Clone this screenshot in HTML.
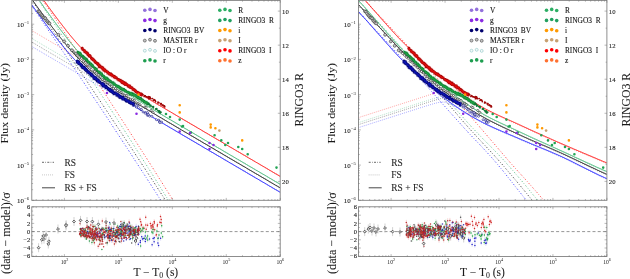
<!DOCTYPE html>
<html><head><meta charset="utf-8"><style>
html,body{margin:0;padding:0;background:#fff;width:630px;height:279px;overflow:hidden;font-family:"Liberation Serif",serif;}
svg{display:block;will-change:transform}
</style></head><body>
<svg width="630" height="279" viewBox="0 0 630 279">
<rect width="630" height="279" fill="#fff"/>
<defs><clipPath id="cm"><rect x="31.8" y="0.4" width="248.4" height="199.9"/></clipPath><clipPath id="cm2"><rect x="358.5" y="0.4" width="248.4" height="199.9"/></clipPath><clipPath id="cr"><rect x="31.8" y="206.8" width="248.4" height="49.7"/></clipPath><clipPath id="cr2"><rect x="358.5" y="206.8" width="248.4" height="49.7"/></clipPath></defs>
<g clip-path="url(#cm)"><polyline points="31.8,30.6 32.3,30.9 32.8,31.2 33.3,31.5 33.8,31.7 34.3,32.0 34.8,32.3 35.3,32.6 35.8,32.9 36.3,33.2 36.8,33.5 37.3,33.8 37.8,34.1 38.3,34.4 38.8,34.7 39.3,35.0 39.8,35.3 40.3,35.5 40.8,35.8 41.3,36.1 41.8,36.4 42.3,36.7 42.8,37.0 43.2,37.3 43.7,37.6 44.2,37.9 44.7,38.2 45.2,38.5 45.7,38.8 46.2,39.1 46.7,39.3 47.2,39.6 47.7,39.9 48.2,40.2 48.7,40.5 49.2,40.8 49.7,41.1 50.2,41.4 50.7,41.7 51.2,42.0 51.7,42.3 52.2,42.6 52.7,42.8 53.2,43.1 53.7,43.4 54.2,43.7 54.7,44.0 55.2,44.3 55.7,44.6 56.2,44.9 56.7,45.2 57.2,45.5 57.7,45.8 58.2,46.1 58.7,46.4 59.2,46.6 59.7,46.9 60.2,47.2 60.7,47.5 61.2,47.8 61.7,48.1 62.2,48.4 62.7,48.7 63.2,49.0 63.7,49.3 64.2,49.6 64.7,49.9 65.2,50.2 65.7,50.4 66.1,50.7 66.6,51.0 67.1,51.3 67.6,51.6 68.1,51.9 68.6,52.2 69.1,52.5 69.6,52.8 70.1,53.1 70.6,53.4 71.1,53.7 71.6,54.0 72.1,54.2 72.6,54.5 73.1,54.8 73.6,55.1 74.1,55.4 74.6,55.7 75.1,56.0 75.6,56.3 76.1,56.6 76.6,56.9 77.1,57.2 77.6,57.5 78.1,57.8 78.6,58.0 79.1,58.3 79.6,58.6 80.1,58.9 80.6,59.2 81.1,59.5 81.6,59.8 82.1,60.1 82.6,60.4 83.1,60.7 83.6,61.0 84.1,61.3 84.6,61.5 85.1,61.8 85.6,62.1 86.1,62.4 86.6,62.7 87.1,63.0 87.6,63.3 88.1,63.6 88.5,63.9 89.0,64.2 89.5,64.5 90.0,64.8 90.5,65.1 91.0,65.3 91.5,65.6 92.0,65.9 92.5,66.2 93.0,66.5 93.5,66.8 94.0,67.1 94.5,67.4 95.0,67.7 95.5,68.0 96.0,68.3 96.5,68.6 97.0,68.9 97.5,69.1 98.0,69.4 98.5,69.7 99.0,70.0 99.5,70.3 100.0,70.6 100.5,70.9 101.0,71.2 101.5,71.5 102.0,71.8 102.5,72.1 103.0,72.4 103.5,72.7 104.0,72.9 104.5,73.2 105.0,73.5 105.5,73.8 106.0,74.1 106.5,74.4 107.0,74.7 107.5,75.0 108.0,75.3 108.5,75.6 109.0,75.9 109.5,76.2 110.0,76.5 110.5,76.7 110.9,77.0 111.4,77.3 111.9,77.6 112.4,77.9 112.9,78.2 113.4,78.5 113.9,78.8 114.4,79.1 114.9,79.4 115.4,79.7 115.9,80.0 116.4,80.3 116.9,80.5 117.4,80.8 117.9,81.1 118.4,81.4 118.9,81.7 119.4,82.0 119.9,82.3 120.4,82.6 120.9,82.9 121.4,83.2 121.9,83.5 122.4,83.8 122.9,84.0 123.4,84.3 123.9,84.6 124.4,84.9 124.9,85.2 125.4,85.5 125.9,85.8 126.4,86.1 126.9,86.4 127.4,86.7 127.9,87.0 128.4,87.3 128.9,87.6 129.4,87.8 129.9,88.1 130.4,88.4 130.9,88.7 131.4,89.0 131.9,89.3 132.4,89.6 132.9,89.9 133.4,90.2 133.8,90.5 134.3,90.8 134.8,91.1 135.3,91.4 135.8,91.6 136.3,91.9 136.8,92.2 137.3,92.5 137.8,92.8 138.3,93.1 138.8,93.4 139.3,93.7 139.8,94.0 140.3,94.3 140.8,94.6 141.3,94.9 141.8,95.2 142.3,95.4 142.8,95.7 143.3,96.0 143.8,96.3 144.3,96.6 144.8,96.9 145.3,97.2 145.8,97.5 146.3,97.8 146.8,98.1 147.3,98.4 147.8,98.7 148.3,99.0 148.8,99.2 149.3,99.5 149.8,99.8 150.3,100.1 150.8,100.4 151.3,100.7 151.8,101.0 152.3,101.3 152.8,101.6 153.3,101.9 153.8,102.2 154.3,102.5 154.8,102.8 155.3,103.0 155.8,103.3 156.2,103.6 156.7,103.9 157.2,104.2 157.7,104.5 158.2,104.8 158.7,105.1 159.2,105.4 159.7,105.7 160.2,106.0 160.7,106.3 161.2,106.5 161.7,106.8 162.2,107.1 162.7,107.4 163.2,107.7 163.7,108.0 164.2,108.3 164.7,108.6 165.2,108.9 165.7,109.2 166.2,109.5 166.7,109.8 167.2,110.1 167.7,110.3 168.2,110.6 168.7,110.9 169.2,111.2 169.7,111.5 170.2,111.8 170.7,112.1 171.2,112.4 171.7,112.7 172.2,113.0 172.7,113.3 173.2,113.6 173.7,113.9 174.2,114.1 174.7,114.4 175.2,114.7 175.7,115.0 176.2,115.3 176.7,115.6 177.2,115.9 177.7,116.2 178.2,116.5 178.6,116.8 179.1,117.1 179.6,117.4 180.1,117.7 180.6,117.9 181.1,118.2 181.6,118.5 182.1,118.8 182.6,119.1 183.1,119.4 183.6,119.7 184.1,120.0 184.6,120.3 185.1,120.6 185.6,120.9 186.1,121.2 186.6,121.5 187.1,121.7 187.6,122.0 188.1,122.3 188.6,122.6 189.1,122.9 189.6,123.2 190.1,123.5 190.6,123.8 191.1,124.1 191.6,124.4 192.1,124.7 192.6,125.0 193.1,125.3 193.6,125.5 194.1,125.8 194.6,126.1 195.1,126.4 195.6,126.7 196.1,127.0 196.6,127.3 197.1,127.6 197.6,127.9 198.1,128.2 198.6,128.5 199.1,128.8 199.6,129.0 200.1,129.3 200.6,129.6 201.1,129.9 201.5,130.2 202.0,130.5 202.5,130.8 203.0,131.1 203.5,131.4 204.0,131.7 204.5,132.0 205.0,132.3 205.5,132.6 206.0,132.8 206.5,133.1 207.0,133.4 207.5,133.7 208.0,134.0 208.5,134.3 209.0,134.6 209.5,134.9 210.0,135.2 210.5,135.5 211.0,135.8 211.5,136.1 212.0,136.4 212.5,136.6 213.0,136.9 213.5,137.2 214.0,137.5 214.5,137.8 215.0,138.1 215.5,138.4 216.0,138.7 216.5,139.0 217.0,139.3 217.5,139.6 218.0,139.9 218.5,140.2 219.0,140.4 219.5,140.7 220.0,141.0 220.5,141.3 221.0,141.6 221.5,141.9 222.0,142.2 222.5,142.5 223.0,142.8 223.5,143.1 223.9,143.4 224.4,143.7 224.9,144.0 225.4,144.2 225.9,144.5 226.4,144.8 226.9,145.1 227.4,145.4 227.9,145.7 228.4,146.0 228.9,146.3 229.4,146.6 229.9,146.9 230.4,147.2 230.9,147.5 231.4,147.8 231.9,148.0 232.4,148.3 232.9,148.6 233.4,148.9 233.9,149.2 234.4,149.5 234.9,149.8 235.4,150.1 235.9,150.4 236.4,150.7 236.9,151.0 237.4,151.3 237.9,151.5 238.4,151.8 238.9,152.1 239.4,152.4 239.9,152.7 240.4,153.0 240.9,153.3 241.4,153.6 241.9,153.9 242.4,154.2 242.9,154.5 243.4,154.8 243.9,155.1 244.4,155.3 244.9,155.6 245.4,155.9 245.9,156.2 246.3,156.5 246.8,156.8 247.3,157.1 247.8,157.4 248.3,157.7 248.8,158.0 249.3,158.3 249.8,158.6 250.3,158.9 250.8,159.1 251.3,159.4 251.8,159.7 252.3,160.0 252.8,160.3 253.3,160.6 253.8,160.9 254.3,161.2 254.8,161.5 255.3,161.8 255.8,162.1 256.3,162.4 256.8,162.7 257.3,162.9 257.8,163.2 258.3,163.5 258.8,163.8 259.3,164.1 259.8,164.4 260.3,164.7 260.8,165.0 261.3,165.3 261.8,165.6 262.3,165.9 262.8,166.2 263.3,166.5 263.8,166.7 264.3,167.0 264.8,167.3 265.3,167.6 265.8,167.9 266.3,168.2 266.8,168.5 267.3,168.8 267.8,169.1 268.3,169.4 268.8,169.7 269.2,170.0 269.7,170.3 270.2,170.5 270.7,170.8 271.2,171.1 271.7,171.4 272.2,171.7 272.7,172.0 273.2,172.3 273.7,172.6 274.2,172.9 274.7,173.2 275.2,173.5 275.7,173.8 276.2,174.0 276.7,174.3 277.2,174.6 277.7,174.9 278.2,175.2 278.7,175.5 279.2,175.8 279.7,176.1 280.2,176.4" fill="none" stroke="#ff1010" stroke-width="0.8" stroke-dasharray="0.8 1.3" opacity="0.6"/>
<polyline points="31.8,-15.9 32.3,-15.2 32.8,-14.5 33.3,-13.7 33.8,-13.0 34.3,-12.3 34.8,-11.5 35.3,-10.8 35.8,-10.1 36.3,-9.4 36.8,-8.6 37.3,-7.9 37.8,-7.2 38.3,-6.4 38.8,-5.7 39.3,-5.0 39.8,-4.2 40.3,-3.5 40.8,-2.8 41.3,-2.0 41.8,-1.3 42.3,-0.6 42.8,0.2 43.2,0.9 43.7,1.6 44.2,2.4 44.7,3.1 45.2,3.8 45.7,4.6 46.2,5.3 46.7,6.0 47.2,6.8 47.7,7.5 48.2,8.2 48.7,9.0 49.2,9.7 49.7,10.5 50.2,11.2 50.7,11.9 51.2,12.7 51.7,13.4 52.2,14.1 52.7,14.9 53.2,15.6 53.7,16.4 54.2,17.1 54.7,17.8 55.2,18.6 55.7,19.3 56.2,20.1 56.7,20.8 57.2,21.5 57.7,22.3 58.2,23.0 58.7,23.8 59.2,24.5 59.7,25.2 60.2,26.0 60.7,26.7 61.2,27.5 61.7,28.2 62.2,29.0 62.7,29.7 63.2,30.4 63.7,31.2 64.2,31.9 64.7,32.7 65.2,33.4 65.7,34.2 66.1,34.9 66.6,35.7 67.1,36.4 67.6,37.1 68.1,37.9 68.6,38.6 69.1,39.4 69.6,40.1 70.1,40.9 70.6,41.6 71.1,42.4 71.6,43.1 72.1,43.9 72.6,44.6 73.1,45.4 73.6,46.1 74.1,46.9 74.6,47.6 75.1,48.3 75.6,49.1 76.1,49.8 76.6,50.6 77.1,51.3 77.6,52.1 78.1,52.8 78.6,53.6 79.1,54.3 79.6,55.1 80.1,55.8 80.6,56.6 81.1,57.4 81.6,58.1 82.1,58.9 82.6,59.6 83.1,60.4 83.6,61.1 84.1,61.9 84.6,62.6 85.1,63.4 85.6,64.1 86.1,64.9 86.6,65.6 87.1,66.4 87.6,67.1 88.1,67.9 88.5,68.7 89.0,69.4 89.5,70.2 90.0,70.9 90.5,71.7 91.0,72.4 91.5,73.2 92.0,73.9 92.5,74.7 93.0,75.5 93.5,76.2 94.0,77.0 94.5,77.7 95.0,78.5 95.5,79.3 96.0,80.0 96.5,80.8 97.0,81.5 97.5,82.3 98.0,83.0 98.5,83.8 99.0,84.6 99.5,85.3 100.0,86.1 100.5,86.8 101.0,87.6 101.5,88.4 102.0,89.1 102.5,89.9 103.0,90.7 103.5,91.4 104.0,92.2 104.5,92.9 105.0,93.7 105.5,94.5 106.0,95.2 106.5,96.0 107.0,96.8 107.5,97.5 108.0,98.3 108.5,99.1 109.0,99.8 109.5,100.6 110.0,101.3 110.5,102.1 110.9,102.9 111.4,103.6 111.9,104.4 112.4,105.2 112.9,105.9 113.4,106.7 113.9,107.5 114.4,108.2 114.9,109.0 115.4,109.8 115.9,110.6 116.4,111.3 116.9,112.1 117.4,112.9 117.9,113.6 118.4,114.4 118.9,115.2 119.4,115.9 119.9,116.7 120.4,117.5 120.9,118.2 121.4,119.0 121.9,119.8 122.4,120.6 122.9,121.3 123.4,122.1 123.9,122.9 124.4,123.6 124.9,124.4 125.4,125.2 125.9,126.0 126.4,126.7 126.9,127.5 127.4,128.3 127.9,129.1 128.4,129.8 128.9,130.6 129.4,131.4 129.9,132.2 130.4,132.9 130.9,133.7 131.4,134.5 131.9,135.3 132.4,136.0 132.9,136.8 133.4,137.6 133.8,138.4 134.3,139.1 134.8,139.9 135.3,140.7 135.8,141.5 136.3,142.2 136.8,143.0 137.3,143.8 137.8,144.6 138.3,145.4 138.8,146.1 139.3,146.9 139.8,147.7 140.3,148.5 140.8,149.3 141.3,150.0 141.8,150.8 142.3,151.6 142.8,152.4 143.3,153.2 143.8,153.9 144.3,154.7 144.8,155.5 145.3,156.3 145.8,157.1 146.3,157.9 146.8,158.6 147.3,159.4 147.8,160.2 148.3,161.0 148.8,161.8 149.3,162.6 149.8,163.3 150.3,164.1 150.8,164.9 151.3,165.7 151.8,166.5 152.3,167.3 152.8,168.0 153.3,168.8 153.8,169.6 154.3,170.4 154.8,171.2 155.3,172.0 155.8,172.8 156.2,173.5 156.7,174.3 157.2,175.1 157.7,175.9 158.2,176.7 158.7,177.5 159.2,178.3 159.7,179.1 160.2,179.9 160.7,180.6 161.2,181.4 161.7,182.2 162.2,183.0 162.7,183.8 163.2,184.6 163.7,185.4 164.2,186.2 164.7,187.0 165.2,187.8 165.7,188.6 166.2,189.3 166.7,190.1 167.2,190.9 167.7,191.7 168.2,192.5 168.7,193.3 169.2,194.1 169.7,194.9 170.2,195.7 170.7,196.5 171.2,197.3 171.7,198.1 172.2,198.9 172.7,199.7 173.2,200.5 173.7,201.2 174.2,202.0 174.7,202.8 175.2,203.6 175.7,204.4 176.2,205.2 176.7,206.0 177.2,206.8 177.7,207.6 178.2,208.4 178.6,209.2 179.1,210.0 179.6,210.8 180.1,211.6 180.6,212.4 181.1,213.2 181.6,214.0 182.1,214.8 182.6,215.6 183.1,216.4 183.6,217.2 184.1,218.0 184.6,218.8 185.1,219.6 185.6,220.4 186.1,221.2 186.6,222.0 187.1,222.8 187.6,223.6 188.1,224.4 188.6,225.2 189.1,226.0 189.6,226.8 190.1,227.6 190.6,228.4 191.1,229.2 191.6,230.0 192.1,230.8 192.6,231.7 193.1,232.5 193.6,233.3 194.1,234.1 194.6,234.9 195.1,235.7 195.6,236.5 196.1,237.3 196.6,238.1 197.1,238.9 197.6,239.7 198.1,240.5 198.6,241.3 199.1,242.1 199.6,242.9 200.1,243.7 200.6,244.6 201.1,245.4 201.5,246.2 202.0,247.0 202.5,247.8 203.0,248.6 203.5,249.4 204.0,250.2 204.5,251.0 205.0,251.8 205.5,252.6 206.0,253.5 206.5,254.3 207.0,255.1 207.5,255.9 208.0,256.7 208.5,257.5 209.0,258.3 209.5,259.1 210.0,260.0 210.5,260.8 211.0,261.6 211.5,262.4 212.0,263.2 212.5,264.0 213.0,264.8 213.5,265.6 214.0,266.5 214.5,267.3 215.0,268.1 215.5,268.9 216.0,269.7 216.5,270.5 217.0,271.4 217.5,272.2 218.0,273.0 218.5,273.8 219.0,274.6 219.5,275.4 220.0,276.3 220.5,277.1 221.0,277.9 221.5,278.7 222.0,279.5 222.5,280.3 223.0,281.2 223.5,282.0 223.9,282.8 224.4,283.6 224.9,284.4 225.4,285.3 225.9,286.1 226.4,286.9 226.9,287.7 227.4,288.5 227.9,289.4 228.4,290.2 228.9,291.0 229.4,291.8 229.9,292.6 230.4,293.5 230.9,294.3 231.4,295.1 231.9,295.9 232.4,296.8 232.9,297.6 233.4,298.4 233.9,299.2 234.4,300.1 234.9,300.9 235.4,301.7 235.9,302.5 236.4,303.4 236.9,304.2 237.4,305.0 237.9,305.8 238.4,306.7 238.9,307.5 239.4,308.3 239.9,309.1 240.4,310.0 240.9,310.8 241.4,311.6 241.9,312.4 242.4,313.3 242.9,314.1 243.4,314.9 243.9,315.8 244.4,316.6 244.9,317.4 245.4,318.3 245.9,319.1 246.3,319.9 246.8,320.7 247.3,321.6 247.8,322.4 248.3,323.2 248.8,324.1 249.3,324.9 249.8,325.7 250.3,326.6 250.8,327.4 251.3,328.2 251.8,329.1 252.3,329.9 252.8,330.7 253.3,331.6 253.8,332.4 254.3,333.2 254.8,334.1 255.3,334.9 255.8,335.7 256.3,336.6 256.8,337.4 257.3,338.2 257.8,339.1 258.3,339.9 258.8,340.7 259.3,341.6 259.8,342.4 260.3,343.2 260.8,344.1 261.3,344.9 261.8,345.8 262.3,346.6 262.8,347.4 263.3,348.3 263.8,349.1 264.3,349.9 264.8,350.8 265.3,351.6 265.8,352.5 266.3,353.3 266.8,354.1 267.3,355.0 267.8,355.8 268.3,356.7 268.8,357.5 269.2,358.3 269.7,359.2 270.2,360.0 270.7,360.9 271.2,361.7 271.7,362.5 272.2,363.4 272.7,364.2 273.2,365.1 273.7,365.9 274.2,366.8 274.7,367.6 275.2,368.4 275.7,369.3 276.2,370.1 276.7,371.0 277.2,371.8 277.7,372.7 278.2,373.5 278.7,374.4 279.2,375.2 279.7,376.0 280.2,376.9" fill="none" stroke="#ff1010" stroke-width="0.95" stroke-dasharray="1.3 1.9 0.7 1.9" opacity="0.85"/>
<polyline points="31.8,38.5 32.3,38.8 32.8,39.1 33.3,39.4 33.8,39.6 34.3,39.9 34.8,40.2 35.3,40.5 35.8,40.8 36.3,41.1 36.8,41.4 37.3,41.7 37.8,42.0 38.3,42.3 38.8,42.6 39.3,42.9 39.8,43.2 40.3,43.4 40.8,43.7 41.3,44.0 41.8,44.3 42.3,44.6 42.8,44.9 43.2,45.2 43.7,45.5 44.2,45.8 44.7,46.1 45.2,46.4 45.7,46.7 46.2,47.0 46.7,47.2 47.2,47.5 47.7,47.8 48.2,48.1 48.7,48.4 49.2,48.7 49.7,49.0 50.2,49.3 50.7,49.6 51.2,49.9 51.7,50.2 52.2,50.5 52.7,50.7 53.2,51.0 53.7,51.3 54.2,51.6 54.7,51.9 55.2,52.2 55.7,52.5 56.2,52.8 56.7,53.1 57.2,53.4 57.7,53.7 58.2,54.0 58.7,54.3 59.2,54.5 59.7,54.8 60.2,55.1 60.7,55.4 61.2,55.7 61.7,56.0 62.2,56.3 62.7,56.6 63.2,56.9 63.7,57.2 64.2,57.5 64.7,57.8 65.2,58.1 65.7,58.3 66.1,58.6 66.6,58.9 67.1,59.2 67.6,59.5 68.1,59.8 68.6,60.1 69.1,60.4 69.6,60.7 70.1,61.0 70.6,61.3 71.1,61.6 71.6,61.9 72.1,62.1 72.6,62.4 73.1,62.7 73.6,63.0 74.1,63.3 74.6,63.6 75.1,63.9 75.6,64.2 76.1,64.5 76.6,64.8 77.1,65.1 77.6,65.4 78.1,65.7 78.6,65.9 79.1,66.2 79.6,66.5 80.1,66.8 80.6,67.1 81.1,67.4 81.6,67.7 82.1,68.0 82.6,68.3 83.1,68.6 83.6,68.9 84.1,69.2 84.6,69.4 85.1,69.7 85.6,70.0 86.1,70.3 86.6,70.6 87.1,70.9 87.6,71.2 88.1,71.5 88.5,71.8 89.0,72.1 89.5,72.4 90.0,72.7 90.5,73.0 91.0,73.2 91.5,73.5 92.0,73.8 92.5,74.1 93.0,74.4 93.5,74.7 94.0,75.0 94.5,75.3 95.0,75.6 95.5,75.9 96.0,76.2 96.5,76.5 97.0,76.8 97.5,77.0 98.0,77.3 98.5,77.6 99.0,77.9 99.5,78.2 100.0,78.5 100.5,78.8 101.0,79.1 101.5,79.4 102.0,79.7 102.5,80.0 103.0,80.3 103.5,80.6 104.0,80.8 104.5,81.1 105.0,81.4 105.5,81.7 106.0,82.0 106.5,82.3 107.0,82.6 107.5,82.9 108.0,83.2 108.5,83.5 109.0,83.8 109.5,84.1 110.0,84.4 110.5,84.6 110.9,84.9 111.4,85.2 111.9,85.5 112.4,85.8 112.9,86.1 113.4,86.4 113.9,86.7 114.4,87.0 114.9,87.3 115.4,87.6 115.9,87.9 116.4,88.2 116.9,88.4 117.4,88.7 117.9,89.0 118.4,89.3 118.9,89.6 119.4,89.9 119.9,90.2 120.4,90.5 120.9,90.8 121.4,91.1 121.9,91.4 122.4,91.7 122.9,91.9 123.4,92.2 123.9,92.5 124.4,92.8 124.9,93.1 125.4,93.4 125.9,93.7 126.4,94.0 126.9,94.3 127.4,94.6 127.9,94.9 128.4,95.2 128.9,95.5 129.4,95.7 129.9,96.0 130.4,96.3 130.9,96.6 131.4,96.9 131.9,97.2 132.4,97.5 132.9,97.8 133.4,98.1 133.8,98.4 134.3,98.7 134.8,99.0 135.3,99.3 135.8,99.5 136.3,99.8 136.8,100.1 137.3,100.4 137.8,100.7 138.3,101.0 138.8,101.3 139.3,101.6 139.8,101.9 140.3,102.2 140.8,102.5 141.3,102.8 141.8,103.1 142.3,103.3 142.8,103.6 143.3,103.9 143.8,104.2 144.3,104.5 144.8,104.8 145.3,105.1 145.8,105.4 146.3,105.7 146.8,106.0 147.3,106.3 147.8,106.6 148.3,106.9 148.8,107.1 149.3,107.4 149.8,107.7 150.3,108.0 150.8,108.3 151.3,108.6 151.8,108.9 152.3,109.2 152.8,109.5 153.3,109.8 153.8,110.1 154.3,110.4 154.8,110.7 155.3,110.9 155.8,111.2 156.2,111.5 156.7,111.8 157.2,112.1 157.7,112.4 158.2,112.7 158.7,113.0 159.2,113.3 159.7,113.6 160.2,113.9 160.7,114.2 161.2,114.4 161.7,114.7 162.2,115.0 162.7,115.3 163.2,115.6 163.7,115.9 164.2,116.2 164.7,116.5 165.2,116.8 165.7,117.1 166.2,117.4 166.7,117.7 167.2,118.0 167.7,118.2 168.2,118.5 168.7,118.8 169.2,119.1 169.7,119.4 170.2,119.7 170.7,120.0 171.2,120.3 171.7,120.6 172.2,120.9 172.7,121.2 173.2,121.5 173.7,121.8 174.2,122.0 174.7,122.3 175.2,122.6 175.7,122.9 176.2,123.2 176.7,123.5 177.2,123.8 177.7,124.1 178.2,124.4 178.6,124.7 179.1,125.0 179.6,125.3 180.1,125.6 180.6,125.8 181.1,126.1 181.6,126.4 182.1,126.7 182.6,127.0 183.1,127.3 183.6,127.6 184.1,127.9 184.6,128.2 185.1,128.5 185.6,128.8 186.1,129.1 186.6,129.4 187.1,129.6 187.6,129.9 188.1,130.2 188.6,130.5 189.1,130.8 189.6,131.1 190.1,131.4 190.6,131.7 191.1,132.0 191.6,132.3 192.1,132.6 192.6,132.9 193.1,133.2 193.6,133.4 194.1,133.7 194.6,134.0 195.1,134.3 195.6,134.6 196.1,134.9 196.6,135.2 197.1,135.5 197.6,135.8 198.1,136.1 198.6,136.4 199.1,136.7 199.6,136.9 200.1,137.2 200.6,137.5 201.1,137.8 201.5,138.1 202.0,138.4 202.5,138.7 203.0,139.0 203.5,139.3 204.0,139.6 204.5,139.9 205.0,140.2 205.5,140.5 206.0,140.7 206.5,141.0 207.0,141.3 207.5,141.6 208.0,141.9 208.5,142.2 209.0,142.5 209.5,142.8 210.0,143.1 210.5,143.4 211.0,143.7 211.5,144.0 212.0,144.3 212.5,144.5 213.0,144.8 213.5,145.1 214.0,145.4 214.5,145.7 215.0,146.0 215.5,146.3 216.0,146.6 216.5,146.9 217.0,147.2 217.5,147.5 218.0,147.8 218.5,148.1 219.0,148.3 219.5,148.6 220.0,148.9 220.5,149.2 221.0,149.5 221.5,149.8 222.0,150.1 222.5,150.4 223.0,150.7 223.5,151.0 223.9,151.3 224.4,151.6 224.9,151.9 225.4,152.1 225.9,152.4 226.4,152.7 226.9,153.0 227.4,153.3 227.9,153.6 228.4,153.9 228.9,154.2 229.4,154.5 229.9,154.8 230.4,155.1 230.9,155.4 231.4,155.7 231.9,155.9 232.4,156.2 232.9,156.5 233.4,156.8 233.9,157.1 234.4,157.4 234.9,157.7 235.4,158.0 235.9,158.3 236.4,158.6 236.9,158.9 237.4,159.2 237.9,159.4 238.4,159.7 238.9,160.0 239.4,160.3 239.9,160.6 240.4,160.9 240.9,161.2 241.4,161.5 241.9,161.8 242.4,162.1 242.9,162.4 243.4,162.7 243.9,163.0 244.4,163.2 244.9,163.5 245.4,163.8 245.9,164.1 246.3,164.4 246.8,164.7 247.3,165.0 247.8,165.3 248.3,165.6 248.8,165.9 249.3,166.2 249.8,166.5 250.3,166.8 250.8,167.0 251.3,167.3 251.8,167.6 252.3,167.9 252.8,168.2 253.3,168.5 253.8,168.8 254.3,169.1 254.8,169.4 255.3,169.7 255.8,170.0 256.3,170.3 256.8,170.6 257.3,170.8 257.8,171.1 258.3,171.4 258.8,171.7 259.3,172.0 259.8,172.3 260.3,172.6 260.8,172.9 261.3,173.2 261.8,173.5 262.3,173.8 262.8,174.1 263.3,174.4 263.8,174.6 264.3,174.9 264.8,175.2 265.3,175.5 265.8,175.8 266.3,176.1 266.8,176.4 267.3,176.7 267.8,177.0 268.3,177.3 268.8,177.6 269.2,177.9 269.7,178.2 270.2,178.4 270.7,178.7 271.2,179.0 271.7,179.3 272.2,179.6 272.7,179.9 273.2,180.2 273.7,180.5 274.2,180.8 274.7,181.1 275.2,181.4 275.7,181.7 276.2,181.9 276.7,182.2 277.2,182.5 277.7,182.8 278.2,183.1 278.7,183.4 279.2,183.7 279.7,184.0 280.2,184.3" fill="none" stroke="#3cb371" stroke-width="0.8" stroke-dasharray="0.8 1.3" opacity="0.6"/>
<polyline points="31.8,-9.5 32.3,-8.8 32.8,-8.0 33.3,-7.3 33.8,-6.6 34.3,-5.9 34.8,-5.1 35.3,-4.4 35.8,-3.7 36.3,-2.9 36.8,-2.2 37.3,-1.5 37.8,-0.7 38.3,-0.0 38.8,0.7 39.3,1.4 39.8,2.2 40.3,2.9 40.8,3.6 41.3,4.4 41.8,5.1 42.3,5.8 42.8,6.6 43.2,7.3 43.7,8.0 44.2,8.8 44.7,9.5 45.2,10.3 45.7,11.0 46.2,11.7 46.7,12.5 47.2,13.2 47.7,13.9 48.2,14.7 48.7,15.4 49.2,16.1 49.7,16.9 50.2,17.6 50.7,18.4 51.2,19.1 51.7,19.8 52.2,20.6 52.7,21.3 53.2,22.1 53.7,22.8 54.2,23.5 54.7,24.3 55.2,25.0 55.7,25.8 56.2,26.5 56.7,27.2 57.2,28.0 57.7,28.7 58.2,29.5 58.7,30.2 59.2,30.9 59.7,31.7 60.2,32.4 60.7,33.2 61.2,33.9 61.7,34.7 62.2,35.4 62.7,36.1 63.2,36.9 63.7,37.6 64.2,38.4 64.7,39.1 65.2,39.9 65.7,40.6 66.1,41.4 66.6,42.1 67.1,42.9 67.6,43.6 68.1,44.4 68.6,45.1 69.1,45.8 69.6,46.6 70.1,47.3 70.6,48.1 71.1,48.8 71.6,49.6 72.1,50.3 72.6,51.1 73.1,51.8 73.6,52.6 74.1,53.3 74.6,54.1 75.1,54.8 75.6,55.6 76.1,56.3 76.6,57.1 77.1,57.8 77.6,58.6 78.1,59.4 78.6,60.1 79.1,60.9 79.6,61.6 80.1,62.4 80.6,63.1 81.1,63.9 81.6,64.6 82.1,65.4 82.6,66.1 83.1,66.9 83.6,67.6 84.1,68.4 84.6,69.2 85.1,69.9 85.6,70.7 86.1,71.4 86.6,72.2 87.1,72.9 87.6,73.7 88.1,74.5 88.5,75.2 89.0,76.0 89.5,76.7 90.0,77.5 90.5,78.2 91.0,79.0 91.5,79.8 92.0,80.5 92.5,81.3 93.0,82.0 93.5,82.8 94.0,83.6 94.5,84.3 95.0,85.1 95.5,85.9 96.0,86.6 96.5,87.4 97.0,88.1 97.5,88.9 98.0,89.7 98.5,90.4 99.0,91.2 99.5,92.0 100.0,92.7 100.5,93.5 101.0,94.2 101.5,95.0 102.0,95.8 102.5,96.5 103.0,97.3 103.5,98.1 104.0,98.8 104.5,99.6 105.0,100.4 105.5,101.1 106.0,101.9 106.5,102.7 107.0,103.4 107.5,104.2 108.0,105.0 108.5,105.7 109.0,106.5 109.5,107.3 110.0,108.1 110.5,108.8 110.9,109.6 111.4,110.4 111.9,111.1 112.4,111.9 112.9,112.7 113.4,113.4 113.9,114.2 114.4,115.0 114.9,115.8 115.4,116.5 115.9,117.3 116.4,118.1 116.9,118.8 117.4,119.6 117.9,120.4 118.4,121.2 118.9,121.9 119.4,122.7 119.9,123.5 120.4,124.3 120.9,125.0 121.4,125.8 121.9,126.6 122.4,127.4 122.9,128.1 123.4,128.9 123.9,129.7 124.4,130.5 124.9,131.2 125.4,132.0 125.9,132.8 126.4,133.6 126.9,134.4 127.4,135.1 127.9,135.9 128.4,136.7 128.9,137.5 129.4,138.3 129.9,139.0 130.4,139.8 130.9,140.6 131.4,141.4 131.9,142.2 132.4,142.9 132.9,143.7 133.4,144.5 133.8,145.3 134.3,146.1 134.8,146.8 135.3,147.6 135.8,148.4 136.3,149.2 136.8,150.0 137.3,150.8 137.8,151.5 138.3,152.3 138.8,153.1 139.3,153.9 139.8,154.7 140.3,155.5 140.8,156.3 141.3,157.0 141.8,157.8 142.3,158.6 142.8,159.4 143.3,160.2 143.8,161.0 144.3,161.8 144.8,162.5 145.3,163.3 145.8,164.1 146.3,164.9 146.8,165.7 147.3,166.5 147.8,167.3 148.3,168.1 148.8,168.9 149.3,169.6 149.8,170.4 150.3,171.2 150.8,172.0 151.3,172.8 151.8,173.6 152.3,174.4 152.8,175.2 153.3,176.0 153.8,176.8 154.3,177.6 154.8,178.3 155.3,179.1 155.8,179.9 156.2,180.7 156.7,181.5 157.2,182.3 157.7,183.1 158.2,183.9 158.7,184.7 159.2,185.5 159.7,186.3 160.2,187.1 160.7,187.9 161.2,188.7 161.7,189.5 162.2,190.3 162.7,191.1 163.2,191.9 163.7,192.7 164.2,193.5 164.7,194.3 165.2,195.1 165.7,195.9 166.2,196.7 166.7,197.5 167.2,198.3 167.7,199.1 168.2,199.9 168.7,200.7 169.2,201.5 169.7,202.3 170.2,203.1 170.7,203.9 171.2,204.7 171.7,205.5 172.2,206.3 172.7,207.1 173.2,207.9 173.7,208.7 174.2,209.5 174.7,210.3 175.2,211.1 175.7,211.9 176.2,212.7 176.7,213.5 177.2,214.3 177.7,215.1 178.2,215.9 178.6,216.7 179.1,217.5 179.6,218.3 180.1,219.1 180.6,219.9 181.1,220.7 181.6,221.5 182.1,222.4 182.6,223.2 183.1,224.0 183.6,224.8 184.1,225.6 184.6,226.4 185.1,227.2 185.6,228.0 186.1,228.8 186.6,229.6 187.1,230.4 187.6,231.3 188.1,232.1 188.6,232.9 189.1,233.7 189.6,234.5 190.1,235.3 190.6,236.1 191.1,236.9 191.6,237.7 192.1,238.6 192.6,239.4 193.1,240.2 193.6,241.0 194.1,241.8 194.6,242.6 195.1,243.4 195.6,244.2 196.1,245.1 196.6,245.9 197.1,246.7 197.6,247.5 198.1,248.3 198.6,249.1 199.1,250.0 199.6,250.8 200.1,251.6 200.6,252.4 201.1,253.2 201.5,254.0 202.0,254.9 202.5,255.7 203.0,256.5 203.5,257.3 204.0,258.1 204.5,258.9 205.0,259.8 205.5,260.6 206.0,261.4 206.5,262.2 207.0,263.0 207.5,263.9 208.0,264.7 208.5,265.5 209.0,266.3 209.5,267.2 210.0,268.0 210.5,268.8 211.0,269.6 211.5,270.4 212.0,271.3 212.5,272.1 213.0,272.9 213.5,273.7 214.0,274.6 214.5,275.4 215.0,276.2 215.5,277.0 216.0,277.9 216.5,278.7 217.0,279.5 217.5,280.3 218.0,281.2 218.5,282.0 219.0,282.8 219.5,283.6 220.0,284.5 220.5,285.3 221.0,286.1 221.5,286.9 222.0,287.8 222.5,288.6 223.0,289.4 223.5,290.3 223.9,291.1 224.4,291.9 224.9,292.7 225.4,293.6 225.9,294.4 226.4,295.2 226.9,296.1 227.4,296.9 227.9,297.7 228.4,298.6 228.9,299.4 229.4,300.2 229.9,301.1 230.4,301.9 230.9,302.7 231.4,303.6 231.9,304.4 232.4,305.2 232.9,306.1 233.4,306.9 233.9,307.7 234.4,308.6 234.9,309.4 235.4,310.2 235.9,311.1 236.4,311.9 236.9,312.7 237.4,313.6 237.9,314.4 238.4,315.2 238.9,316.1 239.4,316.9 239.9,317.8 240.4,318.6 240.9,319.4 241.4,320.3 241.9,321.1 242.4,322.0 242.9,322.8 243.4,323.6 243.9,324.5 244.4,325.3 244.9,326.2 245.4,327.0 245.9,327.8 246.3,328.7 246.8,329.5 247.3,330.4 247.8,331.2 248.3,332.0 248.8,332.9 249.3,333.7 249.8,334.6 250.3,335.4 250.8,336.3 251.3,337.1 251.8,337.9 252.3,338.8 252.8,339.6 253.3,340.5 253.8,341.3 254.3,342.2 254.8,343.0 255.3,343.9 255.8,344.7 256.3,345.5 256.8,346.4 257.3,347.2 257.8,348.1 258.3,348.9 258.8,349.8 259.3,350.6 259.8,351.5 260.3,352.3 260.8,353.2 261.3,354.0 261.8,354.9 262.3,355.7 262.8,356.6 263.3,357.4 263.8,358.3 264.3,359.1 264.8,360.0 265.3,360.8 265.8,361.7 266.3,362.5 266.8,363.4 267.3,364.2 267.8,365.1 268.3,365.9 268.8,366.8 269.2,367.6 269.7,368.5 270.2,369.3 270.7,370.2 271.2,371.1 271.7,371.9 272.2,372.8 272.7,373.6 273.2,374.5 273.7,375.3 274.2,376.2 274.7,377.0 275.2,377.9 275.7,378.8 276.2,379.6 276.7,380.5 277.2,381.3 277.7,382.2 278.2,383.0 278.7,383.9 279.2,384.8 279.7,385.6 280.2,386.5" fill="none" stroke="#3cb371" stroke-width="0.95" stroke-dasharray="1.3 1.9 0.7 1.9" opacity="0.85"/>
<polyline points="31.8,42.1 32.3,42.4 32.8,42.7 33.3,43.0 33.8,43.2 34.3,43.5 34.8,43.8 35.3,44.1 35.8,44.4 36.3,44.7 36.8,45.0 37.3,45.3 37.8,45.6 38.3,45.9 38.8,46.2 39.3,46.5 39.8,46.8 40.3,47.0 40.8,47.3 41.3,47.6 41.8,47.9 42.3,48.2 42.8,48.5 43.2,48.8 43.7,49.1 44.2,49.4 44.7,49.7 45.2,50.0 45.7,50.3 46.2,50.6 46.7,50.8 47.2,51.1 47.7,51.4 48.2,51.7 48.7,52.0 49.2,52.3 49.7,52.6 50.2,52.9 50.7,53.2 51.2,53.5 51.7,53.8 52.2,54.1 52.7,54.3 53.2,54.6 53.7,54.9 54.2,55.2 54.7,55.5 55.2,55.8 55.7,56.1 56.2,56.4 56.7,56.7 57.2,57.0 57.7,57.3 58.2,57.6 58.7,57.9 59.2,58.1 59.7,58.4 60.2,58.7 60.7,59.0 61.2,59.3 61.7,59.6 62.2,59.9 62.7,60.2 63.2,60.5 63.7,60.8 64.2,61.1 64.7,61.4 65.2,61.7 65.7,61.9 66.1,62.2 66.6,62.5 67.1,62.8 67.6,63.1 68.1,63.4 68.6,63.7 69.1,64.0 69.6,64.3 70.1,64.6 70.6,64.9 71.1,65.2 71.6,65.5 72.1,65.7 72.6,66.0 73.1,66.3 73.6,66.6 74.1,66.9 74.6,67.2 75.1,67.5 75.6,67.8 76.1,68.1 76.6,68.4 77.1,68.7 77.6,69.0 78.1,69.3 78.6,69.5 79.1,69.8 79.6,70.1 80.1,70.4 80.6,70.7 81.1,71.0 81.6,71.3 82.1,71.6 82.6,71.9 83.1,72.2 83.6,72.5 84.1,72.8 84.6,73.0 85.1,73.3 85.6,73.6 86.1,73.9 86.6,74.2 87.1,74.5 87.6,74.8 88.1,75.1 88.5,75.4 89.0,75.7 89.5,76.0 90.0,76.3 90.5,76.6 91.0,76.8 91.5,77.1 92.0,77.4 92.5,77.7 93.0,78.0 93.5,78.3 94.0,78.6 94.5,78.9 95.0,79.2 95.5,79.5 96.0,79.8 96.5,80.1 97.0,80.4 97.5,80.6 98.0,80.9 98.5,81.2 99.0,81.5 99.5,81.8 100.0,82.1 100.5,82.4 101.0,82.7 101.5,83.0 102.0,83.3 102.5,83.6 103.0,83.9 103.5,84.2 104.0,84.4 104.5,84.7 105.0,85.0 105.5,85.3 106.0,85.6 106.5,85.9 107.0,86.2 107.5,86.5 108.0,86.8 108.5,87.1 109.0,87.4 109.5,87.7 110.0,88.0 110.5,88.2 110.9,88.5 111.4,88.8 111.9,89.1 112.4,89.4 112.9,89.7 113.4,90.0 113.9,90.3 114.4,90.6 114.9,90.9 115.4,91.2 115.9,91.5 116.4,91.8 116.9,92.0 117.4,92.3 117.9,92.6 118.4,92.9 118.9,93.2 119.4,93.5 119.9,93.8 120.4,94.1 120.9,94.4 121.4,94.7 121.9,95.0 122.4,95.3 122.9,95.5 123.4,95.8 123.9,96.1 124.4,96.4 124.9,96.7 125.4,97.0 125.9,97.3 126.4,97.6 126.9,97.9 127.4,98.2 127.9,98.5 128.4,98.8 128.9,99.1 129.4,99.3 129.9,99.6 130.4,99.9 130.9,100.2 131.4,100.5 131.9,100.8 132.4,101.1 132.9,101.4 133.4,101.7 133.8,102.0 134.3,102.3 134.8,102.6 135.3,102.9 135.8,103.1 136.3,103.4 136.8,103.7 137.3,104.0 137.8,104.3 138.3,104.6 138.8,104.9 139.3,105.2 139.8,105.5 140.3,105.8 140.8,106.1 141.3,106.4 141.8,106.7 142.3,106.9 142.8,107.2 143.3,107.5 143.8,107.8 144.3,108.1 144.8,108.4 145.3,108.7 145.8,109.0 146.3,109.3 146.8,109.6 147.3,109.9 147.8,110.2 148.3,110.5 148.8,110.7 149.3,111.0 149.8,111.3 150.3,111.6 150.8,111.9 151.3,112.2 151.8,112.5 152.3,112.8 152.8,113.1 153.3,113.4 153.8,113.7 154.3,114.0 154.8,114.3 155.3,114.5 155.8,114.8 156.2,115.1 156.7,115.4 157.2,115.7 157.7,116.0 158.2,116.3 158.7,116.6 159.2,116.9 159.7,117.2 160.2,117.5 160.7,117.8 161.2,118.0 161.7,118.3 162.2,118.6 162.7,118.9 163.2,119.2 163.7,119.5 164.2,119.8 164.7,120.1 165.2,120.4 165.7,120.7 166.2,121.0 166.7,121.3 167.2,121.6 167.7,121.8 168.2,122.1 168.7,122.4 169.2,122.7 169.7,123.0 170.2,123.3 170.7,123.6 171.2,123.9 171.7,124.2 172.2,124.5 172.7,124.8 173.2,125.1 173.7,125.4 174.2,125.6 174.7,125.9 175.2,126.2 175.7,126.5 176.2,126.8 176.7,127.1 177.2,127.4 177.7,127.7 178.2,128.0 178.6,128.3 179.1,128.6 179.6,128.9 180.1,129.2 180.6,129.4 181.1,129.7 181.6,130.0 182.1,130.3 182.6,130.6 183.1,130.9 183.6,131.2 184.1,131.5 184.6,131.8 185.1,132.1 185.6,132.4 186.1,132.7 186.6,133.0 187.1,133.2 187.6,133.5 188.1,133.8 188.6,134.1 189.1,134.4 189.6,134.7 190.1,135.0 190.6,135.3 191.1,135.6 191.6,135.9 192.1,136.2 192.6,136.5 193.1,136.8 193.6,137.0 194.1,137.3 194.6,137.6 195.1,137.9 195.6,138.2 196.1,138.5 196.6,138.8 197.1,139.1 197.6,139.4 198.1,139.7 198.6,140.0 199.1,140.3 199.6,140.5 200.1,140.8 200.6,141.1 201.1,141.4 201.5,141.7 202.0,142.0 202.5,142.3 203.0,142.6 203.5,142.9 204.0,143.2 204.5,143.5 205.0,143.8 205.5,144.1 206.0,144.3 206.5,144.6 207.0,144.9 207.5,145.2 208.0,145.5 208.5,145.8 209.0,146.1 209.5,146.4 210.0,146.7 210.5,147.0 211.0,147.3 211.5,147.6 212.0,147.9 212.5,148.1 213.0,148.4 213.5,148.7 214.0,149.0 214.5,149.3 215.0,149.6 215.5,149.9 216.0,150.2 216.5,150.5 217.0,150.8 217.5,151.1 218.0,151.4 218.5,151.7 219.0,151.9 219.5,152.2 220.0,152.5 220.5,152.8 221.0,153.1 221.5,153.4 222.0,153.7 222.5,154.0 223.0,154.3 223.5,154.6 223.9,154.9 224.4,155.2 224.9,155.5 225.4,155.7 225.9,156.0 226.4,156.3 226.9,156.6 227.4,156.9 227.9,157.2 228.4,157.5 228.9,157.8 229.4,158.1 229.9,158.4 230.4,158.7 230.9,159.0 231.4,159.3 231.9,159.5 232.4,159.8 232.9,160.1 233.4,160.4 233.9,160.7 234.4,161.0 234.9,161.3 235.4,161.6 235.9,161.9 236.4,162.2 236.9,162.5 237.4,162.8 237.9,163.0 238.4,163.3 238.9,163.6 239.4,163.9 239.9,164.2 240.4,164.5 240.9,164.8 241.4,165.1 241.9,165.4 242.4,165.7 242.9,166.0 243.4,166.3 243.9,166.6 244.4,166.8 244.9,167.1 245.4,167.4 245.9,167.7 246.3,168.0 246.8,168.3 247.3,168.6 247.8,168.9 248.3,169.2 248.8,169.5 249.3,169.8 249.8,170.1 250.3,170.4 250.8,170.6 251.3,170.9 251.8,171.2 252.3,171.5 252.8,171.8 253.3,172.1 253.8,172.4 254.3,172.7 254.8,173.0 255.3,173.3 255.8,173.6 256.3,173.9 256.8,174.2 257.3,174.4 257.8,174.7 258.3,175.0 258.8,175.3 259.3,175.6 259.8,175.9 260.3,176.2 260.8,176.5 261.3,176.8 261.8,177.1 262.3,177.4 262.8,177.7 263.3,178.0 263.8,178.2 264.3,178.5 264.8,178.8 265.3,179.1 265.8,179.4 266.3,179.7 266.8,180.0 267.3,180.3 267.8,180.6 268.3,180.9 268.8,181.2 269.2,181.5 269.7,181.8 270.2,182.0 270.7,182.3 271.2,182.6 271.7,182.9 272.2,183.2 272.7,183.5 273.2,183.8 273.7,184.1 274.2,184.4 274.7,184.7 275.2,185.0 275.7,185.3 276.2,185.5 276.7,185.8 277.2,186.1 277.7,186.4 278.2,186.7 278.7,187.0 279.2,187.3 279.7,187.6 280.2,187.9" fill="none" stroke="#111111" stroke-width="0.8" stroke-dasharray="0.8 1.3" opacity="0.6"/>
<polyline points="31.8,0.2 32.3,0.9 32.8,1.6 33.3,2.4 33.8,3.1 34.3,3.8 34.8,4.5 35.3,5.3 35.8,6.0 36.3,6.7 36.8,7.4 37.3,8.2 37.8,8.9 38.3,9.6 38.8,10.3 39.3,11.1 39.8,11.8 40.3,12.5 40.8,13.2 41.3,14.0 41.8,14.7 42.3,15.4 42.8,16.1 43.2,16.9 43.7,17.6 44.2,18.3 44.7,19.1 45.2,19.8 45.7,20.5 46.2,21.2 46.7,22.0 47.2,22.7 47.7,23.4 48.2,24.2 48.7,24.9 49.2,25.6 49.7,26.3 50.2,27.1 50.7,27.8 51.2,28.5 51.7,29.3 52.2,30.0 52.7,30.7 53.2,31.5 53.7,32.2 54.2,32.9 54.7,33.6 55.2,34.4 55.7,35.1 56.2,35.8 56.7,36.6 57.2,37.3 57.7,38.0 58.2,38.8 58.7,39.5 59.2,40.2 59.7,41.0 60.2,41.7 60.7,42.4 61.2,43.2 61.7,43.9 62.2,44.6 62.7,45.4 63.2,46.1 63.7,46.8 64.2,47.6 64.7,48.3 65.2,49.0 65.7,49.8 66.1,50.5 66.6,51.2 67.1,52.0 67.6,52.7 68.1,53.4 68.6,54.2 69.1,54.9 69.6,55.7 70.1,56.4 70.6,57.1 71.1,57.9 71.6,58.6 72.1,59.3 72.6,60.1 73.1,60.8 73.6,61.5 74.1,62.3 74.6,63.0 75.1,63.8 75.6,64.5 76.1,65.2 76.6,66.0 77.1,66.7 77.6,67.4 78.1,68.2 78.6,68.9 79.1,69.7 79.6,70.4 80.1,71.1 80.6,71.9 81.1,72.6 81.6,73.4 82.1,74.1 82.6,74.8 83.1,75.6 83.6,76.3 84.1,77.1 84.6,77.8 85.1,78.5 85.6,79.3 86.1,80.0 86.6,80.8 87.1,81.5 87.6,82.2 88.1,83.0 88.5,83.7 89.0,84.5 89.5,85.2 90.0,86.0 90.5,86.7 91.0,87.4 91.5,88.2 92.0,88.9 92.5,89.7 93.0,90.4 93.5,91.2 94.0,91.9 94.5,92.6 95.0,93.4 95.5,94.1 96.0,94.9 96.5,95.6 97.0,96.4 97.5,97.1 98.0,97.9 98.5,98.6 99.0,99.3 99.5,100.1 100.0,100.8 100.5,101.6 101.0,102.3 101.5,103.1 102.0,103.8 102.5,104.6 103.0,105.3 103.5,106.1 104.0,106.8 104.5,107.5 105.0,108.3 105.5,109.0 106.0,109.8 106.5,110.5 107.0,111.3 107.5,112.0 108.0,112.8 108.5,113.5 109.0,114.3 109.5,115.0 110.0,115.8 110.5,116.5 110.9,117.3 111.4,118.0 111.9,118.8 112.4,119.5 112.9,120.3 113.4,121.0 113.9,121.8 114.4,122.5 114.9,123.3 115.4,124.0 115.9,124.8 116.4,125.5 116.9,126.3 117.4,127.0 117.9,127.8 118.4,128.5 118.9,129.3 119.4,130.0 119.9,130.8 120.4,131.5 120.9,132.3 121.4,133.0 121.9,133.8 122.4,134.5 122.9,135.3 123.4,136.0 123.9,136.8 124.4,137.5 124.9,138.3 125.4,139.0 125.9,139.8 126.4,140.6 126.9,141.3 127.4,142.1 127.9,142.8 128.4,143.6 128.9,144.3 129.4,145.1 129.9,145.8 130.4,146.6 130.9,147.3 131.4,148.1 131.9,148.9 132.4,149.6 132.9,150.4 133.4,151.1 133.8,151.9 134.3,152.6 134.8,153.4 135.3,154.1 135.8,154.9 136.3,155.7 136.8,156.4 137.3,157.2 137.8,157.9 138.3,158.7 138.8,159.4 139.3,160.2 139.8,161.0 140.3,161.7 140.8,162.5 141.3,163.2 141.8,164.0 142.3,164.8 142.8,165.5 143.3,166.3 143.8,167.0 144.3,167.8 144.8,168.5 145.3,169.3 145.8,170.1 146.3,170.8 146.8,171.6 147.3,172.3 147.8,173.1 148.3,173.9 148.8,174.6 149.3,175.4 149.8,176.2 150.3,176.9 150.8,177.7 151.3,178.4 151.8,179.2 152.3,180.0 152.8,180.7 153.3,181.5 153.8,182.2 154.3,183.0 154.8,183.8 155.3,184.5 155.8,185.3 156.2,186.1 156.7,186.8 157.2,187.6 157.7,188.3 158.2,189.1 158.7,189.9 159.2,190.6 159.7,191.4 160.2,192.2 160.7,192.9 161.2,193.7 161.7,194.5 162.2,195.2 162.7,196.0 163.2,196.8 163.7,197.5 164.2,198.3 164.7,199.1 165.2,199.8 165.7,200.6 166.2,201.4 166.7,202.1 167.2,202.9 167.7,203.7 168.2,204.4 168.7,205.2 169.2,206.0 169.7,206.7 170.2,207.5 170.7,208.3 171.2,209.0 171.7,209.8 172.2,210.6 172.7,211.3 173.2,212.1 173.7,212.9 174.2,213.6 174.7,214.4 175.2,215.2 175.7,215.9 176.2,216.7 176.7,217.5 177.2,218.2 177.7,219.0 178.2,219.8 178.6,220.6 179.1,221.3 179.6,222.1 180.1,222.9 180.6,223.6 181.1,224.4 181.6,225.2 182.1,225.9 182.6,226.7 183.1,227.5 183.6,228.3 184.1,229.0 184.6,229.8 185.1,230.6 185.6,231.4 186.1,232.1 186.6,232.9 187.1,233.7 187.6,234.4 188.1,235.2 188.6,236.0 189.1,236.8 189.6,237.5 190.1,238.3 190.6,239.1 191.1,239.9 191.6,240.6 192.1,241.4 192.6,242.2 193.1,243.0 193.6,243.7 194.1,244.5 194.6,245.3 195.1,246.1 195.6,246.8 196.1,247.6 196.6,248.4 197.1,249.2 197.6,249.9 198.1,250.7 198.6,251.5 199.1,252.3 199.6,253.0 200.1,253.8 200.6,254.6 201.1,255.4 201.5,256.1 202.0,256.9 202.5,257.7 203.0,258.5 203.5,259.3 204.0,260.0 204.5,260.8 205.0,261.6 205.5,262.4 206.0,263.1 206.5,263.9 207.0,264.7 207.5,265.5 208.0,266.3 208.5,267.0 209.0,267.8 209.5,268.6 210.0,269.4 210.5,270.2 211.0,270.9 211.5,271.7 212.0,272.5 212.5,273.3 213.0,274.1 213.5,274.8 214.0,275.6 214.5,276.4 215.0,277.2 215.5,278.0 216.0,278.8 216.5,279.5 217.0,280.3 217.5,281.1 218.0,281.9 218.5,282.7 219.0,283.4 219.5,284.2 220.0,285.0 220.5,285.8 221.0,286.6 221.5,287.4 222.0,288.1 222.5,288.9 223.0,289.7 223.5,290.5 223.9,291.3 224.4,292.1 224.9,292.9 225.4,293.6 225.9,294.4 226.4,295.2 226.9,296.0 227.4,296.8 227.9,297.6 228.4,298.3 228.9,299.1 229.4,299.9 229.9,300.7 230.4,301.5 230.9,302.3 231.4,303.1 231.9,303.9 232.4,304.6 232.9,305.4 233.4,306.2 233.9,307.0 234.4,307.8 234.9,308.6 235.4,309.4 235.9,310.2 236.4,310.9 236.9,311.7 237.4,312.5 237.9,313.3 238.4,314.1 238.9,314.9 239.4,315.7 239.9,316.5 240.4,317.3 240.9,318.0 241.4,318.8 241.9,319.6 242.4,320.4 242.9,321.2 243.4,322.0 243.9,322.8 244.4,323.6 244.9,324.4 245.4,325.2 245.9,325.9 246.3,326.7 246.8,327.5 247.3,328.3 247.8,329.1 248.3,329.9 248.8,330.7 249.3,331.5 249.8,332.3 250.3,333.1 250.8,333.9 251.3,334.7 251.8,335.5 252.3,336.2 252.8,337.0 253.3,337.8 253.8,338.6 254.3,339.4 254.8,340.2 255.3,341.0 255.8,341.8 256.3,342.6 256.8,343.4 257.3,344.2 257.8,345.0 258.3,345.8 258.8,346.6 259.3,347.4 259.8,348.2 260.3,349.0 260.8,349.8 261.3,350.6 261.8,351.3 262.3,352.1 262.8,352.9 263.3,353.7 263.8,354.5 264.3,355.3 264.8,356.1 265.3,356.9 265.8,357.7 266.3,358.5 266.8,359.3 267.3,360.1 267.8,360.9 268.3,361.7 268.8,362.5 269.2,363.3 269.7,364.1 270.2,364.9 270.7,365.7 271.2,366.5 271.7,367.3 272.2,368.1 272.7,368.9 273.2,369.7 273.7,370.5 274.2,371.3 274.7,372.1 275.2,372.9 275.7,373.7 276.2,374.5 276.7,375.3 277.2,376.1 277.7,376.9 278.2,377.7 278.7,378.5 279.2,379.3 279.7,380.1 280.2,380.9" fill="none" stroke="#111111" stroke-width="0.95" stroke-dasharray="1.3 1.9 0.7 1.9" opacity="0.85"/>
<polyline points="31.8,46.5 32.3,46.8 32.8,47.1 33.3,47.4 33.8,47.6 34.3,47.9 34.8,48.2 35.3,48.5 35.8,48.8 36.3,49.1 36.8,49.4 37.3,49.7 37.8,50.0 38.3,50.3 38.8,50.6 39.3,50.9 39.8,51.2 40.3,51.4 40.8,51.7 41.3,52.0 41.8,52.3 42.3,52.6 42.8,52.9 43.2,53.2 43.7,53.5 44.2,53.8 44.7,54.1 45.2,54.4 45.7,54.7 46.2,55.0 46.7,55.2 47.2,55.5 47.7,55.8 48.2,56.1 48.7,56.4 49.2,56.7 49.7,57.0 50.2,57.3 50.7,57.6 51.2,57.9 51.7,58.2 52.2,58.5 52.7,58.7 53.2,59.0 53.7,59.3 54.2,59.6 54.7,59.9 55.2,60.2 55.7,60.5 56.2,60.8 56.7,61.1 57.2,61.4 57.7,61.7 58.2,62.0 58.7,62.3 59.2,62.5 59.7,62.8 60.2,63.1 60.7,63.4 61.2,63.7 61.7,64.0 62.2,64.3 62.7,64.6 63.2,64.9 63.7,65.2 64.2,65.5 64.7,65.8 65.2,66.1 65.7,66.3 66.1,66.6 66.6,66.9 67.1,67.2 67.6,67.5 68.1,67.8 68.6,68.1 69.1,68.4 69.6,68.7 70.1,69.0 70.6,69.3 71.1,69.6 71.6,69.9 72.1,70.1 72.6,70.4 73.1,70.7 73.6,71.0 74.1,71.3 74.6,71.6 75.1,71.9 75.6,72.2 76.1,72.5 76.6,72.8 77.1,73.1 77.6,73.4 78.1,73.7 78.6,73.9 79.1,74.2 79.6,74.5 80.1,74.8 80.6,75.1 81.1,75.4 81.6,75.7 82.1,76.0 82.6,76.3 83.1,76.6 83.6,76.9 84.1,77.2 84.6,77.4 85.1,77.7 85.6,78.0 86.1,78.3 86.6,78.6 87.1,78.9 87.6,79.2 88.1,79.5 88.5,79.8 89.0,80.1 89.5,80.4 90.0,80.7 90.5,81.0 91.0,81.2 91.5,81.5 92.0,81.8 92.5,82.1 93.0,82.4 93.5,82.7 94.0,83.0 94.5,83.3 95.0,83.6 95.5,83.9 96.0,84.2 96.5,84.5 97.0,84.8 97.5,85.0 98.0,85.3 98.5,85.6 99.0,85.9 99.5,86.2 100.0,86.5 100.5,86.8 101.0,87.1 101.5,87.4 102.0,87.7 102.5,88.0 103.0,88.3 103.5,88.6 104.0,88.8 104.5,89.1 105.0,89.4 105.5,89.7 106.0,90.0 106.5,90.3 107.0,90.6 107.5,90.9 108.0,91.2 108.5,91.5 109.0,91.8 109.5,92.1 110.0,92.4 110.5,92.6 110.9,92.9 111.4,93.2 111.9,93.5 112.4,93.8 112.9,94.1 113.4,94.4 113.9,94.7 114.4,95.0 114.9,95.3 115.4,95.6 115.9,95.9 116.4,96.2 116.9,96.4 117.4,96.7 117.9,97.0 118.4,97.3 118.9,97.6 119.4,97.9 119.9,98.2 120.4,98.5 120.9,98.8 121.4,99.1 121.9,99.4 122.4,99.7 122.9,99.9 123.4,100.2 123.9,100.5 124.4,100.8 124.9,101.1 125.4,101.4 125.9,101.7 126.4,102.0 126.9,102.3 127.4,102.6 127.9,102.9 128.4,103.2 128.9,103.5 129.4,103.7 129.9,104.0 130.4,104.3 130.9,104.6 131.4,104.9 131.9,105.2 132.4,105.5 132.9,105.8 133.4,106.1 133.8,106.4 134.3,106.7 134.8,107.0 135.3,107.3 135.8,107.5 136.3,107.8 136.8,108.1 137.3,108.4 137.8,108.7 138.3,109.0 138.8,109.3 139.3,109.6 139.8,109.9 140.3,110.2 140.8,110.5 141.3,110.8 141.8,111.1 142.3,111.3 142.8,111.6 143.3,111.9 143.8,112.2 144.3,112.5 144.8,112.8 145.3,113.1 145.8,113.4 146.3,113.7 146.8,114.0 147.3,114.3 147.8,114.6 148.3,114.9 148.8,115.1 149.3,115.4 149.8,115.7 150.3,116.0 150.8,116.3 151.3,116.6 151.8,116.9 152.3,117.2 152.8,117.5 153.3,117.8 153.8,118.1 154.3,118.4 154.8,118.7 155.3,118.9 155.8,119.2 156.2,119.5 156.7,119.8 157.2,120.1 157.7,120.4 158.2,120.7 158.7,121.0 159.2,121.3 159.7,121.6 160.2,121.9 160.7,122.2 161.2,122.4 161.7,122.7 162.2,123.0 162.7,123.3 163.2,123.6 163.7,123.9 164.2,124.2 164.7,124.5 165.2,124.8 165.7,125.1 166.2,125.4 166.7,125.7 167.2,126.0 167.7,126.2 168.2,126.5 168.7,126.8 169.2,127.1 169.7,127.4 170.2,127.7 170.7,128.0 171.2,128.3 171.7,128.6 172.2,128.9 172.7,129.2 173.2,129.5 173.7,129.8 174.2,130.0 174.7,130.3 175.2,130.6 175.7,130.9 176.2,131.2 176.7,131.5 177.2,131.8 177.7,132.1 178.2,132.4 178.6,132.7 179.1,133.0 179.6,133.3 180.1,133.6 180.6,133.8 181.1,134.1 181.6,134.4 182.1,134.7 182.6,135.0 183.1,135.3 183.6,135.6 184.1,135.9 184.6,136.2 185.1,136.5 185.6,136.8 186.1,137.1 186.6,137.4 187.1,137.6 187.6,137.9 188.1,138.2 188.6,138.5 189.1,138.8 189.6,139.1 190.1,139.4 190.6,139.7 191.1,140.0 191.6,140.3 192.1,140.6 192.6,140.9 193.1,141.2 193.6,141.4 194.1,141.7 194.6,142.0 195.1,142.3 195.6,142.6 196.1,142.9 196.6,143.2 197.1,143.5 197.6,143.8 198.1,144.1 198.6,144.4 199.1,144.7 199.6,144.9 200.1,145.2 200.6,145.5 201.1,145.8 201.5,146.1 202.0,146.4 202.5,146.7 203.0,147.0 203.5,147.3 204.0,147.6 204.5,147.9 205.0,148.2 205.5,148.5 206.0,148.7 206.5,149.0 207.0,149.3 207.5,149.6 208.0,149.9 208.5,150.2 209.0,150.5 209.5,150.8 210.0,151.1 210.5,151.4 211.0,151.7 211.5,152.0 212.0,152.3 212.5,152.5 213.0,152.8 213.5,153.1 214.0,153.4 214.5,153.7 215.0,154.0 215.5,154.3 216.0,154.6 216.5,154.9 217.0,155.2 217.5,155.5 218.0,155.8 218.5,156.1 219.0,156.3 219.5,156.6 220.0,156.9 220.5,157.2 221.0,157.5 221.5,157.8 222.0,158.1 222.5,158.4 223.0,158.7 223.5,159.0 223.9,159.3 224.4,159.6 224.9,159.9 225.4,160.1 225.9,160.4 226.4,160.7 226.9,161.0 227.4,161.3 227.9,161.6 228.4,161.9 228.9,162.2 229.4,162.5 229.9,162.8 230.4,163.1 230.9,163.4 231.4,163.7 231.9,163.9 232.4,164.2 232.9,164.5 233.4,164.8 233.9,165.1 234.4,165.4 234.9,165.7 235.4,166.0 235.9,166.3 236.4,166.6 236.9,166.9 237.4,167.2 237.9,167.4 238.4,167.7 238.9,168.0 239.4,168.3 239.9,168.6 240.4,168.9 240.9,169.2 241.4,169.5 241.9,169.8 242.4,170.1 242.9,170.4 243.4,170.7 243.9,171.0 244.4,171.2 244.9,171.5 245.4,171.8 245.9,172.1 246.3,172.4 246.8,172.7 247.3,173.0 247.8,173.3 248.3,173.6 248.8,173.9 249.3,174.2 249.8,174.5 250.3,174.8 250.8,175.0 251.3,175.3 251.8,175.6 252.3,175.9 252.8,176.2 253.3,176.5 253.8,176.8 254.3,177.1 254.8,177.4 255.3,177.7 255.8,178.0 256.3,178.3 256.8,178.6 257.3,178.8 257.8,179.1 258.3,179.4 258.8,179.7 259.3,180.0 259.8,180.3 260.3,180.6 260.8,180.9 261.3,181.2 261.8,181.5 262.3,181.8 262.8,182.1 263.3,182.4 263.8,182.6 264.3,182.9 264.8,183.2 265.3,183.5 265.8,183.8 266.3,184.1 266.8,184.4 267.3,184.7 267.8,185.0 268.3,185.3 268.8,185.6 269.2,185.9 269.7,186.2 270.2,186.4 270.7,186.7 271.2,187.0 271.7,187.3 272.2,187.6 272.7,187.9 273.2,188.2 273.7,188.5 274.2,188.8 274.7,189.1 275.2,189.4 275.7,189.7 276.2,189.9 276.7,190.2 277.2,190.5 277.7,190.8 278.2,191.1 278.7,191.4 279.2,191.7 279.7,192.0 280.2,192.3" fill="none" stroke="#1a1aff" stroke-width="0.8" stroke-dasharray="0.8 1.3" opacity="0.6"/>
<polyline points="31.8,5.9 32.3,6.7 32.8,7.4 33.3,8.1 33.8,8.8 34.3,9.5 34.8,10.3 35.3,11.0 35.8,11.7 36.3,12.4 36.8,13.2 37.3,13.9 37.8,14.6 38.3,15.4 38.8,16.1 39.3,16.8 39.8,17.5 40.3,18.3 40.8,19.0 41.3,19.7 41.8,20.4 42.3,21.2 42.8,21.9 43.2,22.6 43.7,23.4 44.2,24.1 44.7,24.8 45.2,25.5 45.7,26.3 46.2,27.0 46.7,27.7 47.2,28.5 47.7,29.2 48.2,29.9 48.7,30.7 49.2,31.4 49.7,32.1 50.2,32.8 50.7,33.6 51.2,34.3 51.7,35.0 52.2,35.8 52.7,36.5 53.2,37.2 53.7,38.0 54.2,38.7 54.7,39.4 55.2,40.2 55.7,40.9 56.2,41.6 56.7,42.4 57.2,43.1 57.7,43.8 58.2,44.6 58.7,45.3 59.2,46.0 59.7,46.8 60.2,47.5 60.7,48.2 61.2,49.0 61.7,49.7 62.2,50.5 62.7,51.2 63.2,51.9 63.7,52.7 64.2,53.4 64.7,54.1 65.2,54.9 65.7,55.6 66.1,56.3 66.6,57.1 67.1,57.8 67.6,58.6 68.1,59.3 68.6,60.0 69.1,60.8 69.6,61.5 70.1,62.3 70.6,63.0 71.1,63.7 71.6,64.5 72.1,65.2 72.6,66.0 73.1,66.7 73.6,67.4 74.1,68.2 74.6,68.9 75.1,69.7 75.6,70.4 76.1,71.1 76.6,71.9 77.1,72.6 77.6,73.4 78.1,74.1 78.6,74.9 79.1,75.6 79.6,76.3 80.1,77.1 80.6,77.8 81.1,78.6 81.6,79.3 82.1,80.1 82.6,80.8 83.1,81.5 83.6,82.3 84.1,83.0 84.6,83.8 85.1,84.5 85.6,85.3 86.1,86.0 86.6,86.8 87.1,87.5 87.6,88.3 88.1,89.0 88.5,89.7 89.0,90.5 89.5,91.2 90.0,92.0 90.5,92.7 91.0,93.5 91.5,94.2 92.0,95.0 92.5,95.7 93.0,96.5 93.5,97.2 94.0,98.0 94.5,98.7 95.0,99.5 95.5,100.2 96.0,101.0 96.5,101.7 97.0,102.5 97.5,103.2 98.0,104.0 98.5,104.7 99.0,105.5 99.5,106.2 100.0,107.0 100.5,107.7 101.0,108.5 101.5,109.2 102.0,110.0 102.5,110.7 103.0,111.5 103.5,112.2 104.0,113.0 104.5,113.8 105.0,114.5 105.5,115.3 106.0,116.0 106.5,116.8 107.0,117.5 107.5,118.3 108.0,119.0 108.5,119.8 109.0,120.5 109.5,121.3 110.0,122.1 110.5,122.8 110.9,123.6 111.4,124.3 111.9,125.1 112.4,125.8 112.9,126.6 113.4,127.3 113.9,128.1 114.4,128.9 114.9,129.6 115.4,130.4 115.9,131.1 116.4,131.9 116.9,132.6 117.4,133.4 117.9,134.2 118.4,134.9 118.9,135.7 119.4,136.4 119.9,137.2 120.4,138.0 120.9,138.7 121.4,139.5 121.9,140.2 122.4,141.0 122.9,141.8 123.4,142.5 123.9,143.3 124.4,144.0 124.9,144.8 125.4,145.6 125.9,146.3 126.4,147.1 126.9,147.9 127.4,148.6 127.9,149.4 128.4,150.1 128.9,150.9 129.4,151.7 129.9,152.4 130.4,153.2 130.9,154.0 131.4,154.7 131.9,155.5 132.4,156.3 132.9,157.0 133.4,157.8 133.8,158.6 134.3,159.3 134.8,160.1 135.3,160.8 135.8,161.6 136.3,162.4 136.8,163.1 137.3,163.9 137.8,164.7 138.3,165.4 138.8,166.2 139.3,167.0 139.8,167.8 140.3,168.5 140.8,169.3 141.3,170.1 141.8,170.8 142.3,171.6 142.8,172.4 143.3,173.1 143.8,173.9 144.3,174.7 144.8,175.4 145.3,176.2 145.8,177.0 146.3,177.7 146.8,178.5 147.3,179.3 147.8,180.1 148.3,180.8 148.8,181.6 149.3,182.4 149.8,183.1 150.3,183.9 150.8,184.7 151.3,185.5 151.8,186.2 152.3,187.0 152.8,187.8 153.3,188.6 153.8,189.3 154.3,190.1 154.8,190.9 155.3,191.6 155.8,192.4 156.2,193.2 156.7,194.0 157.2,194.7 157.7,195.5 158.2,196.3 158.7,197.1 159.2,197.8 159.7,198.6 160.2,199.4 160.7,200.2 161.2,201.0 161.7,201.7 162.2,202.5 162.7,203.3 163.2,204.1 163.7,204.8 164.2,205.6 164.7,206.4 165.2,207.2 165.7,208.0 166.2,208.7 166.7,209.5 167.2,210.3 167.7,211.1 168.2,211.8 168.7,212.6 169.2,213.4 169.7,214.2 170.2,215.0 170.7,215.7 171.2,216.5 171.7,217.3 172.2,218.1 172.7,218.9 173.2,219.6 173.7,220.4 174.2,221.2 174.7,222.0 175.2,222.8 175.7,223.6 176.2,224.3 176.7,225.1 177.2,225.9 177.7,226.7 178.2,227.5 178.6,228.3 179.1,229.0 179.6,229.8 180.1,230.6 180.6,231.4 181.1,232.2 181.6,233.0 182.1,233.7 182.6,234.5 183.1,235.3 183.6,236.1 184.1,236.9 184.6,237.7 185.1,238.5 185.6,239.2 186.1,240.0 186.6,240.8 187.1,241.6 187.6,242.4 188.1,243.2 188.6,244.0 189.1,244.8 189.6,245.5 190.1,246.3 190.6,247.1 191.1,247.9 191.6,248.7 192.1,249.5 192.6,250.3 193.1,251.1 193.6,251.9 194.1,252.6 194.6,253.4 195.1,254.2 195.6,255.0 196.1,255.8 196.6,256.6 197.1,257.4 197.6,258.2 198.1,259.0 198.6,259.8 199.1,260.6 199.6,261.3 200.1,262.1 200.6,262.9 201.1,263.7 201.5,264.5 202.0,265.3 202.5,266.1 203.0,266.9 203.5,267.7 204.0,268.5 204.5,269.3 205.0,270.1 205.5,270.9 206.0,271.7 206.5,272.5 207.0,273.3 207.5,274.0 208.0,274.8 208.5,275.6 209.0,276.4 209.5,277.2 210.0,278.0 210.5,278.8 211.0,279.6 211.5,280.4 212.0,281.2 212.5,282.0 213.0,282.8 213.5,283.6 214.0,284.4 214.5,285.2 215.0,286.0 215.5,286.8 216.0,287.6 216.5,288.4 217.0,289.2 217.5,290.0 218.0,290.8 218.5,291.6 219.0,292.4 219.5,293.2 220.0,294.0 220.5,294.8 221.0,295.6 221.5,296.4 222.0,297.2 222.5,298.0 223.0,298.8 223.5,299.6 223.9,300.4 224.4,301.2 224.9,302.0 225.4,302.8 225.9,303.6 226.4,304.4 226.9,305.2 227.4,306.0 227.9,306.8 228.4,307.6 228.9,308.4 229.4,309.2 229.9,310.0 230.4,310.9 230.9,311.7 231.4,312.5 231.9,313.3 232.4,314.1 232.9,314.9 233.4,315.7 233.9,316.5 234.4,317.3 234.9,318.1 235.4,318.9 235.9,319.7 236.4,320.5 236.9,321.3 237.4,322.1 237.9,322.9 238.4,323.8 238.9,324.6 239.4,325.4 239.9,326.2 240.4,327.0 240.9,327.8 241.4,328.6 241.9,329.4 242.4,330.2 242.9,331.0 243.4,331.8 243.9,332.7 244.4,333.5 244.9,334.3 245.4,335.1 245.9,335.9 246.3,336.7 246.8,337.5 247.3,338.3 247.8,339.1 248.3,340.0 248.8,340.8 249.3,341.6 249.8,342.4 250.3,343.2 250.8,344.0 251.3,344.8 251.8,345.6 252.3,346.5 252.8,347.3 253.3,348.1 253.8,348.9 254.3,349.7 254.8,350.5 255.3,351.3 255.8,352.2 256.3,353.0 256.8,353.8 257.3,354.6 257.8,355.4 258.3,356.2 258.8,357.1 259.3,357.9 259.8,358.7 260.3,359.5 260.8,360.3 261.3,361.1 261.8,362.0 262.3,362.8 262.8,363.6 263.3,364.4 263.8,365.2 264.3,366.0 264.8,366.9 265.3,367.7 265.8,368.5 266.3,369.3 266.8,370.1 267.3,371.0 267.8,371.8 268.3,372.6 268.8,373.4 269.2,374.2 269.7,375.1 270.2,375.9 270.7,376.7 271.2,377.5 271.7,378.3 272.2,379.2 272.7,380.0 273.2,380.8 273.7,381.6 274.2,382.5 274.7,383.3 275.2,384.1 275.7,384.9 276.2,385.7 276.7,386.6 277.2,387.4 277.7,388.2 278.2,389.0 278.7,389.9 279.2,390.7 279.7,391.5 280.2,392.3" fill="none" stroke="#1a1aff" stroke-width="0.95" stroke-dasharray="1.3 1.9 0.7 1.9" opacity="0.85"/>
<polyline points="31.8,-16.6 32.3,-15.9 32.8,-15.2 33.3,-14.5 33.8,-13.8 34.3,-13.1 34.8,-12.4 35.3,-11.7 35.8,-11.0 36.3,-10.3 36.8,-9.6 37.3,-8.9 37.8,-8.2 38.3,-7.5 38.8,-6.8 39.3,-6.0 39.8,-5.3 40.3,-4.6 40.8,-3.9 41.3,-3.2 41.8,-2.5 42.3,-1.8 42.8,-1.2 43.2,-0.5 43.7,0.2 44.2,0.9 44.7,1.6 45.2,2.3 45.7,3.0 46.2,3.7 46.7,4.4 47.2,5.1 47.7,5.8 48.2,6.5 48.7,7.2 49.2,7.8 49.7,8.5 50.2,9.2 50.7,9.9 51.2,10.6 51.7,11.2 52.2,11.9 52.7,12.6 53.2,13.3 53.7,14.0 54.2,14.6 54.7,15.3 55.2,16.0 55.7,16.6 56.2,17.3 56.7,18.0 57.2,18.6 57.7,19.3 58.2,20.0 58.7,20.6 59.2,21.3 59.7,21.9 60.2,22.6 60.7,23.2 61.2,23.9 61.7,24.5 62.2,25.2 62.7,25.8 63.2,26.5 63.7,27.1 64.2,27.7 64.7,28.4 65.2,29.0 65.7,29.6 66.1,30.3 66.6,30.9 67.1,31.5 67.6,32.1 68.1,32.7 68.6,33.4 69.1,34.0 69.6,34.6 70.1,35.2 70.6,35.8 71.1,36.4 71.6,37.0 72.1,37.6 72.6,38.2 73.1,38.8 73.6,39.4 74.1,39.9 74.6,40.5 75.1,41.1 75.6,41.7 76.1,42.2 76.6,42.8 77.1,43.4 77.6,43.9 78.1,44.5 78.6,45.1 79.1,45.6 79.6,46.2 80.1,46.7 80.6,47.2 81.1,47.8 81.6,48.3 82.1,48.9 82.6,49.4 83.1,49.9 83.6,50.4 84.1,51.0 84.6,51.5 85.1,52.0 85.6,52.5 86.1,53.0 86.6,53.5 87.1,54.0 87.6,54.5 88.1,55.0 88.5,55.5 89.0,56.0 89.5,56.5 90.0,56.9 90.5,57.4 91.0,57.9 91.5,58.4 92.0,58.8 92.5,59.3 93.0,59.7 93.5,60.2 94.0,60.7 94.5,61.1 95.0,61.6 95.5,62.0 96.0,62.4 96.5,62.9 97.0,63.3 97.5,63.7 98.0,64.2 98.5,64.6 99.0,65.0 99.5,65.4 100.0,65.9 100.5,66.3 101.0,66.7 101.5,67.1 102.0,67.5 102.5,67.9 103.0,68.3 103.5,68.7 104.0,69.1 104.5,69.5 105.0,69.9 105.5,70.3 106.0,70.7 106.5,71.1 107.0,71.5 107.5,71.8 108.0,72.2 108.5,72.6 109.0,73.0 109.5,73.3 110.0,73.7 110.5,74.1 110.9,74.4 111.4,74.8 111.9,75.2 112.4,75.5 112.9,75.9 113.4,76.3 113.9,76.6 114.4,77.0 114.9,77.3 115.4,77.7 115.9,78.0 116.4,78.4 116.9,78.7 117.4,79.1 117.9,79.4 118.4,79.7 118.9,80.1 119.4,80.4 119.9,80.8 120.4,81.1 120.9,81.4 121.4,81.8 121.9,82.1 122.4,82.4 122.9,82.8 123.4,83.1 123.9,83.4 124.4,83.8 124.9,84.1 125.4,84.4 125.9,84.7 126.4,85.1 126.9,85.4 127.4,85.7 127.9,86.0 128.4,86.3 128.9,86.7 129.4,87.0 129.9,87.3 130.4,87.6 130.9,87.9 131.4,88.3 131.9,88.6 132.4,88.9 132.9,89.2 133.4,89.5 133.8,89.8 134.3,90.1 134.8,90.4 135.3,90.8 135.8,91.1 136.3,91.4 136.8,91.7 137.3,92.0 137.8,92.3 138.3,92.6 138.8,92.9 139.3,93.2 139.8,93.5 140.3,93.8 140.8,94.1 141.3,94.5 141.8,94.8 142.3,95.1 142.8,95.4 143.3,95.7 143.8,96.0 144.3,96.3 144.8,96.6 145.3,96.9 145.8,97.2 146.3,97.5 146.8,97.8 147.3,98.1 147.8,98.4 148.3,98.7 148.8,99.0 149.3,99.3 149.8,99.6 150.3,99.9 150.8,100.2 151.3,100.5 151.8,100.8 152.3,101.1 152.8,101.4 153.3,101.7 153.8,102.0 154.3,102.3 154.8,102.6 155.3,102.9 155.8,103.2 156.2,103.5 156.7,103.8 157.2,104.1 157.7,104.4 158.2,104.7 158.7,105.0 159.2,105.3 159.7,105.5 160.2,105.8 160.7,106.1 161.2,106.4 161.7,106.7 162.2,107.0 162.7,107.3 163.2,107.6 163.7,107.9 164.2,108.2 164.7,108.5 165.2,108.8 165.7,109.1 166.2,109.4 166.7,109.7 167.2,110.0 167.7,110.3 168.2,110.6 168.7,110.9 169.2,111.2 169.7,111.5 170.2,111.7 170.7,112.0 171.2,112.3 171.7,112.6 172.2,112.9 172.7,113.2 173.2,113.5 173.7,113.8 174.2,114.1 174.7,114.4 175.2,114.7 175.7,115.0 176.2,115.3 176.7,115.6 177.2,115.9 177.7,116.2 178.2,116.4 178.6,116.7 179.1,117.0 179.6,117.3 180.1,117.6 180.6,117.9 181.1,118.2 181.6,118.5 182.1,118.8 182.6,119.1 183.1,119.4 183.6,119.7 184.1,120.0 184.6,120.3 185.1,120.6 185.6,120.8 186.1,121.1 186.6,121.4 187.1,121.7 187.6,122.0 188.1,122.3 188.6,122.6 189.1,122.9 189.6,123.2 190.1,123.5 190.6,123.8 191.1,124.1 191.6,124.4 192.1,124.7 192.6,124.9 193.1,125.2 193.6,125.5 194.1,125.8 194.6,126.1 195.1,126.4 195.6,126.7 196.1,127.0 196.6,127.3 197.1,127.6 197.6,127.9 198.1,128.2 198.6,128.5 199.1,128.7 199.6,129.0 200.1,129.3 200.6,129.6 201.1,129.9 201.5,130.2 202.0,130.5 202.5,130.8 203.0,131.1 203.5,131.4 204.0,131.7 204.5,132.0 205.0,132.3 205.5,132.6 206.0,132.8 206.5,133.1 207.0,133.4 207.5,133.7 208.0,134.0 208.5,134.3 209.0,134.6 209.5,134.9 210.0,135.2 210.5,135.5 211.0,135.8 211.5,136.1 212.0,136.4 212.5,136.6 213.0,136.9 213.5,137.2 214.0,137.5 214.5,137.8 215.0,138.1 215.5,138.4 216.0,138.7 216.5,139.0 217.0,139.3 217.5,139.6 218.0,139.9 218.5,140.2 219.0,140.4 219.5,140.7 220.0,141.0 220.5,141.3 221.0,141.6 221.5,141.9 222.0,142.2 222.5,142.5 223.0,142.8 223.5,143.1 223.9,143.4 224.4,143.7 224.9,144.0 225.4,144.2 225.9,144.5 226.4,144.8 226.9,145.1 227.4,145.4 227.9,145.7 228.4,146.0 228.9,146.3 229.4,146.6 229.9,146.9 230.4,147.2 230.9,147.5 231.4,147.7 231.9,148.0 232.4,148.3 232.9,148.6 233.4,148.9 233.9,149.2 234.4,149.5 234.9,149.8 235.4,150.1 235.9,150.4 236.4,150.7 236.9,151.0 237.4,151.3 237.9,151.5 238.4,151.8 238.9,152.1 239.4,152.4 239.9,152.7 240.4,153.0 240.9,153.3 241.4,153.6 241.9,153.9 242.4,154.2 242.9,154.5 243.4,154.8 243.9,155.1 244.4,155.3 244.9,155.6 245.4,155.9 245.9,156.2 246.3,156.5 246.8,156.8 247.3,157.1 247.8,157.4 248.3,157.7 248.8,158.0 249.3,158.3 249.8,158.6 250.3,158.9 250.8,159.1 251.3,159.4 251.8,159.7 252.3,160.0 252.8,160.3 253.3,160.6 253.8,160.9 254.3,161.2 254.8,161.5 255.3,161.8 255.8,162.1 256.3,162.4 256.8,162.7 257.3,162.9 257.8,163.2 258.3,163.5 258.8,163.8 259.3,164.1 259.8,164.4 260.3,164.7 260.8,165.0 261.3,165.3 261.8,165.6 262.3,165.9 262.8,166.2 263.3,166.5 263.8,166.7 264.3,167.0 264.8,167.3 265.3,167.6 265.8,167.9 266.3,168.2 266.8,168.5 267.3,168.8 267.8,169.1 268.3,169.4 268.8,169.7 269.2,170.0 269.7,170.3 270.2,170.5 270.7,170.8 271.2,171.1 271.7,171.4 272.2,171.7 272.7,172.0 273.2,172.3 273.7,172.6 274.2,172.9 274.7,173.2 275.2,173.5 275.7,173.8 276.2,174.0 276.7,174.3 277.2,174.6 277.7,174.9 278.2,175.2 278.7,175.5 279.2,175.8 279.7,176.1 280.2,176.4" fill="none" stroke="#ff1010" stroke-width="1.0"/>
<polyline points="31.8,-10.2 32.3,-9.4 32.8,-8.7 33.3,-8.0 33.8,-7.3 34.3,-6.6 34.8,-5.9 35.3,-5.2 35.8,-4.5 36.3,-3.8 36.8,-3.1 37.3,-2.4 37.8,-1.7 38.3,-0.9 38.8,-0.2 39.3,0.5 39.8,1.2 40.3,1.9 40.8,2.6 41.3,3.3 41.8,4.0 42.3,4.7 42.8,5.4 43.2,6.1 43.7,6.8 44.2,7.5 44.7,8.2 45.2,8.9 45.7,9.6 46.2,10.3 46.7,11.0 47.2,11.7 47.7,12.3 48.2,13.0 48.7,13.7 49.2,14.4 49.7,15.1 50.2,15.8 50.7,16.5 51.2,17.2 51.7,17.9 52.2,18.5 52.7,19.2 53.2,19.9 53.7,20.6 54.2,21.3 54.7,21.9 55.2,22.6 55.7,23.3 56.2,24.0 56.7,24.6 57.2,25.3 57.7,26.0 58.2,26.7 58.7,27.3 59.2,28.0 59.7,28.6 60.2,29.3 60.7,30.0 61.2,30.6 61.7,31.3 62.2,31.9 62.7,32.6 63.2,33.2 63.7,33.9 64.2,34.5 64.7,35.2 65.2,35.8 65.7,36.4 66.1,37.1 66.6,37.7 67.1,38.3 67.6,39.0 68.1,39.6 68.6,40.2 69.1,40.9 69.6,41.5 70.1,42.1 70.6,42.7 71.1,43.3 71.6,43.9 72.1,44.5 72.6,45.1 73.1,45.7 73.6,46.3 74.1,46.9 74.6,47.5 75.1,48.1 75.6,48.7 76.1,49.3 76.6,49.9 77.1,50.4 77.6,51.0 78.1,51.6 78.6,52.1 79.1,52.7 79.6,53.3 80.1,53.8 80.6,54.4 81.1,54.9 81.6,55.5 82.1,56.0 82.6,56.6 83.1,57.1 83.6,57.6 84.1,58.2 84.6,58.7 85.1,59.2 85.6,59.7 86.1,60.3 86.6,60.8 87.1,61.3 87.6,61.8 88.1,62.3 88.5,62.8 89.0,63.3 89.5,63.8 90.0,64.3 90.5,64.8 91.0,65.3 91.5,65.7 92.0,66.2 92.5,66.7 93.0,67.2 93.5,67.6 94.0,68.1 94.5,68.6 95.0,69.0 95.5,69.5 96.0,69.9 96.5,70.4 97.0,70.8 97.5,71.3 98.0,71.7 98.5,72.1 99.0,72.6 99.5,73.0 100.0,73.4 100.5,73.8 101.0,74.3 101.5,74.7 102.0,75.1 102.5,75.5 103.0,75.9 103.5,76.3 104.0,76.7 104.5,77.1 105.0,77.5 105.5,77.9 106.0,78.3 106.5,78.7 107.0,79.1 107.5,79.5 108.0,79.9 108.5,80.3 109.0,80.7 109.5,81.0 110.0,81.4 110.5,81.8 110.9,82.2 111.4,82.5 111.9,82.9 112.4,83.3 112.9,83.6 113.4,84.0 113.9,84.3 114.4,84.7 114.9,85.1 115.4,85.4 115.9,85.8 116.4,86.1 116.9,86.5 117.4,86.8 117.9,87.2 118.4,87.5 118.9,87.9 119.4,88.2 119.9,88.6 120.4,88.9 120.9,89.2 121.4,89.6 121.9,89.9 122.4,90.2 122.9,90.6 123.4,90.9 123.9,91.2 124.4,91.6 124.9,91.9 125.4,92.2 125.9,92.6 126.4,92.9 126.9,93.2 127.4,93.5 127.9,93.9 128.4,94.2 128.9,94.5 129.4,94.8 129.9,95.1 130.4,95.5 130.9,95.8 131.4,96.1 131.9,96.4 132.4,96.7 132.9,97.1 133.4,97.4 133.8,97.7 134.3,98.0 134.8,98.3 135.3,98.6 135.8,98.9 136.3,99.2 136.8,99.6 137.3,99.9 137.8,100.2 138.3,100.5 138.8,100.8 139.3,101.1 139.8,101.4 140.3,101.7 140.8,102.0 141.3,102.3 141.8,102.6 142.3,102.9 142.8,103.2 143.3,103.5 143.8,103.9 144.3,104.2 144.8,104.5 145.3,104.8 145.8,105.1 146.3,105.4 146.8,105.7 147.3,106.0 147.8,106.3 148.3,106.6 148.8,106.9 149.3,107.2 149.8,107.5 150.3,107.8 150.8,108.1 151.3,108.4 151.8,108.7 152.3,109.0 152.8,109.3 153.3,109.6 153.8,109.9 154.3,110.2 154.8,110.5 155.3,110.8 155.8,111.1 156.2,111.4 156.7,111.7 157.2,112.0 157.7,112.3 158.2,112.6 158.7,112.8 159.2,113.1 159.7,113.4 160.2,113.7 160.7,114.0 161.2,114.3 161.7,114.6 162.2,114.9 162.7,115.2 163.2,115.5 163.7,115.8 164.2,116.1 164.7,116.4 165.2,116.7 165.7,117.0 166.2,117.3 166.7,117.6 167.2,117.9 167.7,118.2 168.2,118.5 168.7,118.8 169.2,119.1 169.7,119.3 170.2,119.6 170.7,119.9 171.2,120.2 171.7,120.5 172.2,120.8 172.7,121.1 173.2,121.4 173.7,121.7 174.2,122.0 174.7,122.3 175.2,122.6 175.7,122.9 176.2,123.2 176.7,123.5 177.2,123.8 177.7,124.1 178.2,124.3 178.6,124.6 179.1,124.9 179.6,125.2 180.1,125.5 180.6,125.8 181.1,126.1 181.6,126.4 182.1,126.7 182.6,127.0 183.1,127.3 183.6,127.6 184.1,127.9 184.6,128.2 185.1,128.5 185.6,128.7 186.1,129.0 186.6,129.3 187.1,129.6 187.6,129.9 188.1,130.2 188.6,130.5 189.1,130.8 189.6,131.1 190.1,131.4 190.6,131.7 191.1,132.0 191.6,132.3 192.1,132.6 192.6,132.8 193.1,133.1 193.6,133.4 194.1,133.7 194.6,134.0 195.1,134.3 195.6,134.6 196.1,134.9 196.6,135.2 197.1,135.5 197.6,135.8 198.1,136.1 198.6,136.4 199.1,136.6 199.6,136.9 200.1,137.2 200.6,137.5 201.1,137.8 201.5,138.1 202.0,138.4 202.5,138.7 203.0,139.0 203.5,139.3 204.0,139.6 204.5,139.9 205.0,140.2 205.5,140.5 206.0,140.7 206.5,141.0 207.0,141.3 207.5,141.6 208.0,141.9 208.5,142.2 209.0,142.5 209.5,142.8 210.0,143.1 210.5,143.4 211.0,143.7 211.5,144.0 212.0,144.3 212.5,144.5 213.0,144.8 213.5,145.1 214.0,145.4 214.5,145.7 215.0,146.0 215.5,146.3 216.0,146.6 216.5,146.9 217.0,147.2 217.5,147.5 218.0,147.8 218.5,148.1 219.0,148.3 219.5,148.6 220.0,148.9 220.5,149.2 221.0,149.5 221.5,149.8 222.0,150.1 222.5,150.4 223.0,150.7 223.5,151.0 223.9,151.3 224.4,151.6 224.9,151.9 225.4,152.1 225.9,152.4 226.4,152.7 226.9,153.0 227.4,153.3 227.9,153.6 228.4,153.9 228.9,154.2 229.4,154.5 229.9,154.8 230.4,155.1 230.9,155.4 231.4,155.6 231.9,155.9 232.4,156.2 232.9,156.5 233.4,156.8 233.9,157.1 234.4,157.4 234.9,157.7 235.4,158.0 235.9,158.3 236.4,158.6 236.9,158.9 237.4,159.2 237.9,159.4 238.4,159.7 238.9,160.0 239.4,160.3 239.9,160.6 240.4,160.9 240.9,161.2 241.4,161.5 241.9,161.8 242.4,162.1 242.9,162.4 243.4,162.7 243.9,163.0 244.4,163.2 244.9,163.5 245.4,163.8 245.9,164.1 246.3,164.4 246.8,164.7 247.3,165.0 247.8,165.3 248.3,165.6 248.8,165.9 249.3,166.2 249.8,166.5 250.3,166.8 250.8,167.0 251.3,167.3 251.8,167.6 252.3,167.9 252.8,168.2 253.3,168.5 253.8,168.8 254.3,169.1 254.8,169.4 255.3,169.7 255.8,170.0 256.3,170.3 256.8,170.6 257.3,170.8 257.8,171.1 258.3,171.4 258.8,171.7 259.3,172.0 259.8,172.3 260.3,172.6 260.8,172.9 261.3,173.2 261.8,173.5 262.3,173.8 262.8,174.1 263.3,174.4 263.8,174.6 264.3,174.9 264.8,175.2 265.3,175.5 265.8,175.8 266.3,176.1 266.8,176.4 267.3,176.7 267.8,177.0 268.3,177.3 268.8,177.6 269.2,177.9 269.7,178.2 270.2,178.4 270.7,178.7 271.2,179.0 271.7,179.3 272.2,179.6 272.7,179.9 273.2,180.2 273.7,180.5 274.2,180.8 274.7,181.1 275.2,181.4 275.7,181.7 276.2,181.9 276.7,182.2 277.2,182.5 277.7,182.8 278.2,183.1 278.7,183.4 279.2,183.7 279.7,184.0 280.2,184.3" fill="none" stroke="#3cb371" stroke-width="1.0"/>
<polyline points="31.8,-0.8 32.3,-0.1 32.8,0.6 33.3,1.3 33.8,2.0 34.3,2.7 34.8,3.4 35.3,4.1 35.8,4.8 36.3,5.5 36.8,6.2 37.3,6.9 37.8,7.6 38.3,8.2 38.8,8.9 39.3,9.6 39.8,10.3 40.3,11.0 40.8,11.7 41.3,12.4 41.8,13.0 42.3,13.7 42.8,14.4 43.2,15.1 43.7,15.8 44.2,16.4 44.7,17.1 45.2,17.8 45.7,18.5 46.2,19.1 46.7,19.8 47.2,20.5 47.7,21.2 48.2,21.8 48.7,22.5 49.2,23.2 49.7,23.8 50.2,24.5 50.7,25.1 51.2,25.8 51.7,26.5 52.2,27.1 52.7,27.8 53.2,28.4 53.7,29.1 54.2,29.7 54.7,30.4 55.2,31.0 55.7,31.7 56.2,32.3 56.7,32.9 57.2,33.6 57.7,34.2 58.2,34.8 58.7,35.5 59.2,36.1 59.7,36.7 60.2,37.4 60.7,38.0 61.2,38.6 61.7,39.2 62.2,39.8 62.7,40.4 63.2,41.1 63.7,41.7 64.2,42.3 64.7,42.9 65.2,43.5 65.7,44.1 66.1,44.7 66.6,45.3 67.1,45.9 67.6,46.4 68.1,47.0 68.6,47.6 69.1,48.2 69.6,48.8 70.1,49.3 70.6,49.9 71.1,50.5 71.6,51.0 72.1,51.6 72.6,52.2 73.1,52.7 73.6,53.3 74.1,53.8 74.6,54.4 75.1,54.9 75.6,55.5 76.1,56.0 76.6,56.5 77.1,57.1 77.6,57.6 78.1,58.1 78.6,58.6 79.1,59.1 79.6,59.7 80.1,60.2 80.6,60.7 81.1,61.2 81.6,61.7 82.1,62.2 82.6,62.7 83.1,63.2 83.6,63.7 84.1,64.2 84.6,64.6 85.1,65.1 85.6,65.6 86.1,66.1 86.6,66.5 87.1,67.0 87.6,67.5 88.1,67.9 88.5,68.4 89.0,68.8 89.5,69.3 90.0,69.8 90.5,70.2 91.0,70.6 91.5,71.1 92.0,71.5 92.5,72.0 93.0,72.4 93.5,72.8 94.0,73.2 94.5,73.7 95.0,74.1 95.5,74.5 96.0,74.9 96.5,75.3 97.0,75.8 97.5,76.2 98.0,76.6 98.5,77.0 99.0,77.4 99.5,77.8 100.0,78.2 100.5,78.6 101.0,79.0 101.5,79.3 102.0,79.7 102.5,80.1 103.0,80.5 103.5,80.9 104.0,81.3 104.5,81.6 105.0,82.0 105.5,82.4 106.0,82.8 106.5,83.1 107.0,83.5 107.5,83.9 108.0,84.2 108.5,84.6 109.0,84.9 109.5,85.3 110.0,85.7 110.5,86.0 110.9,86.4 111.4,86.7 111.9,87.1 112.4,87.4 112.9,87.8 113.4,88.1 113.9,88.5 114.4,88.8 114.9,89.1 115.4,89.5 115.9,89.8 116.4,90.2 116.9,90.5 117.4,90.8 117.9,91.2 118.4,91.5 118.9,91.8 119.4,92.2 119.9,92.5 120.4,92.8 120.9,93.1 121.4,93.5 121.9,93.8 122.4,94.1 122.9,94.5 123.4,94.8 123.9,95.1 124.4,95.4 124.9,95.7 125.4,96.1 125.9,96.4 126.4,96.7 126.9,97.0 127.4,97.3 127.9,97.7 128.4,98.0 128.9,98.3 129.4,98.6 129.9,98.9 130.4,99.2 130.9,99.5 131.4,99.9 131.9,100.2 132.4,100.5 132.9,100.8 133.4,101.1 133.8,101.4 134.3,101.7 134.8,102.0 135.3,102.3 135.8,102.6 136.3,102.9 136.8,103.3 137.3,103.6 137.8,103.9 138.3,104.2 138.8,104.5 139.3,104.8 139.8,105.1 140.3,105.4 140.8,105.7 141.3,106.0 141.8,106.3 142.3,106.6 142.8,106.9 143.3,107.2 143.8,107.5 144.3,107.8 144.8,108.1 145.3,108.4 145.8,108.7 146.3,109.0 146.8,109.3 147.3,109.6 147.8,109.9 148.3,110.2 148.8,110.5 149.3,110.8 149.8,111.1 150.3,111.4 150.8,111.7 151.3,112.0 151.8,112.3 152.3,112.6 152.8,112.9 153.3,113.2 153.8,113.5 154.3,113.8 154.8,114.1 155.3,114.4 155.8,114.7 156.2,115.0 156.7,115.3 157.2,115.6 157.7,115.9 158.2,116.2 158.7,116.5 159.2,116.8 159.7,117.1 160.2,117.3 160.7,117.6 161.2,117.9 161.7,118.2 162.2,118.5 162.7,118.8 163.2,119.1 163.7,119.4 164.2,119.7 164.7,120.0 165.2,120.3 165.7,120.6 166.2,120.9 166.7,121.2 167.2,121.5 167.7,121.8 168.2,122.1 168.7,122.4 169.2,122.7 169.7,123.0 170.2,123.2 170.7,123.5 171.2,123.8 171.7,124.1 172.2,124.4 172.7,124.7 173.2,125.0 173.7,125.3 174.2,125.6 174.7,125.9 175.2,126.2 175.7,126.5 176.2,126.8 176.7,127.1 177.2,127.4 177.7,127.7 178.2,127.9 178.6,128.2 179.1,128.5 179.6,128.8 180.1,129.1 180.6,129.4 181.1,129.7 181.6,130.0 182.1,130.3 182.6,130.6 183.1,130.9 183.6,131.2 184.1,131.5 184.6,131.8 185.1,132.1 185.6,132.3 186.1,132.6 186.6,132.9 187.1,133.2 187.6,133.5 188.1,133.8 188.6,134.1 189.1,134.4 189.6,134.7 190.1,135.0 190.6,135.3 191.1,135.6 191.6,135.9 192.1,136.2 192.6,136.4 193.1,136.7 193.6,137.0 194.1,137.3 194.6,137.6 195.1,137.9 195.6,138.2 196.1,138.5 196.6,138.8 197.1,139.1 197.6,139.4 198.1,139.7 198.6,140.0 199.1,140.2 199.6,140.5 200.1,140.8 200.6,141.1 201.1,141.4 201.5,141.7 202.0,142.0 202.5,142.3 203.0,142.6 203.5,142.9 204.0,143.2 204.5,143.5 205.0,143.8 205.5,144.0 206.0,144.3 206.5,144.6 207.0,144.9 207.5,145.2 208.0,145.5 208.5,145.8 209.0,146.1 209.5,146.4 210.0,146.7 210.5,147.0 211.0,147.3 211.5,147.6 212.0,147.9 212.5,148.1 213.0,148.4 213.5,148.7 214.0,149.0 214.5,149.3 215.0,149.6 215.5,149.9 216.0,150.2 216.5,150.5 217.0,150.8 217.5,151.1 218.0,151.4 218.5,151.7 219.0,151.9 219.5,152.2 220.0,152.5 220.5,152.8 221.0,153.1 221.5,153.4 222.0,153.7 222.5,154.0 223.0,154.3 223.5,154.6 223.9,154.9 224.4,155.2 224.9,155.5 225.4,155.7 225.9,156.0 226.4,156.3 226.9,156.6 227.4,156.9 227.9,157.2 228.4,157.5 228.9,157.8 229.4,158.1 229.9,158.4 230.4,158.7 230.9,159.0 231.4,159.2 231.9,159.5 232.4,159.8 232.9,160.1 233.4,160.4 233.9,160.7 234.4,161.0 234.9,161.3 235.4,161.6 235.9,161.9 236.4,162.2 236.9,162.5 237.4,162.8 237.9,163.0 238.4,163.3 238.9,163.6 239.4,163.9 239.9,164.2 240.4,164.5 240.9,164.8 241.4,165.1 241.9,165.4 242.4,165.7 242.9,166.0 243.4,166.3 243.9,166.6 244.4,166.8 244.9,167.1 245.4,167.4 245.9,167.7 246.3,168.0 246.8,168.3 247.3,168.6 247.8,168.9 248.3,169.2 248.8,169.5 249.3,169.8 249.8,170.1 250.3,170.4 250.8,170.6 251.3,170.9 251.8,171.2 252.3,171.5 252.8,171.8 253.3,172.1 253.8,172.4 254.3,172.7 254.8,173.0 255.3,173.3 255.8,173.6 256.3,173.9 256.8,174.2 257.3,174.4 257.8,174.7 258.3,175.0 258.8,175.3 259.3,175.6 259.8,175.9 260.3,176.2 260.8,176.5 261.3,176.8 261.8,177.1 262.3,177.4 262.8,177.7 263.3,178.0 263.8,178.2 264.3,178.5 264.8,178.8 265.3,179.1 265.8,179.4 266.3,179.7 266.8,180.0 267.3,180.3 267.8,180.6 268.3,180.9 268.8,181.2 269.2,181.5 269.7,181.8 270.2,182.0 270.7,182.3 271.2,182.6 271.7,182.9 272.2,183.2 272.7,183.5 273.2,183.8 273.7,184.1 274.2,184.4 274.7,184.7 275.2,185.0 275.7,185.3 276.2,185.5 276.7,185.8 277.2,186.1 277.7,186.4 278.2,186.7 278.7,187.0 279.2,187.3 279.7,187.6 280.2,187.9" fill="none" stroke="#111111" stroke-width="1.0"/>
<polyline points="31.8,4.9 32.3,5.6 32.8,6.3 33.3,7.0 33.8,7.7 34.3,8.4 34.8,9.0 35.3,9.7 35.8,10.4 36.3,11.1 36.8,11.8 37.3,12.5 37.8,13.2 38.3,13.9 38.8,14.6 39.3,15.2 39.8,15.9 40.3,16.6 40.8,17.3 41.3,18.0 41.8,18.6 42.3,19.3 42.8,20.0 43.2,20.7 43.7,21.4 44.2,22.0 44.7,22.7 45.2,23.4 45.7,24.0 46.2,24.7 46.7,25.4 47.2,26.1 47.7,26.7 48.2,27.4 48.7,28.0 49.2,28.7 49.7,29.4 50.2,30.0 50.7,30.7 51.2,31.3 51.7,32.0 52.2,32.6 52.7,33.3 53.2,33.9 53.7,34.6 54.2,35.2 54.7,35.9 55.2,36.5 55.7,37.2 56.2,37.8 56.7,38.4 57.2,39.1 57.7,39.7 58.2,40.3 58.7,40.9 59.2,41.6 59.7,42.2 60.2,42.8 60.7,43.4 61.2,44.0 61.7,44.6 62.2,45.3 62.7,45.9 63.2,46.5 63.7,47.1 64.2,47.7 64.7,48.3 65.2,48.9 65.7,49.5 66.1,50.0 66.6,50.6 67.1,51.2 67.6,51.8 68.1,52.4 68.6,52.9 69.1,53.5 69.6,54.1 70.1,54.6 70.6,55.2 71.1,55.8 71.6,56.3 72.1,56.9 72.6,57.4 73.1,58.0 73.6,58.5 74.1,59.1 74.6,59.6 75.1,60.1 75.6,60.7 76.1,61.2 76.6,61.7 77.1,62.2 77.6,62.8 78.1,63.3 78.6,63.8 79.1,64.3 79.6,64.8 80.1,65.3 80.6,65.8 81.1,66.3 81.6,66.8 82.1,67.3 82.6,67.8 83.1,68.3 83.6,68.7 84.1,69.2 84.6,69.7 85.1,70.2 85.6,70.6 86.1,71.1 86.6,71.6 87.1,72.0 87.6,72.5 88.1,72.9 88.5,73.4 89.0,73.8 89.5,74.3 90.0,74.7 90.5,75.1 91.0,75.6 91.5,76.0 92.0,76.4 92.5,76.9 93.0,77.3 93.5,77.7 94.0,78.1 94.5,78.5 95.0,79.0 95.5,79.4 96.0,79.8 96.5,80.2 97.0,80.6 97.5,81.0 98.0,81.4 98.5,81.8 99.0,82.2 99.5,82.6 100.0,82.9 100.5,83.3 101.0,83.7 101.5,84.1 102.0,84.5 102.5,84.9 103.0,85.2 103.5,85.6 104.0,86.0 104.5,86.3 105.0,86.7 105.5,87.1 106.0,87.4 106.5,87.8 107.0,88.2 107.5,88.5 108.0,88.9 108.5,89.2 109.0,89.6 109.5,90.0 110.0,90.3 110.5,90.7 110.9,91.0 111.4,91.3 111.9,91.7 112.4,92.0 112.9,92.4 113.4,92.7 113.9,93.1 114.4,93.4 114.9,93.7 115.4,94.1 115.9,94.4 116.4,94.7 116.9,95.1 117.4,95.4 117.9,95.7 118.4,96.1 118.9,96.4 119.4,96.7 119.9,97.0 120.4,97.4 120.9,97.7 121.4,98.0 121.9,98.3 122.4,98.7 122.9,99.0 123.4,99.3 123.9,99.6 124.4,99.9 124.9,100.3 125.4,100.6 125.9,100.9 126.4,101.2 126.9,101.5 127.4,101.8 127.9,102.2 128.4,102.5 128.9,102.8 129.4,103.1 129.9,103.4 130.4,103.7 130.9,104.0 131.4,104.3 131.9,104.6 132.4,105.0 132.9,105.3 133.4,105.6 133.8,105.9 134.3,106.2 134.8,106.5 135.3,106.8 135.8,107.1 136.3,107.4 136.8,107.7 137.3,108.0 137.8,108.3 138.3,108.6 138.8,108.9 139.3,109.2 139.8,109.5 140.3,109.8 140.8,110.1 141.3,110.4 141.8,110.7 142.3,111.1 142.8,111.4 143.3,111.7 143.8,112.0 144.3,112.3 144.8,112.6 145.3,112.9 145.8,113.2 146.3,113.5 146.8,113.8 147.3,114.1 147.8,114.4 148.3,114.6 148.8,114.9 149.3,115.2 149.8,115.5 150.3,115.8 150.8,116.1 151.3,116.4 151.8,116.7 152.3,117.0 152.8,117.3 153.3,117.6 153.8,117.9 154.3,118.2 154.8,118.5 155.3,118.8 155.8,119.1 156.2,119.4 156.7,119.7 157.2,120.0 157.7,120.3 158.2,120.6 158.7,120.9 159.2,121.2 159.7,121.5 160.2,121.8 160.7,122.1 161.2,122.4 161.7,122.7 162.2,122.9 162.7,123.2 163.2,123.5 163.7,123.8 164.2,124.1 164.7,124.4 165.2,124.7 165.7,125.0 166.2,125.3 166.7,125.6 167.2,125.9 167.7,126.2 168.2,126.5 168.7,126.8 169.2,127.1 169.7,127.4 170.2,127.7 170.7,128.0 171.2,128.2 171.7,128.5 172.2,128.8 172.7,129.1 173.2,129.4 173.7,129.7 174.2,130.0 174.7,130.3 175.2,130.6 175.7,130.9 176.2,131.2 176.7,131.5 177.2,131.8 177.7,132.1 178.2,132.4 178.6,132.6 179.1,132.9 179.6,133.2 180.1,133.5 180.6,133.8 181.1,134.1 181.6,134.4 182.1,134.7 182.6,135.0 183.1,135.3 183.6,135.6 184.1,135.9 184.6,136.2 185.1,136.5 185.6,136.7 186.1,137.0 186.6,137.3 187.1,137.6 187.6,137.9 188.1,138.2 188.6,138.5 189.1,138.8 189.6,139.1 190.1,139.4 190.6,139.7 191.1,140.0 191.6,140.3 192.1,140.6 192.6,140.8 193.1,141.1 193.6,141.4 194.1,141.7 194.6,142.0 195.1,142.3 195.6,142.6 196.1,142.9 196.6,143.2 197.1,143.5 197.6,143.8 198.1,144.1 198.6,144.4 199.1,144.6 199.6,144.9 200.1,145.2 200.6,145.5 201.1,145.8 201.5,146.1 202.0,146.4 202.5,146.7 203.0,147.0 203.5,147.3 204.0,147.6 204.5,147.9 205.0,148.2 205.5,148.5 206.0,148.7 206.5,149.0 207.0,149.3 207.5,149.6 208.0,149.9 208.5,150.2 209.0,150.5 209.5,150.8 210.0,151.1 210.5,151.4 211.0,151.7 211.5,152.0 212.0,152.3 212.5,152.5 213.0,152.8 213.5,153.1 214.0,153.4 214.5,153.7 215.0,154.0 215.5,154.3 216.0,154.6 216.5,154.9 217.0,155.2 217.5,155.5 218.0,155.8 218.5,156.1 219.0,156.3 219.5,156.6 220.0,156.9 220.5,157.2 221.0,157.5 221.5,157.8 222.0,158.1 222.5,158.4 223.0,158.7 223.5,159.0 223.9,159.3 224.4,159.6 224.9,159.9 225.4,160.1 225.9,160.4 226.4,160.7 226.9,161.0 227.4,161.3 227.9,161.6 228.4,161.9 228.9,162.2 229.4,162.5 229.9,162.8 230.4,163.1 230.9,163.4 231.4,163.6 231.9,163.9 232.4,164.2 232.9,164.5 233.4,164.8 233.9,165.1 234.4,165.4 234.9,165.7 235.4,166.0 235.9,166.3 236.4,166.6 236.9,166.9 237.4,167.2 237.9,167.4 238.4,167.7 238.9,168.0 239.4,168.3 239.9,168.6 240.4,168.9 240.9,169.2 241.4,169.5 241.9,169.8 242.4,170.1 242.9,170.4 243.4,170.7 243.9,171.0 244.4,171.2 244.9,171.5 245.4,171.8 245.9,172.1 246.3,172.4 246.8,172.7 247.3,173.0 247.8,173.3 248.3,173.6 248.8,173.9 249.3,174.2 249.8,174.5 250.3,174.8 250.8,175.0 251.3,175.3 251.8,175.6 252.3,175.9 252.8,176.2 253.3,176.5 253.8,176.8 254.3,177.1 254.8,177.4 255.3,177.7 255.8,178.0 256.3,178.3 256.8,178.6 257.3,178.8 257.8,179.1 258.3,179.4 258.8,179.7 259.3,180.0 259.8,180.3 260.3,180.6 260.8,180.9 261.3,181.2 261.8,181.5 262.3,181.8 262.8,182.1 263.3,182.4 263.8,182.6 264.3,182.9 264.8,183.2 265.3,183.5 265.8,183.8 266.3,184.1 266.8,184.4 267.3,184.7 267.8,185.0 268.3,185.3 268.8,185.6 269.2,185.9 269.7,186.2 270.2,186.4 270.7,186.7 271.2,187.0 271.7,187.3 272.2,187.6 272.7,187.9 273.2,188.2 273.7,188.5 274.2,188.8 274.7,189.1 275.2,189.4 275.7,189.7 276.2,189.9 276.7,190.2 277.2,190.5 277.7,190.8 278.2,191.1 278.7,191.4 279.2,191.7 279.7,192.0 280.2,192.3" fill="none" stroke="#1a1aff" stroke-width="1.0"/>
<path d="M121.6 88.9h0M132.2 94.4h0M98.7 71.9h0M77.9 52.3h0M133.7 95.5h0M98.9 72.0h0M95.5 68.7h0M113.1 82.6h0M147.7 104.0h0M121.4 88.9h0M92.7 66.3h0M120.7 88.1h0M80.0 54.7h0M110.4 81.4h0M121.9 88.6h0M112.5 83.2h0M78.3 52.6h0M126.3 91.5h0M103.6 76.0h0M136.0 96.1h0M96.4 69.1h0M113.4 83.3h0M122.6 89.0h0M84.0 58.4h0M113.3 83.3h0M103.0 75.7h0M81.7 55.8h0M100.3 73.2h0M135.1 95.1h0M146.5 102.3h0M120.2 88.4h0M125.2 91.3h0M108.5 80.2h0M105.9 79.0h0M145.7 102.2h0M124.9 90.7h0M139.1 98.6h0M86.8 60.0h0M144.1 101.6h0M117.7 86.5h0M91.1 64.4h0M116.4 85.7h0M139.8 98.9h0M117.7 86.6h0M106.5 77.8h0M80.2 53.3h0M110.5 81.9h0M100.2 73.2h0M79.3 53.3h0M79.6 54.0h0M145.7 102.5h0M107.7 78.9h0M139.0 98.0h0M119.1 87.3h0M102.6 75.8h0M131.4 94.5h0M88.1 61.9h0M77.9 52.2h0M134.6 94.8h0M107.0 79.3h0M78.5 53.0h0M133.4 94.0h0M128.7 92.9h0M91.5 64.8h0M90.1 63.7h0M144.3 101.2h0M101.5 74.6h0M144.6 102.4h0M146.6 103.5h0M114.2 84.1h0M129.9 94.4h0M107.6 80.1h0M106.5 78.7h0M82.3 56.0h0M114.1 83.6h0M95.2 68.8h0M125.2 90.6h0M121.9 88.9h0M101.0 73.5h0M91.8 64.8h0M92.5 66.0h0M136.7 95.9h0M120.1 87.5h0M119.4 87.8h0M99.1 72.9h0M110.3 81.6h0M122.3 88.8h0M81.9 55.7h0M131.4 93.9h0M129.0 92.9h0M141.9 100.4h0M139.4 98.3h0M142.1 100.4h0M79.6 52.9h0M95.3 69.3h0M90.7 63.7h0M80.2 53.7h0M89.2 62.3h0M79.0 53.5h0M143.7 101.3h0M134.7 94.8h0M120.6 88.9h0M118.0 86.7h0M134.0 95.2h0M137.7 98.1h0M101.4 73.6h0M85.4 58.5h0M133.7 95.3h0M138.3 97.0h0M86.6 60.8h0M139.7 98.8h0M117.9 87.0h0M120.5 87.9h0M124.1 89.8h0M135.6 96.2h0M100.6 73.2h0M138.6 97.7h0M88.9 62.3h0M123.4 89.3h0M117.2 86.1h0M104.2 77.7h0M109.7 80.6h0M84.6 58.1h0M86.9 60.5h0M136.1 96.5h0M103.7 76.5h0M92.7 65.8h0M100.8 73.6h0M83.2 57.2h0M118.3 86.2h0M83.0 56.2h0M86.7 60.2h0M86.7 60.3h0M141.4 99.6h0M99.1 72.1h0M121.2 88.4h0M108.2 79.8h0M104.0 76.7h0M84.3 58.0h0M132.2 94.6h0" stroke="#9fd8b0" stroke-width="3.6" stroke-linecap="round" fill="none" />
<path d="M89.8 55.5h0M141.7 95.2h0M113.1 76.1h0M98.7 64.6h0M136.7 91.8h0M101.3 67.7h0M136.9 91.9h0M82.0 48.5h0M117.7 79.4h0M125.9 84.5h0M87.1 53.5h0M84.5 50.5h0M126.0 84.1h0M118.8 80.0h0M95.8 62.5h0M89.0 56.2h0M84.5 51.7h0M91.9 59.2h0M114.6 77.2h0M138.2 92.5h0M102.5 69.1h0M124.3 83.5h0M82.5 48.6h0M92.2 58.4h0M113.1 75.7h0M141.4 94.5h0M105.2 70.0h0M109.7 74.2h0M103.6 69.2h0M98.5 65.2h0M90.5 56.3h0M99.2 66.9h0M132.8 89.6h0M119.0 79.7h0M103.2 68.4h0M108.3 73.4h0M139.6 93.5h0M139.9 93.6h0M129.7 86.3h0M134.2 89.5h0M124.3 83.1h0M112.3 75.4h0M93.7 60.2h0M129.4 86.0h0M121.8 82.2h0M121.3 81.9h0M121.6 81.0h0M118.8 80.2h0M95.1 61.9h0M109.6 73.5h0M103.5 70.1h0M114.3 76.2h0M137.3 92.8h0M85.0 51.3h0M97.3 63.9h0M104.5 69.4h0M111.0 74.3h0M123.5 83.2h0M122.5 82.0h0M122.5 82.3h0M118.3 79.6h0M115.5 77.2h0M111.7 74.9h0M104.8 70.3h0M121.2 81.0h0M103.0 68.6h0M119.0 79.8h0M135.4 91.4h0M103.4 69.0h0M88.6 54.8h0M98.2 65.1h0M141.2 94.2h0M129.3 87.0h0M116.6 77.8h0M98.9 64.8h0M126.7 84.3h0M99.2 65.1h0M141.5 94.7h0M134.2 90.2h0M126.3 84.6h0M94.9 61.6h0M119.2 80.0h0M99.8 65.6h0M82.8 49.7h0M108.3 72.8h0M95.6 62.0h0M122.2 82.8h0M92.9 59.4h0M126.6 84.5h0M86.9 53.5h0M95.7 62.6h0M130.9 87.8h0M132.3 88.1h0M92.8 59.5h0M125.5 83.0h0M123.7 82.6h0M99.5 65.7h0M112.8 75.9h0M101.3 66.9h0M111.2 74.7h0M107.0 71.6h0M122.7 82.1h0M141.0 93.8h0M112.2 75.7h0M105.3 71.0h0M86.7 52.4h0M133.9 89.7h0M129.8 86.6h0M102.9 67.7h0M93.3 59.3h0M100.0 66.0h0M101.8 67.1h0M138.4 93.1h0M139.9 94.1h0M120.6 80.4h0M93.4 60.3h0M87.8 54.8h0M106.1 70.9h0M113.9 77.0h0M125.1 84.1h0M115.0 77.7h0M83.9 50.2h0M101.9 68.0h0M87.7 53.7h0M109.4 73.8h0M124.8 83.7h0M128.7 86.2h0M113.9 76.4h0M122.4 81.6h0M129.8 85.8h0M111.4 74.5h0M87.7 53.4h0M96.5 63.1h0M126.6 84.2h0M123.8 83.8h0M105.2 70.3h0M99.3 65.1h0M128.2 86.4h0M98.2 63.9h0M122.4 82.4h0" stroke="#f4a0a0" stroke-width="3.6" stroke-linecap="round" fill="none" />
<path d="M125.6 99.2h0M77.2 62.3h0M91.0 74.4h0M122.6 99.0h0M89.1 72.5h0M130.5 102.9h0M117.0 95.0h0M123.5 98.6h0M106.4 86.9h0M108.4 89.4h0M81.8 65.6h0M120.6 96.3h0M94.8 77.3h0M102.9 86.0h0M93.7 76.7h0M113.2 92.5h0M98.6 82.0h0M116.8 95.3h0M78.5 63.3h0M117.7 94.9h0M118.7 96.2h0M103.7 85.7h0M102.5 83.3h0M94.4 77.9h0M89.5 73.0h0M86.9 70.2h0M103.5 85.2h0M119.1 95.3h0M92.6 75.4h0M105.9 87.8h0M84.1 67.1h0M104.0 86.2h0M80.8 64.5h0M126.3 100.5h0M77.3 61.5h0M98.0 80.4h0M81.2 65.1h0M123.3 98.1h0M102.8 85.3h0M95.2 78.8h0M99.4 82.1h0M81.7 65.1h0M131.4 102.8h0M113.9 93.8h0M109.6 89.2h0M110.6 91.0h0M108.4 88.9h0M110.2 90.6h0M86.5 70.6h0M123.6 98.9h0M108.1 89.2h0M100.0 81.8h0M98.2 80.3h0M116.1 93.5h0M83.1 67.2h0M129.7 101.9h0M91.2 74.5h0M125.4 99.9h0M79.5 63.3h0M88.0 71.4h0M129.5 101.5h0M86.8 70.1h0M106.9 87.4h0M101.9 84.2h0M97.2 81.1h0M119.8 97.4h0M123.1 97.9h0M121.5 97.7h0M126.7 100.4h0M103.0 83.8h0M105.9 86.0h0M84.9 68.2h0M80.0 63.9h0M84.4 67.4h0M97.3 79.5h0M93.0 75.7h0M95.9 78.3h0M91.6 74.1h0M120.0 96.4h0M127.6 101.2h0M94.7 77.9h0M91.4 74.2h0M102.0 83.8h0M130.3 102.4h0M117.6 94.1h0M84.5 68.7h0M116.7 94.2h0M128.6 100.7h0M82.3 67.5h0M130.5 101.9h0M129.3 101.6h0M80.8 64.3h0M103.2 85.4h0M119.0 95.8h0M133.8 103.5h0M123.3 97.2h0M121.6 97.1h0M133.5 105.2h0M102.8 84.0h0M130.9 103.4h0M130.6 102.0h0M98.4 80.1h0M103.9 84.2h0M99.0 81.4h0M85.0 68.8h0M120.0 96.4h0M115.3 92.7h0M90.1 73.1h0M92.8 76.2h0M120.4 96.4h0M95.4 78.6h0M87.6 72.3h0M116.7 93.9h0M93.9 78.4h0M78.9 63.1h0M109.9 89.8h0M96.8 79.4h0M110.6 90.3h0M117.3 94.3h0M132.3 103.0h0M91.5 75.3h0M133.5 104.5h0M111.5 91.2h0M131.2 102.7h0M106.7 87.1h0M117.0 94.9h0M95.7 78.4h0M79.0 63.1h0M81.3 65.9h0M96.0 77.7h0M78.8 61.7h0M101.8 84.4h0M117.4 94.3h0M91.0 75.3h0M128.2 101.2h0M82.3 67.5h0M78.6 62.7h0M78.4 62.8h0M113.1 91.7h0M85.9 69.0h0" stroke="#a0a0e0" stroke-width="3.8" stroke-linecap="round" fill="none" />
<path d="M121.6 88.9h0M140.8 98.1h0M132.2 94.4h0M93.4 66.8h0M98.7 71.9h0M139.1 97.7h0M77.9 52.3h0M135.4 95.7h0M133.7 95.5h0M110.5 81.7h0M98.9 72.0h0M97.1 71.2h0M95.5 68.7h0M108.9 80.2h0M113.1 82.6h0M116.5 86.4h0M147.7 104.0h0M133.4 95.2h0M121.4 88.9h0M147.2 103.3h0M92.7 66.3h0M88.8 62.2h0M120.7 88.1h0M80.6 54.6h0M80.0 54.7h0M113.8 84.2h0M110.4 81.4h0M142.2 99.9h0M121.9 88.6h0M113.7 84.6h0M112.5 83.2h0M94.9 68.5h0M78.3 52.6h0M91.1 64.1h0M126.3 91.5h0M91.6 65.5h0M103.6 76.0h0M77.8 52.2h0M136.0 96.1h0M88.4 61.9h0M96.4 69.1h0M139.6 98.4h0M113.4 83.3h0M137.2 97.3h0M122.6 89.0h0M129.8 93.5h0M84.0 58.4h0M115.7 85.0h0M113.3 83.3h0M138.9 98.1h0M103.0 75.7h0M119.7 87.1h0M81.7 55.8h0M104.8 78.3h0M100.3 73.2h0M88.1 61.5h0M135.1 95.1h0M104.3 77.0h0M146.5 102.3h0M119.1 86.7h0M120.2 88.4h0M122.5 88.8h0M125.2 91.3h0M88.1 62.3h0M108.5 80.2h0M94.4 68.1h0M105.9 79.0h0M84.3 58.0h0M145.7 102.2h0M92.7 65.5h0M124.9 90.7h0M98.7 72.5h0M139.1 98.6h0M124.2 89.8h0M86.8 60.0h0M137.1 96.6h0M144.1 101.6h0M141.2 99.5h0M117.7 86.5h0M87.8 61.4h0M91.1 64.4h0M142.9 100.6h0M116.4 85.7h0M90.2 63.7h0M139.8 98.9h0M122.7 90.2h0M117.7 86.6h0M104.0 76.7h0M106.5 77.8h0M94.4 68.1h0M80.2 53.3h0M139.3 97.6h0M110.5 81.9h0M116.1 85.8h0M100.2 73.2h0M130.5 92.8h0M79.3 53.3h0M103.7 76.1h0M79.6 54.0h0M86.2 60.8h0M145.7 102.5h0M123.9 89.7h0M107.7 78.9h0M114.4 84.4h0M139.0 98.0h0M101.8 74.1h0M119.1 87.3h0M125.7 90.6h0M102.6 75.8h0M114.1 84.6h0M131.4 94.5h0M141.6 99.6h0M88.1 61.9h0M143.3 100.8h0M77.9 52.2h0M130.6 93.5h0M134.6 94.8h0M87.1 60.0h0M107.0 79.3h0M135.0 95.4h0M78.5 53.0h0M121.8 89.3h0M133.4 94.0h0M113.7 83.5h0M128.7 92.9h0M93.5 67.1h0M91.5 64.8h0M103.1 76.3h0M90.1 63.7h0M101.9 74.2h0M144.3 101.2h0M117.9 86.9h0M101.5 74.6h0M96.6 69.2h0M144.6 102.4h0M108.8 80.6h0M146.6 103.5h0M113.8 83.8h0M114.2 84.1h0M140.7 98.7h0M129.9 94.4h0M118.4 86.8h0M107.6 80.1h0M139.4 98.1h0M106.5 78.7h0M142.6 99.7h0M82.3 56.0h0M107.8 80.0h0M114.1 83.6h0M144.5 102.2h0M95.2 68.8h0M134.3 94.7h0M125.2 90.6h0M128.1 92.3h0M121.9 88.9h0M146.0 102.3h0M101.0 73.5h0M105.6 77.8h0M91.8 64.8h0M81.1 54.4h0M92.5 66.0h0M142.0 100.5h0M136.7 95.9h0M85.4 59.1h0M120.1 87.5h0M111.3 81.6h0M119.4 87.8h0M124.0 89.9h0M99.1 72.9h0M145.3 101.8h0M110.3 81.6h0M121.8 88.7h0M122.3 88.8h0M90.5 64.2h0M81.9 55.7h0M106.5 78.9h0M131.4 93.9h0M135.0 95.0h0M129.0 92.9h0M85.5 59.2h0M141.9 100.4h0M134.0 94.7h0M139.4 98.3h0M114.4 83.6h0M142.1 100.4h0M80.8 54.3h0M79.6 52.9h0M78.9 53.2h0M95.3 69.3h0M95.0 67.8h0M90.7 63.7h0M117.5 85.9h0M80.2 53.7h0M119.1 87.4h0M89.2 62.3h0M125.3 90.6h0M79.0 53.5h0M99.4 72.2h0M143.7 101.3h0M115.5 84.6h0M134.7 94.8h0M123.9 89.2h0M120.6 88.9h0M91.0 64.3h0M118.0 86.7h0M80.3 54.3h0M134.0 95.2h0M145.2 102.1h0M137.7 98.1h0M81.1 54.5h0M101.4 73.6h0M99.9 72.5h0M85.4 58.5h0M121.7 89.1h0M133.7 95.3h0M99.6 72.3h0M138.3 97.0h0M133.7 94.8h0M86.6 60.8h0M131.6 92.8h0M139.7 98.8h0M91.4 64.4h0M117.9 87.0h0M122.5 88.8h0M120.5 87.9h0M84.3 57.3h0M124.1 89.8h0M122.1 89.6h0M135.6 96.2h0M134.1 95.0h0M100.6 73.2h0M128.4 91.8h0M138.6 97.7h0M140.5 99.0h0M88.9 62.3h0M79.4 53.5h0M123.4 89.3h0M92.6 66.1h0M117.2 86.1h0M144.1 102.0h0M104.2 77.7h0M95.3 68.8h0M109.7 80.6h0M123.8 90.0h0M84.6 58.1h0M104.3 76.6h0M86.9 60.5h0M124.2 89.8h0M136.1 96.5h0M104.1 76.6h0M103.7 76.5h0M115.5 85.0h0M92.7 65.8h0M94.9 68.0h0M100.8 73.6h0M109.7 80.7h0M83.2 57.2h0M130.6 93.6h0M118.3 86.2h0M98.6 71.9h0M83.0 56.2h0M131.3 93.6h0M86.7 60.2h0M86.9 59.5h0M86.7 60.3h0M83.2 57.1h0M141.4 99.6h0M96.5 69.7h0M99.1 72.1h0M136.2 95.8h0M121.2 88.4h0M90.7 63.9h0M108.2 79.8h0M139.8 98.1h0M104.0 76.7h0M127.6 92.3h0M84.3 58.0h0M128.8 92.6h0M132.2 94.6h0M135.7 95.2h0" stroke="#0b6b2a" stroke-width="2.3" stroke-linecap="round" fill="none" />
<path d="M121.6 88.9h0M140.8 98.1h0M132.2 94.4h0M93.4 66.8h0M98.7 71.9h0M139.1 97.7h0M77.9 52.3h0M135.4 95.7h0M133.7 95.5h0M110.5 81.7h0M98.9 72.0h0M97.1 71.2h0M95.5 68.7h0M108.9 80.2h0M113.1 82.6h0M116.5 86.4h0M147.7 104.0h0M133.4 95.2h0M121.4 88.9h0M147.2 103.3h0M92.7 66.3h0M88.8 62.2h0M120.7 88.1h0M80.6 54.6h0M80.0 54.7h0M113.8 84.2h0M110.4 81.4h0M142.2 99.9h0M121.9 88.6h0M113.7 84.6h0M112.5 83.2h0M94.9 68.5h0M78.3 52.6h0M91.1 64.1h0M126.3 91.5h0M91.6 65.5h0M103.6 76.0h0M77.8 52.2h0M136.0 96.1h0M88.4 61.9h0M96.4 69.1h0M139.6 98.4h0M113.4 83.3h0M137.2 97.3h0M122.6 89.0h0M129.8 93.5h0M84.0 58.4h0M115.7 85.0h0M113.3 83.3h0M138.9 98.1h0M103.0 75.7h0M119.7 87.1h0M81.7 55.8h0M104.8 78.3h0M100.3 73.2h0M88.1 61.5h0M135.1 95.1h0M104.3 77.0h0M146.5 102.3h0M119.1 86.7h0M120.2 88.4h0M122.5 88.8h0M125.2 91.3h0M88.1 62.3h0M108.5 80.2h0M94.4 68.1h0M105.9 79.0h0M84.3 58.0h0M145.7 102.2h0M92.7 65.5h0M124.9 90.7h0M98.7 72.5h0M139.1 98.6h0M124.2 89.8h0M86.8 60.0h0M137.1 96.6h0M144.1 101.6h0M141.2 99.5h0M117.7 86.5h0M87.8 61.4h0M91.1 64.4h0M142.9 100.6h0M116.4 85.7h0M90.2 63.7h0M139.8 98.9h0M122.7 90.2h0M117.7 86.6h0M104.0 76.7h0M106.5 77.8h0M94.4 68.1h0M80.2 53.3h0M139.3 97.6h0M110.5 81.9h0M116.1 85.8h0M100.2 73.2h0M130.5 92.8h0M79.3 53.3h0M103.7 76.1h0M79.6 54.0h0M86.2 60.8h0M145.7 102.5h0M123.9 89.7h0M107.7 78.9h0M114.4 84.4h0M139.0 98.0h0M101.8 74.1h0M119.1 87.3h0M125.7 90.6h0M102.6 75.8h0M114.1 84.6h0M131.4 94.5h0M141.6 99.6h0M88.1 61.9h0M143.3 100.8h0M77.9 52.2h0M130.6 93.5h0M134.6 94.8h0M87.1 60.0h0M107.0 79.3h0M135.0 95.4h0M78.5 53.0h0M121.8 89.3h0M133.4 94.0h0M113.7 83.5h0M128.7 92.9h0M93.5 67.1h0M91.5 64.8h0M103.1 76.3h0M90.1 63.7h0M101.9 74.2h0M144.3 101.2h0M117.9 86.9h0M101.5 74.6h0M96.6 69.2h0M144.6 102.4h0M108.8 80.6h0M146.6 103.5h0M113.8 83.8h0M114.2 84.1h0M140.7 98.7h0M129.9 94.4h0M118.4 86.8h0M107.6 80.1h0M139.4 98.1h0M106.5 78.7h0M142.6 99.7h0M82.3 56.0h0M107.8 80.0h0M114.1 83.6h0M144.5 102.2h0M95.2 68.8h0M134.3 94.7h0M125.2 90.6h0M128.1 92.3h0M121.9 88.9h0M146.0 102.3h0M101.0 73.5h0M105.6 77.8h0M91.8 64.8h0M81.1 54.4h0M92.5 66.0h0M142.0 100.5h0M136.7 95.9h0M85.4 59.1h0M120.1 87.5h0M111.3 81.6h0M119.4 87.8h0M124.0 89.9h0M99.1 72.9h0M145.3 101.8h0M110.3 81.6h0M121.8 88.7h0M122.3 88.8h0M90.5 64.2h0M81.9 55.7h0M106.5 78.9h0M131.4 93.9h0M135.0 95.0h0M129.0 92.9h0M85.5 59.2h0M141.9 100.4h0M134.0 94.7h0M139.4 98.3h0M114.4 83.6h0M142.1 100.4h0M80.8 54.3h0M79.6 52.9h0M78.9 53.2h0M95.3 69.3h0M95.0 67.8h0M90.7 63.7h0M117.5 85.9h0M80.2 53.7h0M119.1 87.4h0M89.2 62.3h0M125.3 90.6h0M79.0 53.5h0M99.4 72.2h0M143.7 101.3h0M115.5 84.6h0M134.7 94.8h0M123.9 89.2h0M120.6 88.9h0M91.0 64.3h0M118.0 86.7h0M80.3 54.3h0M134.0 95.2h0M145.2 102.1h0M137.7 98.1h0M81.1 54.5h0M101.4 73.6h0M99.9 72.5h0M85.4 58.5h0M121.7 89.1h0M133.7 95.3h0M99.6 72.3h0M138.3 97.0h0M133.7 94.8h0M86.6 60.8h0M131.6 92.8h0M139.7 98.8h0M91.4 64.4h0M117.9 87.0h0M122.5 88.8h0M120.5 87.9h0M84.3 57.3h0M124.1 89.8h0M122.1 89.6h0M135.6 96.2h0M134.1 95.0h0M100.6 73.2h0M128.4 91.8h0M138.6 97.7h0M140.5 99.0h0M88.9 62.3h0M79.4 53.5h0M123.4 89.3h0M92.6 66.1h0M117.2 86.1h0M144.1 102.0h0M104.2 77.7h0M95.3 68.8h0M109.7 80.6h0M123.8 90.0h0M84.6 58.1h0M104.3 76.6h0M86.9 60.5h0M124.2 89.8h0M136.1 96.5h0M104.1 76.6h0M103.7 76.5h0M115.5 85.0h0M92.7 65.8h0M94.9 68.0h0M100.8 73.6h0M109.7 80.7h0M83.2 57.2h0M130.6 93.6h0M118.3 86.2h0M98.6 71.9h0M83.0 56.2h0M131.3 93.6h0M86.7 60.2h0M86.9 59.5h0M86.7 60.3h0M83.2 57.1h0M141.4 99.6h0M96.5 69.7h0M99.1 72.1h0M136.2 95.8h0M121.2 88.4h0M90.7 63.9h0M108.2 79.8h0M139.8 98.1h0M104.0 76.7h0M127.6 92.3h0M84.3 58.0h0M128.8 92.6h0M132.2 94.6h0M135.7 95.2h0" stroke="#1aa040" stroke-width="1.4" stroke-linecap="round" fill="none" />
<path d="M153.3 107.8h0M153.4 106.8h0M158.6 111.0h0M150.1 106.1h0M160.0 112.9h0M159.6 111.4h0M156.7 109.2h0M148.6 103.2h0M156.6 108.9h0M155.8 109.0h0M158.0 110.6h0M150.8 105.4h0M160.4 112.8h0M159.5 110.9h0M149.5 104.5h0M152.1 106.6h0M148.4 104.4h0M158.8 111.7h0M159.9 112.0h0M160.9 112.2h0M156.0 109.1h0M156.7 108.7h0" stroke="#107a34" stroke-width="1.9" stroke-linecap="round" fill="none" />
<path d="M125.6 99.2h0M100.0 82.8h0M77.2 62.3h0M121.9 98.0h0M91.0 74.4h0M85.1 68.9h0M122.6 99.0h0M116.1 93.8h0M89.1 72.5h0M92.3 75.7h0M130.5 102.9h0M92.3 75.3h0M117.0 95.0h0M84.4 68.0h0M123.5 98.6h0M83.7 67.4h0M106.4 86.9h0M79.0 63.0h0M108.4 89.4h0M125.3 99.0h0M81.8 65.6h0M92.6 76.2h0M120.6 96.3h0M111.7 91.4h0M94.8 77.3h0M112.8 92.8h0M102.9 86.0h0M126.2 101.2h0M93.7 76.7h0M120.2 97.1h0M113.2 92.5h0M119.2 96.1h0M98.6 82.0h0M118.3 94.9h0M116.8 95.3h0M99.1 81.5h0M78.5 63.3h0M131.9 103.4h0M117.7 94.9h0M88.7 72.3h0M118.7 96.2h0M92.9 76.1h0M103.7 85.7h0M126.0 99.7h0M102.5 83.3h0M93.4 77.1h0M94.4 77.9h0M81.4 65.4h0M89.5 73.0h0M92.5 76.2h0M86.9 70.2h0M80.6 64.2h0M103.5 85.2h0M89.2 73.3h0M119.1 95.3h0M129.6 102.6h0M92.6 75.4h0M109.6 89.2h0M105.9 87.8h0M81.3 65.1h0M84.1 67.1h0M127.4 100.6h0M104.0 86.2h0M122.9 98.8h0M80.8 64.5h0M110.9 91.0h0M126.3 100.5h0M126.4 99.8h0M77.3 61.5h0M106.7 87.7h0M98.0 80.4h0M120.3 96.5h0M81.2 65.1h0M92.1 75.4h0M123.3 98.1h0M103.8 85.2h0M102.8 85.3h0M132.2 103.6h0M95.2 78.8h0M79.4 64.0h0M99.4 82.1h0M85.7 70.6h0M81.7 65.1h0M109.4 90.1h0M131.4 102.8h0M110.0 91.1h0M113.9 93.8h0M95.4 77.4h0M109.6 89.2h0M119.9 96.8h0M110.6 91.0h0M122.8 98.5h0M108.4 88.9h0M88.3 72.0h0M110.2 90.6h0M105.0 86.4h0M86.5 70.6h0M112.3 90.5h0M123.6 98.9h0M84.7 67.8h0M108.1 89.2h0M118.8 95.7h0M100.0 81.8h0M92.4 75.8h0M98.2 80.3h0M107.9 88.1h0M116.1 93.5h0M108.9 89.3h0M83.1 67.2h0M123.6 99.2h0M129.7 101.9h0M82.8 67.2h0M91.2 74.5h0M86.9 70.4h0M125.4 99.9h0M128.9 102.2h0M79.5 63.3h0M95.9 78.8h0M88.0 71.4h0M103.8 85.5h0M129.5 101.5h0M81.0 65.5h0M86.8 70.1h0M104.8 86.6h0M106.9 87.4h0M119.5 96.5h0M101.9 84.2h0M85.0 68.5h0M97.2 81.1h0M133.0 104.1h0M119.8 97.4h0M83.6 67.9h0M123.1 97.9h0M94.7 77.6h0M121.5 97.7h0M77.7 61.8h0M126.7 100.4h0M86.3 69.7h0M103.0 83.8h0M114.7 93.4h0M105.9 86.0h0M86.4 70.2h0M84.9 68.2h0M93.2 76.0h0M80.0 63.9h0M89.3 72.9h0M84.4 67.4h0M103.5 84.3h0M97.3 79.5h0M110.4 89.3h0M93.0 75.7h0M78.9 63.8h0M95.9 78.3h0M120.0 96.9h0M91.6 74.1h0M100.1 82.5h0M120.0 96.4h0M100.2 82.5h0M127.6 101.2h0M129.3 102.8h0M94.7 77.9h0M118.9 96.0h0M91.4 74.2h0M85.0 69.0h0M102.0 83.8h0M111.3 91.5h0M130.3 102.4h0M85.3 69.9h0M117.6 94.1h0M104.1 85.6h0M84.5 68.7h0M132.4 103.4h0M116.7 94.2h0M84.3 67.9h0M128.6 100.7h0M82.9 66.8h0M82.3 67.5h0M95.9 79.5h0M130.5 101.9h0M78.9 62.4h0M129.3 101.6h0M111.9 92.0h0M80.8 64.3h0M109.4 89.3h0M103.2 85.4h0M109.1 90.0h0M119.0 95.8h0M115.7 93.5h0M133.8 103.5h0M85.9 69.2h0M123.3 97.2h0M100.4 83.1h0M121.6 97.1h0M127.8 101.3h0M133.5 105.2h0M92.2 76.0h0M102.8 84.0h0M130.7 103.1h0M130.9 103.4h0M98.3 80.5h0M130.6 102.0h0M100.1 82.4h0M98.4 80.1h0M120.1 97.4h0M103.9 84.2h0M102.5 83.8h0M99.0 81.4h0M101.7 83.6h0M85.0 68.8h0M80.5 64.6h0M120.0 96.4h0M109.2 90.1h0M115.3 92.7h0M122.7 98.1h0M90.1 73.1h0M90.3 73.8h0M92.8 76.2h0M94.3 76.9h0M120.4 96.4h0M98.3 81.4h0M95.4 78.6h0M113.3 92.1h0M87.6 72.3h0M83.1 68.1h0M116.7 93.9h0M120.1 96.8h0M93.9 78.4h0M113.3 92.9h0M78.9 63.1h0M100.0 82.3h0M109.9 89.8h0M91.4 74.6h0M96.8 79.4h0M111.7 91.8h0M110.6 90.3h0M85.8 69.2h0M117.3 94.3h0M81.6 65.4h0M132.3 103.0h0M88.5 71.9h0M91.5 75.3h0M88.4 72.1h0M133.5 104.5h0M93.3 76.7h0M111.5 91.2h0M133.5 104.1h0M131.2 102.7h0M79.4 63.8h0M106.7 87.1h0M111.3 91.8h0M117.0 94.9h0M96.1 78.7h0M95.7 78.4h0M77.2 60.9h0M79.0 63.1h0M108.4 88.5h0M81.3 65.9h0M88.5 71.6h0M96.0 77.7h0M81.0 64.6h0M78.8 61.7h0M129.8 102.1h0M101.8 84.4h0M88.7 72.5h0M117.4 94.3h0M77.5 61.1h0M91.0 75.3h0M131.8 103.4h0M128.2 101.2h0M113.2 93.0h0M82.3 67.5h0M95.1 78.9h0M78.6 62.7h0M89.5 73.1h0M78.4 62.8h0M84.2 67.6h0M113.1 91.7h0M82.7 66.6h0M85.9 69.0h0M128.5 101.3h0" stroke="#00005a" stroke-width="2.5" stroke-linecap="round" fill="none" />
<path d="M125.6 99.2h0M100.0 82.8h0M77.2 62.3h0M121.9 98.0h0M91.0 74.4h0M85.1 68.9h0M122.6 99.0h0M116.1 93.8h0M89.1 72.5h0M92.3 75.7h0M130.5 102.9h0M92.3 75.3h0M117.0 95.0h0M84.4 68.0h0M123.5 98.6h0M83.7 67.4h0M106.4 86.9h0M79.0 63.0h0M108.4 89.4h0M125.3 99.0h0M81.8 65.6h0M92.6 76.2h0M120.6 96.3h0M111.7 91.4h0M94.8 77.3h0M112.8 92.8h0M102.9 86.0h0M126.2 101.2h0M93.7 76.7h0M120.2 97.1h0M113.2 92.5h0M119.2 96.1h0M98.6 82.0h0M118.3 94.9h0M116.8 95.3h0M99.1 81.5h0M78.5 63.3h0M131.9 103.4h0M117.7 94.9h0M88.7 72.3h0M118.7 96.2h0M92.9 76.1h0M103.7 85.7h0M126.0 99.7h0M102.5 83.3h0M93.4 77.1h0M94.4 77.9h0M81.4 65.4h0M89.5 73.0h0M92.5 76.2h0M86.9 70.2h0M80.6 64.2h0M103.5 85.2h0M89.2 73.3h0M119.1 95.3h0M129.6 102.6h0M92.6 75.4h0M109.6 89.2h0M105.9 87.8h0M81.3 65.1h0M84.1 67.1h0M127.4 100.6h0M104.0 86.2h0M122.9 98.8h0M80.8 64.5h0M110.9 91.0h0M126.3 100.5h0M126.4 99.8h0M77.3 61.5h0M106.7 87.7h0M98.0 80.4h0M120.3 96.5h0M81.2 65.1h0M92.1 75.4h0M123.3 98.1h0M103.8 85.2h0M102.8 85.3h0M132.2 103.6h0M95.2 78.8h0M79.4 64.0h0M99.4 82.1h0M85.7 70.6h0M81.7 65.1h0M109.4 90.1h0M131.4 102.8h0M110.0 91.1h0M113.9 93.8h0M95.4 77.4h0M109.6 89.2h0M119.9 96.8h0M110.6 91.0h0M122.8 98.5h0M108.4 88.9h0M88.3 72.0h0M110.2 90.6h0M105.0 86.4h0M86.5 70.6h0M112.3 90.5h0M123.6 98.9h0M84.7 67.8h0M108.1 89.2h0M118.8 95.7h0M100.0 81.8h0M92.4 75.8h0M98.2 80.3h0M107.9 88.1h0M116.1 93.5h0M108.9 89.3h0M83.1 67.2h0M123.6 99.2h0M129.7 101.9h0M82.8 67.2h0M91.2 74.5h0M86.9 70.4h0M125.4 99.9h0M128.9 102.2h0M79.5 63.3h0M95.9 78.8h0M88.0 71.4h0M103.8 85.5h0M129.5 101.5h0M81.0 65.5h0M86.8 70.1h0M104.8 86.6h0M106.9 87.4h0M119.5 96.5h0M101.9 84.2h0M85.0 68.5h0M97.2 81.1h0M133.0 104.1h0M119.8 97.4h0M83.6 67.9h0M123.1 97.9h0M94.7 77.6h0M121.5 97.7h0M77.7 61.8h0M126.7 100.4h0M86.3 69.7h0M103.0 83.8h0M114.7 93.4h0M105.9 86.0h0M86.4 70.2h0M84.9 68.2h0M93.2 76.0h0M80.0 63.9h0M89.3 72.9h0M84.4 67.4h0M103.5 84.3h0M97.3 79.5h0M110.4 89.3h0M93.0 75.7h0M78.9 63.8h0M95.9 78.3h0M120.0 96.9h0M91.6 74.1h0M100.1 82.5h0M120.0 96.4h0M100.2 82.5h0M127.6 101.2h0M129.3 102.8h0M94.7 77.9h0M118.9 96.0h0M91.4 74.2h0M85.0 69.0h0M102.0 83.8h0M111.3 91.5h0M130.3 102.4h0M85.3 69.9h0M117.6 94.1h0M104.1 85.6h0M84.5 68.7h0M132.4 103.4h0M116.7 94.2h0M84.3 67.9h0M128.6 100.7h0M82.9 66.8h0M82.3 67.5h0M95.9 79.5h0M130.5 101.9h0M78.9 62.4h0M129.3 101.6h0M111.9 92.0h0M80.8 64.3h0M109.4 89.3h0M103.2 85.4h0M109.1 90.0h0M119.0 95.8h0M115.7 93.5h0M133.8 103.5h0M85.9 69.2h0M123.3 97.2h0M100.4 83.1h0M121.6 97.1h0M127.8 101.3h0M133.5 105.2h0M92.2 76.0h0M102.8 84.0h0M130.7 103.1h0M130.9 103.4h0M98.3 80.5h0M130.6 102.0h0M100.1 82.4h0M98.4 80.1h0M120.1 97.4h0M103.9 84.2h0M102.5 83.8h0M99.0 81.4h0M101.7 83.6h0M85.0 68.8h0M80.5 64.6h0M120.0 96.4h0M109.2 90.1h0M115.3 92.7h0M122.7 98.1h0M90.1 73.1h0M90.3 73.8h0M92.8 76.2h0M94.3 76.9h0M120.4 96.4h0M98.3 81.4h0M95.4 78.6h0M113.3 92.1h0M87.6 72.3h0M83.1 68.1h0M116.7 93.9h0M120.1 96.8h0M93.9 78.4h0M113.3 92.9h0M78.9 63.1h0M100.0 82.3h0M109.9 89.8h0M91.4 74.6h0M96.8 79.4h0M111.7 91.8h0M110.6 90.3h0M85.8 69.2h0M117.3 94.3h0M81.6 65.4h0M132.3 103.0h0M88.5 71.9h0M91.5 75.3h0M88.4 72.1h0M133.5 104.5h0M93.3 76.7h0M111.5 91.2h0M133.5 104.1h0M131.2 102.7h0M79.4 63.8h0M106.7 87.1h0M111.3 91.8h0M117.0 94.9h0M96.1 78.7h0M95.7 78.4h0M77.2 60.9h0M79.0 63.1h0M108.4 88.5h0M81.3 65.9h0M88.5 71.6h0M96.0 77.7h0M81.0 64.6h0M78.8 61.7h0M129.8 102.1h0M101.8 84.4h0M88.7 72.5h0M117.4 94.3h0M77.5 61.1h0M91.0 75.3h0M131.8 103.4h0M128.2 101.2h0M113.2 93.0h0M82.3 67.5h0M95.1 78.9h0M78.6 62.7h0M89.5 73.1h0M78.4 62.8h0M84.2 67.6h0M113.1 91.7h0M82.7 66.6h0M85.9 69.0h0M128.5 101.3h0" stroke="#0a10b0" stroke-width="1.4" stroke-linecap="round" fill="none" />
<g fill="#fff" stroke="#0a0a80" stroke-width="0.55"><circle cx="158.8" cy="120.2" r="1.0"/><circle cx="147.4" cy="115.4" r="1.0"/><circle cx="137.5" cy="105.1" r="1.0"/><circle cx="148.0" cy="114.1" r="1.0"/><circle cx="140.9" cy="109.6" r="1.0"/><circle cx="145.4" cy="112.5" r="1.0"/><circle cx="151.9" cy="116.3" r="1.0"/><circle cx="159.6" cy="121.5" r="1.0"/><circle cx="156.4" cy="119.7" r="1.0"/><circle cx="138.5" cy="107.6" r="1.0"/><circle cx="147.4" cy="112.5" r="1.0"/><circle cx="147.8" cy="114.2" r="1.0"/><circle cx="161.7" cy="122.1" r="1.0"/><circle cx="136.4" cy="105.6" r="1.0"/><circle cx="148.3" cy="114.8" r="1.0"/><circle cx="159.6" cy="122.1" r="1.0"/><circle cx="145.2" cy="113.3" r="1.0"/><circle cx="141.3" cy="109.3" r="1.0"/><circle cx="149.6" cy="116.2" r="1.0"/><circle cx="143.0" cy="111.9" r="1.0"/><circle cx="160.0" cy="122.7" r="1.0"/><circle cx="136.4" cy="107.1" r="1.0"/></g>
<path d="M89.8 55.5h0M104.7 69.7h0M141.7 95.2h0M115.4 77.0h0M113.1 76.1h0M138.8 93.3h0M98.7 64.6h0M142.0 94.5h0M136.7 91.8h0M103.5 69.0h0M101.3 67.7h0M89.2 56.0h0M136.9 91.9h0M92.7 59.0h0M82.0 48.5h0M135.3 91.0h0M117.7 79.4h0M122.1 83.0h0M125.9 84.5h0M84.1 50.5h0M87.1 53.5h0M111.7 74.6h0M84.5 50.5h0M112.0 74.7h0M126.0 84.1h0M121.3 81.0h0M118.8 80.0h0M84.3 50.5h0M95.8 62.5h0M135.8 90.8h0M89.0 56.2h0M113.8 76.6h0M84.5 51.7h0M138.3 93.5h0M91.9 59.2h0M106.3 71.3h0M114.6 77.2h0M125.0 84.8h0M138.2 92.5h0M126.0 84.8h0M102.5 69.1h0M86.1 52.7h0M124.3 83.5h0M140.3 94.6h0M82.5 48.6h0M128.4 86.0h0M92.2 58.4h0M109.3 73.1h0M113.1 75.7h0M118.7 79.5h0M141.4 94.5h0M123.1 82.6h0M105.2 70.0h0M124.8 84.3h0M109.7 74.2h0M106.5 71.8h0M103.6 69.2h0M111.4 74.7h0M98.5 65.2h0M96.1 63.1h0M90.5 56.3h0M108.1 72.9h0M99.2 66.9h0M132.1 87.7h0M132.8 89.6h0M102.3 68.4h0M119.0 79.7h0M136.1 92.2h0M103.2 68.4h0M115.1 77.3h0M108.3 73.4h0M120.8 80.8h0M139.6 93.5h0M89.9 56.5h0M139.9 93.6h0M121.8 82.2h0M129.7 86.3h0M119.9 80.7h0M134.2 89.5h0M101.2 67.6h0M124.3 83.1h0M97.5 62.9h0M112.3 75.4h0M122.7 81.6h0M93.7 60.2h0M85.2 52.3h0M129.4 86.0h0M130.4 86.8h0M121.8 82.2h0M100.9 67.1h0M121.3 81.9h0M86.6 53.2h0M121.6 81.0h0M116.4 78.0h0M118.8 80.2h0M108.5 73.3h0M95.1 61.9h0M125.4 83.9h0M109.6 73.5h0M126.6 84.3h0M103.5 70.1h0M86.8 53.3h0M114.3 76.2h0M119.2 79.6h0M137.3 92.8h0M135.2 91.2h0M85.0 51.3h0M128.2 85.3h0M97.3 63.9h0M123.7 82.0h0M104.5 69.4h0M101.0 67.4h0M111.0 74.3h0M113.6 76.4h0M123.5 83.2h0M120.1 80.8h0M122.5 82.0h0M104.7 71.3h0M122.5 82.3h0M102.4 68.1h0M118.3 79.6h0M109.3 73.6h0M115.5 77.2h0M82.6 49.0h0M111.7 74.9h0M94.8 60.7h0M104.8 70.3h0M86.0 52.3h0M121.2 81.0h0M135.6 90.4h0M103.0 68.6h0M87.9 54.3h0M119.0 79.8h0M89.2 55.2h0M135.4 91.4h0M88.9 54.9h0M103.4 69.0h0M111.4 75.4h0M88.6 54.8h0M100.8 66.7h0M98.2 65.1h0M124.7 83.2h0M141.2 94.2h0M103.5 69.3h0M129.3 87.0h0M90.0 55.5h0M116.6 77.8h0M107.7 71.8h0M98.9 64.8h0M131.2 87.5h0M126.7 84.3h0M89.6 56.3h0M99.2 65.1h0M131.1 87.9h0M141.5 94.7h0M118.5 79.1h0M134.2 90.2h0M141.0 95.1h0M126.3 84.6h0M120.5 80.4h0M94.9 61.6h0M103.9 69.1h0M119.2 80.0h0M137.5 93.1h0M99.8 65.6h0M105.4 70.7h0M82.8 49.7h0M123.7 82.5h0M108.3 72.8h0M129.8 86.4h0M95.6 62.0h0M121.4 81.1h0M122.2 82.8h0M109.6 73.4h0M92.9 59.4h0M105.9 70.8h0M126.6 84.5h0M92.9 59.9h0M86.9 53.5h0M109.5 74.4h0M95.7 62.6h0M129.9 87.6h0M130.9 87.8h0M138.7 93.6h0M132.3 88.1h0M120.7 80.8h0M92.8 59.5h0M131.3 87.9h0M125.5 83.0h0M126.7 85.1h0M123.7 82.6h0M131.7 88.1h0M99.5 65.7h0M122.2 81.7h0M112.8 75.9h0M101.9 67.3h0M101.3 66.9h0M90.9 57.6h0M111.2 74.7h0M103.8 69.3h0M107.0 71.6h0M133.0 88.9h0M122.7 82.1h0M122.7 82.6h0M141.0 93.8h0M94.7 62.1h0M112.2 75.7h0M87.1 53.4h0M105.3 71.0h0M139.0 92.8h0M86.7 52.4h0M127.3 84.5h0M133.9 89.7h0M112.3 75.2h0M129.8 86.6h0M108.2 72.7h0M102.9 67.7h0M112.1 75.5h0M93.3 59.3h0M100.1 66.0h0M100.0 66.0h0M141.3 93.9h0M101.8 67.1h0M95.3 61.7h0M138.4 93.1h0M89.9 56.7h0M139.9 94.1h0M133.1 88.9h0M120.6 80.4h0M107.4 71.7h0M93.4 60.3h0M87.9 53.5h0M87.8 54.8h0M102.6 68.2h0M106.1 70.9h0M137.4 92.7h0M113.9 77.0h0M141.4 94.6h0M125.1 84.1h0M90.4 57.0h0M115.0 77.7h0M91.1 58.3h0M83.9 50.2h0M138.6 93.9h0M101.9 68.0h0M93.0 59.7h0M87.7 53.7h0M121.0 80.9h0M109.4 73.8h0M82.2 48.0h0M124.8 83.7h0M97.0 63.8h0M128.7 86.2h0M111.1 73.6h0M113.9 76.4h0M109.2 73.6h0M122.4 81.6h0M141.4 94.5h0M129.8 85.8h0M85.7 52.4h0M111.4 74.5h0M95.7 62.9h0M87.7 53.4h0M93.3 60.3h0M96.5 63.1h0M139.6 94.0h0M126.6 84.2h0M133.1 89.1h0M123.8 83.8h0M100.6 66.4h0M105.2 70.3h0M108.2 72.5h0M99.3 65.1h0M107.0 72.4h0M128.2 86.4h0M86.1 52.2h0M98.2 63.9h0M110.5 74.7h0M122.4 82.4h0M120.6 81.1h0" stroke="#8a0000" stroke-width="2.3" stroke-linecap="round" fill="none" />
<path d="M89.8 55.5h0M104.7 69.7h0M141.7 95.2h0M115.4 77.0h0M113.1 76.1h0M138.8 93.3h0M98.7 64.6h0M142.0 94.5h0M136.7 91.8h0M103.5 69.0h0M101.3 67.7h0M89.2 56.0h0M136.9 91.9h0M92.7 59.0h0M82.0 48.5h0M135.3 91.0h0M117.7 79.4h0M122.1 83.0h0M125.9 84.5h0M84.1 50.5h0M87.1 53.5h0M111.7 74.6h0M84.5 50.5h0M112.0 74.7h0M126.0 84.1h0M121.3 81.0h0M118.8 80.0h0M84.3 50.5h0M95.8 62.5h0M135.8 90.8h0M89.0 56.2h0M113.8 76.6h0M84.5 51.7h0M138.3 93.5h0M91.9 59.2h0M106.3 71.3h0M114.6 77.2h0M125.0 84.8h0M138.2 92.5h0M126.0 84.8h0M102.5 69.1h0M86.1 52.7h0M124.3 83.5h0M140.3 94.6h0M82.5 48.6h0M128.4 86.0h0M92.2 58.4h0M109.3 73.1h0M113.1 75.7h0M118.7 79.5h0M141.4 94.5h0M123.1 82.6h0M105.2 70.0h0M124.8 84.3h0M109.7 74.2h0M106.5 71.8h0M103.6 69.2h0M111.4 74.7h0M98.5 65.2h0M96.1 63.1h0M90.5 56.3h0M108.1 72.9h0M99.2 66.9h0M132.1 87.7h0M132.8 89.6h0M102.3 68.4h0M119.0 79.7h0M136.1 92.2h0M103.2 68.4h0M115.1 77.3h0M108.3 73.4h0M120.8 80.8h0M139.6 93.5h0M89.9 56.5h0M139.9 93.6h0M121.8 82.2h0M129.7 86.3h0M119.9 80.7h0M134.2 89.5h0M101.2 67.6h0M124.3 83.1h0M97.5 62.9h0M112.3 75.4h0M122.7 81.6h0M93.7 60.2h0M85.2 52.3h0M129.4 86.0h0M130.4 86.8h0M121.8 82.2h0M100.9 67.1h0M121.3 81.9h0M86.6 53.2h0M121.6 81.0h0M116.4 78.0h0M118.8 80.2h0M108.5 73.3h0M95.1 61.9h0M125.4 83.9h0M109.6 73.5h0M126.6 84.3h0M103.5 70.1h0M86.8 53.3h0M114.3 76.2h0M119.2 79.6h0M137.3 92.8h0M135.2 91.2h0M85.0 51.3h0M128.2 85.3h0M97.3 63.9h0M123.7 82.0h0M104.5 69.4h0M101.0 67.4h0M111.0 74.3h0M113.6 76.4h0M123.5 83.2h0M120.1 80.8h0M122.5 82.0h0M104.7 71.3h0M122.5 82.3h0M102.4 68.1h0M118.3 79.6h0M109.3 73.6h0M115.5 77.2h0M82.6 49.0h0M111.7 74.9h0M94.8 60.7h0M104.8 70.3h0M86.0 52.3h0M121.2 81.0h0M135.6 90.4h0M103.0 68.6h0M87.9 54.3h0M119.0 79.8h0M89.2 55.2h0M135.4 91.4h0M88.9 54.9h0M103.4 69.0h0M111.4 75.4h0M88.6 54.8h0M100.8 66.7h0M98.2 65.1h0M124.7 83.2h0M141.2 94.2h0M103.5 69.3h0M129.3 87.0h0M90.0 55.5h0M116.6 77.8h0M107.7 71.8h0M98.9 64.8h0M131.2 87.5h0M126.7 84.3h0M89.6 56.3h0M99.2 65.1h0M131.1 87.9h0M141.5 94.7h0M118.5 79.1h0M134.2 90.2h0M141.0 95.1h0M126.3 84.6h0M120.5 80.4h0M94.9 61.6h0M103.9 69.1h0M119.2 80.0h0M137.5 93.1h0M99.8 65.6h0M105.4 70.7h0M82.8 49.7h0M123.7 82.5h0M108.3 72.8h0M129.8 86.4h0M95.6 62.0h0M121.4 81.1h0M122.2 82.8h0M109.6 73.4h0M92.9 59.4h0M105.9 70.8h0M126.6 84.5h0M92.9 59.9h0M86.9 53.5h0M109.5 74.4h0M95.7 62.6h0M129.9 87.6h0M130.9 87.8h0M138.7 93.6h0M132.3 88.1h0M120.7 80.8h0M92.8 59.5h0M131.3 87.9h0M125.5 83.0h0M126.7 85.1h0M123.7 82.6h0M131.7 88.1h0M99.5 65.7h0M122.2 81.7h0M112.8 75.9h0M101.9 67.3h0M101.3 66.9h0M90.9 57.6h0M111.2 74.7h0M103.8 69.3h0M107.0 71.6h0M133.0 88.9h0M122.7 82.1h0M122.7 82.6h0M141.0 93.8h0M94.7 62.1h0M112.2 75.7h0M87.1 53.4h0M105.3 71.0h0M139.0 92.8h0M86.7 52.4h0M127.3 84.5h0M133.9 89.7h0M112.3 75.2h0M129.8 86.6h0M108.2 72.7h0M102.9 67.7h0M112.1 75.5h0M93.3 59.3h0M100.1 66.0h0M100.0 66.0h0M141.3 93.9h0M101.8 67.1h0M95.3 61.7h0M138.4 93.1h0M89.9 56.7h0M139.9 94.1h0M133.1 88.9h0M120.6 80.4h0M107.4 71.7h0M93.4 60.3h0M87.9 53.5h0M87.8 54.8h0M102.6 68.2h0M106.1 70.9h0M137.4 92.7h0M113.9 77.0h0M141.4 94.6h0M125.1 84.1h0M90.4 57.0h0M115.0 77.7h0M91.1 58.3h0M83.9 50.2h0M138.6 93.9h0M101.9 68.0h0M93.0 59.7h0M87.7 53.7h0M121.0 80.9h0M109.4 73.8h0M82.2 48.0h0M124.8 83.7h0M97.0 63.8h0M128.7 86.2h0M111.1 73.6h0M113.9 76.4h0M109.2 73.6h0M122.4 81.6h0M141.4 94.5h0M129.8 85.8h0M85.7 52.4h0M111.4 74.5h0M95.7 62.9h0M87.7 53.4h0M93.3 60.3h0M96.5 63.1h0M139.6 94.0h0M126.6 84.2h0M133.1 89.1h0M123.8 83.8h0M100.6 66.4h0M105.2 70.3h0M108.2 72.5h0M99.3 65.1h0M107.0 72.4h0M128.2 86.4h0M86.1 52.2h0M98.2 63.9h0M110.5 74.7h0M122.4 82.4h0M120.6 81.1h0" stroke="#dd0a0a" stroke-width="1.4" stroke-linecap="round" fill="none" />
<path d="M149.9 96.9h0M146.5 97.0h0M143.0 94.5h0M149.9 97.6h0M164.8 106.7h0M147.0 96.8h0M152.5 98.5h0M164.4 107.0h0M142.2 94.4h0M148.8 97.7h0M160.9 104.1h0M144.2 96.4h0M163.4 105.3h0M161.2 104.7h0M145.3 95.8h0M155.6 101.6h0M154.8 100.2h0M158.0 102.2h0M149.1 98.7h0M150.8 98.7h0M147.5 97.1h0M148.7 98.7h0M146.0 96.6h0M162.8 104.8h0M162.4 105.3h0M150.3 97.7h0M157.9 102.9h0M153.3 100.3h0M148.5 97.2h0M150.0 97.8h0M164.2 106.1h0M149.9 98.1h0M155.3 100.4h0M163.7 106.0h0M148.8 96.6h0M160.6 103.6h0M144.6 95.6h0M158.9 102.7h0M160.6 104.0h0M161.3 103.6h0M164.4 106.4h0M158.4 102.5h0M164.5 105.9h0M148.4 96.8h0M154.0 99.5h0" stroke="#a00808" stroke-width="1.7" stroke-linecap="round" fill="none" />
<g fill="#c8c8c8" stroke="#333" stroke-width="0.6"><circle cx="38.3" cy="11.3" r="1.45"/><circle cx="39.3" cy="11.8" r="1.45"/><circle cx="40.3" cy="13.4" r="1.45"/><circle cx="41.4" cy="15.0" r="1.45"/><circle cx="42.4" cy="16.1" r="1.45"/><circle cx="43.4" cy="17.5" r="1.45"/><circle cx="44.4" cy="17.6" r="1.45"/><circle cx="45.4" cy="18.4" r="1.45"/><circle cx="46.4" cy="20.5" r="1.45"/><circle cx="47.5" cy="21.3" r="1.45"/><circle cx="48.5" cy="22.8" r="1.45"/><circle cx="49.5" cy="23.4" r="1.45"/><circle cx="58.4" cy="34.8" r="1.45"/><circle cx="64.1" cy="41.4" r="1.45"/><circle cx="68.0" cy="45.8" r="1.45"/><circle cx="72.0" cy="50.3" r="1.45"/></g>
<g fill="#fff" stroke="#000" stroke-width="0.5"><circle cx="74.0" cy="51.9" r="1.05"/><circle cx="75.9" cy="53.5" r="1.05"/><circle cx="77.8" cy="55.2" r="1.05"/><circle cx="79.7" cy="57.2" r="1.05"/><circle cx="81.5" cy="58.3" r="1.05"/><circle cx="83.4" cy="61.3" r="1.05"/><circle cx="85.3" cy="62.3" r="1.05"/><circle cx="87.2" cy="64.7" r="1.05"/><circle cx="89.1" cy="66.0" r="1.05"/><circle cx="91.0" cy="67.8" r="1.05"/><circle cx="92.9" cy="70.9" r="1.05"/><circle cx="94.7" cy="71.6" r="1.05"/><circle cx="96.6" cy="72.9" r="1.05"/><circle cx="98.5" cy="74.9" r="1.05"/><circle cx="100.4" cy="76.8" r="1.05"/><circle cx="102.3" cy="79.7" r="1.05"/><circle cx="104.2" cy="80.4" r="1.05"/><circle cx="106.1" cy="82.3" r="1.05"/><circle cx="107.9" cy="82.7" r="1.05"/><circle cx="109.8" cy="84.8" r="1.05"/><circle cx="111.7" cy="86.4" r="1.05"/><circle cx="113.6" cy="88.4" r="1.05"/><circle cx="115.5" cy="88.6" r="1.05"/><circle cx="117.4" cy="90.5" r="1.05"/><circle cx="119.3" cy="91.7" r="1.05"/><circle cx="121.1" cy="92.3" r="1.05"/><circle cx="123.0" cy="94.1" r="1.05"/><circle cx="124.9" cy="95.3" r="1.05"/><circle cx="126.8" cy="95.5" r="1.05"/><circle cx="128.7" cy="98.2" r="1.05"/><circle cx="130.6" cy="99.2" r="1.05"/><circle cx="132.5" cy="99.7" r="1.05"/><circle cx="134.3" cy="100.3" r="1.05"/><circle cx="136.2" cy="102.8" r="1.05"/><circle cx="138.1" cy="103.2" r="1.05"/><circle cx="140.0" cy="104.7" r="1.05"/><circle cx="144.9" cy="107.0" r="1.05"/><circle cx="146.1" cy="107.6" r="1.05"/><circle cx="151.1" cy="110.5" r="1.05"/><circle cx="153.1" cy="112.4" r="1.05"/></g>
<path d="M138.4 94.6h0M179.7 105.3h0M179.7 112.4h0M210.7 124.6h0M210.7 127.4h0M215.4 128.2h0M242.2 140.4h0" stroke="#ff9900" stroke-width="2.6" stroke-linecap="round" fill="none" />
<path d="M219.4 130.6h0" stroke="#c8a070" stroke-width="2.6" stroke-linecap="round" fill="none" />
<path d="M183.0 126.0h0M191.0 132.5h0M214.6 135.3h0M221.3 140.4h0M225.3 145.0h0M228.0 143.0h0M238.3 147.0h0M242.2 149.0h0M247.7 154.2h0M276.5 167.6h0M179.7 119.6h0M182.0 126.5h0M166.0 114.0h0M170.0 117.0h0" stroke="#22a455" stroke-width="2.6" stroke-linecap="round" fill="none" />
<path d="M107.0 93.0h0M136.5 113.7h0M179.7 131.6h0M209.5 143.0h0M209.5 149.0h0M213.5 145.0h0M190.0 133.0h0" stroke="#8a2be2" stroke-width="2.6" stroke-linecap="round" fill="none" /></g>
<g clip-path="url(#cm2)"><polyline points="358.5,117.6 359.0,117.4 359.5,117.3 360.0,117.1 360.5,117.0 361.0,116.8 361.5,116.6 362.0,116.5 362.5,116.3 363.0,116.2 363.5,116.0 364.0,115.8 364.5,115.7 365.0,115.5 365.5,115.4 366.0,115.2 366.5,115.1 367.0,114.9 367.5,114.7 368.0,114.6 368.5,114.4 369.0,114.3 369.5,114.1 369.9,113.9 370.4,113.8 370.9,113.6 371.4,113.5 371.9,113.3 372.4,113.1 372.9,113.0 373.4,112.8 373.9,112.7 374.4,112.5 374.9,112.3 375.4,112.2 375.9,112.0 376.4,111.9 376.9,111.7 377.4,111.5 377.9,111.4 378.4,111.2 378.9,111.1 379.4,110.9 379.9,110.8 380.4,110.6 380.9,110.4 381.4,110.3 381.9,110.1 382.4,110.0 382.9,109.8 383.4,109.6 383.9,109.5 384.4,109.3 384.9,109.2 385.4,109.0 385.9,108.8 386.4,108.7 386.9,108.5 387.4,108.4 387.9,108.2 388.4,108.0 388.9,107.9 389.4,107.7 389.9,107.6 390.4,107.4 390.9,107.2 391.4,107.1 391.9,106.9 392.4,106.8 392.8,106.6 393.3,106.4 393.8,106.3 394.3,106.1 394.8,106.0 395.3,105.8 395.8,105.7 396.3,105.5 396.8,105.3 397.3,105.2 397.8,105.0 398.3,104.9 398.8,104.7 399.3,104.5 399.8,104.4 400.3,104.2 400.8,104.1 401.3,103.9 401.8,103.7 402.3,103.6 402.8,103.4 403.3,103.3 403.8,103.1 404.3,102.9 404.8,102.8 405.3,102.6 405.8,102.5 406.3,102.3 406.8,102.1 407.3,102.0 407.8,101.8 408.3,101.7 408.8,101.5 409.3,101.4 409.8,101.2 410.3,101.0 410.8,100.9 411.3,100.7 411.8,100.6 412.3,100.4 412.8,100.2 413.3,100.1 413.8,99.9 414.3,99.8 414.8,99.6 415.2,99.4 415.7,99.3 416.2,99.1 416.7,99.0 417.2,98.8 417.7,98.6 418.2,98.5 418.7,98.3 419.2,98.2 419.7,98.0 420.2,97.8 420.7,97.7 421.2,97.5 421.7,97.4 422.2,97.2 422.7,97.1 423.2,96.9 423.7,96.7 424.2,96.6 424.7,96.4 425.2,96.3 425.7,96.1 426.2,95.9 426.7,95.8 427.2,95.6 427.7,95.5 428.2,95.3 428.7,95.1 429.2,95.0 429.7,94.8 430.2,94.7 430.7,94.5 431.2,94.3 431.7,94.2 432.2,94.0 432.7,93.9 433.2,93.7 433.7,93.6 434.2,93.4 434.7,93.2 435.2,93.1 435.7,92.9 436.2,92.8 436.7,92.6 437.2,92.5 437.6,92.3 438.1,92.2 438.6,92.0 439.1,91.8 439.6,91.7 440.1,91.5 440.6,91.4 441.1,91.3 441.6,91.1 442.1,91.0 442.6,90.8 443.1,90.7 443.6,90.6 444.1,90.4 444.6,90.3 445.1,90.2 445.6,90.1 446.1,90.0 446.6,89.9 447.1,89.8 447.6,89.7 448.1,89.6 448.6,89.6 449.1,89.5 449.6,89.5 450.1,89.5 450.6,89.5 451.1,89.5 451.6,89.5 452.1,89.6 452.6,89.7 453.1,89.8 453.6,89.9 454.1,90.0 454.6,90.2 455.1,90.3 455.6,90.5 456.1,90.7 456.6,91.0 457.1,91.2 457.6,91.5 458.1,91.8 458.6,92.0 459.1,92.3 459.6,92.6 460.1,93.0 460.5,93.3 461.0,93.6 461.5,94.0 462.0,94.3 462.5,94.6 463.0,95.0 463.5,95.3 464.0,95.7 464.5,96.0 465.0,96.4 465.5,96.8 466.0,97.1 466.5,97.5 467.0,97.8 467.5,98.2 468.0,98.5 468.5,98.9 469.0,99.2 469.5,99.6 470.0,99.9 470.5,100.3 471.0,100.6 471.5,101.0 472.0,101.3 472.5,101.6 473.0,102.0 473.5,102.3 474.0,102.6 474.5,103.0 475.0,103.3 475.5,103.6 476.0,103.9 476.5,104.3 477.0,104.6 477.5,104.9 478.0,105.2 478.5,105.5 479.0,105.8 479.5,106.1 480.0,106.4 480.5,106.7 481.0,107.0 481.5,107.2 482.0,107.5 482.5,107.8 482.9,108.1 483.4,108.4 483.9,108.6 484.4,108.9 484.9,109.2 485.4,109.5 485.9,109.7 486.4,110.0 486.9,110.3 487.4,110.5 487.9,110.8 488.4,111.0 488.9,111.3 489.4,111.5 489.9,111.8 490.4,112.0 490.9,112.3 491.4,112.5 491.9,112.8 492.4,113.0 492.9,113.3 493.4,113.5 493.9,113.8 494.4,114.0 494.9,114.2 495.4,114.5 495.9,114.7 496.4,114.9 496.9,115.2 497.4,115.4 497.9,115.6 498.4,115.9 498.9,116.1 499.4,116.3 499.9,116.6 500.4,116.8 500.9,117.0 501.4,117.2 501.9,117.5 502.4,117.7 502.9,117.9 503.4,118.1 503.9,118.4 504.4,118.6 504.9,118.8 505.3,119.0 505.8,119.2 506.3,119.5 506.8,119.7 507.3,119.9 507.8,120.1 508.3,120.4 508.8,120.6 509.3,120.8 509.8,121.0 510.3,121.2 510.8,121.5 511.3,121.7 511.8,121.9 512.3,122.1 512.8,122.3 513.3,122.6 513.8,122.8 514.3,123.0 514.8,123.2 515.3,123.5 515.8,123.7 516.3,123.9 516.8,124.1 517.3,124.4 517.8,124.6 518.3,124.8 518.8,125.0 519.3,125.3 519.8,125.5 520.3,125.7 520.8,126.0 521.3,126.2 521.8,126.4 522.3,126.7 522.8,126.9 523.3,127.1 523.8,127.3 524.3,127.6 524.8,127.8 525.3,128.0 525.8,128.3 526.3,128.5 526.8,128.7 527.3,128.9 527.8,129.2 528.2,129.4 528.7,129.6 529.2,129.9 529.7,130.1 530.2,130.3 530.7,130.5 531.2,130.8 531.7,131.0 532.2,131.2 532.7,131.4 533.2,131.7 533.7,131.9 534.2,132.1 534.7,132.4 535.2,132.6 535.7,132.8 536.2,133.0 536.7,133.3 537.2,133.5 537.7,133.7 538.2,133.9 538.7,134.1 539.2,134.4 539.7,134.6 540.2,134.8 540.7,135.0 541.2,135.3 541.7,135.5 542.2,135.7 542.7,135.9 543.2,136.2 543.7,136.4 544.2,136.6 544.7,136.8 545.2,137.1 545.7,137.3 546.2,137.5 546.7,137.7 547.2,137.9 547.7,138.2 548.2,138.4 548.7,138.6 549.2,138.8 549.7,139.0 550.2,139.3 550.6,139.5 551.1,139.7 551.6,139.9 552.1,140.1 552.6,140.4 553.1,140.6 553.6,140.8 554.1,141.0 554.6,141.2 555.1,141.5 555.6,141.7 556.1,141.9 556.6,142.1 557.1,142.3 557.6,142.6 558.1,142.8 558.6,143.0 559.1,143.2 559.6,143.4 560.1,143.6 560.6,143.9 561.1,144.1 561.6,144.3 562.1,144.5 562.6,144.7 563.1,144.9 563.6,145.2 564.1,145.4 564.6,145.6 565.1,145.8 565.6,146.0 566.1,146.2 566.6,146.5 567.1,146.7 567.6,146.9 568.1,147.1 568.6,147.3 569.1,147.5 569.6,147.7 570.1,148.0 570.6,148.2 571.1,148.4 571.6,148.6 572.1,148.8 572.6,149.0 573.0,149.2 573.5,149.5 574.0,149.7 574.5,149.9 575.0,150.1 575.5,150.3 576.0,150.5 576.5,150.7 577.0,150.9 577.5,151.1 578.0,151.4 578.5,151.6 579.0,151.8 579.5,152.0 580.0,152.2 580.5,152.4 581.0,152.6 581.5,152.8 582.0,153.1 582.5,153.3 583.0,153.5 583.5,153.7 584.0,153.9 584.5,154.1 585.0,154.3 585.5,154.5 586.0,154.7 586.5,154.9 587.0,155.2 587.5,155.4 588.0,155.6 588.5,155.8 589.0,156.0 589.5,156.2 590.0,156.4 590.5,156.6 591.0,156.8 591.5,157.0 592.0,157.3 592.5,157.5 593.0,157.7 593.5,157.9 594.0,158.1 594.5,158.3 595.0,158.5 595.5,158.7 595.9,158.9 596.4,159.1 596.9,159.4 597.4,159.6 597.9,159.8 598.4,160.0 598.9,160.2 599.4,160.4 599.9,160.6 600.4,160.8 600.9,161.0 601.4,161.2 601.9,161.5 602.4,161.7 602.9,161.9 603.4,162.1 603.9,162.3 604.4,162.5 604.9,162.7 605.4,162.9 605.9,163.1 606.4,163.3 606.9,163.6" fill="none" stroke="#ff1010" stroke-width="0.8" stroke-dasharray="0.8 1.3" opacity="0.6"/>
<polyline points="358.5,-6.6 359.0,-6.1 359.5,-5.6 360.0,-5.0 360.5,-4.5 361.0,-4.0 361.5,-3.4 362.0,-2.9 362.5,-2.4 363.0,-1.8 363.5,-1.3 364.0,-0.8 364.5,-0.2 365.0,0.3 365.5,0.8 366.0,1.4 366.5,1.9 367.0,2.4 367.5,2.9 368.0,3.5 368.5,4.0 369.0,4.5 369.5,5.1 369.9,5.6 370.4,6.1 370.9,6.7 371.4,7.2 371.9,7.7 372.4,8.3 372.9,8.8 373.4,9.3 373.9,9.8 374.4,10.4 374.9,10.9 375.4,11.4 375.9,12.0 376.4,12.5 376.9,13.0 377.4,13.6 377.9,14.1 378.4,14.6 378.9,15.1 379.4,15.7 379.9,16.2 380.4,16.7 380.9,17.3 381.4,17.8 381.9,18.3 382.4,18.8 382.9,19.4 383.4,19.9 383.9,20.4 384.4,21.0 384.9,21.5 385.4,22.0 385.9,22.6 386.4,23.1 386.9,23.6 387.4,24.1 387.9,24.7 388.4,25.2 388.9,25.7 389.4,26.3 389.9,26.8 390.4,27.3 390.9,27.9 391.4,28.4 391.9,28.9 392.4,29.4 392.8,30.0 393.3,30.5 393.8,31.0 394.3,31.6 394.8,32.1 395.3,32.6 395.8,33.2 396.3,33.7 396.8,34.2 397.3,34.8 397.8,35.3 398.3,35.8 398.8,36.4 399.3,36.9 399.8,37.4 400.3,38.0 400.8,38.5 401.3,39.0 401.8,39.6 402.3,40.1 402.8,40.6 403.3,41.2 403.8,41.7 404.3,42.2 404.8,42.8 405.3,43.3 405.8,43.9 406.3,44.4 406.8,44.9 407.3,45.5 407.8,46.0 408.3,46.5 408.8,47.1 409.3,47.6 409.8,48.2 410.3,48.7 410.8,49.2 411.3,49.8 411.8,50.3 412.3,50.9 412.8,51.4 413.3,52.0 413.8,52.5 414.3,53.0 414.8,53.6 415.2,54.1 415.7,54.7 416.2,55.2 416.7,55.8 417.2,56.3 417.7,56.9 418.2,57.4 418.7,57.9 419.2,58.5 419.7,59.0 420.2,59.6 420.7,60.1 421.2,60.7 421.7,61.2 422.2,61.8 422.7,62.3 423.2,62.9 423.7,63.4 424.2,64.0 424.7,64.5 425.2,65.1 425.7,65.6 426.2,66.2 426.7,66.8 427.2,67.3 427.7,67.9 428.2,68.4 428.7,69.0 429.2,69.5 429.7,70.1 430.2,70.6 430.7,71.2 431.2,71.7 431.7,72.3 432.2,72.9 432.7,73.4 433.2,74.0 433.7,74.5 434.2,75.1 434.7,75.6 435.2,76.2 435.7,76.8 436.2,77.3 436.7,77.9 437.2,78.4 437.6,79.0 438.1,79.6 438.6,80.1 439.1,80.7 439.6,81.2 440.1,81.8 440.6,82.4 441.1,82.9 441.6,83.5 442.1,84.0 442.6,84.6 443.1,85.2 443.6,85.7 444.1,86.3 444.6,86.9 445.1,87.4 445.6,88.0 446.1,88.5 446.6,89.1 447.1,89.7 447.6,90.2 448.1,90.8 448.6,91.4 449.1,91.9 449.6,92.5 450.1,93.1 450.6,93.6 451.1,94.2 451.6,94.8 452.1,95.3 452.6,95.9 453.1,96.5 453.6,97.0 454.1,97.6 454.6,98.2 455.1,98.7 455.6,99.3 456.1,99.9 456.6,100.4 457.1,101.0 457.6,101.6 458.1,102.1 458.6,102.7 459.1,103.3 459.6,103.9 460.1,104.4 460.5,105.0 461.0,105.6 461.5,106.1 462.0,106.7 462.5,107.3 463.0,107.8 463.5,108.4 464.0,109.0 464.5,109.6 465.0,110.1 465.5,110.7 466.0,111.3 466.5,111.8 467.0,112.4 467.5,113.0 468.0,113.6 468.5,114.1 469.0,114.7 469.5,115.3 470.0,115.8 470.5,116.4 471.0,117.0 471.5,117.6 472.0,118.1 472.5,118.7 473.0,119.3 473.5,119.9 474.0,120.4 474.5,121.0 475.0,121.6 475.5,122.1 476.0,122.7 476.5,123.3 477.0,123.9 477.5,124.4 478.0,125.0 478.5,125.6 479.0,126.2 479.5,126.7 480.0,127.3 480.5,127.9 481.0,128.5 481.5,129.0 482.0,129.6 482.5,130.2 482.9,130.7 483.4,131.3 483.9,131.9 484.4,132.5 484.9,133.1 485.4,133.6 485.9,134.2 486.4,134.8 486.9,135.4 487.4,136.0 487.9,136.5 488.4,137.1 488.9,137.7 489.4,138.3 489.9,138.9 490.4,139.5 490.9,140.0 491.4,140.6 491.9,141.2 492.4,141.8 492.9,142.4 493.4,143.0 493.9,143.5 494.4,144.1 494.9,144.7 495.4,145.3 495.9,145.9 496.4,146.5 496.9,147.1 497.4,147.6 497.9,148.2 498.4,148.8 498.9,149.4 499.4,150.0 499.9,150.6 500.4,151.1 500.9,151.7 501.4,152.3 501.9,152.9 502.4,153.5 502.9,154.0 503.4,154.6 503.9,155.2 504.4,155.8 504.9,156.4 505.3,156.9 505.8,157.5 506.3,158.1 506.8,158.7 507.3,159.2 507.8,159.8 508.3,160.4 508.8,161.0 509.3,161.5 509.8,162.1 510.3,162.7 510.8,163.2 511.3,163.8 511.8,164.4 512.3,164.9 512.8,165.5 513.3,166.0 513.8,166.6 514.3,167.1 514.8,167.7 515.3,168.3 515.8,168.8 516.3,169.4 516.8,169.9 517.3,170.5 517.8,171.0 518.3,171.6 518.8,172.1 519.3,172.7 519.8,173.2 520.3,173.8 520.8,174.3 521.3,174.9 521.8,175.4 522.3,176.0 522.8,176.5 523.3,177.1 523.8,177.6 524.3,178.2 524.8,178.7 525.3,179.3 525.8,179.8 526.3,180.4 526.8,180.9 527.3,181.5 527.8,182.0 528.2,182.6 528.7,183.2 529.2,183.7 529.7,184.3 530.2,184.8 530.7,185.4 531.2,185.9 531.7,186.5 532.2,187.1 532.7,187.6 533.2,188.2 533.7,188.7 534.2,189.3 534.7,189.9 535.2,190.4 535.7,191.0 536.2,191.6 536.7,192.1 537.2,192.7 537.7,193.3 538.2,193.9 538.7,194.5 539.2,195.0 539.7,195.6 540.2,196.2 540.7,196.8 541.2,197.4 541.7,198.0 542.2,198.5 542.7,199.1 543.2,199.7 543.7,200.3 544.2,200.9 544.7,201.5 545.2,202.1 545.7,202.7 546.2,203.3 546.7,203.9 547.2,204.6 547.7,205.2 548.2,205.8 548.7,206.4 549.2,207.0 549.7,207.6 550.2,208.2 550.6,208.8 551.1,209.5 551.6,210.1 552.1,210.7 552.6,211.3 553.1,211.9 553.6,212.6 554.1,213.2 554.6,213.8 555.1,214.4 555.6,215.1 556.1,215.7 556.6,216.3 557.1,216.9 557.6,217.6 558.1,218.2 558.6,218.8 559.1,219.5 559.6,220.1 560.1,220.7 560.6,221.4 561.1,222.0 561.6,222.7 562.1,223.3 562.6,223.9 563.1,224.6 563.6,225.2 564.1,225.9 564.6,226.5 565.1,227.2 565.6,227.8 566.1,228.5 566.6,229.1 567.1,229.8 567.6,230.4 568.1,231.1 568.6,231.7 569.1,232.4 569.6,233.1 570.1,233.7 570.6,234.4 571.1,235.0 571.6,235.7 572.1,236.4 572.6,237.0 573.0,237.7 573.5,238.4 574.0,239.0 574.5,239.7 575.0,240.4 575.5,241.0 576.0,241.7 576.5,242.4 577.0,243.0 577.5,243.7 578.0,244.4 578.5,245.1 579.0,245.7 579.5,246.4 580.0,247.1 580.5,247.8 581.0,248.5 581.5,249.1 582.0,249.8 582.5,250.5 583.0,251.2 583.5,251.9 584.0,252.6 584.5,253.3 585.0,253.9 585.5,254.6 586.0,255.3 586.5,256.0 587.0,256.7 587.5,257.4 588.0,258.1 588.5,258.8 589.0,259.5 589.5,260.2 590.0,260.9 590.5,261.6 591.0,262.3 591.5,263.0 592.0,263.7 592.5,264.4 593.0,265.1 593.5,265.8 594.0,266.5 594.5,267.2 595.0,267.9 595.5,268.6 595.9,269.3 596.4,270.0 596.9,270.7 597.4,271.4 597.9,272.2 598.4,272.9 598.9,273.6 599.4,274.3 599.9,275.0 600.4,275.7 600.9,276.4 601.4,277.2 601.9,277.9 602.4,278.6 602.9,279.3 603.4,280.0 603.9,280.7 604.4,281.5 604.9,282.2 605.4,282.9 605.9,283.6 606.4,284.4 606.9,285.1" fill="none" stroke="#ff1010" stroke-width="0.95" stroke-dasharray="1.3 1.9 0.7 1.9" opacity="0.85"/>
<polyline points="358.5,122.6 359.0,122.4 359.5,122.3 360.0,122.1 360.5,122.0 361.0,121.8 361.5,121.6 362.0,121.5 362.5,121.3 363.0,121.2 363.5,121.0 364.0,120.8 364.5,120.7 365.0,120.5 365.5,120.4 366.0,120.2 366.5,120.1 367.0,119.9 367.5,119.7 368.0,119.6 368.5,119.4 369.0,119.3 369.5,119.1 369.9,118.9 370.4,118.8 370.9,118.6 371.4,118.5 371.9,118.3 372.4,118.1 372.9,118.0 373.4,117.8 373.9,117.7 374.4,117.5 374.9,117.3 375.4,117.2 375.9,117.0 376.4,116.9 376.9,116.7 377.4,116.5 377.9,116.4 378.4,116.2 378.9,116.1 379.4,115.9 379.9,115.8 380.4,115.6 380.9,115.4 381.4,115.3 381.9,115.1 382.4,115.0 382.9,114.8 383.4,114.6 383.9,114.5 384.4,114.3 384.9,114.2 385.4,114.0 385.9,113.8 386.4,113.7 386.9,113.5 387.4,113.4 387.9,113.2 388.4,113.0 388.9,112.9 389.4,112.7 389.9,112.6 390.4,112.4 390.9,112.2 391.4,112.1 391.9,111.9 392.4,111.8 392.8,111.6 393.3,111.4 393.8,111.3 394.3,111.1 394.8,111.0 395.3,110.8 395.8,110.7 396.3,110.5 396.8,110.3 397.3,110.2 397.8,110.0 398.3,109.9 398.8,109.7 399.3,109.5 399.8,109.4 400.3,109.2 400.8,109.1 401.3,108.9 401.8,108.7 402.3,108.6 402.8,108.4 403.3,108.3 403.8,108.1 404.3,107.9 404.8,107.8 405.3,107.6 405.8,107.5 406.3,107.3 406.8,107.1 407.3,107.0 407.8,106.8 408.3,106.7 408.8,106.5 409.3,106.4 409.8,106.2 410.3,106.0 410.8,105.9 411.3,105.7 411.8,105.6 412.3,105.4 412.8,105.2 413.3,105.1 413.8,104.9 414.3,104.8 414.8,104.6 415.2,104.4 415.7,104.3 416.2,104.1 416.7,104.0 417.2,103.8 417.7,103.6 418.2,103.5 418.7,103.3 419.2,103.2 419.7,103.0 420.2,102.8 420.7,102.7 421.2,102.5 421.7,102.4 422.2,102.2 422.7,102.1 423.2,101.9 423.7,101.7 424.2,101.6 424.7,101.4 425.2,101.3 425.7,101.1 426.2,100.9 426.7,100.8 427.2,100.6 427.7,100.5 428.2,100.3 428.7,100.1 429.2,100.0 429.7,99.8 430.2,99.7 430.7,99.5 431.2,99.4 431.7,99.2 432.2,99.0 432.7,98.9 433.2,98.7 433.7,98.6 434.2,98.4 434.7,98.3 435.2,98.1 435.7,98.0 436.2,97.8 436.7,97.7 437.2,97.5 437.6,97.4 438.1,97.2 438.6,97.1 439.1,96.9 439.6,96.8 440.1,96.6 440.6,96.5 441.1,96.4 441.6,96.3 442.1,96.1 442.6,96.0 443.1,95.9 443.6,95.8 444.1,95.7 444.6,95.6 445.1,95.6 445.6,95.5 446.1,95.4 446.6,95.4 447.1,95.4 447.6,95.4 448.1,95.4 448.6,95.4 449.1,95.4 449.6,95.5 450.1,95.5 450.6,95.6 451.1,95.7 451.6,95.9 452.1,96.0 452.6,96.2 453.1,96.3 453.6,96.5 454.1,96.8 454.6,97.0 455.1,97.2 455.6,97.5 456.1,97.7 456.6,98.0 457.1,98.3 457.6,98.6 458.1,98.9 458.6,99.2 459.1,99.5 459.6,99.8 460.1,100.1 460.5,100.4 461.0,100.8 461.5,101.1 462.0,101.4 462.5,101.7 463.0,102.1 463.5,102.4 464.0,102.7 464.5,103.1 465.0,103.4 465.5,103.7 466.0,104.1 466.5,104.4 467.0,104.7 467.5,105.1 468.0,105.4 468.5,105.7 469.0,106.1 469.5,106.4 470.0,106.7 470.5,107.0 471.0,107.4 471.5,107.7 472.0,108.0 472.5,108.3 473.0,108.6 473.5,109.0 474.0,109.3 474.5,109.6 475.0,109.9 475.5,110.2 476.0,110.5 476.5,110.8 477.0,111.1 477.5,111.4 478.0,111.7 478.5,112.0 479.0,112.3 479.5,112.6 480.0,112.9 480.5,113.2 481.0,113.5 481.5,113.7 482.0,114.0 482.5,114.3 482.9,114.6 483.4,114.9 483.9,115.1 484.4,115.4 484.9,115.7 485.4,115.9 485.9,116.2 486.4,116.5 486.9,116.8 487.4,117.0 487.9,117.3 488.4,117.5 488.9,117.8 489.4,118.1 489.9,118.3 490.4,118.6 490.9,118.8 491.4,119.1 491.9,119.3 492.4,119.6 492.9,119.8 493.4,120.1 493.9,120.3 494.4,120.6 494.9,120.8 495.4,121.1 495.9,121.3 496.4,121.6 496.9,121.8 497.4,122.0 497.9,122.3 498.4,122.5 498.9,122.8 499.4,123.0 499.9,123.2 500.4,123.5 500.9,123.7 501.4,123.9 501.9,124.2 502.4,124.4 502.9,124.6 503.4,124.9 503.9,125.1 504.4,125.3 504.9,125.6 505.3,125.8 505.8,126.0 506.3,126.3 506.8,126.5 507.3,126.7 507.8,127.0 508.3,127.2 508.8,127.4 509.3,127.6 509.8,127.9 510.3,128.1 510.8,128.3 511.3,128.6 511.8,128.8 512.3,129.0 512.8,129.2 513.3,129.5 513.8,129.7 514.3,129.9 514.8,130.2 515.3,130.4 515.8,130.6 516.3,130.9 516.8,131.1 517.3,131.3 517.8,131.6 518.3,131.8 518.8,132.0 519.3,132.3 519.8,132.5 520.3,132.7 520.8,133.0 521.3,133.2 521.8,133.4 522.3,133.7 522.8,133.9 523.3,134.1 523.8,134.4 524.3,134.6 524.8,134.8 525.3,135.1 525.8,135.3 526.3,135.5 526.8,135.8 527.3,136.0 527.8,136.2 528.2,136.4 528.7,136.7 529.2,136.9 529.7,137.1 530.2,137.4 530.7,137.6 531.2,137.8 531.7,138.0 532.2,138.3 532.7,138.5 533.2,138.7 533.7,139.0 534.2,139.2 534.7,139.4 535.2,139.6 535.7,139.9 536.2,140.1 536.7,140.3 537.2,140.5 537.7,140.8 538.2,141.0 538.7,141.2 539.2,141.4 539.7,141.7 540.2,141.9 540.7,142.1 541.2,142.3 541.7,142.5 542.2,142.8 542.7,143.0 543.2,143.2 543.7,143.4 544.2,143.7 544.7,143.9 545.2,144.1 545.7,144.3 546.2,144.6 546.7,144.8 547.2,145.0 547.7,145.2 548.2,145.5 548.7,145.7 549.2,145.9 549.7,146.1 550.2,146.4 550.6,146.6 551.1,146.8 551.6,147.0 552.1,147.2 552.6,147.5 553.1,147.7 553.6,147.9 554.1,148.1 554.6,148.4 555.1,148.6 555.6,148.8 556.1,149.0 556.6,149.3 557.1,149.5 557.6,149.7 558.1,149.9 558.6,150.2 559.1,150.4 559.6,150.6 560.1,150.8 560.6,151.1 561.1,151.3 561.6,151.5 562.1,151.8 562.6,152.0 563.1,152.2 563.6,152.4 564.1,152.7 564.6,152.9 565.1,153.1 565.6,153.4 566.1,153.6 566.6,153.8 567.1,154.0 567.6,154.3 568.1,154.5 568.6,154.7 569.1,155.0 569.6,155.2 570.1,155.4 570.6,155.7 571.1,155.9 571.6,156.1 572.1,156.3 572.6,156.6 573.0,156.8 573.5,157.0 574.0,157.3 574.5,157.5 575.0,157.7 575.5,158.0 576.0,158.2 576.5,158.4 577.0,158.7 577.5,158.9 578.0,159.1 578.5,159.3 579.0,159.6 579.5,159.8 580.0,160.0 580.5,160.3 581.0,160.5 581.5,160.7 582.0,161.0 582.5,161.2 583.0,161.4 583.5,161.6 584.0,161.9 584.5,162.1 585.0,162.3 585.5,162.6 586.0,162.8 586.5,163.0 587.0,163.2 587.5,163.5 588.0,163.7 588.5,163.9 589.0,164.2 589.5,164.4 590.0,164.6 590.5,164.8 591.0,165.1 591.5,165.3 592.0,165.5 592.5,165.8 593.0,166.0 593.5,166.2 594.0,166.4 594.5,166.7 595.0,166.9 595.5,167.1 595.9,167.3 596.4,167.6 596.9,167.8 597.4,168.0 597.9,168.2 598.4,168.4 598.9,168.7 599.4,168.9 599.9,169.1 600.4,169.3 600.9,169.5 601.4,169.8 601.9,170.0 602.4,170.2 602.9,170.4 603.4,170.6 603.9,170.9 604.4,171.1 604.9,171.3 605.4,171.5 605.9,171.7 606.4,171.9 606.9,172.2" fill="none" stroke="#3cb371" stroke-width="0.8" stroke-dasharray="0.8 1.3" opacity="0.6"/>
<polyline points="358.5,0.6 359.0,1.1 359.5,1.6 360.0,2.2 360.5,2.7 361.0,3.3 361.5,3.8 362.0,4.3 362.5,4.9 363.0,5.4 363.5,6.0 364.0,6.5 364.5,7.1 365.0,7.6 365.5,8.1 366.0,8.7 366.5,9.2 367.0,9.8 367.5,10.3 368.0,10.8 368.5,11.4 369.0,11.9 369.5,12.5 369.9,13.0 370.4,13.6 370.9,14.1 371.4,14.6 371.9,15.2 372.4,15.7 372.9,16.3 373.4,16.8 373.9,17.4 374.4,17.9 374.9,18.4 375.4,19.0 375.9,19.5 376.4,20.1 376.9,20.6 377.4,21.2 377.9,21.7 378.4,22.3 378.9,22.8 379.4,23.3 379.9,23.9 380.4,24.4 380.9,25.0 381.4,25.5 381.9,26.1 382.4,26.6 382.9,27.2 383.4,27.7 383.9,28.3 384.4,28.8 384.9,29.3 385.4,29.9 385.9,30.4 386.4,31.0 386.9,31.5 387.4,32.1 387.9,32.6 388.4,33.2 388.9,33.7 389.4,34.3 389.9,34.8 390.4,35.4 390.9,35.9 391.4,36.5 391.9,37.0 392.4,37.6 392.8,38.1 393.3,38.7 393.8,39.2 394.3,39.8 394.8,40.3 395.3,40.9 395.8,41.4 396.3,42.0 396.8,42.5 397.3,43.1 397.8,43.6 398.3,44.2 398.8,44.7 399.3,45.3 399.8,45.8 400.3,46.4 400.8,46.9 401.3,47.5 401.8,48.0 402.3,48.6 402.8,49.1 403.3,49.7 403.8,50.2 404.3,50.8 404.8,51.3 405.3,51.9 405.8,52.4 406.3,53.0 406.8,53.5 407.3,54.1 407.8,54.6 408.3,55.2 408.8,55.7 409.3,56.3 409.8,56.9 410.3,57.4 410.8,58.0 411.3,58.5 411.8,59.1 412.3,59.6 412.8,60.2 413.3,60.7 413.8,61.3 414.3,61.8 414.8,62.4 415.2,63.0 415.7,63.5 416.2,64.1 416.7,64.6 417.2,65.2 417.7,65.8 418.2,66.3 418.7,66.9 419.2,67.4 419.7,68.0 420.2,68.6 420.7,69.1 421.2,69.7 421.7,70.3 422.2,70.8 422.7,71.4 423.2,72.0 423.7,72.5 424.2,73.1 424.7,73.7 425.2,74.2 425.7,74.8 426.2,75.4 426.7,75.9 427.2,76.5 427.7,77.1 428.2,77.7 428.7,78.2 429.2,78.8 429.7,79.4 430.2,79.9 430.7,80.5 431.2,81.1 431.7,81.6 432.2,82.2 432.7,82.8 433.2,83.4 433.7,83.9 434.2,84.5 434.7,85.1 435.2,85.7 435.7,86.2 436.2,86.8 436.7,87.4 437.2,87.9 437.6,88.5 438.1,89.1 438.6,89.7 439.1,90.2 439.6,90.8 440.1,91.4 440.6,92.0 441.1,92.5 441.6,93.1 442.1,93.7 442.6,94.2 443.1,94.8 443.6,95.4 444.1,96.0 444.6,96.5 445.1,97.1 445.6,97.7 446.1,98.2 446.6,98.8 447.1,99.4 447.6,100.0 448.1,100.5 448.6,101.1 449.1,101.7 449.6,102.2 450.1,102.8 450.6,103.4 451.1,103.9 451.6,104.5 452.1,105.1 452.6,105.6 453.1,106.2 453.6,106.8 454.1,107.3 454.6,107.9 455.1,108.5 455.6,109.0 456.1,109.6 456.6,110.2 457.1,110.7 457.6,111.3 458.1,111.9 458.6,112.4 459.1,113.0 459.6,113.5 460.1,114.1 460.5,114.7 461.0,115.2 461.5,115.8 462.0,116.3 462.5,116.9 463.0,117.4 463.5,118.0 464.0,118.5 464.5,119.1 465.0,119.6 465.5,120.2 466.0,120.8 466.5,121.3 467.0,121.9 467.5,122.4 468.0,122.9 468.5,123.5 469.0,124.0 469.5,124.6 470.0,125.1 470.5,125.7 471.0,126.2 471.5,126.8 472.0,127.3 472.5,127.8 473.0,128.4 473.5,128.9 474.0,129.4 474.5,130.0 475.0,130.5 475.5,131.1 476.0,131.6 476.5,132.1 477.0,132.6 477.5,133.2 478.0,133.7 478.5,134.2 479.0,134.7 479.5,135.2 480.0,135.7 480.5,136.3 481.0,136.8 481.5,137.3 482.0,137.8 482.5,138.3 482.9,138.8 483.4,139.3 483.9,139.8 484.4,140.3 484.9,140.8 485.4,141.3 485.9,141.8 486.4,142.3 486.9,142.8 487.4,143.3 487.9,143.8 488.4,144.3 488.9,144.8 489.4,145.3 489.9,145.8 490.4,146.3 490.9,146.8 491.4,147.3 491.9,147.8 492.4,148.4 492.9,148.9 493.4,149.4 493.9,149.9 494.4,150.4 494.9,150.9 495.4,151.4 495.9,151.9 496.4,152.4 496.9,152.9 497.4,153.5 497.9,154.0 498.4,154.5 498.9,155.0 499.4,155.6 499.9,156.1 500.4,156.6 500.9,157.1 501.4,157.7 501.9,158.2 502.4,158.8 502.9,159.3 503.4,159.8 503.9,160.4 504.4,160.9 504.9,161.5 505.3,162.0 505.8,162.6 506.3,163.2 506.8,163.7 507.3,164.3 507.8,164.8 508.3,165.4 508.8,166.0 509.3,166.5 509.8,167.1 510.3,167.7 510.8,168.2 511.3,168.8 511.8,169.4 512.3,169.9 512.8,170.5 513.3,171.1 513.8,171.7 514.3,172.2 514.8,172.8 515.3,173.4 515.8,174.0 516.3,174.6 516.8,175.2 517.3,175.7 517.8,176.3 518.3,176.9 518.8,177.5 519.3,178.1 519.8,178.7 520.3,179.3 520.8,179.9 521.3,180.4 521.8,181.0 522.3,181.6 522.8,182.2 523.3,182.8 523.8,183.4 524.3,184.0 524.8,184.6 525.3,185.2 525.8,185.8 526.3,186.4 526.8,187.0 527.3,187.6 527.8,188.2 528.2,188.8 528.7,189.4 529.2,190.0 529.7,190.6 530.2,191.2 530.7,191.8 531.2,192.5 531.7,193.1 532.2,193.7 532.7,194.3 533.2,194.9 533.7,195.5 534.2,196.1 534.7,196.7 535.2,197.3 535.7,197.9 536.2,198.5 536.7,199.2 537.2,199.8 537.7,200.4 538.2,201.0 538.7,201.6 539.2,202.2 539.7,202.8 540.2,203.4 540.7,204.1 541.2,204.7 541.7,205.3 542.2,205.9 542.7,206.5 543.2,207.2 543.7,207.8 544.2,208.4 544.7,209.0 545.2,209.6 545.7,210.3 546.2,210.9 546.7,211.5 547.2,212.1 547.7,212.8 548.2,213.4 548.7,214.0 549.2,214.7 549.7,215.3 550.2,215.9 550.6,216.5 551.1,217.2 551.6,217.8 552.1,218.4 552.6,219.1 553.1,219.7 553.6,220.4 554.1,221.0 554.6,221.6 555.1,222.3 555.6,222.9 556.1,223.5 556.6,224.2 557.1,224.8 557.6,225.5 558.1,226.1 558.6,226.8 559.1,227.4 559.6,228.0 560.1,228.7 560.6,229.3 561.1,230.0 561.6,230.6 562.1,231.3 562.6,231.9 563.1,232.6 563.6,233.2 564.1,233.9 564.6,234.5 565.1,235.2 565.6,235.8 566.1,236.5 566.6,237.1 567.1,237.8 567.6,238.5 568.1,239.1 568.6,239.8 569.1,240.4 569.6,241.1 570.1,241.8 570.6,242.4 571.1,243.1 571.6,243.7 572.1,244.4 572.6,245.1 573.0,245.7 573.5,246.4 574.0,247.1 574.5,247.7 575.0,248.4 575.5,249.1 576.0,249.7 576.5,250.4 577.0,251.1 577.5,251.7 578.0,252.4 578.5,253.1 579.0,253.8 579.5,254.4 580.0,255.1 580.5,255.8 581.0,256.5 581.5,257.1 582.0,257.8 582.5,258.5 583.0,259.2 583.5,259.8 584.0,260.5 584.5,261.2 585.0,261.9 585.5,262.6 586.0,263.2 586.5,263.9 587.0,264.6 587.5,265.3 588.0,266.0 588.5,266.7 589.0,267.3 589.5,268.0 590.0,268.7 590.5,269.4 591.0,270.1 591.5,270.8 592.0,271.5 592.5,272.2 593.0,272.9 593.5,273.6 594.0,274.2 594.5,274.9 595.0,275.6 595.5,276.3 595.9,277.0 596.4,277.7 596.9,278.4 597.4,279.1 597.9,279.8 598.4,280.5 598.9,281.2 599.4,281.9 599.9,282.6 600.4,283.3 600.9,284.0 601.4,284.7 601.9,285.4 602.4,286.1 602.9,286.8 603.4,287.5 603.9,288.2 604.4,288.9 604.9,289.6 605.4,290.3 605.9,291.0 606.4,291.8 606.9,292.5" fill="none" stroke="#3cb371" stroke-width="0.95" stroke-dasharray="1.3 1.9 0.7 1.9" opacity="0.85"/>
<polyline points="358.5,124.6 359.0,124.4 359.5,124.3 360.0,124.1 360.5,124.0 361.0,123.8 361.5,123.6 362.0,123.5 362.5,123.3 363.0,123.2 363.5,123.0 364.0,122.8 364.5,122.7 365.0,122.5 365.5,122.4 366.0,122.2 366.5,122.1 367.0,121.9 367.5,121.7 368.0,121.6 368.5,121.4 369.0,121.3 369.5,121.1 369.9,120.9 370.4,120.8 370.9,120.6 371.4,120.5 371.9,120.3 372.4,120.1 372.9,120.0 373.4,119.8 373.9,119.7 374.4,119.5 374.9,119.3 375.4,119.2 375.9,119.0 376.4,118.9 376.9,118.7 377.4,118.5 377.9,118.4 378.4,118.2 378.9,118.1 379.4,117.9 379.9,117.8 380.4,117.6 380.9,117.4 381.4,117.3 381.9,117.1 382.4,117.0 382.9,116.8 383.4,116.6 383.9,116.5 384.4,116.3 384.9,116.2 385.4,116.0 385.9,115.8 386.4,115.7 386.9,115.5 387.4,115.4 387.9,115.2 388.4,115.0 388.9,114.9 389.4,114.7 389.9,114.6 390.4,114.4 390.9,114.2 391.4,114.1 391.9,113.9 392.4,113.8 392.8,113.6 393.3,113.4 393.8,113.3 394.3,113.1 394.8,113.0 395.3,112.8 395.8,112.7 396.3,112.5 396.8,112.3 397.3,112.2 397.8,112.0 398.3,111.9 398.8,111.7 399.3,111.5 399.8,111.4 400.3,111.2 400.8,111.1 401.3,110.9 401.8,110.7 402.3,110.6 402.8,110.4 403.3,110.3 403.8,110.1 404.3,109.9 404.8,109.8 405.3,109.6 405.8,109.5 406.3,109.3 406.8,109.1 407.3,109.0 407.8,108.8 408.3,108.7 408.8,108.5 409.3,108.4 409.8,108.2 410.3,108.0 410.8,107.9 411.3,107.7 411.8,107.6 412.3,107.4 412.8,107.2 413.3,107.1 413.8,106.9 414.3,106.8 414.8,106.6 415.2,106.4 415.7,106.3 416.2,106.1 416.7,106.0 417.2,105.8 417.7,105.6 418.2,105.5 418.7,105.3 419.2,105.2 419.7,105.0 420.2,104.8 420.7,104.7 421.2,104.5 421.7,104.4 422.2,104.2 422.7,104.1 423.2,103.9 423.7,103.7 424.2,103.6 424.7,103.4 425.2,103.3 425.7,103.1 426.2,102.9 426.7,102.8 427.2,102.6 427.7,102.5 428.2,102.3 428.7,102.1 429.2,102.0 429.7,101.8 430.2,101.7 430.7,101.5 431.2,101.4 431.7,101.2 432.2,101.0 432.7,100.9 433.2,100.7 433.7,100.6 434.2,100.4 434.7,100.3 435.2,100.1 435.7,100.0 436.2,99.8 436.7,99.7 437.2,99.6 437.6,99.4 438.1,99.3 438.6,99.1 439.1,99.0 439.6,98.9 440.1,98.8 440.6,98.6 441.1,98.5 441.6,98.4 442.1,98.3 442.6,98.2 443.1,98.2 443.6,98.1 444.1,98.0 444.6,98.0 445.1,98.0 445.6,97.9 446.1,97.9 446.6,98.0 447.1,98.0 447.6,98.0 448.1,98.1 448.6,98.2 449.1,98.3 449.6,98.4 450.1,98.5 450.6,98.6 451.1,98.8 451.6,99.0 452.1,99.2 452.6,99.4 453.1,99.6 453.6,99.8 454.1,100.1 454.6,100.3 455.1,100.6 455.6,100.9 456.1,101.2 456.6,101.4 457.1,101.7 457.6,102.0 458.1,102.3 458.6,102.6 459.1,102.9 459.6,103.2 460.1,103.6 460.5,103.9 461.0,104.2 461.5,104.5 462.0,104.8 462.5,105.1 463.0,105.5 463.5,105.8 464.0,106.1 464.5,106.4 465.0,106.7 465.5,107.0 466.0,107.4 466.5,107.7 467.0,108.0 467.5,108.3 468.0,108.6 468.5,108.9 469.0,109.2 469.5,109.5 470.0,109.8 470.5,110.2 471.0,110.5 471.5,110.8 472.0,111.1 472.5,111.4 473.0,111.7 473.5,112.0 474.0,112.3 474.5,112.6 475.0,112.9 475.5,113.2 476.0,113.5 476.5,113.8 477.0,114.0 477.5,114.3 478.0,114.6 478.5,114.9 479.0,115.2 479.5,115.5 480.0,115.8 480.5,116.1 481.0,116.3 481.5,116.6 482.0,116.9 482.5,117.2 482.9,117.5 483.4,117.7 483.9,118.0 484.4,118.3 484.9,118.6 485.4,118.8 485.9,119.1 486.4,119.4 486.9,119.6 487.4,119.9 487.9,120.2 488.4,120.4 488.9,120.7 489.4,120.9 489.9,121.2 490.4,121.5 490.9,121.7 491.4,122.0 491.9,122.2 492.4,122.5 492.9,122.7 493.4,123.0 493.9,123.2 494.4,123.5 494.9,123.7 495.4,124.0 495.9,124.2 496.4,124.5 496.9,124.7 497.4,125.0 497.9,125.2 498.4,125.5 498.9,125.7 499.4,125.9 499.9,126.2 500.4,126.4 500.9,126.7 501.4,126.9 501.9,127.1 502.4,127.4 502.9,127.6 503.4,127.9 503.9,128.1 504.4,128.3 504.9,128.6 505.3,128.8 505.8,129.0 506.3,129.3 506.8,129.5 507.3,129.7 507.8,130.0 508.3,130.2 508.8,130.4 509.3,130.7 509.8,130.9 510.3,131.1 510.8,131.4 511.3,131.6 511.8,131.8 512.3,132.0 512.8,132.3 513.3,132.5 513.8,132.7 514.3,133.0 514.8,133.2 515.3,133.4 515.8,133.7 516.3,133.9 516.8,134.1 517.3,134.3 517.8,134.6 518.3,134.8 518.8,135.0 519.3,135.3 519.8,135.5 520.3,135.7 520.8,136.0 521.3,136.2 521.8,136.4 522.3,136.6 522.8,136.9 523.3,137.1 523.8,137.3 524.3,137.6 524.8,137.8 525.3,138.0 525.8,138.2 526.3,138.4 526.8,138.7 527.3,138.9 527.8,139.1 528.2,139.3 528.7,139.6 529.2,139.8 529.7,140.0 530.2,140.2 530.7,140.4 531.2,140.6 531.7,140.9 532.2,141.1 532.7,141.3 533.2,141.5 533.7,141.7 534.2,141.9 534.7,142.2 535.2,142.4 535.7,142.6 536.2,142.8 536.7,143.0 537.2,143.2 537.7,143.4 538.2,143.6 538.7,143.9 539.2,144.1 539.7,144.3 540.2,144.5 540.7,144.7 541.2,144.9 541.7,145.1 542.2,145.4 542.7,145.6 543.2,145.8 543.7,146.0 544.2,146.2 544.7,146.4 545.2,146.6 545.7,146.8 546.2,147.1 546.7,147.3 547.2,147.5 547.7,147.7 548.2,147.9 548.7,148.1 549.2,148.3 549.7,148.6 550.2,148.8 550.6,149.0 551.1,149.2 551.6,149.4 552.1,149.6 552.6,149.8 553.1,150.1 553.6,150.3 554.1,150.5 554.6,150.7 555.1,150.9 555.6,151.2 556.1,151.4 556.6,151.6 557.1,151.8 557.6,152.0 558.1,152.3 558.6,152.5 559.1,152.7 559.6,152.9 560.1,153.1 560.6,153.4 561.1,153.6 561.6,153.8 562.1,154.1 562.6,154.3 563.1,154.5 563.6,154.7 564.1,155.0 564.6,155.2 565.1,155.4 565.6,155.6 566.1,155.9 566.6,156.1 567.1,156.3 567.6,156.6 568.1,156.8 568.6,157.0 569.1,157.3 569.6,157.5 570.1,157.7 570.6,158.0 571.1,158.2 571.6,158.4 572.1,158.7 572.6,158.9 573.0,159.1 573.5,159.4 574.0,159.6 574.5,159.8 575.0,160.1 575.5,160.3 576.0,160.5 576.5,160.8 577.0,161.0 577.5,161.3 578.0,161.5 578.5,161.7 579.0,162.0 579.5,162.2 580.0,162.4 580.5,162.7 581.0,162.9 581.5,163.1 582.0,163.4 582.5,163.6 583.0,163.9 583.5,164.1 584.0,164.3 584.5,164.6 585.0,164.8 585.5,165.0 586.0,165.3 586.5,165.5 587.0,165.7 587.5,166.0 588.0,166.2 588.5,166.5 589.0,166.7 589.5,166.9 590.0,167.2 590.5,167.4 591.0,167.6 591.5,167.9 592.0,168.1 592.5,168.3 593.0,168.6 593.5,168.8 594.0,169.0 594.5,169.3 595.0,169.5 595.5,169.7 595.9,170.0 596.4,170.2 596.9,170.4 597.4,170.7 597.9,170.9 598.4,171.1 598.9,171.3 599.4,171.6 599.9,171.8 600.4,172.0 600.9,172.3 601.4,172.5 601.9,172.7 602.4,172.9 602.9,173.2 603.4,173.4 603.9,173.6 604.4,173.8 604.9,174.1 605.4,174.3 605.9,174.5 606.4,174.7 606.9,175.0" fill="none" stroke="#111111" stroke-width="0.8" stroke-dasharray="0.8 1.3" opacity="0.6"/>
<polyline points="358.5,4.7 359.0,5.2 359.5,5.8 360.0,6.3 360.5,6.8 361.0,7.4 361.5,7.9 362.0,8.4 362.5,8.9 363.0,9.5 363.5,10.0 364.0,10.5 364.5,11.1 365.0,11.6 365.5,12.1 366.0,12.6 366.5,13.2 367.0,13.7 367.5,14.2 368.0,14.7 368.5,15.3 369.0,15.8 369.5,16.3 369.9,16.8 370.4,17.4 370.9,17.9 371.4,18.4 371.9,18.9 372.4,19.5 372.9,20.0 373.4,20.5 373.9,21.0 374.4,21.5 374.9,22.1 375.4,22.6 375.9,23.1 376.4,23.6 376.9,24.2 377.4,24.7 377.9,25.2 378.4,25.7 378.9,26.2 379.4,26.8 379.9,27.3 380.4,27.8 380.9,28.3 381.4,28.8 381.9,29.4 382.4,29.9 382.9,30.4 383.4,30.9 383.9,31.5 384.4,32.0 384.9,32.5 385.4,33.0 385.9,33.5 386.4,34.1 386.9,34.6 387.4,35.1 387.9,35.6 388.4,36.2 388.9,36.7 389.4,37.2 389.9,37.7 390.4,38.3 390.9,38.8 391.4,39.3 391.9,39.8 392.4,40.4 392.8,40.9 393.3,41.4 393.8,42.0 394.3,42.5 394.8,43.0 395.3,43.5 395.8,44.1 396.3,44.6 396.8,45.1 397.3,45.7 397.8,46.2 398.3,46.7 398.8,47.3 399.3,47.8 399.8,48.3 400.3,48.9 400.8,49.4 401.3,49.9 401.8,50.5 402.3,51.0 402.8,51.6 403.3,52.1 403.8,52.6 404.3,53.2 404.8,53.7 405.3,54.3 405.8,54.8 406.3,55.4 406.8,55.9 407.3,56.5 407.8,57.0 408.3,57.5 408.8,58.1 409.3,58.6 409.8,59.2 410.3,59.7 410.8,60.3 411.3,60.9 411.8,61.4 412.3,62.0 412.8,62.5 413.3,63.1 413.8,63.6 414.3,64.2 414.8,64.8 415.2,65.3 415.7,65.9 416.2,66.5 416.7,67.0 417.2,67.6 417.7,68.2 418.2,68.7 418.7,69.3 419.2,69.9 419.7,70.4 420.2,71.0 420.7,71.6 421.2,72.2 421.7,72.7 422.2,73.3 422.7,73.9 423.2,74.5 423.7,75.0 424.2,75.6 424.7,76.2 425.2,76.8 425.7,77.4 426.2,77.9 426.7,78.5 427.2,79.1 427.7,79.7 428.2,80.3 428.7,80.8 429.2,81.4 429.7,82.0 430.2,82.6 430.7,83.2 431.2,83.8 431.7,84.4 432.2,84.9 432.7,85.5 433.2,86.1 433.7,86.7 434.2,87.3 434.7,87.9 435.2,88.5 435.7,89.1 436.2,89.7 436.7,90.2 437.2,90.8 437.6,91.4 438.1,92.0 438.6,92.6 439.1,93.2 439.6,93.8 440.1,94.4 440.6,95.0 441.1,95.6 441.6,96.2 442.1,96.7 442.6,97.3 443.1,97.9 443.6,98.5 444.1,99.1 444.6,99.7 445.1,100.3 445.6,100.9 446.1,101.5 446.6,102.1 447.1,102.7 447.6,103.2 448.1,103.8 448.6,104.4 449.1,105.0 449.6,105.6 450.1,106.2 450.6,106.8 451.1,107.4 451.6,107.9 452.1,108.5 452.6,109.1 453.1,109.7 453.6,110.3 454.1,110.9 454.6,111.5 455.1,112.0 455.6,112.6 456.1,113.2 456.6,113.8 457.1,114.4 457.6,115.0 458.1,115.5 458.6,116.1 459.1,116.7 459.6,117.3 460.1,117.9 460.5,118.4 461.0,119.0 461.5,119.6 462.0,120.2 462.5,120.7 463.0,121.3 463.5,121.9 464.0,122.4 464.5,123.0 465.0,123.6 465.5,124.2 466.0,124.7 466.5,125.3 467.0,125.9 467.5,126.4 468.0,127.0 468.5,127.5 469.0,128.1 469.5,128.7 470.0,129.2 470.5,129.8 471.0,130.3 471.5,130.9 472.0,131.4 472.5,132.0 473.0,132.5 473.5,133.1 474.0,133.6 474.5,134.2 475.0,134.7 475.5,135.3 476.0,135.8 476.5,136.4 477.0,136.9 477.5,137.4 478.0,138.0 478.5,138.5 479.0,139.0 479.5,139.6 480.0,140.1 480.5,140.6 481.0,141.2 481.5,141.7 482.0,142.2 482.5,142.8 482.9,143.3 483.4,143.8 483.9,144.4 484.4,144.9 484.9,145.4 485.4,146.0 485.9,146.5 486.4,147.0 486.9,147.5 487.4,148.1 487.9,148.6 488.4,149.2 488.9,149.7 489.4,150.2 489.9,150.8 490.4,151.3 490.9,151.8 491.4,152.4 491.9,152.9 492.4,153.5 492.9,154.0 493.4,154.5 493.9,155.1 494.4,155.6 494.9,156.2 495.4,156.7 495.9,157.3 496.4,157.9 496.9,158.4 497.4,159.0 497.9,159.5 498.4,160.1 498.9,160.7 499.4,161.2 499.9,161.8 500.4,162.4 500.9,162.9 501.4,163.5 501.9,164.1 502.4,164.6 502.9,165.2 503.4,165.8 503.9,166.4 504.4,166.9 504.9,167.5 505.3,168.1 505.8,168.7 506.3,169.2 506.8,169.8 507.3,170.4 507.8,171.0 508.3,171.6 508.8,172.2 509.3,172.7 509.8,173.3 510.3,173.9 510.8,174.5 511.3,175.1 511.8,175.7 512.3,176.3 512.8,176.8 513.3,177.4 513.8,178.0 514.3,178.6 514.8,179.2 515.3,179.8 515.8,180.4 516.3,181.0 516.8,181.6 517.3,182.2 517.8,182.8 518.3,183.4 518.8,184.0 519.3,184.6 519.8,185.2 520.3,185.8 520.8,186.4 521.3,187.0 521.8,187.6 522.3,188.2 522.8,188.8 523.3,189.4 523.8,190.0 524.3,190.6 524.8,191.2 525.3,191.8 525.8,192.4 526.3,193.0 526.8,193.6 527.3,194.2 527.8,194.8 528.2,195.4 528.7,196.0 529.2,196.6 529.7,197.2 530.2,197.8 530.7,198.5 531.2,199.1 531.7,199.7 532.2,200.3 532.7,200.9 533.2,201.5 533.7,202.1 534.2,202.7 534.7,203.3 535.2,204.0 535.7,204.6 536.2,205.2 536.7,205.8 537.2,206.4 537.7,207.0 538.2,207.6 538.7,208.3 539.2,208.9 539.7,209.5 540.2,210.1 540.7,210.7 541.2,211.4 541.7,212.0 542.2,212.6 542.7,213.2 543.2,213.8 543.7,214.5 544.2,215.1 544.7,215.7 545.2,216.3 545.7,217.0 546.2,217.6 546.7,218.2 547.2,218.8 547.7,219.5 548.2,220.1 548.7,220.7 549.2,221.4 549.7,222.0 550.2,222.6 550.6,223.3 551.1,223.9 551.6,224.5 552.1,225.1 552.6,225.8 553.1,226.4 553.6,227.1 554.1,227.7 554.6,228.3 555.1,229.0 555.6,229.6 556.1,230.2 556.6,230.9 557.1,231.5 557.6,232.2 558.1,232.8 558.6,233.4 559.1,234.1 559.6,234.7 560.1,235.4 560.6,236.0 561.1,236.6 561.6,237.3 562.1,237.9 562.6,238.6 563.1,239.2 563.6,239.9 564.1,240.5 564.6,241.2 565.1,241.8 565.6,242.5 566.1,243.1 566.6,243.8 567.1,244.4 567.6,245.1 568.1,245.7 568.6,246.4 569.1,247.0 569.6,247.7 570.1,248.3 570.6,249.0 571.1,249.6 571.6,250.3 572.1,250.9 572.6,251.6 573.0,252.2 573.5,252.9 574.0,253.6 574.5,254.2 575.0,254.9 575.5,255.5 576.0,256.2 576.5,256.9 577.0,257.5 577.5,258.2 578.0,258.8 578.5,259.5 579.0,260.2 579.5,260.8 580.0,261.5 580.5,262.2 581.0,262.8 581.5,263.5 582.0,264.2 582.5,264.8 583.0,265.5 583.5,266.2 584.0,266.8 584.5,267.5 585.0,268.2 585.5,268.8 586.0,269.5 586.5,270.2 587.0,270.8 587.5,271.5 588.0,272.2 588.5,272.9 589.0,273.5 589.5,274.2 590.0,274.9 590.5,275.6 591.0,276.2 591.5,276.9 592.0,277.6 592.5,278.3 593.0,278.9 593.5,279.6 594.0,280.3 594.5,281.0 595.0,281.7 595.5,282.3 595.9,283.0 596.4,283.7 596.9,284.4 597.4,285.1 597.9,285.7 598.4,286.4 598.9,287.1 599.4,287.8 599.9,288.5 600.4,289.2 600.9,289.9 601.4,290.5 601.9,291.2 602.4,291.9 602.9,292.6 603.4,293.3 603.9,294.0 604.4,294.7 604.9,295.4 605.4,296.1 605.9,296.7 606.4,297.4 606.9,298.1" fill="none" stroke="#111111" stroke-width="0.95" stroke-dasharray="1.3 1.9 0.7 1.9" opacity="0.85"/>
<polyline points="358.5,127.6 359.0,127.4 359.5,127.3 360.0,127.1 360.5,127.0 361.0,126.8 361.5,126.6 362.0,126.5 362.5,126.3 363.0,126.2 363.5,126.0 364.0,125.8 364.5,125.7 365.0,125.5 365.5,125.4 366.0,125.2 366.5,125.1 367.0,124.9 367.5,124.7 368.0,124.6 368.5,124.4 369.0,124.3 369.5,124.1 369.9,123.9 370.4,123.8 370.9,123.6 371.4,123.5 371.9,123.3 372.4,123.1 372.9,123.0 373.4,122.8 373.9,122.7 374.4,122.5 374.9,122.3 375.4,122.2 375.9,122.0 376.4,121.9 376.9,121.7 377.4,121.5 377.9,121.4 378.4,121.2 378.9,121.1 379.4,120.9 379.9,120.8 380.4,120.6 380.9,120.4 381.4,120.3 381.9,120.1 382.4,120.0 382.9,119.8 383.4,119.6 383.9,119.5 384.4,119.3 384.9,119.2 385.4,119.0 385.9,118.8 386.4,118.7 386.9,118.5 387.4,118.4 387.9,118.2 388.4,118.0 388.9,117.9 389.4,117.7 389.9,117.6 390.4,117.4 390.9,117.2 391.4,117.1 391.9,116.9 392.4,116.8 392.8,116.6 393.3,116.4 393.8,116.3 394.3,116.1 394.8,116.0 395.3,115.8 395.8,115.7 396.3,115.5 396.8,115.3 397.3,115.2 397.8,115.0 398.3,114.9 398.8,114.7 399.3,114.5 399.8,114.4 400.3,114.2 400.8,114.1 401.3,113.9 401.8,113.7 402.3,113.6 402.8,113.4 403.3,113.3 403.8,113.1 404.3,112.9 404.8,112.8 405.3,112.6 405.8,112.5 406.3,112.3 406.8,112.1 407.3,112.0 407.8,111.8 408.3,111.7 408.8,111.5 409.3,111.4 409.8,111.2 410.3,111.0 410.8,110.9 411.3,110.7 411.8,110.6 412.3,110.4 412.8,110.2 413.3,110.1 413.8,109.9 414.3,109.8 414.8,109.6 415.2,109.4 415.7,109.3 416.2,109.1 416.7,109.0 417.2,108.8 417.7,108.6 418.2,108.5 418.7,108.3 419.2,108.2 419.7,108.0 420.2,107.8 420.7,107.7 421.2,107.5 421.7,107.4 422.2,107.2 422.7,107.1 423.2,106.9 423.7,106.7 424.2,106.6 424.7,106.4 425.2,106.3 425.7,106.1 426.2,105.9 426.7,105.8 427.2,105.6 427.7,105.5 428.2,105.3 428.7,105.2 429.2,105.0 429.7,104.9 430.2,104.7 430.7,104.6 431.2,104.4 431.7,104.3 432.2,104.1 432.7,104.0 433.2,103.8 433.7,103.7 434.2,103.5 434.7,103.4 435.2,103.3 435.7,103.1 436.2,103.0 436.7,102.9 437.2,102.8 437.6,102.7 438.1,102.6 438.6,102.5 439.1,102.4 439.6,102.3 440.1,102.2 440.6,102.2 441.1,102.1 441.6,102.1 442.1,102.1 442.6,102.1 443.1,102.1 443.6,102.1 444.1,102.2 444.6,102.2 445.1,102.3 445.6,102.4 446.1,102.5 446.6,102.7 447.1,102.8 447.6,103.0 448.1,103.1 448.6,103.3 449.1,103.5 449.6,103.8 450.1,104.0 450.6,104.2 451.1,104.5 451.6,104.8 452.1,105.0 452.6,105.3 453.1,105.6 453.6,105.9 454.1,106.2 454.6,106.5 455.1,106.8 455.6,107.1 456.1,107.4 456.6,107.7 457.1,108.0 457.6,108.3 458.1,108.6 458.6,108.9 459.1,109.2 459.6,109.6 460.1,109.9 460.5,110.2 461.0,110.5 461.5,110.8 462.0,111.1 462.5,111.4 463.0,111.7 463.5,112.1 464.0,112.4 464.5,112.7 465.0,113.0 465.5,113.3 466.0,113.6 466.5,113.9 467.0,114.2 467.5,114.5 468.0,114.8 468.5,115.1 469.0,115.4 469.5,115.7 470.0,116.0 470.5,116.3 471.0,116.6 471.5,116.9 472.0,117.2 472.5,117.4 473.0,117.7 473.5,118.0 474.0,118.3 474.5,118.6 475.0,118.9 475.5,119.1 476.0,119.4 476.5,119.7 477.0,120.0 477.5,120.2 478.0,120.5 478.5,120.8 479.0,121.0 479.5,121.3 480.0,121.6 480.5,121.8 481.0,122.1 481.5,122.4 482.0,122.6 482.5,122.9 482.9,123.1 483.4,123.4 483.9,123.6 484.4,123.9 484.9,124.1 485.4,124.4 485.9,124.6 486.4,124.9 486.9,125.1 487.4,125.4 487.9,125.6 488.4,125.8 488.9,126.1 489.4,126.3 489.9,126.5 490.4,126.8 490.9,127.0 491.4,127.2 491.9,127.5 492.4,127.7 492.9,127.9 493.4,128.2 493.9,128.4 494.4,128.6 494.9,128.8 495.4,129.1 495.9,129.3 496.4,129.5 496.9,129.7 497.4,129.9 497.9,130.2 498.4,130.4 498.9,130.6 499.4,130.8 499.9,131.0 500.4,131.2 500.9,131.5 501.4,131.7 501.9,131.9 502.4,132.1 502.9,132.3 503.4,132.5 503.9,132.7 504.4,132.9 504.9,133.2 505.3,133.4 505.8,133.6 506.3,133.8 506.8,134.0 507.3,134.2 507.8,134.4 508.3,134.6 508.8,134.8 509.3,135.1 509.8,135.3 510.3,135.5 510.8,135.7 511.3,135.9 511.8,136.1 512.3,136.3 512.8,136.5 513.3,136.7 513.8,136.9 514.3,137.2 514.8,137.4 515.3,137.6 515.8,137.8 516.3,138.0 516.8,138.2 517.3,138.4 517.8,138.6 518.3,138.9 518.8,139.1 519.3,139.3 519.8,139.5 520.3,139.7 520.8,139.9 521.3,140.2 521.8,140.4 522.3,140.6 522.8,140.8 523.3,141.0 523.8,141.2 524.3,141.4 524.8,141.6 525.3,141.9 525.8,142.1 526.3,142.3 526.8,142.5 527.3,142.7 527.8,142.9 528.2,143.1 528.7,143.3 529.2,143.5 529.7,143.7 530.2,143.9 530.7,144.2 531.2,144.4 531.7,144.6 532.2,144.8 532.7,145.0 533.2,145.2 533.7,145.4 534.2,145.6 534.7,145.8 535.2,146.0 535.7,146.2 536.2,146.4 536.7,146.6 537.2,146.8 537.7,147.0 538.2,147.2 538.7,147.4 539.2,147.6 539.7,147.9 540.2,148.1 540.7,148.3 541.2,148.5 541.7,148.7 542.2,148.9 542.7,149.1 543.2,149.3 543.7,149.5 544.2,149.7 544.7,149.9 545.2,150.1 545.7,150.3 546.2,150.5 546.7,150.7 547.2,150.9 547.7,151.2 548.2,151.4 548.7,151.6 549.2,151.8 549.7,152.0 550.2,152.2 550.6,152.4 551.1,152.6 551.6,152.8 552.1,153.1 552.6,153.3 553.1,153.5 553.6,153.7 554.1,153.9 554.6,154.1 555.1,154.3 555.6,154.6 556.1,154.8 556.6,155.0 557.1,155.2 557.6,155.4 558.1,155.7 558.6,155.9 559.1,156.1 559.6,156.3 560.1,156.5 560.6,156.8 561.1,157.0 561.6,157.2 562.1,157.5 562.6,157.7 563.1,157.9 563.6,158.1 564.1,158.4 564.6,158.6 565.1,158.9 565.6,159.1 566.1,159.3 566.6,159.6 567.1,159.8 567.6,160.0 568.1,160.3 568.6,160.5 569.1,160.8 569.6,161.0 570.1,161.3 570.6,161.5 571.1,161.7 571.6,162.0 572.1,162.2 572.6,162.5 573.0,162.7 573.5,163.0 574.0,163.2 574.5,163.5 575.0,163.7 575.5,164.0 576.0,164.2 576.5,164.5 577.0,164.7 577.5,165.0 578.0,165.2 578.5,165.5 579.0,165.7 579.5,166.0 580.0,166.2 580.5,166.5 581.0,166.7 581.5,167.0 582.0,167.2 582.5,167.5 583.0,167.7 583.5,168.0 584.0,168.2 584.5,168.5 585.0,168.7 585.5,169.0 586.0,169.2 586.5,169.5 587.0,169.7 587.5,170.0 588.0,170.2 588.5,170.5 589.0,170.7 589.5,171.0 590.0,171.2 590.5,171.5 591.0,171.7 591.5,172.0 592.0,172.2 592.5,172.5 593.0,172.7 593.5,173.0 594.0,173.2 594.5,173.5 595.0,173.7 595.5,173.9 595.9,174.2 596.4,174.4 596.9,174.7 597.4,174.9 597.9,175.1 598.4,175.4 598.9,175.6 599.4,175.9 599.9,176.1 600.4,176.3 600.9,176.6 601.4,176.8 601.9,177.0 602.4,177.2 602.9,177.5 603.4,177.7 603.9,177.9 604.4,178.2 604.9,178.4 605.4,178.6 605.9,178.8 606.4,179.0 606.9,179.3" fill="none" stroke="#1a1aff" stroke-width="0.8" stroke-dasharray="0.8 1.3" opacity="0.6"/>
<polyline points="358.5,11.8 359.0,12.3 359.5,12.9 360.0,13.4 360.5,13.9 361.0,14.4 361.5,15.0 362.0,15.5 362.5,16.0 363.0,16.5 363.5,17.1 364.0,17.6 364.5,18.1 365.0,18.7 365.5,19.2 366.0,19.7 366.5,20.2 367.0,20.8 367.5,21.3 368.0,21.8 368.5,22.4 369.0,22.9 369.5,23.4 369.9,23.9 370.4,24.5 370.9,25.0 371.4,25.5 371.9,26.1 372.4,26.6 372.9,27.1 373.4,27.7 373.9,28.2 374.4,28.7 374.9,29.3 375.4,29.8 375.9,30.3 376.4,30.9 376.9,31.4 377.4,31.9 377.9,32.4 378.4,33.0 378.9,33.5 379.4,34.0 379.9,34.6 380.4,35.1 380.9,35.6 381.4,36.2 381.9,36.7 382.4,37.2 382.9,37.8 383.4,38.3 383.9,38.9 384.4,39.4 384.9,39.9 385.4,40.5 385.9,41.0 386.4,41.5 386.9,42.1 387.4,42.6 387.9,43.1 388.4,43.7 388.9,44.2 389.4,44.7 389.9,45.3 390.4,45.8 390.9,46.4 391.4,46.9 391.9,47.4 392.4,48.0 392.8,48.5 393.3,49.1 393.8,49.6 394.3,50.1 394.8,50.7 395.3,51.2 395.8,51.8 396.3,52.3 396.8,52.8 397.3,53.4 397.8,53.9 398.3,54.5 398.8,55.0 399.3,55.5 399.8,56.1 400.3,56.6 400.8,57.2 401.3,57.7 401.8,58.3 402.3,58.8 402.8,59.3 403.3,59.9 403.8,60.4 404.3,61.0 404.8,61.5 405.3,62.1 405.8,62.6 406.3,63.2 406.8,63.7 407.3,64.3 407.8,64.8 408.3,65.4 408.8,65.9 409.3,66.5 409.8,67.0 410.3,67.6 410.8,68.1 411.3,68.7 411.8,69.2 412.3,69.8 412.8,70.3 413.3,70.9 413.8,71.4 414.3,72.0 414.8,72.5 415.2,73.1 415.7,73.7 416.2,74.2 416.7,74.8 417.2,75.3 417.7,75.9 418.2,76.4 418.7,77.0 419.2,77.6 419.7,78.1 420.2,78.7 420.7,79.2 421.2,79.8 421.7,80.4 422.2,80.9 422.7,81.5 423.2,82.0 423.7,82.6 424.2,83.1 424.7,83.7 425.2,84.3 425.7,84.8 426.2,85.4 426.7,86.0 427.2,86.5 427.7,87.1 428.2,87.6 428.7,88.2 429.2,88.8 429.7,89.3 430.2,89.9 430.7,90.4 431.2,91.0 431.7,91.6 432.2,92.1 432.7,92.7 433.2,93.3 433.7,93.8 434.2,94.4 434.7,94.9 435.2,95.5 435.7,96.1 436.2,96.6 436.7,97.2 437.2,97.8 437.6,98.3 438.1,98.9 438.6,99.4 439.1,100.0 439.6,100.6 440.1,101.1 440.6,101.7 441.1,102.3 441.6,102.8 442.1,103.4 442.6,103.9 443.1,104.5 443.6,105.1 444.1,105.6 444.6,106.2 445.1,106.7 445.6,107.3 446.1,107.9 446.6,108.4 447.1,109.0 447.6,109.5 448.1,110.1 448.6,110.7 449.1,111.2 449.6,111.8 450.1,112.3 450.6,112.9 451.1,113.5 451.6,114.0 452.1,114.6 452.6,115.1 453.1,115.7 453.6,116.2 454.1,116.8 454.6,117.4 455.1,117.9 455.6,118.5 456.1,119.0 456.6,119.6 457.1,120.1 457.6,120.7 458.1,121.2 458.6,121.8 459.1,122.3 459.6,122.9 460.1,123.4 460.5,124.0 461.0,124.5 461.5,125.1 462.0,125.6 462.5,126.2 463.0,126.7 463.5,127.3 464.0,127.8 464.5,128.4 465.0,128.9 465.5,129.5 466.0,130.0 466.5,130.6 467.0,131.1 467.5,131.7 468.0,132.2 468.5,132.7 469.0,133.3 469.5,133.8 470.0,134.3 470.5,134.9 471.0,135.4 471.5,135.9 472.0,136.5 472.5,137.0 473.0,137.5 473.5,138.0 474.0,138.6 474.5,139.1 475.0,139.6 475.5,140.1 476.0,140.7 476.5,141.2 477.0,141.7 477.5,142.2 478.0,142.8 478.5,143.3 479.0,143.8 479.5,144.3 480.0,144.9 480.5,145.4 481.0,145.9 481.5,146.4 482.0,147.0 482.5,147.5 482.9,148.0 483.4,148.6 483.9,149.1 484.4,149.6 484.9,150.2 485.4,150.7 485.9,151.2 486.4,151.8 486.9,152.3 487.4,152.9 487.9,153.4 488.4,154.0 488.9,154.5 489.4,155.1 489.9,155.6 490.4,156.2 490.9,156.7 491.4,157.3 491.9,157.8 492.4,158.4 492.9,159.0 493.4,159.5 493.9,160.1 494.4,160.7 494.9,161.3 495.4,161.9 495.9,162.4 496.4,163.0 496.9,163.6 497.4,164.2 497.9,164.8 498.4,165.4 498.9,166.0 499.4,166.6 499.9,167.2 500.4,167.8 500.9,168.4 501.4,169.0 501.9,169.6 502.4,170.2 502.9,170.8 503.4,171.4 503.9,172.0 504.4,172.7 504.9,173.3 505.3,173.9 505.8,174.5 506.3,175.1 506.8,175.8 507.3,176.4 507.8,177.0 508.3,177.6 508.8,178.3 509.3,178.9 509.8,179.5 510.3,180.1 510.8,180.8 511.3,181.4 511.8,182.0 512.3,182.7 512.8,183.3 513.3,183.9 513.8,184.6 514.3,185.2 514.8,185.8 515.3,186.5 515.8,187.1 516.3,187.7 516.8,188.4 517.3,189.0 517.8,189.6 518.3,190.3 518.8,190.9 519.3,191.5 519.8,192.1 520.3,192.8 520.8,193.4 521.3,194.0 521.8,194.7 522.3,195.3 522.8,195.9 523.3,196.6 523.8,197.2 524.3,197.8 524.8,198.4 525.3,199.1 525.8,199.7 526.3,200.3 526.8,200.9 527.3,201.6 527.8,202.2 528.2,202.8 528.7,203.4 529.2,204.1 529.7,204.7 530.2,205.3 530.7,205.9 531.2,206.6 531.7,207.2 532.2,207.8 532.7,208.4 533.2,209.1 533.7,209.7 534.2,210.3 534.7,211.0 535.2,211.6 535.7,212.2 536.2,212.8 536.7,213.5 537.2,214.1 537.7,214.7 538.2,215.3 538.7,216.0 539.2,216.6 539.7,217.2 540.2,217.9 540.7,218.5 541.2,219.1 541.7,219.7 542.2,220.4 542.7,221.0 543.2,221.6 543.7,222.3 544.2,222.9 544.7,223.5 545.2,224.2 545.7,224.8 546.2,225.4 546.7,226.0 547.2,226.7 547.7,227.3 548.2,227.9 548.7,228.6 549.2,229.2 549.7,229.8 550.2,230.5 550.6,231.1 551.1,231.7 551.6,232.4 552.1,233.0 552.6,233.6 553.1,234.3 553.6,234.9 554.1,235.5 554.6,236.2 555.1,236.8 555.6,237.4 556.1,238.1 556.6,238.7 557.1,239.3 557.6,240.0 558.1,240.6 558.6,241.2 559.1,241.9 559.6,242.5 560.1,243.1 560.6,243.8 561.1,244.4 561.6,245.0 562.1,245.7 562.6,246.3 563.1,247.0 563.6,247.6 564.1,248.2 564.6,248.9 565.1,249.5 565.6,250.1 566.1,250.8 566.6,251.4 567.1,252.0 567.6,252.7 568.1,253.3 568.6,254.0 569.1,254.6 569.6,255.2 570.1,255.9 570.6,256.5 571.1,257.2 571.6,257.8 572.1,258.4 572.6,259.1 573.0,259.7 573.5,260.4 574.0,261.0 574.5,261.6 575.0,262.3 575.5,262.9 576.0,263.6 576.5,264.2 577.0,264.8 577.5,265.5 578.0,266.1 578.5,266.8 579.0,267.4 579.5,268.0 580.0,268.7 580.5,269.3 581.0,270.0 581.5,270.6 582.0,271.3 582.5,271.9 583.0,272.5 583.5,273.2 584.0,273.8 584.5,274.5 585.0,275.1 585.5,275.8 586.0,276.4 586.5,277.1 587.0,277.7 587.5,278.3 588.0,279.0 588.5,279.6 589.0,280.3 589.5,280.9 590.0,281.6 590.5,282.2 591.0,282.9 591.5,283.5 592.0,284.1 592.5,284.8 593.0,285.4 593.5,286.1 594.0,286.7 594.5,287.4 595.0,288.0 595.5,288.7 595.9,289.3 596.4,290.0 596.9,290.6 597.4,291.3 597.9,291.9 598.4,292.6 598.9,293.2 599.4,293.9 599.9,294.5 600.4,295.2 600.9,295.8 601.4,296.5 601.9,297.1 602.4,297.8 602.9,298.4 603.4,299.1 603.9,299.7 604.4,300.4 604.9,301.0 605.4,301.7 605.9,302.3 606.4,303.0 606.9,303.6" fill="none" stroke="#1a1aff" stroke-width="0.95" stroke-dasharray="1.3 1.9 0.7 1.9" opacity="0.85"/>
<polyline points="358.5,-6.8 359.0,-6.2 359.5,-5.7 360.0,-5.1 360.5,-4.6 361.0,-4.1 361.5,-3.5 362.0,-3.0 362.5,-2.4 363.0,-1.9 363.5,-1.3 364.0,-0.8 364.5,-0.2 365.0,0.3 365.5,0.8 366.0,1.4 366.5,1.9 367.0,2.5 367.5,3.0 368.0,3.6 368.5,4.1 369.0,4.7 369.5,5.3 369.9,5.8 370.4,6.4 370.9,6.9 371.4,7.5 371.9,8.0 372.4,8.6 372.9,9.2 373.4,9.7 373.9,10.3 374.4,10.9 374.9,11.4 375.4,12.0 375.9,12.5 376.4,13.1 376.9,13.7 377.4,14.2 377.9,14.8 378.4,15.4 378.9,15.9 379.4,16.5 379.9,17.1 380.4,17.6 380.9,18.2 381.4,18.8 381.9,19.3 382.4,19.9 382.9,20.4 383.4,21.0 383.9,21.6 384.4,22.1 384.9,22.7 385.4,23.3 385.9,23.8 386.4,24.4 386.9,24.9 387.4,25.5 387.9,26.0 388.4,26.6 388.9,27.2 389.4,27.7 389.9,28.3 390.4,28.8 390.9,29.4 391.4,29.9 391.9,30.5 392.4,31.0 392.8,31.6 393.3,32.1 393.8,32.6 394.3,33.2 394.8,33.7 395.3,34.3 395.8,34.8 396.3,35.3 396.8,35.9 397.3,36.4 397.8,36.9 398.3,37.5 398.8,38.0 399.3,38.5 399.8,39.0 400.3,39.6 400.8,40.1 401.3,40.6 401.8,41.1 402.3,41.6 402.8,42.1 403.3,42.6 403.8,43.1 404.3,43.6 404.8,44.1 405.3,44.6 405.8,45.1 406.3,45.6 406.8,46.1 407.3,46.6 407.8,47.1 408.3,47.5 408.8,48.0 409.3,48.5 409.8,49.0 410.3,49.5 410.8,49.9 411.3,50.4 411.8,50.9 412.3,51.3 412.8,51.8 413.3,52.3 413.8,52.7 414.3,53.2 414.8,53.7 415.2,54.1 415.7,54.6 416.2,55.0 416.7,55.5 417.2,55.9 417.7,56.4 418.2,56.8 418.7,57.3 419.2,57.7 419.7,58.2 420.2,58.6 420.7,59.1 421.2,59.5 421.7,60.0 422.2,60.4 422.7,60.9 423.2,61.3 423.7,61.7 424.2,62.2 424.7,62.6 425.2,63.0 425.7,63.5 426.2,63.9 426.7,64.3 427.2,64.8 427.7,65.2 428.2,65.6 428.7,66.0 429.2,66.5 429.7,66.9 430.2,67.3 430.7,67.7 431.2,68.2 431.7,68.6 432.2,69.0 432.7,69.4 433.2,69.8 433.7,70.3 434.2,70.7 434.7,71.1 435.2,71.5 435.7,71.9 436.2,72.3 436.7,72.7 437.2,73.2 437.6,73.6 438.1,74.0 438.6,74.4 439.1,74.8 439.6,75.2 440.1,75.6 440.6,76.0 441.1,76.4 441.6,76.8 442.1,77.2 442.6,77.7 443.1,78.1 443.6,78.5 444.1,78.9 444.6,79.3 445.1,79.7 445.6,80.1 446.1,80.5 446.6,80.9 447.1,81.4 447.6,81.8 448.1,82.2 448.6,82.6 449.1,83.0 449.6,83.4 450.1,83.8 450.6,84.2 451.1,84.6 451.6,85.0 452.1,85.4 452.6,85.9 453.1,86.3 453.6,86.7 454.1,87.1 454.6,87.5 455.1,87.9 455.6,88.3 456.1,88.7 456.6,89.1 457.1,89.5 457.6,89.9 458.1,90.3 458.6,90.7 459.1,91.1 459.6,91.5 460.1,91.8 460.5,92.2 461.0,92.6 461.5,93.0 462.0,93.4 462.5,93.8 463.0,94.2 463.5,94.5 464.0,94.9 464.5,95.3 465.0,95.7 465.5,96.0 466.0,96.4 466.5,96.8 467.0,97.1 467.5,97.5 468.0,97.9 468.5,98.2 469.0,98.6 469.5,98.9 470.0,99.3 470.5,99.6 471.0,100.0 471.5,100.3 472.0,100.7 472.5,101.0 473.0,101.4 473.5,101.7 474.0,102.0 474.5,102.4 475.0,102.7 475.5,103.0 476.0,103.3 476.5,103.6 477.0,104.0 477.5,104.3 478.0,104.6 478.5,104.9 479.0,105.2 479.5,105.5 480.0,105.8 480.5,106.1 481.0,106.4 481.5,106.6 482.0,106.9 482.5,107.2 482.9,107.5 483.4,107.8 483.9,108.0 484.4,108.3 484.9,108.6 485.4,108.9 485.9,109.1 486.4,109.4 486.9,109.7 487.4,109.9 487.9,110.2 488.4,110.4 488.9,110.7 489.4,110.9 489.9,111.2 490.4,111.4 490.9,111.7 491.4,111.9 491.9,112.2 492.4,112.4 492.9,112.7 493.4,112.9 493.9,113.2 494.4,113.4 494.9,113.6 495.4,113.9 495.9,114.1 496.4,114.3 496.9,114.6 497.4,114.8 497.9,115.0 498.4,115.3 498.9,115.5 499.4,115.7 499.9,116.0 500.4,116.2 500.9,116.4 501.4,116.6 501.9,116.9 502.4,117.1 502.9,117.3 503.4,117.5 503.9,117.8 504.4,118.0 504.9,118.2 505.3,118.4 505.8,118.6 506.3,118.9 506.8,119.1 507.3,119.3 507.8,119.5 508.3,119.8 508.8,120.0 509.3,120.2 509.8,120.4 510.3,120.6 510.8,120.9 511.3,121.1 511.8,121.3 512.3,121.5 512.8,121.7 513.3,122.0 513.8,122.2 514.3,122.4 514.8,122.6 515.3,122.9 515.8,123.1 516.3,123.3 516.8,123.5 517.3,123.8 517.8,124.0 518.3,124.2 518.8,124.4 519.3,124.7 519.8,124.9 520.3,125.1 520.8,125.4 521.3,125.6 521.8,125.8 522.3,126.1 522.8,126.3 523.3,126.5 523.8,126.7 524.3,127.0 524.8,127.2 525.3,127.4 525.8,127.7 526.3,127.9 526.8,128.1 527.3,128.3 527.8,128.6 528.2,128.8 528.7,129.0 529.2,129.3 529.7,129.5 530.2,129.7 530.7,129.9 531.2,130.2 531.7,130.4 532.2,130.6 532.7,130.8 533.2,131.1 533.7,131.3 534.2,131.5 534.7,131.8 535.2,132.0 535.7,132.2 536.2,132.4 536.7,132.7 537.2,132.9 537.7,133.1 538.2,133.3 538.7,133.5 539.2,133.8 539.7,134.0 540.2,134.2 540.7,134.4 541.2,134.7 541.7,134.9 542.2,135.1 542.7,135.3 543.2,135.6 543.7,135.8 544.2,136.0 544.7,136.2 545.2,136.5 545.7,136.7 546.2,136.9 546.7,137.1 547.2,137.3 547.7,137.6 548.2,137.8 548.7,138.0 549.2,138.2 549.7,138.4 550.2,138.7 550.6,138.9 551.1,139.1 551.6,139.3 552.1,139.5 552.6,139.8 553.1,140.0 553.6,140.2 554.1,140.4 554.6,140.6 555.1,140.9 555.6,141.1 556.1,141.3 556.6,141.5 557.1,141.7 557.6,142.0 558.1,142.2 558.6,142.4 559.1,142.6 559.6,142.8 560.1,143.0 560.6,143.3 561.1,143.5 561.6,143.7 562.1,143.9 562.6,144.1 563.1,144.3 563.6,144.6 564.1,144.8 564.6,145.0 565.1,145.2 565.6,145.4 566.1,145.6 566.6,145.9 567.1,146.1 567.6,146.3 568.1,146.5 568.6,146.7 569.1,146.9 569.6,147.1 570.1,147.4 570.6,147.6 571.1,147.8 571.6,148.0 572.1,148.2 572.6,148.4 573.0,148.6 573.5,148.9 574.0,149.1 574.5,149.3 575.0,149.5 575.5,149.7 576.0,149.9 576.5,150.1 577.0,150.3 577.5,150.5 578.0,150.8 578.5,151.0 579.0,151.2 579.5,151.4 580.0,151.6 580.5,151.8 581.0,152.0 581.5,152.2 582.0,152.5 582.5,152.7 583.0,152.9 583.5,153.1 584.0,153.3 584.5,153.5 585.0,153.7 585.5,153.9 586.0,154.1 586.5,154.3 587.0,154.6 587.5,154.8 588.0,155.0 588.5,155.2 589.0,155.4 589.5,155.6 590.0,155.8 590.5,156.0 591.0,156.2 591.5,156.4 592.0,156.7 592.5,156.9 593.0,157.1 593.5,157.3 594.0,157.5 594.5,157.7 595.0,157.9 595.5,158.1 595.9,158.3 596.4,158.5 596.9,158.8 597.4,159.0 597.9,159.2 598.4,159.4 598.9,159.6 599.4,159.8 599.9,160.0 600.4,160.2 600.9,160.4 601.4,160.6 601.9,160.9 602.4,161.1 602.9,161.3 603.4,161.5 603.9,161.7 604.4,161.9 604.9,162.1 605.4,162.3 605.9,162.5 606.4,162.7 606.9,163.0" fill="none" stroke="#ff1010" stroke-width="1.0"/>
<polyline points="358.5,0.6 359.0,1.1 359.5,1.7 360.0,2.2 360.5,2.8 361.0,3.3 361.5,3.9 362.0,4.4 362.5,5.0 363.0,5.5 363.5,6.1 364.0,6.6 364.5,7.2 365.0,7.7 365.5,8.3 366.0,8.9 366.5,9.4 367.0,10.0 367.5,10.5 368.0,11.1 368.5,11.7 369.0,12.2 369.5,12.8 369.9,13.4 370.4,13.9 370.9,14.5 371.4,15.1 371.9,15.6 372.4,16.2 372.9,16.8 373.4,17.3 373.9,17.9 374.4,18.5 374.9,19.0 375.4,19.6 375.9,20.2 376.4,20.8 376.9,21.3 377.4,21.9 377.9,22.5 378.4,23.0 378.9,23.6 379.4,24.2 379.9,24.7 380.4,25.3 380.9,25.9 381.4,26.4 381.9,27.0 382.4,27.6 382.9,28.1 383.4,28.7 383.9,29.3 384.4,29.8 384.9,30.4 385.4,31.0 385.9,31.5 386.4,32.1 386.9,32.7 387.4,33.2 387.9,33.8 388.4,34.4 388.9,34.9 389.4,35.5 389.9,36.0 390.4,36.6 390.9,37.1 391.4,37.7 391.9,38.3 392.4,38.8 392.8,39.4 393.3,39.9 393.8,40.5 394.3,41.0 394.8,41.6 395.3,42.1 395.8,42.6 396.3,43.2 396.8,43.7 397.3,44.3 397.8,44.8 398.3,45.4 398.8,45.9 399.3,46.4 399.8,47.0 400.3,47.5 400.8,48.0 401.3,48.5 401.8,49.1 402.3,49.6 402.8,50.1 403.3,50.6 403.8,51.2 404.3,51.7 404.8,52.2 405.3,52.7 405.8,53.2 406.3,53.7 406.8,54.2 407.3,54.7 407.8,55.2 408.3,55.7 408.8,56.2 409.3,56.7 409.8,57.2 410.3,57.7 410.8,58.2 411.3,58.7 411.8,59.2 412.3,59.7 412.8,60.2 413.3,60.6 413.8,61.1 414.3,61.6 414.8,62.1 415.2,62.5 415.7,63.0 416.2,63.5 416.7,63.9 417.2,64.4 417.7,64.9 418.2,65.3 418.7,65.8 419.2,66.2 419.7,66.7 420.2,67.2 420.7,67.6 421.2,68.1 421.7,68.5 422.2,69.0 422.7,69.4 423.2,69.9 423.7,70.3 424.2,70.8 424.7,71.2 425.2,71.6 425.7,72.1 426.2,72.5 426.7,72.9 427.2,73.4 427.7,73.8 428.2,74.2 428.7,74.7 429.2,75.1 429.7,75.5 430.2,76.0 430.7,76.4 431.2,76.8 431.7,77.2 432.2,77.6 432.7,78.1 433.2,78.5 433.7,78.9 434.2,79.3 434.7,79.7 435.2,80.1 435.7,80.5 436.2,80.9 436.7,81.3 437.2,81.7 437.6,82.1 438.1,82.5 438.6,82.9 439.1,83.3 439.6,83.7 440.1,84.1 440.6,84.5 441.1,84.9 441.6,85.3 442.1,85.7 442.6,86.1 443.1,86.5 443.6,86.8 444.1,87.2 444.6,87.6 445.1,88.0 445.6,88.4 446.1,88.8 446.6,89.2 447.1,89.5 447.6,89.9 448.1,90.3 448.6,90.7 449.1,91.1 449.6,91.5 450.1,91.8 450.6,92.2 451.1,92.6 451.6,93.0 452.1,93.3 452.6,93.7 453.1,94.1 453.6,94.5 454.1,94.8 454.6,95.2 455.1,95.6 455.6,96.0 456.1,96.3 456.6,96.7 457.1,97.1 457.6,97.4 458.1,97.8 458.6,98.1 459.1,98.5 459.6,98.9 460.1,99.2 460.5,99.6 461.0,99.9 461.5,100.3 462.0,100.6 462.5,101.0 463.0,101.3 463.5,101.7 464.0,102.0 464.5,102.4 465.0,102.7 465.5,103.1 466.0,103.4 466.5,103.8 467.0,104.1 467.5,104.4 468.0,104.8 468.5,105.1 469.0,105.4 469.5,105.8 470.0,106.1 470.5,106.4 471.0,106.7 471.5,107.1 472.0,107.4 472.5,107.7 473.0,108.0 473.5,108.3 474.0,108.7 474.5,109.0 475.0,109.3 475.5,109.6 476.0,109.9 476.5,110.2 477.0,110.5 477.5,110.8 478.0,111.1 478.5,111.4 479.0,111.7 479.5,112.0 480.0,112.3 480.5,112.6 481.0,112.9 481.5,113.1 482.0,113.4 482.5,113.7 482.9,114.0 483.4,114.3 483.9,114.5 484.4,114.8 484.9,115.1 485.4,115.3 485.9,115.6 486.4,115.9 486.9,116.2 487.4,116.4 487.9,116.7 488.4,116.9 488.9,117.2 489.4,117.5 489.9,117.7 490.4,118.0 490.9,118.2 491.4,118.5 491.9,118.7 492.4,119.0 492.9,119.2 493.4,119.5 493.9,119.7 494.4,120.0 494.9,120.2 495.4,120.5 495.9,120.7 496.4,121.0 496.9,121.2 497.4,121.4 497.9,121.7 498.4,121.9 498.9,122.2 499.4,122.4 499.9,122.6 500.4,122.9 500.9,123.1 501.4,123.3 501.9,123.6 502.4,123.8 502.9,124.0 503.4,124.3 503.9,124.5 504.4,124.7 504.9,125.0 505.3,125.2 505.8,125.4 506.3,125.7 506.8,125.9 507.3,126.1 507.8,126.4 508.3,126.6 508.8,126.8 509.3,127.0 509.8,127.3 510.3,127.5 510.8,127.7 511.3,128.0 511.8,128.2 512.3,128.4 512.8,128.6 513.3,128.9 513.8,129.1 514.3,129.3 514.8,129.6 515.3,129.8 515.8,130.0 516.3,130.3 516.8,130.5 517.3,130.7 517.8,131.0 518.3,131.2 518.8,131.4 519.3,131.7 519.8,131.9 520.3,132.1 520.8,132.4 521.3,132.6 521.8,132.8 522.3,133.1 522.8,133.3 523.3,133.5 523.8,133.8 524.3,134.0 524.8,134.2 525.3,134.5 525.8,134.7 526.3,134.9 526.8,135.2 527.3,135.4 527.8,135.6 528.2,135.8 528.7,136.1 529.2,136.3 529.7,136.5 530.2,136.8 530.7,137.0 531.2,137.2 531.7,137.4 532.2,137.7 532.7,137.9 533.2,138.1 533.7,138.4 534.2,138.6 534.7,138.8 535.2,139.0 535.7,139.3 536.2,139.5 536.7,139.7 537.2,139.9 537.7,140.2 538.2,140.4 538.7,140.6 539.2,140.8 539.7,141.1 540.2,141.3 540.7,141.5 541.2,141.7 541.7,141.9 542.2,142.2 542.7,142.4 543.2,142.6 543.7,142.8 544.2,143.1 544.7,143.3 545.2,143.5 545.7,143.7 546.2,144.0 546.7,144.2 547.2,144.4 547.7,144.6 548.2,144.9 548.7,145.1 549.2,145.3 549.7,145.5 550.2,145.8 550.6,146.0 551.1,146.2 551.6,146.4 552.1,146.6 552.6,146.9 553.1,147.1 553.6,147.3 554.1,147.5 554.6,147.8 555.1,148.0 555.6,148.2 556.1,148.4 556.6,148.7 557.1,148.9 557.6,149.1 558.1,149.3 558.6,149.6 559.1,149.8 559.6,150.0 560.1,150.2 560.6,150.5 561.1,150.7 561.6,150.9 562.1,151.2 562.6,151.4 563.1,151.6 563.6,151.8 564.1,152.1 564.6,152.3 565.1,152.5 565.6,152.8 566.1,153.0 566.6,153.2 567.1,153.4 567.6,153.7 568.1,153.9 568.6,154.1 569.1,154.4 569.6,154.6 570.1,154.8 570.6,155.1 571.1,155.3 571.6,155.5 572.1,155.7 572.6,156.0 573.0,156.2 573.5,156.4 574.0,156.7 574.5,156.9 575.0,157.1 575.5,157.4 576.0,157.6 576.5,157.8 577.0,158.1 577.5,158.3 578.0,158.5 578.5,158.7 579.0,159.0 579.5,159.2 580.0,159.4 580.5,159.7 581.0,159.9 581.5,160.1 582.0,160.4 582.5,160.6 583.0,160.8 583.5,161.0 584.0,161.3 584.5,161.5 585.0,161.7 585.5,162.0 586.0,162.2 586.5,162.4 587.0,162.6 587.5,162.9 588.0,163.1 588.5,163.3 589.0,163.6 589.5,163.8 590.0,164.0 590.5,164.2 591.0,164.5 591.5,164.7 592.0,164.9 592.5,165.2 593.0,165.4 593.5,165.6 594.0,165.8 594.5,166.1 595.0,166.3 595.5,166.5 595.9,166.7 596.4,167.0 596.9,167.2 597.4,167.4 597.9,167.6 598.4,167.8 598.9,168.1 599.4,168.3 599.9,168.5 600.4,168.7 600.9,168.9 601.4,169.2 601.9,169.4 602.4,169.6 602.9,169.8 603.4,170.0 603.9,170.3 604.4,170.5 604.9,170.7 605.4,170.9 605.9,171.1 606.4,171.3 606.9,171.6" fill="none" stroke="#3cb371" stroke-width="1.0"/>
<polyline points="358.5,4.7 359.0,5.2 359.5,5.8 360.0,6.3 360.5,6.8 361.0,7.4 361.5,7.9 362.0,8.4 362.5,9.0 363.0,9.5 363.5,10.0 364.0,10.6 364.5,11.1 365.0,11.6 365.5,12.2 366.0,12.7 366.5,13.2 367.0,13.8 367.5,14.3 368.0,14.9 368.5,15.4 369.0,15.9 369.5,16.5 369.9,17.0 370.4,17.5 370.9,18.1 371.4,18.6 371.9,19.2 372.4,19.7 372.9,20.2 373.4,20.8 373.9,21.3 374.4,21.9 374.9,22.4 375.4,22.9 375.9,23.5 376.4,24.0 376.9,24.6 377.4,25.1 377.9,25.7 378.4,26.2 378.9,26.7 379.4,27.3 379.9,27.8 380.4,28.3 380.9,28.9 381.4,29.4 381.9,30.0 382.4,30.5 382.9,31.0 383.4,31.6 383.9,32.1 384.4,32.7 384.9,33.2 385.4,33.7 385.9,34.3 386.4,34.8 386.9,35.3 387.4,35.9 387.9,36.4 388.4,36.9 388.9,37.5 389.4,38.0 389.9,38.5 390.4,39.1 390.9,39.6 391.4,40.1 391.9,40.7 392.4,41.2 392.8,41.7 393.3,42.3 393.8,42.8 394.3,43.3 394.8,43.8 395.3,44.4 395.8,44.9 396.3,45.4 396.8,46.0 397.3,46.5 397.8,47.0 398.3,47.5 398.8,48.0 399.3,48.6 399.8,49.1 400.3,49.6 400.8,50.1 401.3,50.6 401.8,51.2 402.3,51.7 402.8,52.2 403.3,52.7 403.8,53.2 404.3,53.7 404.8,54.2 405.3,54.7 405.8,55.2 406.3,55.8 406.8,56.3 407.3,56.8 407.8,57.3 408.3,57.8 408.8,58.3 409.3,58.8 409.8,59.3 410.3,59.8 410.8,60.3 411.3,60.8 411.8,61.3 412.3,61.8 412.8,62.3 413.3,62.8 413.8,63.3 414.3,63.8 414.8,64.3 415.2,64.8 415.7,65.3 416.2,65.8 416.7,66.3 417.2,66.8 417.7,67.3 418.2,67.8 418.7,68.3 419.2,68.8 419.7,69.3 420.2,69.8 420.7,70.3 421.2,70.8 421.7,71.3 422.2,71.8 422.7,72.2 423.2,72.7 423.7,73.2 424.2,73.7 424.7,74.2 425.2,74.7 425.7,75.2 426.2,75.7 426.7,76.1 427.2,76.6 427.7,77.1 428.2,77.6 428.7,78.0 429.2,78.5 429.7,79.0 430.2,79.4 430.7,79.9 431.2,80.4 431.7,80.8 432.2,81.3 432.7,81.7 433.2,82.2 433.7,82.6 434.2,83.1 434.7,83.5 435.2,83.9 435.7,84.4 436.2,84.8 436.7,85.2 437.2,85.7 437.6,86.1 438.1,86.5 438.6,86.9 439.1,87.3 439.6,87.7 440.1,88.1 440.6,88.5 441.1,88.9 441.6,89.3 442.1,89.7 442.6,90.1 443.1,90.5 443.6,90.9 444.1,91.2 444.6,91.6 445.1,92.0 445.6,92.4 446.1,92.8 446.6,93.1 447.1,93.5 447.6,93.9 448.1,94.3 448.6,94.6 449.1,95.0 449.6,95.4 450.1,95.7 450.6,96.1 451.1,96.5 451.6,96.8 452.1,97.2 452.6,97.6 453.1,97.9 453.6,98.3 454.1,98.6 454.6,99.0 455.1,99.3 455.6,99.7 456.1,100.0 456.6,100.4 457.1,100.7 457.6,101.1 458.1,101.4 458.6,101.7 459.1,102.1 459.6,102.4 460.1,102.8 460.5,103.1 461.0,103.4 461.5,103.8 462.0,104.1 462.5,104.4 463.0,104.8 463.5,105.1 464.0,105.4 464.5,105.7 465.0,106.1 465.5,106.4 466.0,106.7 466.5,107.0 467.0,107.3 467.5,107.7 468.0,108.0 468.5,108.3 469.0,108.6 469.5,108.9 470.0,109.2 470.5,109.5 471.0,109.8 471.5,110.2 472.0,110.5 472.5,110.8 473.0,111.1 473.5,111.4 474.0,111.7 474.5,112.0 475.0,112.3 475.5,112.6 476.0,112.9 476.5,113.2 477.0,113.4 477.5,113.7 478.0,114.0 478.5,114.3 479.0,114.6 479.5,114.9 480.0,115.2 480.5,115.5 481.0,115.7 481.5,116.0 482.0,116.3 482.5,116.6 482.9,116.9 483.4,117.1 483.9,117.4 484.4,117.7 484.9,118.0 485.4,118.2 485.9,118.5 486.4,118.8 486.9,119.0 487.4,119.3 487.9,119.6 488.4,119.8 488.9,120.1 489.4,120.3 489.9,120.6 490.4,120.9 490.9,121.1 491.4,121.4 491.9,121.6 492.4,121.9 492.9,122.1 493.4,122.4 493.9,122.6 494.4,122.9 494.9,123.1 495.4,123.4 495.9,123.6 496.4,123.9 496.9,124.1 497.4,124.4 497.9,124.6 498.4,124.9 498.9,125.1 499.4,125.3 499.9,125.6 500.4,125.8 500.9,126.1 501.4,126.3 501.9,126.5 502.4,126.8 502.9,127.0 503.4,127.3 503.9,127.5 504.4,127.7 504.9,128.0 505.3,128.2 505.8,128.4 506.3,128.7 506.8,128.9 507.3,129.1 507.8,129.4 508.3,129.6 508.8,129.8 509.3,130.1 509.8,130.3 510.3,130.5 510.8,130.8 511.3,131.0 511.8,131.2 512.3,131.4 512.8,131.7 513.3,131.9 513.8,132.1 514.3,132.4 514.8,132.6 515.3,132.8 515.8,133.1 516.3,133.3 516.8,133.5 517.3,133.7 517.8,134.0 518.3,134.2 518.8,134.4 519.3,134.7 519.8,134.9 520.3,135.1 520.8,135.4 521.3,135.6 521.8,135.8 522.3,136.0 522.8,136.3 523.3,136.5 523.8,136.7 524.3,137.0 524.8,137.2 525.3,137.4 525.8,137.6 526.3,137.8 526.8,138.1 527.3,138.3 527.8,138.5 528.2,138.7 528.7,139.0 529.2,139.2 529.7,139.4 530.2,139.6 530.7,139.8 531.2,140.0 531.7,140.3 532.2,140.5 532.7,140.7 533.2,140.9 533.7,141.1 534.2,141.3 534.7,141.6 535.2,141.8 535.7,142.0 536.2,142.2 536.7,142.4 537.2,142.6 537.7,142.8 538.2,143.0 538.7,143.3 539.2,143.5 539.7,143.7 540.2,143.9 540.7,144.1 541.2,144.3 541.7,144.5 542.2,144.8 542.7,145.0 543.2,145.2 543.7,145.4 544.2,145.6 544.7,145.8 545.2,146.0 545.7,146.2 546.2,146.5 546.7,146.7 547.2,146.9 547.7,147.1 548.2,147.3 548.7,147.5 549.2,147.7 549.7,148.0 550.2,148.2 550.6,148.4 551.1,148.6 551.6,148.8 552.1,149.0 552.6,149.2 553.1,149.5 553.6,149.7 554.1,149.9 554.6,150.1 555.1,150.3 555.6,150.6 556.1,150.8 556.6,151.0 557.1,151.2 557.6,151.4 558.1,151.7 558.6,151.9 559.1,152.1 559.6,152.3 560.1,152.5 560.6,152.8 561.1,153.0 561.6,153.2 562.1,153.5 562.6,153.7 563.1,153.9 563.6,154.1 564.1,154.4 564.6,154.6 565.1,154.8 565.6,155.0 566.1,155.3 566.6,155.5 567.1,155.7 567.6,156.0 568.1,156.2 568.6,156.4 569.1,156.7 569.6,156.9 570.1,157.1 570.6,157.4 571.1,157.6 571.6,157.8 572.1,158.1 572.6,158.3 573.0,158.5 573.5,158.8 574.0,159.0 574.5,159.2 575.0,159.5 575.5,159.7 576.0,159.9 576.5,160.2 577.0,160.4 577.5,160.7 578.0,160.9 578.5,161.1 579.0,161.4 579.5,161.6 580.0,161.8 580.5,162.1 581.0,162.3 581.5,162.5 582.0,162.8 582.5,163.0 583.0,163.3 583.5,163.5 584.0,163.7 584.5,164.0 585.0,164.2 585.5,164.4 586.0,164.7 586.5,164.9 587.0,165.1 587.5,165.4 588.0,165.6 588.5,165.9 589.0,166.1 589.5,166.3 590.0,166.6 590.5,166.8 591.0,167.0 591.5,167.3 592.0,167.5 592.5,167.7 593.0,168.0 593.5,168.2 594.0,168.4 594.5,168.7 595.0,168.9 595.5,169.1 595.9,169.4 596.4,169.6 596.9,169.8 597.4,170.1 597.9,170.3 598.4,170.5 598.9,170.7 599.4,171.0 599.9,171.2 600.4,171.4 600.9,171.7 601.4,171.9 601.9,172.1 602.4,172.3 602.9,172.6 603.4,172.8 603.9,173.0 604.4,173.2 604.9,173.5 605.4,173.7 605.9,173.9 606.4,174.1 606.9,174.4" fill="none" stroke="#111111" stroke-width="1.0"/>
<polyline points="358.5,11.8 359.0,12.3 359.5,12.9 360.0,13.4 360.5,13.9 361.0,14.5 361.5,15.0 362.0,15.6 362.5,16.1 363.0,16.6 363.5,17.2 364.0,17.7 364.5,18.3 365.0,18.8 365.5,19.4 366.0,19.9 366.5,20.5 367.0,21.0 367.5,21.6 368.0,22.2 368.5,22.7 369.0,23.3 369.5,23.8 369.9,24.4 370.4,25.0 370.9,25.5 371.4,26.1 371.9,26.6 372.4,27.2 372.9,27.8 373.4,28.3 373.9,28.9 374.4,29.5 374.9,30.0 375.4,30.6 375.9,31.2 376.4,31.7 376.9,32.3 377.4,32.9 377.9,33.4 378.4,34.0 378.9,34.5 379.4,35.1 379.9,35.7 380.4,36.2 380.9,36.8 381.4,37.4 381.9,37.9 382.4,38.5 382.9,39.1 383.4,39.6 383.9,40.2 384.4,40.8 384.9,41.3 385.4,41.9 385.9,42.4 386.4,43.0 386.9,43.6 387.4,44.1 387.9,44.7 388.4,45.2 388.9,45.8 389.4,46.3 389.9,46.9 390.4,47.5 390.9,48.0 391.4,48.6 391.9,49.1 392.4,49.7 392.8,50.2 393.3,50.7 393.8,51.3 394.3,51.8 394.8,52.4 395.3,52.9 395.8,53.4 396.3,54.0 396.8,54.5 397.3,55.1 397.8,55.6 398.3,56.1 398.8,56.6 399.3,57.2 399.8,57.7 400.3,58.2 400.8,58.7 401.3,59.2 401.8,59.8 402.3,60.3 402.8,60.8 403.3,61.3 403.8,61.8 404.3,62.3 404.8,62.8 405.3,63.3 405.8,63.8 406.3,64.3 406.8,64.8 407.3,65.3 407.8,65.8 408.3,66.3 408.8,66.8 409.3,67.2 409.8,67.7 410.3,68.2 410.8,68.7 411.3,69.2 411.8,69.7 412.3,70.2 412.8,70.7 413.3,71.2 413.8,71.6 414.3,72.1 414.8,72.6 415.2,73.1 415.7,73.6 416.2,74.1 416.7,74.5 417.2,75.0 417.7,75.5 418.2,76.0 418.7,76.5 419.2,76.9 419.7,77.4 420.2,77.9 420.7,78.3 421.2,78.8 421.7,79.3 422.2,79.7 422.7,80.2 423.2,80.7 423.7,81.1 424.2,81.6 424.7,82.0 425.2,82.5 425.7,83.0 426.2,83.4 426.7,83.9 427.2,84.3 427.7,84.8 428.2,85.2 428.7,85.6 429.2,86.1 429.7,86.5 430.2,87.0 430.7,87.4 431.2,87.8 431.7,88.2 432.2,88.7 432.7,89.1 433.2,89.5 433.7,89.9 434.2,90.3 434.7,90.8 435.2,91.2 435.7,91.6 436.2,92.0 436.7,92.4 437.2,92.8 437.6,93.2 438.1,93.6 438.6,94.0 439.1,94.3 439.6,94.7 440.1,95.1 440.6,95.5 441.1,95.9 441.6,96.2 442.1,96.6 442.6,97.0 443.1,97.4 443.6,97.7 444.1,98.1 444.6,98.5 445.1,98.8 445.6,99.2 446.1,99.6 446.6,99.9 447.1,100.3 447.6,100.6 448.1,101.0 448.6,101.4 449.1,101.7 449.6,102.1 450.1,102.4 450.6,102.8 451.1,103.1 451.6,103.5 452.1,103.8 452.6,104.2 453.1,104.5 453.6,104.9 454.1,105.2 454.6,105.5 455.1,105.9 455.6,106.2 456.1,106.5 456.6,106.9 457.1,107.2 457.6,107.5 458.1,107.9 458.6,108.2 459.1,108.5 459.6,108.9 460.1,109.2 460.5,109.5 461.0,109.8 461.5,110.2 462.0,110.5 462.5,110.8 463.0,111.1 463.5,111.4 464.0,111.7 464.5,112.0 465.0,112.4 465.5,112.7 466.0,113.0 466.5,113.3 467.0,113.6 467.5,113.9 468.0,114.2 468.5,114.5 469.0,114.8 469.5,115.1 470.0,115.4 470.5,115.7 471.0,116.0 471.5,116.3 472.0,116.5 472.5,116.8 473.0,117.1 473.5,117.4 474.0,117.7 474.5,118.0 475.0,118.3 475.5,118.5 476.0,118.8 476.5,119.1 477.0,119.4 477.5,119.6 478.0,119.9 478.5,120.2 479.0,120.4 479.5,120.7 480.0,121.0 480.5,121.2 481.0,121.5 481.5,121.8 482.0,122.0 482.5,122.3 482.9,122.5 483.4,122.8 483.9,123.0 484.4,123.3 484.9,123.5 485.4,123.8 485.9,124.0 486.4,124.3 486.9,124.5 487.4,124.8 487.9,125.0 488.4,125.2 488.9,125.5 489.4,125.7 489.9,125.9 490.4,126.2 490.9,126.4 491.4,126.6 491.9,126.9 492.4,127.1 492.9,127.3 493.4,127.6 493.9,127.8 494.4,128.0 494.9,128.2 495.4,128.5 495.9,128.7 496.4,128.9 496.9,129.1 497.4,129.3 497.9,129.6 498.4,129.8 498.9,130.0 499.4,130.2 499.9,130.4 500.4,130.6 500.9,130.9 501.4,131.1 501.9,131.3 502.4,131.5 502.9,131.7 503.4,131.9 503.9,132.1 504.4,132.3 504.9,132.6 505.3,132.8 505.8,133.0 506.3,133.2 506.8,133.4 507.3,133.6 507.8,133.8 508.3,134.0 508.8,134.2 509.3,134.5 509.8,134.7 510.3,134.9 510.8,135.1 511.3,135.3 511.8,135.5 512.3,135.7 512.8,135.9 513.3,136.1 513.8,136.3 514.3,136.6 514.8,136.8 515.3,137.0 515.8,137.2 516.3,137.4 516.8,137.6 517.3,137.8 517.8,138.0 518.3,138.3 518.8,138.5 519.3,138.7 519.8,138.9 520.3,139.1 520.8,139.3 521.3,139.6 521.8,139.8 522.3,140.0 522.8,140.2 523.3,140.4 523.8,140.6 524.3,140.8 524.8,141.0 525.3,141.3 525.8,141.5 526.3,141.7 526.8,141.9 527.3,142.1 527.8,142.3 528.2,142.5 528.7,142.7 529.2,142.9 529.7,143.1 530.2,143.3 530.7,143.6 531.2,143.8 531.7,144.0 532.2,144.2 532.7,144.4 533.2,144.6 533.7,144.8 534.2,145.0 534.7,145.2 535.2,145.4 535.7,145.6 536.2,145.8 536.7,146.0 537.2,146.2 537.7,146.4 538.2,146.6 538.7,146.8 539.2,147.0 539.7,147.3 540.2,147.5 540.7,147.7 541.2,147.9 541.7,148.1 542.2,148.3 542.7,148.5 543.2,148.7 543.7,148.9 544.2,149.1 544.7,149.3 545.2,149.5 545.7,149.7 546.2,149.9 546.7,150.1 547.2,150.3 547.7,150.6 548.2,150.8 548.7,151.0 549.2,151.2 549.7,151.4 550.2,151.6 550.6,151.8 551.1,152.0 551.6,152.2 552.1,152.5 552.6,152.7 553.1,152.9 553.6,153.1 554.1,153.3 554.6,153.5 555.1,153.7 555.6,154.0 556.1,154.2 556.6,154.4 557.1,154.6 557.6,154.8 558.1,155.1 558.6,155.3 559.1,155.5 559.6,155.7 560.1,155.9 560.6,156.2 561.1,156.4 561.6,156.6 562.1,156.9 562.6,157.1 563.1,157.3 563.6,157.5 564.1,157.8 564.6,158.0 565.1,158.3 565.6,158.5 566.1,158.7 566.6,159.0 567.1,159.2 567.6,159.4 568.1,159.7 568.6,159.9 569.1,160.2 569.6,160.4 570.1,160.7 570.6,160.9 571.1,161.1 571.6,161.4 572.1,161.6 572.6,161.9 573.0,162.1 573.5,162.4 574.0,162.6 574.5,162.9 575.0,163.1 575.5,163.4 576.0,163.6 576.5,163.9 577.0,164.1 577.5,164.4 578.0,164.6 578.5,164.9 579.0,165.1 579.5,165.4 580.0,165.6 580.5,165.9 581.0,166.1 581.5,166.4 582.0,166.6 582.5,166.9 583.0,167.1 583.5,167.4 584.0,167.6 584.5,167.9 585.0,168.1 585.5,168.4 586.0,168.6 586.5,168.9 587.0,169.1 587.5,169.4 588.0,169.6 588.5,169.9 589.0,170.1 589.5,170.4 590.0,170.6 590.5,170.9 591.0,171.1 591.5,171.4 592.0,171.6 592.5,171.9 593.0,172.1 593.5,172.4 594.0,172.6 594.5,172.9 595.0,173.1 595.5,173.3 595.9,173.6 596.4,173.8 596.9,174.1 597.4,174.3 597.9,174.5 598.4,174.8 598.9,175.0 599.4,175.3 599.9,175.5 600.4,175.7 600.9,176.0 601.4,176.2 601.9,176.4 602.4,176.6 602.9,176.9 603.4,177.1 603.9,177.3 604.4,177.6 604.9,177.8 605.4,178.0 605.9,178.2 606.4,178.4 606.9,178.7" fill="none" stroke="#1a1aff" stroke-width="1.0"/>
<g transform="translate(326.7,0)"><path d="M121.6 88.9h0M132.2 94.4h0M98.7 71.9h0M77.9 52.3h0M133.7 95.5h0M98.9 72.0h0M95.5 68.7h0M113.1 82.6h0M147.7 104.0h0M121.4 88.9h0M92.7 66.3h0M120.7 88.1h0M80.0 54.7h0M110.4 81.4h0M121.9 88.6h0M112.5 83.2h0M78.3 52.6h0M126.3 91.5h0M103.6 76.0h0M136.0 96.1h0M96.4 69.1h0M113.4 83.3h0M122.6 89.0h0M84.0 58.4h0M113.3 83.3h0M103.0 75.7h0M81.7 55.8h0M100.3 73.2h0M135.1 95.1h0M146.5 102.3h0M120.2 88.4h0M125.2 91.3h0M108.5 80.2h0M105.9 79.0h0M145.7 102.2h0M124.9 90.7h0M139.1 98.6h0M86.8 60.0h0M144.1 101.6h0M117.7 86.5h0M91.1 64.4h0M116.4 85.7h0M139.8 98.9h0M117.7 86.6h0M106.5 77.8h0M80.2 53.3h0M110.5 81.9h0M100.2 73.2h0M79.3 53.3h0M79.6 54.0h0M145.7 102.5h0M107.7 78.9h0M139.0 98.0h0M119.1 87.3h0M102.6 75.8h0M131.4 94.5h0M88.1 61.9h0M77.9 52.2h0M134.6 94.8h0M107.0 79.3h0M78.5 53.0h0M133.4 94.0h0M128.7 92.9h0M91.5 64.8h0M90.1 63.7h0M144.3 101.2h0M101.5 74.6h0M144.6 102.4h0M146.6 103.5h0M114.2 84.1h0M129.9 94.4h0M107.6 80.1h0M106.5 78.7h0M82.3 56.0h0M114.1 83.6h0M95.2 68.8h0M125.2 90.6h0M121.9 88.9h0M101.0 73.5h0M91.8 64.8h0M92.5 66.0h0M136.7 95.9h0M120.1 87.5h0M119.4 87.8h0M99.1 72.9h0M110.3 81.6h0M122.3 88.8h0M81.9 55.7h0M131.4 93.9h0M129.0 92.9h0M141.9 100.4h0M139.4 98.3h0M142.1 100.4h0M79.6 52.9h0M95.3 69.3h0M90.7 63.7h0M80.2 53.7h0M89.2 62.3h0M79.0 53.5h0M143.7 101.3h0M134.7 94.8h0M120.6 88.9h0M118.0 86.7h0M134.0 95.2h0M137.7 98.1h0M101.4 73.6h0M85.4 58.5h0M133.7 95.3h0M138.3 97.0h0M86.6 60.8h0M139.7 98.8h0M117.9 87.0h0M120.5 87.9h0M124.1 89.8h0M135.6 96.2h0M100.6 73.2h0M138.6 97.7h0M88.9 62.3h0M123.4 89.3h0M117.2 86.1h0M104.2 77.7h0M109.7 80.6h0M84.6 58.1h0M86.9 60.5h0M136.1 96.5h0M103.7 76.5h0M92.7 65.8h0M100.8 73.6h0M83.2 57.2h0M118.3 86.2h0M83.0 56.2h0M86.7 60.2h0M86.7 60.3h0M141.4 99.6h0M99.1 72.1h0M121.2 88.4h0M108.2 79.8h0M104.0 76.7h0M84.3 58.0h0M132.2 94.6h0" stroke="#9fd8b0" stroke-width="3.6" stroke-linecap="round" fill="none" />
<path d="M89.8 55.5h0M141.7 95.2h0M113.1 76.1h0M98.7 64.6h0M136.7 91.8h0M101.3 67.7h0M136.9 91.9h0M82.0 48.5h0M117.7 79.4h0M125.9 84.5h0M87.1 53.5h0M84.5 50.5h0M126.0 84.1h0M118.8 80.0h0M95.8 62.5h0M89.0 56.2h0M84.5 51.7h0M91.9 59.2h0M114.6 77.2h0M138.2 92.5h0M102.5 69.1h0M124.3 83.5h0M82.5 48.6h0M92.2 58.4h0M113.1 75.7h0M141.4 94.5h0M105.2 70.0h0M109.7 74.2h0M103.6 69.2h0M98.5 65.2h0M90.5 56.3h0M99.2 66.9h0M132.8 89.6h0M119.0 79.7h0M103.2 68.4h0M108.3 73.4h0M139.6 93.5h0M139.9 93.6h0M129.7 86.3h0M134.2 89.5h0M124.3 83.1h0M112.3 75.4h0M93.7 60.2h0M129.4 86.0h0M121.8 82.2h0M121.3 81.9h0M121.6 81.0h0M118.8 80.2h0M95.1 61.9h0M109.6 73.5h0M103.5 70.1h0M114.3 76.2h0M137.3 92.8h0M85.0 51.3h0M97.3 63.9h0M104.5 69.4h0M111.0 74.3h0M123.5 83.2h0M122.5 82.0h0M122.5 82.3h0M118.3 79.6h0M115.5 77.2h0M111.7 74.9h0M104.8 70.3h0M121.2 81.0h0M103.0 68.6h0M119.0 79.8h0M135.4 91.4h0M103.4 69.0h0M88.6 54.8h0M98.2 65.1h0M141.2 94.2h0M129.3 87.0h0M116.6 77.8h0M98.9 64.8h0M126.7 84.3h0M99.2 65.1h0M141.5 94.7h0M134.2 90.2h0M126.3 84.6h0M94.9 61.6h0M119.2 80.0h0M99.8 65.6h0M82.8 49.7h0M108.3 72.8h0M95.6 62.0h0M122.2 82.8h0M92.9 59.4h0M126.6 84.5h0M86.9 53.5h0M95.7 62.6h0M130.9 87.8h0M132.3 88.1h0M92.8 59.5h0M125.5 83.0h0M123.7 82.6h0M99.5 65.7h0M112.8 75.9h0M101.3 66.9h0M111.2 74.7h0M107.0 71.6h0M122.7 82.1h0M141.0 93.8h0M112.2 75.7h0M105.3 71.0h0M86.7 52.4h0M133.9 89.7h0M129.8 86.6h0M102.9 67.7h0M93.3 59.3h0M100.0 66.0h0M101.8 67.1h0M138.4 93.1h0M139.9 94.1h0M120.6 80.4h0M93.4 60.3h0M87.8 54.8h0M106.1 70.9h0M113.9 77.0h0M125.1 84.1h0M115.0 77.7h0M83.9 50.2h0M101.9 68.0h0M87.7 53.7h0M109.4 73.8h0M124.8 83.7h0M128.7 86.2h0M113.9 76.4h0M122.4 81.6h0M129.8 85.8h0M111.4 74.5h0M87.7 53.4h0M96.5 63.1h0M126.6 84.2h0M123.8 83.8h0M105.2 70.3h0M99.3 65.1h0M128.2 86.4h0M98.2 63.9h0M122.4 82.4h0" stroke="#f4a0a0" stroke-width="3.6" stroke-linecap="round" fill="none" />
<path d="M125.6 99.2h0M77.2 62.3h0M91.0 74.4h0M122.6 99.0h0M89.1 72.5h0M130.5 102.9h0M117.0 95.0h0M123.5 98.6h0M106.4 86.9h0M108.4 89.4h0M81.8 65.6h0M120.6 96.3h0M94.8 77.3h0M102.9 86.0h0M93.7 76.7h0M113.2 92.5h0M98.6 82.0h0M116.8 95.3h0M78.5 63.3h0M117.7 94.9h0M118.7 96.2h0M103.7 85.7h0M102.5 83.3h0M94.4 77.9h0M89.5 73.0h0M86.9 70.2h0M103.5 85.2h0M119.1 95.3h0M92.6 75.4h0M105.9 87.8h0M84.1 67.1h0M104.0 86.2h0M80.8 64.5h0M126.3 100.5h0M77.3 61.5h0M98.0 80.4h0M81.2 65.1h0M123.3 98.1h0M102.8 85.3h0M95.2 78.8h0M99.4 82.1h0M81.7 65.1h0M131.4 102.8h0M113.9 93.8h0M109.6 89.2h0M110.6 91.0h0M108.4 88.9h0M110.2 90.6h0M86.5 70.6h0M123.6 98.9h0M108.1 89.2h0M100.0 81.8h0M98.2 80.3h0M116.1 93.5h0M83.1 67.2h0M129.7 101.9h0M91.2 74.5h0M125.4 99.9h0M79.5 63.3h0M88.0 71.4h0M129.5 101.5h0M86.8 70.1h0M106.9 87.4h0M101.9 84.2h0M97.2 81.1h0M119.8 97.4h0M123.1 97.9h0M121.5 97.7h0M126.7 100.4h0M103.0 83.8h0M105.9 86.0h0M84.9 68.2h0M80.0 63.9h0M84.4 67.4h0M97.3 79.5h0M93.0 75.7h0M95.9 78.3h0M91.6 74.1h0M120.0 96.4h0M127.6 101.2h0M94.7 77.9h0M91.4 74.2h0M102.0 83.8h0M130.3 102.4h0M117.6 94.1h0M84.5 68.7h0M116.7 94.2h0M128.6 100.7h0M82.3 67.5h0M130.5 101.9h0M129.3 101.6h0M80.8 64.3h0M103.2 85.4h0M119.0 95.8h0M133.8 103.5h0M123.3 97.2h0M121.6 97.1h0M133.5 105.2h0M102.8 84.0h0M130.9 103.4h0M130.6 102.0h0M98.4 80.1h0M103.9 84.2h0M99.0 81.4h0M85.0 68.8h0M120.0 96.4h0M115.3 92.7h0M90.1 73.1h0M92.8 76.2h0M120.4 96.4h0M95.4 78.6h0M87.6 72.3h0M116.7 93.9h0M93.9 78.4h0M78.9 63.1h0M109.9 89.8h0M96.8 79.4h0M110.6 90.3h0M117.3 94.3h0M132.3 103.0h0M91.5 75.3h0M133.5 104.5h0M111.5 91.2h0M131.2 102.7h0M106.7 87.1h0M117.0 94.9h0M95.7 78.4h0M79.0 63.1h0M81.3 65.9h0M96.0 77.7h0M78.8 61.7h0M101.8 84.4h0M117.4 94.3h0M91.0 75.3h0M128.2 101.2h0M82.3 67.5h0M78.6 62.7h0M78.4 62.8h0M113.1 91.7h0M85.9 69.0h0" stroke="#a0a0e0" stroke-width="3.8" stroke-linecap="round" fill="none" />
<path d="M121.6 88.9h0M140.8 98.1h0M132.2 94.4h0M93.4 66.8h0M98.7 71.9h0M139.1 97.7h0M77.9 52.3h0M135.4 95.7h0M133.7 95.5h0M110.5 81.7h0M98.9 72.0h0M97.1 71.2h0M95.5 68.7h0M108.9 80.2h0M113.1 82.6h0M116.5 86.4h0M147.7 104.0h0M133.4 95.2h0M121.4 88.9h0M147.2 103.3h0M92.7 66.3h0M88.8 62.2h0M120.7 88.1h0M80.6 54.6h0M80.0 54.7h0M113.8 84.2h0M110.4 81.4h0M142.2 99.9h0M121.9 88.6h0M113.7 84.6h0M112.5 83.2h0M94.9 68.5h0M78.3 52.6h0M91.1 64.1h0M126.3 91.5h0M91.6 65.5h0M103.6 76.0h0M77.8 52.2h0M136.0 96.1h0M88.4 61.9h0M96.4 69.1h0M139.6 98.4h0M113.4 83.3h0M137.2 97.3h0M122.6 89.0h0M129.8 93.5h0M84.0 58.4h0M115.7 85.0h0M113.3 83.3h0M138.9 98.1h0M103.0 75.7h0M119.7 87.1h0M81.7 55.8h0M104.8 78.3h0M100.3 73.2h0M88.1 61.5h0M135.1 95.1h0M104.3 77.0h0M146.5 102.3h0M119.1 86.7h0M120.2 88.4h0M122.5 88.8h0M125.2 91.3h0M88.1 62.3h0M108.5 80.2h0M94.4 68.1h0M105.9 79.0h0M84.3 58.0h0M145.7 102.2h0M92.7 65.5h0M124.9 90.7h0M98.7 72.5h0M139.1 98.6h0M124.2 89.8h0M86.8 60.0h0M137.1 96.6h0M144.1 101.6h0M141.2 99.5h0M117.7 86.5h0M87.8 61.4h0M91.1 64.4h0M142.9 100.6h0M116.4 85.7h0M90.2 63.7h0M139.8 98.9h0M122.7 90.2h0M117.7 86.6h0M104.0 76.7h0M106.5 77.8h0M94.4 68.1h0M80.2 53.3h0M139.3 97.6h0M110.5 81.9h0M116.1 85.8h0M100.2 73.2h0M130.5 92.8h0M79.3 53.3h0M103.7 76.1h0M79.6 54.0h0M86.2 60.8h0M145.7 102.5h0M123.9 89.7h0M107.7 78.9h0M114.4 84.4h0M139.0 98.0h0M101.8 74.1h0M119.1 87.3h0M125.7 90.6h0M102.6 75.8h0M114.1 84.6h0M131.4 94.5h0M141.6 99.6h0M88.1 61.9h0M143.3 100.8h0M77.9 52.2h0M130.6 93.5h0M134.6 94.8h0M87.1 60.0h0M107.0 79.3h0M135.0 95.4h0M78.5 53.0h0M121.8 89.3h0M133.4 94.0h0M113.7 83.5h0M128.7 92.9h0M93.5 67.1h0M91.5 64.8h0M103.1 76.3h0M90.1 63.7h0M101.9 74.2h0M144.3 101.2h0M117.9 86.9h0M101.5 74.6h0M96.6 69.2h0M144.6 102.4h0M108.8 80.6h0M146.6 103.5h0M113.8 83.8h0M114.2 84.1h0M140.7 98.7h0M129.9 94.4h0M118.4 86.8h0M107.6 80.1h0M139.4 98.1h0M106.5 78.7h0M142.6 99.7h0M82.3 56.0h0M107.8 80.0h0M114.1 83.6h0M144.5 102.2h0M95.2 68.8h0M134.3 94.7h0M125.2 90.6h0M128.1 92.3h0M121.9 88.9h0M146.0 102.3h0M101.0 73.5h0M105.6 77.8h0M91.8 64.8h0M81.1 54.4h0M92.5 66.0h0M142.0 100.5h0M136.7 95.9h0M85.4 59.1h0M120.1 87.5h0M111.3 81.6h0M119.4 87.8h0M124.0 89.9h0M99.1 72.9h0M145.3 101.8h0M110.3 81.6h0M121.8 88.7h0M122.3 88.8h0M90.5 64.2h0M81.9 55.7h0M106.5 78.9h0M131.4 93.9h0M135.0 95.0h0M129.0 92.9h0M85.5 59.2h0M141.9 100.4h0M134.0 94.7h0M139.4 98.3h0M114.4 83.6h0M142.1 100.4h0M80.8 54.3h0M79.6 52.9h0M78.9 53.2h0M95.3 69.3h0M95.0 67.8h0M90.7 63.7h0M117.5 85.9h0M80.2 53.7h0M119.1 87.4h0M89.2 62.3h0M125.3 90.6h0M79.0 53.5h0M99.4 72.2h0M143.7 101.3h0M115.5 84.6h0M134.7 94.8h0M123.9 89.2h0M120.6 88.9h0M91.0 64.3h0M118.0 86.7h0M80.3 54.3h0M134.0 95.2h0M145.2 102.1h0M137.7 98.1h0M81.1 54.5h0M101.4 73.6h0M99.9 72.5h0M85.4 58.5h0M121.7 89.1h0M133.7 95.3h0M99.6 72.3h0M138.3 97.0h0M133.7 94.8h0M86.6 60.8h0M131.6 92.8h0M139.7 98.8h0M91.4 64.4h0M117.9 87.0h0M122.5 88.8h0M120.5 87.9h0M84.3 57.3h0M124.1 89.8h0M122.1 89.6h0M135.6 96.2h0M134.1 95.0h0M100.6 73.2h0M128.4 91.8h0M138.6 97.7h0M140.5 99.0h0M88.9 62.3h0M79.4 53.5h0M123.4 89.3h0M92.6 66.1h0M117.2 86.1h0M144.1 102.0h0M104.2 77.7h0M95.3 68.8h0M109.7 80.6h0M123.8 90.0h0M84.6 58.1h0M104.3 76.6h0M86.9 60.5h0M124.2 89.8h0M136.1 96.5h0M104.1 76.6h0M103.7 76.5h0M115.5 85.0h0M92.7 65.8h0M94.9 68.0h0M100.8 73.6h0M109.7 80.7h0M83.2 57.2h0M130.6 93.6h0M118.3 86.2h0M98.6 71.9h0M83.0 56.2h0M131.3 93.6h0M86.7 60.2h0M86.9 59.5h0M86.7 60.3h0M83.2 57.1h0M141.4 99.6h0M96.5 69.7h0M99.1 72.1h0M136.2 95.8h0M121.2 88.4h0M90.7 63.9h0M108.2 79.8h0M139.8 98.1h0M104.0 76.7h0M127.6 92.3h0M84.3 58.0h0M128.8 92.6h0M132.2 94.6h0M135.7 95.2h0" stroke="#0b6b2a" stroke-width="2.3" stroke-linecap="round" fill="none" />
<path d="M121.6 88.9h0M140.8 98.1h0M132.2 94.4h0M93.4 66.8h0M98.7 71.9h0M139.1 97.7h0M77.9 52.3h0M135.4 95.7h0M133.7 95.5h0M110.5 81.7h0M98.9 72.0h0M97.1 71.2h0M95.5 68.7h0M108.9 80.2h0M113.1 82.6h0M116.5 86.4h0M147.7 104.0h0M133.4 95.2h0M121.4 88.9h0M147.2 103.3h0M92.7 66.3h0M88.8 62.2h0M120.7 88.1h0M80.6 54.6h0M80.0 54.7h0M113.8 84.2h0M110.4 81.4h0M142.2 99.9h0M121.9 88.6h0M113.7 84.6h0M112.5 83.2h0M94.9 68.5h0M78.3 52.6h0M91.1 64.1h0M126.3 91.5h0M91.6 65.5h0M103.6 76.0h0M77.8 52.2h0M136.0 96.1h0M88.4 61.9h0M96.4 69.1h0M139.6 98.4h0M113.4 83.3h0M137.2 97.3h0M122.6 89.0h0M129.8 93.5h0M84.0 58.4h0M115.7 85.0h0M113.3 83.3h0M138.9 98.1h0M103.0 75.7h0M119.7 87.1h0M81.7 55.8h0M104.8 78.3h0M100.3 73.2h0M88.1 61.5h0M135.1 95.1h0M104.3 77.0h0M146.5 102.3h0M119.1 86.7h0M120.2 88.4h0M122.5 88.8h0M125.2 91.3h0M88.1 62.3h0M108.5 80.2h0M94.4 68.1h0M105.9 79.0h0M84.3 58.0h0M145.7 102.2h0M92.7 65.5h0M124.9 90.7h0M98.7 72.5h0M139.1 98.6h0M124.2 89.8h0M86.8 60.0h0M137.1 96.6h0M144.1 101.6h0M141.2 99.5h0M117.7 86.5h0M87.8 61.4h0M91.1 64.4h0M142.9 100.6h0M116.4 85.7h0M90.2 63.7h0M139.8 98.9h0M122.7 90.2h0M117.7 86.6h0M104.0 76.7h0M106.5 77.8h0M94.4 68.1h0M80.2 53.3h0M139.3 97.6h0M110.5 81.9h0M116.1 85.8h0M100.2 73.2h0M130.5 92.8h0M79.3 53.3h0M103.7 76.1h0M79.6 54.0h0M86.2 60.8h0M145.7 102.5h0M123.9 89.7h0M107.7 78.9h0M114.4 84.4h0M139.0 98.0h0M101.8 74.1h0M119.1 87.3h0M125.7 90.6h0M102.6 75.8h0M114.1 84.6h0M131.4 94.5h0M141.6 99.6h0M88.1 61.9h0M143.3 100.8h0M77.9 52.2h0M130.6 93.5h0M134.6 94.8h0M87.1 60.0h0M107.0 79.3h0M135.0 95.4h0M78.5 53.0h0M121.8 89.3h0M133.4 94.0h0M113.7 83.5h0M128.7 92.9h0M93.5 67.1h0M91.5 64.8h0M103.1 76.3h0M90.1 63.7h0M101.9 74.2h0M144.3 101.2h0M117.9 86.9h0M101.5 74.6h0M96.6 69.2h0M144.6 102.4h0M108.8 80.6h0M146.6 103.5h0M113.8 83.8h0M114.2 84.1h0M140.7 98.7h0M129.9 94.4h0M118.4 86.8h0M107.6 80.1h0M139.4 98.1h0M106.5 78.7h0M142.6 99.7h0M82.3 56.0h0M107.8 80.0h0M114.1 83.6h0M144.5 102.2h0M95.2 68.8h0M134.3 94.7h0M125.2 90.6h0M128.1 92.3h0M121.9 88.9h0M146.0 102.3h0M101.0 73.5h0M105.6 77.8h0M91.8 64.8h0M81.1 54.4h0M92.5 66.0h0M142.0 100.5h0M136.7 95.9h0M85.4 59.1h0M120.1 87.5h0M111.3 81.6h0M119.4 87.8h0M124.0 89.9h0M99.1 72.9h0M145.3 101.8h0M110.3 81.6h0M121.8 88.7h0M122.3 88.8h0M90.5 64.2h0M81.9 55.7h0M106.5 78.9h0M131.4 93.9h0M135.0 95.0h0M129.0 92.9h0M85.5 59.2h0M141.9 100.4h0M134.0 94.7h0M139.4 98.3h0M114.4 83.6h0M142.1 100.4h0M80.8 54.3h0M79.6 52.9h0M78.9 53.2h0M95.3 69.3h0M95.0 67.8h0M90.7 63.7h0M117.5 85.9h0M80.2 53.7h0M119.1 87.4h0M89.2 62.3h0M125.3 90.6h0M79.0 53.5h0M99.4 72.2h0M143.7 101.3h0M115.5 84.6h0M134.7 94.8h0M123.9 89.2h0M120.6 88.9h0M91.0 64.3h0M118.0 86.7h0M80.3 54.3h0M134.0 95.2h0M145.2 102.1h0M137.7 98.1h0M81.1 54.5h0M101.4 73.6h0M99.9 72.5h0M85.4 58.5h0M121.7 89.1h0M133.7 95.3h0M99.6 72.3h0M138.3 97.0h0M133.7 94.8h0M86.6 60.8h0M131.6 92.8h0M139.7 98.8h0M91.4 64.4h0M117.9 87.0h0M122.5 88.8h0M120.5 87.9h0M84.3 57.3h0M124.1 89.8h0M122.1 89.6h0M135.6 96.2h0M134.1 95.0h0M100.6 73.2h0M128.4 91.8h0M138.6 97.7h0M140.5 99.0h0M88.9 62.3h0M79.4 53.5h0M123.4 89.3h0M92.6 66.1h0M117.2 86.1h0M144.1 102.0h0M104.2 77.7h0M95.3 68.8h0M109.7 80.6h0M123.8 90.0h0M84.6 58.1h0M104.3 76.6h0M86.9 60.5h0M124.2 89.8h0M136.1 96.5h0M104.1 76.6h0M103.7 76.5h0M115.5 85.0h0M92.7 65.8h0M94.9 68.0h0M100.8 73.6h0M109.7 80.7h0M83.2 57.2h0M130.6 93.6h0M118.3 86.2h0M98.6 71.9h0M83.0 56.2h0M131.3 93.6h0M86.7 60.2h0M86.9 59.5h0M86.7 60.3h0M83.2 57.1h0M141.4 99.6h0M96.5 69.7h0M99.1 72.1h0M136.2 95.8h0M121.2 88.4h0M90.7 63.9h0M108.2 79.8h0M139.8 98.1h0M104.0 76.7h0M127.6 92.3h0M84.3 58.0h0M128.8 92.6h0M132.2 94.6h0M135.7 95.2h0" stroke="#1aa040" stroke-width="1.4" stroke-linecap="round" fill="none" />
<path d="M153.3 107.8h0M153.4 106.8h0M158.6 111.0h0M150.1 106.1h0M160.0 112.9h0M159.6 111.4h0M156.7 109.2h0M148.6 103.2h0M156.6 108.9h0M155.8 109.0h0M158.0 110.6h0M150.8 105.4h0M160.4 112.8h0M159.5 110.9h0M149.5 104.5h0M152.1 106.6h0M148.4 104.4h0M158.8 111.7h0M159.9 112.0h0M160.9 112.2h0M156.0 109.1h0M156.7 108.7h0" stroke="#107a34" stroke-width="1.9" stroke-linecap="round" fill="none" />
<path d="M125.6 99.2h0M100.0 82.8h0M77.2 62.3h0M121.9 98.0h0M91.0 74.4h0M85.1 68.9h0M122.6 99.0h0M116.1 93.8h0M89.1 72.5h0M92.3 75.7h0M130.5 102.9h0M92.3 75.3h0M117.0 95.0h0M84.4 68.0h0M123.5 98.6h0M83.7 67.4h0M106.4 86.9h0M79.0 63.0h0M108.4 89.4h0M125.3 99.0h0M81.8 65.6h0M92.6 76.2h0M120.6 96.3h0M111.7 91.4h0M94.8 77.3h0M112.8 92.8h0M102.9 86.0h0M126.2 101.2h0M93.7 76.7h0M120.2 97.1h0M113.2 92.5h0M119.2 96.1h0M98.6 82.0h0M118.3 94.9h0M116.8 95.3h0M99.1 81.5h0M78.5 63.3h0M131.9 103.4h0M117.7 94.9h0M88.7 72.3h0M118.7 96.2h0M92.9 76.1h0M103.7 85.7h0M126.0 99.7h0M102.5 83.3h0M93.4 77.1h0M94.4 77.9h0M81.4 65.4h0M89.5 73.0h0M92.5 76.2h0M86.9 70.2h0M80.6 64.2h0M103.5 85.2h0M89.2 73.3h0M119.1 95.3h0M129.6 102.6h0M92.6 75.4h0M109.6 89.2h0M105.9 87.8h0M81.3 65.1h0M84.1 67.1h0M127.4 100.6h0M104.0 86.2h0M122.9 98.8h0M80.8 64.5h0M110.9 91.0h0M126.3 100.5h0M126.4 99.8h0M77.3 61.5h0M106.7 87.7h0M98.0 80.4h0M120.3 96.5h0M81.2 65.1h0M92.1 75.4h0M123.3 98.1h0M103.8 85.2h0M102.8 85.3h0M132.2 103.6h0M95.2 78.8h0M79.4 64.0h0M99.4 82.1h0M85.7 70.6h0M81.7 65.1h0M109.4 90.1h0M131.4 102.8h0M110.0 91.1h0M113.9 93.8h0M95.4 77.4h0M109.6 89.2h0M119.9 96.8h0M110.6 91.0h0M122.8 98.5h0M108.4 88.9h0M88.3 72.0h0M110.2 90.6h0M105.0 86.4h0M86.5 70.6h0M112.3 90.5h0M123.6 98.9h0M84.7 67.8h0M108.1 89.2h0M118.8 95.7h0M100.0 81.8h0M92.4 75.8h0M98.2 80.3h0M107.9 88.1h0M116.1 93.5h0M108.9 89.3h0M83.1 67.2h0M123.6 99.2h0M129.7 101.9h0M82.8 67.2h0M91.2 74.5h0M86.9 70.4h0M125.4 99.9h0M128.9 102.2h0M79.5 63.3h0M95.9 78.8h0M88.0 71.4h0M103.8 85.5h0M129.5 101.5h0M81.0 65.5h0M86.8 70.1h0M104.8 86.6h0M106.9 87.4h0M119.5 96.5h0M101.9 84.2h0M85.0 68.5h0M97.2 81.1h0M133.0 104.1h0M119.8 97.4h0M83.6 67.9h0M123.1 97.9h0M94.7 77.6h0M121.5 97.7h0M77.7 61.8h0M126.7 100.4h0M86.3 69.7h0M103.0 83.8h0M114.7 93.4h0M105.9 86.0h0M86.4 70.2h0M84.9 68.2h0M93.2 76.0h0M80.0 63.9h0M89.3 72.9h0M84.4 67.4h0M103.5 84.3h0M97.3 79.5h0M110.4 89.3h0M93.0 75.7h0M78.9 63.8h0M95.9 78.3h0M120.0 96.9h0M91.6 74.1h0M100.1 82.5h0M120.0 96.4h0M100.2 82.5h0M127.6 101.2h0M129.3 102.8h0M94.7 77.9h0M118.9 96.0h0M91.4 74.2h0M85.0 69.0h0M102.0 83.8h0M111.3 91.5h0M130.3 102.4h0M85.3 69.9h0M117.6 94.1h0M104.1 85.6h0M84.5 68.7h0M132.4 103.4h0M116.7 94.2h0M84.3 67.9h0M128.6 100.7h0M82.9 66.8h0M82.3 67.5h0M95.9 79.5h0M130.5 101.9h0M78.9 62.4h0M129.3 101.6h0M111.9 92.0h0M80.8 64.3h0M109.4 89.3h0M103.2 85.4h0M109.1 90.0h0M119.0 95.8h0M115.7 93.5h0M133.8 103.5h0M85.9 69.2h0M123.3 97.2h0M100.4 83.1h0M121.6 97.1h0M127.8 101.3h0M133.5 105.2h0M92.2 76.0h0M102.8 84.0h0M130.7 103.1h0M130.9 103.4h0M98.3 80.5h0M130.6 102.0h0M100.1 82.4h0M98.4 80.1h0M120.1 97.4h0M103.9 84.2h0M102.5 83.8h0M99.0 81.4h0M101.7 83.6h0M85.0 68.8h0M80.5 64.6h0M120.0 96.4h0M109.2 90.1h0M115.3 92.7h0M122.7 98.1h0M90.1 73.1h0M90.3 73.8h0M92.8 76.2h0M94.3 76.9h0M120.4 96.4h0M98.3 81.4h0M95.4 78.6h0M113.3 92.1h0M87.6 72.3h0M83.1 68.1h0M116.7 93.9h0M120.1 96.8h0M93.9 78.4h0M113.3 92.9h0M78.9 63.1h0M100.0 82.3h0M109.9 89.8h0M91.4 74.6h0M96.8 79.4h0M111.7 91.8h0M110.6 90.3h0M85.8 69.2h0M117.3 94.3h0M81.6 65.4h0M132.3 103.0h0M88.5 71.9h0M91.5 75.3h0M88.4 72.1h0M133.5 104.5h0M93.3 76.7h0M111.5 91.2h0M133.5 104.1h0M131.2 102.7h0M79.4 63.8h0M106.7 87.1h0M111.3 91.8h0M117.0 94.9h0M96.1 78.7h0M95.7 78.4h0M77.2 60.9h0M79.0 63.1h0M108.4 88.5h0M81.3 65.9h0M88.5 71.6h0M96.0 77.7h0M81.0 64.6h0M78.8 61.7h0M129.8 102.1h0M101.8 84.4h0M88.7 72.5h0M117.4 94.3h0M77.5 61.1h0M91.0 75.3h0M131.8 103.4h0M128.2 101.2h0M113.2 93.0h0M82.3 67.5h0M95.1 78.9h0M78.6 62.7h0M89.5 73.1h0M78.4 62.8h0M84.2 67.6h0M113.1 91.7h0M82.7 66.6h0M85.9 69.0h0M128.5 101.3h0" stroke="#00005a" stroke-width="2.5" stroke-linecap="round" fill="none" />
<path d="M125.6 99.2h0M100.0 82.8h0M77.2 62.3h0M121.9 98.0h0M91.0 74.4h0M85.1 68.9h0M122.6 99.0h0M116.1 93.8h0M89.1 72.5h0M92.3 75.7h0M130.5 102.9h0M92.3 75.3h0M117.0 95.0h0M84.4 68.0h0M123.5 98.6h0M83.7 67.4h0M106.4 86.9h0M79.0 63.0h0M108.4 89.4h0M125.3 99.0h0M81.8 65.6h0M92.6 76.2h0M120.6 96.3h0M111.7 91.4h0M94.8 77.3h0M112.8 92.8h0M102.9 86.0h0M126.2 101.2h0M93.7 76.7h0M120.2 97.1h0M113.2 92.5h0M119.2 96.1h0M98.6 82.0h0M118.3 94.9h0M116.8 95.3h0M99.1 81.5h0M78.5 63.3h0M131.9 103.4h0M117.7 94.9h0M88.7 72.3h0M118.7 96.2h0M92.9 76.1h0M103.7 85.7h0M126.0 99.7h0M102.5 83.3h0M93.4 77.1h0M94.4 77.9h0M81.4 65.4h0M89.5 73.0h0M92.5 76.2h0M86.9 70.2h0M80.6 64.2h0M103.5 85.2h0M89.2 73.3h0M119.1 95.3h0M129.6 102.6h0M92.6 75.4h0M109.6 89.2h0M105.9 87.8h0M81.3 65.1h0M84.1 67.1h0M127.4 100.6h0M104.0 86.2h0M122.9 98.8h0M80.8 64.5h0M110.9 91.0h0M126.3 100.5h0M126.4 99.8h0M77.3 61.5h0M106.7 87.7h0M98.0 80.4h0M120.3 96.5h0M81.2 65.1h0M92.1 75.4h0M123.3 98.1h0M103.8 85.2h0M102.8 85.3h0M132.2 103.6h0M95.2 78.8h0M79.4 64.0h0M99.4 82.1h0M85.7 70.6h0M81.7 65.1h0M109.4 90.1h0M131.4 102.8h0M110.0 91.1h0M113.9 93.8h0M95.4 77.4h0M109.6 89.2h0M119.9 96.8h0M110.6 91.0h0M122.8 98.5h0M108.4 88.9h0M88.3 72.0h0M110.2 90.6h0M105.0 86.4h0M86.5 70.6h0M112.3 90.5h0M123.6 98.9h0M84.7 67.8h0M108.1 89.2h0M118.8 95.7h0M100.0 81.8h0M92.4 75.8h0M98.2 80.3h0M107.9 88.1h0M116.1 93.5h0M108.9 89.3h0M83.1 67.2h0M123.6 99.2h0M129.7 101.9h0M82.8 67.2h0M91.2 74.5h0M86.9 70.4h0M125.4 99.9h0M128.9 102.2h0M79.5 63.3h0M95.9 78.8h0M88.0 71.4h0M103.8 85.5h0M129.5 101.5h0M81.0 65.5h0M86.8 70.1h0M104.8 86.6h0M106.9 87.4h0M119.5 96.5h0M101.9 84.2h0M85.0 68.5h0M97.2 81.1h0M133.0 104.1h0M119.8 97.4h0M83.6 67.9h0M123.1 97.9h0M94.7 77.6h0M121.5 97.7h0M77.7 61.8h0M126.7 100.4h0M86.3 69.7h0M103.0 83.8h0M114.7 93.4h0M105.9 86.0h0M86.4 70.2h0M84.9 68.2h0M93.2 76.0h0M80.0 63.9h0M89.3 72.9h0M84.4 67.4h0M103.5 84.3h0M97.3 79.5h0M110.4 89.3h0M93.0 75.7h0M78.9 63.8h0M95.9 78.3h0M120.0 96.9h0M91.6 74.1h0M100.1 82.5h0M120.0 96.4h0M100.2 82.5h0M127.6 101.2h0M129.3 102.8h0M94.7 77.9h0M118.9 96.0h0M91.4 74.2h0M85.0 69.0h0M102.0 83.8h0M111.3 91.5h0M130.3 102.4h0M85.3 69.9h0M117.6 94.1h0M104.1 85.6h0M84.5 68.7h0M132.4 103.4h0M116.7 94.2h0M84.3 67.9h0M128.6 100.7h0M82.9 66.8h0M82.3 67.5h0M95.9 79.5h0M130.5 101.9h0M78.9 62.4h0M129.3 101.6h0M111.9 92.0h0M80.8 64.3h0M109.4 89.3h0M103.2 85.4h0M109.1 90.0h0M119.0 95.8h0M115.7 93.5h0M133.8 103.5h0M85.9 69.2h0M123.3 97.2h0M100.4 83.1h0M121.6 97.1h0M127.8 101.3h0M133.5 105.2h0M92.2 76.0h0M102.8 84.0h0M130.7 103.1h0M130.9 103.4h0M98.3 80.5h0M130.6 102.0h0M100.1 82.4h0M98.4 80.1h0M120.1 97.4h0M103.9 84.2h0M102.5 83.8h0M99.0 81.4h0M101.7 83.6h0M85.0 68.8h0M80.5 64.6h0M120.0 96.4h0M109.2 90.1h0M115.3 92.7h0M122.7 98.1h0M90.1 73.1h0M90.3 73.8h0M92.8 76.2h0M94.3 76.9h0M120.4 96.4h0M98.3 81.4h0M95.4 78.6h0M113.3 92.1h0M87.6 72.3h0M83.1 68.1h0M116.7 93.9h0M120.1 96.8h0M93.9 78.4h0M113.3 92.9h0M78.9 63.1h0M100.0 82.3h0M109.9 89.8h0M91.4 74.6h0M96.8 79.4h0M111.7 91.8h0M110.6 90.3h0M85.8 69.2h0M117.3 94.3h0M81.6 65.4h0M132.3 103.0h0M88.5 71.9h0M91.5 75.3h0M88.4 72.1h0M133.5 104.5h0M93.3 76.7h0M111.5 91.2h0M133.5 104.1h0M131.2 102.7h0M79.4 63.8h0M106.7 87.1h0M111.3 91.8h0M117.0 94.9h0M96.1 78.7h0M95.7 78.4h0M77.2 60.9h0M79.0 63.1h0M108.4 88.5h0M81.3 65.9h0M88.5 71.6h0M96.0 77.7h0M81.0 64.6h0M78.8 61.7h0M129.8 102.1h0M101.8 84.4h0M88.7 72.5h0M117.4 94.3h0M77.5 61.1h0M91.0 75.3h0M131.8 103.4h0M128.2 101.2h0M113.2 93.0h0M82.3 67.5h0M95.1 78.9h0M78.6 62.7h0M89.5 73.1h0M78.4 62.8h0M84.2 67.6h0M113.1 91.7h0M82.7 66.6h0M85.9 69.0h0M128.5 101.3h0" stroke="#0a10b0" stroke-width="1.4" stroke-linecap="round" fill="none" />
<g fill="#fff" stroke="#0a0a80" stroke-width="0.55"><circle cx="158.8" cy="120.2" r="1.0"/><circle cx="147.4" cy="115.4" r="1.0"/><circle cx="137.5" cy="105.1" r="1.0"/><circle cx="148.0" cy="114.1" r="1.0"/><circle cx="140.9" cy="109.6" r="1.0"/><circle cx="145.4" cy="112.5" r="1.0"/><circle cx="151.9" cy="116.3" r="1.0"/><circle cx="159.6" cy="121.5" r="1.0"/><circle cx="156.4" cy="119.7" r="1.0"/><circle cx="138.5" cy="107.6" r="1.0"/><circle cx="147.4" cy="112.5" r="1.0"/><circle cx="147.8" cy="114.2" r="1.0"/><circle cx="161.7" cy="122.1" r="1.0"/><circle cx="136.4" cy="105.6" r="1.0"/><circle cx="148.3" cy="114.8" r="1.0"/><circle cx="159.6" cy="122.1" r="1.0"/><circle cx="145.2" cy="113.3" r="1.0"/><circle cx="141.3" cy="109.3" r="1.0"/><circle cx="149.6" cy="116.2" r="1.0"/><circle cx="143.0" cy="111.9" r="1.0"/><circle cx="160.0" cy="122.7" r="1.0"/><circle cx="136.4" cy="107.1" r="1.0"/></g>
<path d="M89.8 55.5h0M104.7 69.7h0M141.7 95.2h0M115.4 77.0h0M113.1 76.1h0M138.8 93.3h0M98.7 64.6h0M142.0 94.5h0M136.7 91.8h0M103.5 69.0h0M101.3 67.7h0M89.2 56.0h0M136.9 91.9h0M92.7 59.0h0M82.0 48.5h0M135.3 91.0h0M117.7 79.4h0M122.1 83.0h0M125.9 84.5h0M84.1 50.5h0M87.1 53.5h0M111.7 74.6h0M84.5 50.5h0M112.0 74.7h0M126.0 84.1h0M121.3 81.0h0M118.8 80.0h0M84.3 50.5h0M95.8 62.5h0M135.8 90.8h0M89.0 56.2h0M113.8 76.6h0M84.5 51.7h0M138.3 93.5h0M91.9 59.2h0M106.3 71.3h0M114.6 77.2h0M125.0 84.8h0M138.2 92.5h0M126.0 84.8h0M102.5 69.1h0M86.1 52.7h0M124.3 83.5h0M140.3 94.6h0M82.5 48.6h0M128.4 86.0h0M92.2 58.4h0M109.3 73.1h0M113.1 75.7h0M118.7 79.5h0M141.4 94.5h0M123.1 82.6h0M105.2 70.0h0M124.8 84.3h0M109.7 74.2h0M106.5 71.8h0M103.6 69.2h0M111.4 74.7h0M98.5 65.2h0M96.1 63.1h0M90.5 56.3h0M108.1 72.9h0M99.2 66.9h0M132.1 87.7h0M132.8 89.6h0M102.3 68.4h0M119.0 79.7h0M136.1 92.2h0M103.2 68.4h0M115.1 77.3h0M108.3 73.4h0M120.8 80.8h0M139.6 93.5h0M89.9 56.5h0M139.9 93.6h0M121.8 82.2h0M129.7 86.3h0M119.9 80.7h0M134.2 89.5h0M101.2 67.6h0M124.3 83.1h0M97.5 62.9h0M112.3 75.4h0M122.7 81.6h0M93.7 60.2h0M85.2 52.3h0M129.4 86.0h0M130.4 86.8h0M121.8 82.2h0M100.9 67.1h0M121.3 81.9h0M86.6 53.2h0M121.6 81.0h0M116.4 78.0h0M118.8 80.2h0M108.5 73.3h0M95.1 61.9h0M125.4 83.9h0M109.6 73.5h0M126.6 84.3h0M103.5 70.1h0M86.8 53.3h0M114.3 76.2h0M119.2 79.6h0M137.3 92.8h0M135.2 91.2h0M85.0 51.3h0M128.2 85.3h0M97.3 63.9h0M123.7 82.0h0M104.5 69.4h0M101.0 67.4h0M111.0 74.3h0M113.6 76.4h0M123.5 83.2h0M120.1 80.8h0M122.5 82.0h0M104.7 71.3h0M122.5 82.3h0M102.4 68.1h0M118.3 79.6h0M109.3 73.6h0M115.5 77.2h0M82.6 49.0h0M111.7 74.9h0M94.8 60.7h0M104.8 70.3h0M86.0 52.3h0M121.2 81.0h0M135.6 90.4h0M103.0 68.6h0M87.9 54.3h0M119.0 79.8h0M89.2 55.2h0M135.4 91.4h0M88.9 54.9h0M103.4 69.0h0M111.4 75.4h0M88.6 54.8h0M100.8 66.7h0M98.2 65.1h0M124.7 83.2h0M141.2 94.2h0M103.5 69.3h0M129.3 87.0h0M90.0 55.5h0M116.6 77.8h0M107.7 71.8h0M98.9 64.8h0M131.2 87.5h0M126.7 84.3h0M89.6 56.3h0M99.2 65.1h0M131.1 87.9h0M141.5 94.7h0M118.5 79.1h0M134.2 90.2h0M141.0 95.1h0M126.3 84.6h0M120.5 80.4h0M94.9 61.6h0M103.9 69.1h0M119.2 80.0h0M137.5 93.1h0M99.8 65.6h0M105.4 70.7h0M82.8 49.7h0M123.7 82.5h0M108.3 72.8h0M129.8 86.4h0M95.6 62.0h0M121.4 81.1h0M122.2 82.8h0M109.6 73.4h0M92.9 59.4h0M105.9 70.8h0M126.6 84.5h0M92.9 59.9h0M86.9 53.5h0M109.5 74.4h0M95.7 62.6h0M129.9 87.6h0M130.9 87.8h0M138.7 93.6h0M132.3 88.1h0M120.7 80.8h0M92.8 59.5h0M131.3 87.9h0M125.5 83.0h0M126.7 85.1h0M123.7 82.6h0M131.7 88.1h0M99.5 65.7h0M122.2 81.7h0M112.8 75.9h0M101.9 67.3h0M101.3 66.9h0M90.9 57.6h0M111.2 74.7h0M103.8 69.3h0M107.0 71.6h0M133.0 88.9h0M122.7 82.1h0M122.7 82.6h0M141.0 93.8h0M94.7 62.1h0M112.2 75.7h0M87.1 53.4h0M105.3 71.0h0M139.0 92.8h0M86.7 52.4h0M127.3 84.5h0M133.9 89.7h0M112.3 75.2h0M129.8 86.6h0M108.2 72.7h0M102.9 67.7h0M112.1 75.5h0M93.3 59.3h0M100.1 66.0h0M100.0 66.0h0M141.3 93.9h0M101.8 67.1h0M95.3 61.7h0M138.4 93.1h0M89.9 56.7h0M139.9 94.1h0M133.1 88.9h0M120.6 80.4h0M107.4 71.7h0M93.4 60.3h0M87.9 53.5h0M87.8 54.8h0M102.6 68.2h0M106.1 70.9h0M137.4 92.7h0M113.9 77.0h0M141.4 94.6h0M125.1 84.1h0M90.4 57.0h0M115.0 77.7h0M91.1 58.3h0M83.9 50.2h0M138.6 93.9h0M101.9 68.0h0M93.0 59.7h0M87.7 53.7h0M121.0 80.9h0M109.4 73.8h0M82.2 48.0h0M124.8 83.7h0M97.0 63.8h0M128.7 86.2h0M111.1 73.6h0M113.9 76.4h0M109.2 73.6h0M122.4 81.6h0M141.4 94.5h0M129.8 85.8h0M85.7 52.4h0M111.4 74.5h0M95.7 62.9h0M87.7 53.4h0M93.3 60.3h0M96.5 63.1h0M139.6 94.0h0M126.6 84.2h0M133.1 89.1h0M123.8 83.8h0M100.6 66.4h0M105.2 70.3h0M108.2 72.5h0M99.3 65.1h0M107.0 72.4h0M128.2 86.4h0M86.1 52.2h0M98.2 63.9h0M110.5 74.7h0M122.4 82.4h0M120.6 81.1h0" stroke="#8a0000" stroke-width="2.3" stroke-linecap="round" fill="none" />
<path d="M89.8 55.5h0M104.7 69.7h0M141.7 95.2h0M115.4 77.0h0M113.1 76.1h0M138.8 93.3h0M98.7 64.6h0M142.0 94.5h0M136.7 91.8h0M103.5 69.0h0M101.3 67.7h0M89.2 56.0h0M136.9 91.9h0M92.7 59.0h0M82.0 48.5h0M135.3 91.0h0M117.7 79.4h0M122.1 83.0h0M125.9 84.5h0M84.1 50.5h0M87.1 53.5h0M111.7 74.6h0M84.5 50.5h0M112.0 74.7h0M126.0 84.1h0M121.3 81.0h0M118.8 80.0h0M84.3 50.5h0M95.8 62.5h0M135.8 90.8h0M89.0 56.2h0M113.8 76.6h0M84.5 51.7h0M138.3 93.5h0M91.9 59.2h0M106.3 71.3h0M114.6 77.2h0M125.0 84.8h0M138.2 92.5h0M126.0 84.8h0M102.5 69.1h0M86.1 52.7h0M124.3 83.5h0M140.3 94.6h0M82.5 48.6h0M128.4 86.0h0M92.2 58.4h0M109.3 73.1h0M113.1 75.7h0M118.7 79.5h0M141.4 94.5h0M123.1 82.6h0M105.2 70.0h0M124.8 84.3h0M109.7 74.2h0M106.5 71.8h0M103.6 69.2h0M111.4 74.7h0M98.5 65.2h0M96.1 63.1h0M90.5 56.3h0M108.1 72.9h0M99.2 66.9h0M132.1 87.7h0M132.8 89.6h0M102.3 68.4h0M119.0 79.7h0M136.1 92.2h0M103.2 68.4h0M115.1 77.3h0M108.3 73.4h0M120.8 80.8h0M139.6 93.5h0M89.9 56.5h0M139.9 93.6h0M121.8 82.2h0M129.7 86.3h0M119.9 80.7h0M134.2 89.5h0M101.2 67.6h0M124.3 83.1h0M97.5 62.9h0M112.3 75.4h0M122.7 81.6h0M93.7 60.2h0M85.2 52.3h0M129.4 86.0h0M130.4 86.8h0M121.8 82.2h0M100.9 67.1h0M121.3 81.9h0M86.6 53.2h0M121.6 81.0h0M116.4 78.0h0M118.8 80.2h0M108.5 73.3h0M95.1 61.9h0M125.4 83.9h0M109.6 73.5h0M126.6 84.3h0M103.5 70.1h0M86.8 53.3h0M114.3 76.2h0M119.2 79.6h0M137.3 92.8h0M135.2 91.2h0M85.0 51.3h0M128.2 85.3h0M97.3 63.9h0M123.7 82.0h0M104.5 69.4h0M101.0 67.4h0M111.0 74.3h0M113.6 76.4h0M123.5 83.2h0M120.1 80.8h0M122.5 82.0h0M104.7 71.3h0M122.5 82.3h0M102.4 68.1h0M118.3 79.6h0M109.3 73.6h0M115.5 77.2h0M82.6 49.0h0M111.7 74.9h0M94.8 60.7h0M104.8 70.3h0M86.0 52.3h0M121.2 81.0h0M135.6 90.4h0M103.0 68.6h0M87.9 54.3h0M119.0 79.8h0M89.2 55.2h0M135.4 91.4h0M88.9 54.9h0M103.4 69.0h0M111.4 75.4h0M88.6 54.8h0M100.8 66.7h0M98.2 65.1h0M124.7 83.2h0M141.2 94.2h0M103.5 69.3h0M129.3 87.0h0M90.0 55.5h0M116.6 77.8h0M107.7 71.8h0M98.9 64.8h0M131.2 87.5h0M126.7 84.3h0M89.6 56.3h0M99.2 65.1h0M131.1 87.9h0M141.5 94.7h0M118.5 79.1h0M134.2 90.2h0M141.0 95.1h0M126.3 84.6h0M120.5 80.4h0M94.9 61.6h0M103.9 69.1h0M119.2 80.0h0M137.5 93.1h0M99.8 65.6h0M105.4 70.7h0M82.8 49.7h0M123.7 82.5h0M108.3 72.8h0M129.8 86.4h0M95.6 62.0h0M121.4 81.1h0M122.2 82.8h0M109.6 73.4h0M92.9 59.4h0M105.9 70.8h0M126.6 84.5h0M92.9 59.9h0M86.9 53.5h0M109.5 74.4h0M95.7 62.6h0M129.9 87.6h0M130.9 87.8h0M138.7 93.6h0M132.3 88.1h0M120.7 80.8h0M92.8 59.5h0M131.3 87.9h0M125.5 83.0h0M126.7 85.1h0M123.7 82.6h0M131.7 88.1h0M99.5 65.7h0M122.2 81.7h0M112.8 75.9h0M101.9 67.3h0M101.3 66.9h0M90.9 57.6h0M111.2 74.7h0M103.8 69.3h0M107.0 71.6h0M133.0 88.9h0M122.7 82.1h0M122.7 82.6h0M141.0 93.8h0M94.7 62.1h0M112.2 75.7h0M87.1 53.4h0M105.3 71.0h0M139.0 92.8h0M86.7 52.4h0M127.3 84.5h0M133.9 89.7h0M112.3 75.2h0M129.8 86.6h0M108.2 72.7h0M102.9 67.7h0M112.1 75.5h0M93.3 59.3h0M100.1 66.0h0M100.0 66.0h0M141.3 93.9h0M101.8 67.1h0M95.3 61.7h0M138.4 93.1h0M89.9 56.7h0M139.9 94.1h0M133.1 88.9h0M120.6 80.4h0M107.4 71.7h0M93.4 60.3h0M87.9 53.5h0M87.8 54.8h0M102.6 68.2h0M106.1 70.9h0M137.4 92.7h0M113.9 77.0h0M141.4 94.6h0M125.1 84.1h0M90.4 57.0h0M115.0 77.7h0M91.1 58.3h0M83.9 50.2h0M138.6 93.9h0M101.9 68.0h0M93.0 59.7h0M87.7 53.7h0M121.0 80.9h0M109.4 73.8h0M82.2 48.0h0M124.8 83.7h0M97.0 63.8h0M128.7 86.2h0M111.1 73.6h0M113.9 76.4h0M109.2 73.6h0M122.4 81.6h0M141.4 94.5h0M129.8 85.8h0M85.7 52.4h0M111.4 74.5h0M95.7 62.9h0M87.7 53.4h0M93.3 60.3h0M96.5 63.1h0M139.6 94.0h0M126.6 84.2h0M133.1 89.1h0M123.8 83.8h0M100.6 66.4h0M105.2 70.3h0M108.2 72.5h0M99.3 65.1h0M107.0 72.4h0M128.2 86.4h0M86.1 52.2h0M98.2 63.9h0M110.5 74.7h0M122.4 82.4h0M120.6 81.1h0" stroke="#dd0a0a" stroke-width="1.4" stroke-linecap="round" fill="none" />
<path d="M149.9 96.9h0M146.5 97.0h0M143.0 94.5h0M149.9 97.6h0M164.8 106.7h0M147.0 96.8h0M152.5 98.5h0M164.4 107.0h0M142.2 94.4h0M148.8 97.7h0M160.9 104.1h0M144.2 96.4h0M163.4 105.3h0M161.2 104.7h0M145.3 95.8h0M155.6 101.6h0M154.8 100.2h0M158.0 102.2h0M149.1 98.7h0M150.8 98.7h0M147.5 97.1h0M148.7 98.7h0M146.0 96.6h0M162.8 104.8h0M162.4 105.3h0M150.3 97.7h0M157.9 102.9h0M153.3 100.3h0M148.5 97.2h0M150.0 97.8h0M164.2 106.1h0M149.9 98.1h0M155.3 100.4h0M163.7 106.0h0M148.8 96.6h0M160.6 103.6h0M144.6 95.6h0M158.9 102.7h0M160.6 104.0h0M161.3 103.6h0M164.4 106.4h0M158.4 102.5h0M164.5 105.9h0M148.4 96.8h0M154.0 99.5h0" stroke="#a00808" stroke-width="1.7" stroke-linecap="round" fill="none" />
<g fill="#c8c8c8" stroke="#333" stroke-width="0.6"><circle cx="38.3" cy="11.3" r="1.45"/><circle cx="39.3" cy="11.8" r="1.45"/><circle cx="40.3" cy="13.4" r="1.45"/><circle cx="41.4" cy="15.0" r="1.45"/><circle cx="42.4" cy="16.1" r="1.45"/><circle cx="43.4" cy="17.5" r="1.45"/><circle cx="44.4" cy="17.6" r="1.45"/><circle cx="45.4" cy="18.4" r="1.45"/><circle cx="46.4" cy="20.5" r="1.45"/><circle cx="47.5" cy="21.3" r="1.45"/><circle cx="48.5" cy="22.8" r="1.45"/><circle cx="49.5" cy="23.4" r="1.45"/><circle cx="58.4" cy="34.8" r="1.45"/><circle cx="64.1" cy="41.4" r="1.45"/><circle cx="68.0" cy="45.8" r="1.45"/><circle cx="72.0" cy="50.3" r="1.45"/></g>
<g fill="#fff" stroke="#000" stroke-width="0.5"><circle cx="74.0" cy="51.9" r="1.05"/><circle cx="75.9" cy="53.5" r="1.05"/><circle cx="77.8" cy="55.2" r="1.05"/><circle cx="79.7" cy="57.2" r="1.05"/><circle cx="81.5" cy="58.3" r="1.05"/><circle cx="83.4" cy="61.3" r="1.05"/><circle cx="85.3" cy="62.3" r="1.05"/><circle cx="87.2" cy="64.7" r="1.05"/><circle cx="89.1" cy="66.0" r="1.05"/><circle cx="91.0" cy="67.8" r="1.05"/><circle cx="92.9" cy="70.9" r="1.05"/><circle cx="94.7" cy="71.6" r="1.05"/><circle cx="96.6" cy="72.9" r="1.05"/><circle cx="98.5" cy="74.9" r="1.05"/><circle cx="100.4" cy="76.8" r="1.05"/><circle cx="102.3" cy="79.7" r="1.05"/><circle cx="104.2" cy="80.4" r="1.05"/><circle cx="106.1" cy="82.3" r="1.05"/><circle cx="107.9" cy="82.7" r="1.05"/><circle cx="109.8" cy="84.8" r="1.05"/><circle cx="111.7" cy="86.4" r="1.05"/><circle cx="113.6" cy="88.4" r="1.05"/><circle cx="115.5" cy="88.6" r="1.05"/><circle cx="117.4" cy="90.5" r="1.05"/><circle cx="119.3" cy="91.7" r="1.05"/><circle cx="121.1" cy="92.3" r="1.05"/><circle cx="123.0" cy="94.1" r="1.05"/><circle cx="124.9" cy="95.3" r="1.05"/><circle cx="126.8" cy="95.5" r="1.05"/><circle cx="128.7" cy="98.2" r="1.05"/><circle cx="130.6" cy="99.2" r="1.05"/><circle cx="132.5" cy="99.7" r="1.05"/><circle cx="134.3" cy="100.3" r="1.05"/><circle cx="136.2" cy="102.8" r="1.05"/><circle cx="138.1" cy="103.2" r="1.05"/><circle cx="140.0" cy="104.7" r="1.05"/><circle cx="144.9" cy="107.0" r="1.05"/><circle cx="146.1" cy="107.6" r="1.05"/><circle cx="151.1" cy="110.5" r="1.05"/><circle cx="153.1" cy="112.4" r="1.05"/></g>
<path d="M138.4 94.6h0M179.7 105.3h0M179.7 112.4h0M210.7 124.6h0M210.7 127.4h0M215.4 128.2h0M242.2 140.4h0" stroke="#ff9900" stroke-width="2.6" stroke-linecap="round" fill="none" />
<path d="M219.4 130.6h0" stroke="#c8a070" stroke-width="2.6" stroke-linecap="round" fill="none" />
<path d="M183.0 126.0h0M191.0 132.5h0M214.6 135.3h0M221.3 140.4h0M225.3 145.0h0M228.0 143.0h0M238.3 147.0h0M242.2 149.0h0M247.7 154.2h0M276.5 167.6h0M179.7 119.6h0M182.0 126.5h0M166.0 114.0h0M170.0 117.0h0" stroke="#22a455" stroke-width="2.6" stroke-linecap="round" fill="none" />
<path d="M107.0 93.0h0M136.5 113.7h0M179.7 131.6h0M209.5 143.0h0M209.5 149.0h0M213.5 145.0h0M190.0 133.0h0" stroke="#8a2be2" stroke-width="2.6" stroke-linecap="round" fill="none" /></g></g>
<line x1="31.8" y1="231.6" x2="280.2" y2="231.6" stroke="#8a8a8a" stroke-width="0.9" stroke-dasharray="3 2.2"/>
<line x1="358.5" y1="231.6" x2="606.9" y2="231.6" stroke="#8a8a8a" stroke-width="0.9" stroke-dasharray="3 2.2"/>
<g clip-path="url(#cr)"><path d="M125.7 231.0v5.2M108.0 234.8v5.2M87.1 223.5v5.2M123.6 227.0v5.2M127.1 227.1v5.2M93.2 231.1v5.2M102.1 232.7v5.2M118.3 226.6v5.2M117.2 227.7v5.2M110.8 228.0v5.2M128.9 235.0v5.2M90.0 233.9v5.2M135.8 237.1v5.2M97.3 226.5v5.2M102.3 218.5v5.2M86.8 233.0v5.2M108.8 231.3v5.2M110.5 235.9v5.2M85.0 229.3v5.2M126.9 222.8v5.2M134.6 229.7v5.2M119.6 230.4v5.2M115.5 227.7v5.2M87.4 234.3v5.2M95.1 228.8v5.2M86.8 230.5v5.2M98.1 232.5v5.2M92.0 226.2v5.2M81.8 230.9v5.2M90.4 225.6v5.2M79.7 230.8v5.2M83.6 232.5v5.2M98.2 243.7v5.2M109.3 237.8v5.2M91.3 231.3v5.2M118.3 232.1v5.2M81.9 232.7v5.2M100.1 234.7v5.2M108.1 234.8v5.2M123.9 224.7v5.2M137.6 229.1v5.2M83.4 228.6v5.2M129.2 233.4v5.2M107.5 232.0v5.2M90.2 228.4v5.2M124.1 225.1v5.2M117.1 225.2v5.2M94.9 228.0v5.2M99.7 234.8v5.2M118.7 228.6v5.2M138.3 226.9v5.2M88.4 232.4v5.2M138.7 225.7v5.2M84.7 228.9v5.2M135.3 226.7v5.2M121.4 226.7v5.2M109.7 227.8v5.2M131.0 229.3v5.2M95.9 231.8v5.2M91.2 235.9v5.2M93.9 234.5v5.2M125.6 224.6v5.2M115.4 238.0v5.2M125.0 227.0v5.2M131.7 226.0v5.2M133.1 226.6v5.2M92.9 237.5v5.2M108.2 225.1v5.2M97.2 234.6v5.2M122.8 229.1v5.2M114.9 234.1v5.2M108.8 228.3v5.2M113.6 229.0v5.2M95.8 225.7v5.2M96.7 236.7v5.2M111.1 232.3v5.2M90.8 222.4v5.2M102.3 238.5v5.2M130.1 231.7v5.2M138.5 228.1v5.2M124.0 225.7v5.2M84.5 229.9v5.2M84.9 227.7v5.2M112.8 232.1v5.2M130.4 226.7v5.2M97.2 229.8v5.2M83.2 229.5v5.2M117.4 227.1v5.2M92.8 223.9v5.2M109.2 228.4v5.2M118.2 236.0v5.2M89.6 233.6v5.2M111.2 225.3v5.2M134.7 228.7v5.2M88.5 234.0v5.2M129.2 231.1v5.2M132.9 228.2v5.2M90.0 227.1v5.2M90.3 231.7v5.2M94.9 229.7v5.2M124.9 227.1v5.2M87.6 233.4v5.2M101.9 232.3v5.2M87.2 224.6v5.2M130.7 228.8v5.2M100.6 231.5v5.2M102.7 226.8v5.2M80.6 230.6v5.2M115.0 230.4v5.2M131.2 225.9v5.2M103.9 229.5v5.2M131.3 227.9v5.2M93.8 224.0v5.2M101.3 234.4v5.2M92.7 228.4v5.2M95.4 234.6v5.2M110.2 231.3v5.2M125.9 229.2v5.2M105.9 225.5v5.2M113.0 229.6v5.2M129.1 219.4v5.2M89.0 230.4v5.2M92.4 231.2v5.2M103.6 230.1v5.2M127.6 226.3v5.2M89.8 225.7v5.2M132.5 228.4v5.2M108.0 232.7v5.2M99.6 241.6v5.2M103.1 227.3v5.2M94.4 240.2v5.2M100.7 238.5v5.2M81.4 227.6v5.2M116.0 239.2v5.2M135.8 230.6v5.2M80.1 220.8v5.2M105.9 220.4v5.2M92.3 229.4v5.2M95.1 231.8v5.2M117.1 234.5v5.2M80.7 229.4v5.2M135.6 233.5v5.2M83.0 228.3v5.2M121.4 238.4v5.2M119.2 227.3v5.2M95.0 234.5v5.2M92.1 229.6v5.2M114.4 241.3v5.2M87.9 226.6v5.2M95.2 235.8v5.2M91.4 232.0v5.2M116.4 234.2v5.2M123.2 232.3v5.2M112.8 237.8v5.2M115.8 234.1v5.2" stroke="#f0b0b0" stroke-width="0.5" fill="none"/>
<path d="M117.3 229.4v5.2M89.4 238.3v5.2M88.2 225.0v5.2M131.3 231.1v5.2M83.3 227.2v5.2M132.2 231.5v5.2M93.3 238.2v5.2M117.2 228.5v5.2M128.2 224.2v5.2M98.7 225.3v5.2M121.1 226.7v5.2M85.8 233.8v5.2M91.9 239.8v5.2M114.0 230.2v5.2M125.8 224.7v5.2M87.0 229.3v5.2M109.5 233.5v5.2M113.9 229.8v5.2M92.4 234.8v5.2M107.2 240.5v5.2M95.0 223.7v5.2M108.0 229.7v5.2M123.3 223.7v5.2M127.1 222.9v5.2M124.3 220.4v5.2M133.5 228.5v5.2M135.4 228.2v5.2M129.5 234.1v5.2M89.1 229.4v5.2M80.8 232.9v5.2M102.8 231.9v5.2M126.4 226.4v5.2M123.2 222.5v5.2M117.9 229.8v5.2M120.4 233.7v5.2M115.9 234.8v5.2M99.8 238.0v5.2M108.9 227.8v5.2M99.5 236.3v5.2M123.2 230.0v5.2M93.5 224.2v5.2M84.2 231.1v5.2M116.8 234.5v5.2M118.3 227.1v5.2M125.9 224.3v5.2M94.5 235.3v5.2M121.6 229.2v5.2M132.5 236.2v5.2M124.0 231.5v5.2M105.9 226.0v5.2M135.0 230.7v5.2M135.2 228.0v5.2M126.4 223.2v5.2M106.2 228.3v5.2M117.7 223.5v5.2M132.6 227.2v5.2M129.0 228.2v5.2M123.8 233.5v5.2M126.0 229.1v5.2M115.6 232.3v5.2M131.9 229.2v5.2M92.7 226.8v5.2M96.4 227.5v5.2M129.7 232.6v5.2M115.7 238.6v5.2M121.7 224.8v5.2M121.8 223.8v5.2M116.9 228.8v5.2M94.2 236.8v5.2M106.3 225.6v5.2M117.0 230.5v5.2M130.5 223.7v5.2" stroke="#b0dcb8" stroke-width="0.5" fill="none"/>
<path d="M109.1 224.6v5.2M88.1 230.5v5.2M109.0 233.5v5.2M137.8 227.5v5.2M98.1 230.9v5.2M135.6 232.1v5.2M99.5 234.0v5.2M116.7 228.9v5.2M91.9 231.7v5.2M129.3 223.6v5.2M100.9 233.6v5.2M119.2 232.4v5.2M92.0 233.7v5.2M125.1 223.3v5.2M115.6 231.4v5.2M135.0 232.0v5.2M128.6 225.8v5.2M96.7 230.4v5.2M86.7 232.6v5.2M113.8 225.8v5.2M130.5 225.8v5.2M109.8 234.1v5.2M108.4 225.9v5.2M122.2 222.5v5.2M138.3 227.2v5.2M136.7 229.6v5.2M97.2 234.0v5.2M111.4 237.7v5.2M106.3 228.5v5.2M82.5 229.2v5.2M138.0 226.8v5.2M84.4 228.5v5.2M122.0 236.4v5.2M96.8 233.5v5.2M135.1 237.8v5.2M87.6 228.8v5.2M136.1 223.8v5.2M97.4 232.2v5.2M99.9 229.9v5.2M116.1 234.3v5.2M95.4 231.4v5.2M126.6 226.0v5.2M97.1 233.9v5.2M120.9 222.0v5.2M93.6 232.3v5.2M130.2 227.1v5.2M121.1 232.5v5.2M131.9 226.5v5.2M127.5 223.6v5.2M104.4 232.8v5.2M127.8 230.5v5.2M128.1 223.6v5.2M104.7 235.1v5.2M132.6 229.0v5.2M129.1 229.1v5.2M131.7 226.2v5.2M130.7 230.9v5.2" stroke="#b8b8ec" stroke-width="0.5" fill="none"/>
<path d="M125.0 227.5v5.2M132.9 233.0v5.2M80.6 229.4v5.2M125.5 227.7v5.2M112.1 233.8v5.2M130.7 230.1v5.2M84.7 234.1v5.2M102.7 234.4v5.2M116.6 233.7v5.2M129.8 226.5v5.2M99.1 228.7v5.2M101.8 226.1v5.2M120.9 230.1v5.2M129.0 226.7v5.2M124.9 230.3v5.2M85.4 232.5v5.2M130.1 226.2v5.2M134.4 232.3v5.2M111.9 226.1v5.2M136.2 229.4v5.2M119.1 232.2v5.2M124.0 220.0v5.2M136.8 234.8v5.2M95.2 230.5v5.2M137.9 230.0v5.2M118.7 235.3v5.2M83.7 232.3v5.2M107.2 239.8v5.2M136.5 227.9v5.2M131.5 224.8v5.2M126.2 227.1v5.2M130.2 231.3v5.2M95.5 232.2v5.2M121.5 231.3v5.2M109.7 232.9v5.2M116.1 234.6v5.2M104.5 232.1v5.2" stroke="#ccc" stroke-width="0.5" fill="none"/>
<path d="M117.3 232.0h0M102.5 239.8h0M89.4 240.9h0M114.3 234.7h0M88.2 227.6h0M133.8 233.2h0M131.3 233.7h0M90.0 237.3h0M83.3 229.8h0M120.9 231.7h0M132.2 234.1h0M115.1 232.5h0M93.3 240.8h0M120.8 233.8h0M117.2 231.1h0M133.1 237.8h0M128.2 226.8h0M80.3 234.7h0M98.7 227.9h0M86.3 239.3h0M121.1 229.3h0M86.4 238.3h0M85.8 236.4h0M101.6 229.5h0M91.9 242.4h0M110.5 231.6h0M114.0 232.8h0M80.8 229.3h0M125.8 227.3h0M120.6 229.5h0M87.0 231.9h0M120.5 226.4h0M109.5 236.1h0M109.4 238.7h0M113.9 232.4h0M118.9 230.5h0M92.4 237.4h0M85.6 230.5h0M107.2 243.1h0M113.8 235.9h0M95.0 226.3h0M101.8 237.4h0M108.0 232.3h0M134.7 228.0h0M123.3 226.3h0M86.9 232.9h0M127.1 225.5h0M88.0 228.4h0M124.3 223.0h0M85.2 230.2h0M133.5 231.1h0M101.2 235.4h0M135.4 230.8h0M134.2 228.0h0M129.5 236.7h0M133.1 230.6h0M89.1 232.0h0M113.6 230.3h0M80.8 235.5h0M133.4 230.5h0M102.8 234.5h0M80.0 229.1h0M126.4 229.0h0M121.6 230.3h0M123.2 225.1h0M135.6 227.5h0M117.9 232.4h0M130.4 229.1h0M120.4 236.3h0M80.9 231.1h0M115.9 237.4h0M111.2 229.1h0M99.8 240.6h0M85.2 235.0h0M108.9 230.4h0M85.4 229.1h0M99.5 238.9h0M135.6 232.0h0M123.2 232.6h0M85.7 230.4h0M93.5 226.8h0M128.4 235.0h0M84.2 233.7h0M107.3 230.3h0M116.8 237.1h0M104.2 229.6h0M118.3 229.7h0M116.2 230.0h0M125.9 226.9h0M82.1 233.5h0M94.5 237.9h0M95.5 228.9h0M121.6 231.8h0M97.1 236.0h0M132.5 238.8h0M120.1 234.5h0M124.0 234.1h0M133.0 234.9h0M105.9 228.6h0M125.7 235.7h0M135.0 233.3h0M118.4 227.4h0M135.2 230.6h0M114.9 224.2h0M126.4 225.8h0M96.5 229.7h0M106.2 230.9h0M113.2 228.6h0M117.7 226.1h0M103.8 228.3h0M132.6 229.8h0M127.4 226.9h0M129.0 230.8h0M102.1 234.1h0M123.8 236.1h0M81.7 233.8h0M126.0 231.7h0M110.1 224.1h0M115.6 234.9h0M83.3 234.2h0M131.9 231.8h0M117.8 235.4h0M92.7 229.4h0M102.9 233.0h0M96.4 230.1h0M101.9 249.4h0M129.7 235.2h0M136.7 231.0h0M115.7 241.2h0M133.3 230.6h0M121.7 227.4h0M138.4 233.4h0M121.8 226.4h0M131.7 231.6h0M116.9 231.4h0M91.1 232.3h0M94.2 239.4h0M137.1 234.4h0M106.3 228.2h0M136.4 231.8h0M117.0 233.1h0M90.0 231.7h0M130.5 226.3h0" stroke="#1e8c3c" stroke-width="1.5" stroke-linecap="round" fill="none" opacity="0.9"/>
<path d="M109.1 227.2h0M124.4 229.6h0M88.1 233.1h0M109.4 229.3h0M109.0 236.1h0M96.4 234.8h0M137.8 230.1h0M126.3 237.4h0M98.1 233.5h0M130.2 234.5h0M135.6 234.7h0M122.9 228.8h0M99.5 236.6h0M126.1 233.2h0M116.7 231.5h0M100.7 229.6h0M91.9 234.3h0M126.5 229.9h0M129.3 226.2h0M138.4 231.3h0M100.9 236.2h0M126.3 239.8h0M119.2 235.0h0M119.6 226.2h0M92.0 236.3h0M117.9 233.9h0M125.1 225.9h0M118.9 238.7h0M115.6 234.0h0M106.2 236.6h0M135.0 234.6h0M138.4 226.3h0M128.6 228.4h0M118.2 234.9h0M96.7 233.0h0M110.7 229.5h0M86.7 235.2h0M123.7 240.9h0M113.8 228.4h0M81.0 228.9h0M130.5 228.4h0M130.8 227.5h0M109.8 236.7h0M88.4 233.5h0M108.4 228.5h0M124.3 238.1h0M122.2 225.1h0M102.5 229.6h0M138.3 229.8h0M113.7 232.4h0M136.7 232.2h0M101.1 230.5h0M97.2 236.6h0M130.7 238.4h0M111.4 240.3h0M82.5 228.2h0M106.3 231.1h0M89.7 236.4h0M82.5 231.8h0M119.2 228.3h0M138.0 229.4h0M125.0 226.3h0M84.4 231.1h0M121.3 233.5h0M122.0 239.0h0M80.1 233.7h0M96.8 236.1h0M92.7 222.3h0M135.1 240.4h0M109.7 222.6h0M87.6 231.4h0M124.8 232.2h0M136.1 226.4h0M111.1 230.9h0M97.4 234.8h0M122.1 235.5h0M99.9 232.5h0M121.0 230.1h0M116.1 236.9h0M129.9 239.4h0M95.4 234.0h0M124.7 230.6h0M126.6 228.6h0M138.8 234.6h0M97.1 236.5h0M96.1 228.0h0M120.9 224.6h0M129.5 222.9h0M93.6 234.9h0M107.6 235.5h0M130.2 229.7h0M107.6 234.2h0M121.1 235.1h0M113.3 235.9h0M131.9 229.1h0M89.1 227.5h0M127.5 226.2h0M134.3 235.6h0M104.4 235.4h0M108.6 237.8h0M127.8 233.1h0M130.6 232.2h0M128.1 226.2h0M114.9 241.3h0M104.7 237.7h0M133.8 231.9h0M132.6 231.6h0M120.8 226.8h0M129.1 231.7h0M110.4 235.6h0M131.7 228.8h0M130.4 231.0h0M130.7 233.5h0M125.0 227.5h0" stroke="#2424b0" stroke-width="1.5" stroke-linecap="round" fill="none" opacity="0.9"/>
<path d="M125.0 230.1h0M106.0 230.2h0M132.9 235.6h0M127.0 230.3h0M80.6 232.0h0M121.3 230.4h0M125.5 230.3h0M102.2 227.9h0M112.1 236.4h0M93.4 238.2h0M130.7 232.7h0M104.9 237.0h0M84.7 236.7h0M95.6 237.0h0M102.7 237.0h0M122.7 227.1h0M116.6 236.3h0M131.7 242.9h0M129.8 229.1h0M123.2 224.2h0M99.1 231.3h0M109.1 237.4h0M101.8 228.7h0M116.8 235.7h0M120.9 232.7h0M129.5 230.2h0M129.0 229.3h0M111.9 239.6h0M124.9 232.9h0M125.5 227.1h0M85.4 235.1h0M138.7 226.4h0M130.1 228.8h0M89.6 237.4h0M134.4 234.9h0M109.9 237.7h0M111.9 228.7h0M94.2 233.3h0M136.2 232.0h0M137.2 229.1h0M119.1 234.8h0M95.1 233.6h0M124.0 222.6h0M127.5 224.2h0M136.8 237.4h0M120.1 233.8h0M95.2 233.1h0M80.7 228.6h0M137.9 232.6h0M83.4 235.7h0M118.7 237.9h0M131.5 229.0h0M83.7 234.9h0M122.3 225.1h0M107.2 242.4h0M88.6 226.7h0M136.5 230.5h0M134.2 233.6h0M131.5 227.4h0M112.2 233.2h0M126.2 229.7h0M119.9 241.9h0M130.2 233.9h0M134.1 231.4h0M95.5 234.8h0M119.1 241.4h0M121.5 233.9h0M115.5 233.7h0M109.7 235.5h0M117.2 231.7h0M116.1 237.2h0M116.5 232.5h0M104.5 234.7h0" stroke="#444" stroke-width="1.5" stroke-linecap="round" fill="none" opacity="0.9"/>
<path d="M125.7 233.6h0M132.9 229.4h0M108.0 237.4h0M134.0 229.7h0M87.1 226.1h0M97.7 231.8h0M123.6 229.6h0M95.0 238.8h0M127.1 229.7h0M101.4 235.9h0M93.2 233.7h0M89.1 227.7h0M102.1 235.3h0M107.5 237.4h0M118.3 229.2h0M137.5 234.5h0M117.2 230.3h0M105.9 233.1h0M110.8 230.6h0M109.7 240.8h0M128.9 237.6h0M93.7 235.3h0M90.0 236.5h0M94.8 235.2h0M135.8 239.7h0M80.9 232.9h0M97.3 229.1h0M113.7 239.0h0M102.3 221.1h0M92.6 237.7h0M86.8 235.6h0M83.4 235.7h0M108.8 233.9h0M113.1 232.0h0M110.5 238.5h0M116.8 227.2h0M85.0 231.9h0M91.5 229.9h0M126.9 225.4h0M82.1 228.6h0M134.6 232.3h0M114.9 235.8h0M119.6 233.0h0M88.9 236.0h0M115.5 230.3h0M84.0 235.9h0M87.4 236.9h0M108.0 235.8h0M95.1 231.4h0M125.0 233.1h0M86.8 233.1h0M138.8 227.5h0M98.1 235.1h0M109.8 233.3h0M92.0 228.8h0M103.4 234.8h0M81.8 233.5h0M112.8 235.4h0M90.4 228.2h0M130.2 232.4h0M79.7 233.4h0M80.6 229.4h0M83.6 235.1h0M123.2 228.4h0M98.2 246.3h0M90.2 228.9h0M109.3 240.4h0M123.2 233.9h0M91.3 233.9h0M86.3 234.0h0M118.3 234.7h0M123.6 234.7h0M81.9 235.3h0M133.6 233.7h0M100.1 237.3h0M85.9 235.4h0M108.1 237.4h0M82.2 230.5h0M123.9 227.3h0M99.5 228.7h0M137.6 231.7h0M117.3 237.1h0M83.4 231.2h0M130.1 226.2h0M129.2 236.0h0M111.1 235.5h0M107.5 234.6h0M84.8 233.5h0M90.2 231.0h0M122.2 233.9h0M124.1 227.7h0M105.9 242.9h0M117.1 227.8h0M100.1 240.4h0M94.9 230.6h0M98.4 236.4h0M99.7 237.4h0M132.8 237.1h0M118.7 231.2h0M123.1 233.7h0M138.3 229.5h0M93.9 231.8h0M88.4 235.0h0M100.1 236.0h0M138.7 228.3h0M108.4 231.9h0M84.7 231.5h0M117.0 227.6h0M135.3 229.3h0M88.7 233.0h0M121.4 229.3h0M121.3 236.9h0M109.7 230.4h0M101.3 244.1h0M131.0 231.9h0M125.4 233.9h0M95.9 234.4h0M90.4 232.4h0M91.2 238.5h0M96.1 229.7h0M93.9 237.1h0M98.8 239.7h0M125.6 227.2h0M108.2 236.3h0M115.4 240.6h0M97.0 235.4h0M125.0 229.6h0M108.1 238.6h0M131.7 228.6h0M83.3 235.8h0M133.1 229.2h0M138.2 229.1h0M92.9 240.1h0M120.9 221.5h0M108.2 227.7h0M100.5 230.3h0M97.2 237.2h0M94.7 230.9h0M122.8 231.7h0M103.6 246.8h0M114.9 236.7h0M92.6 230.1h0M108.8 230.9h0M131.0 234.7h0M113.6 231.6h0M120.1 229.1h0M95.8 228.3h0M132.7 230.7h0M96.7 239.3h0M85.8 236.4h0M111.1 234.9h0M86.1 232.6h0M90.8 225.0h0M83.4 234.9h0M102.3 241.1h0M90.9 234.0h0M130.1 234.3h0M99.5 233.2h0M138.5 230.7h0M123.8 233.0h0M124.0 228.3h0M83.8 233.3h0M84.5 232.5h0M125.5 237.4h0M84.9 230.3h0M125.9 230.7h0M112.8 234.7h0M93.5 236.3h0M130.4 229.3h0M102.1 238.0h0M97.2 232.4h0M138.1 231.2h0M83.2 232.1h0M104.7 232.2h0M117.4 229.7h0M82.2 234.7h0M92.8 226.5h0M123.5 238.0h0M109.2 231.0h0M99.0 237.9h0M118.2 238.6h0M121.4 238.5h0M89.6 236.2h0M134.2 230.5h0M111.2 227.9h0M89.9 237.6h0M134.7 231.3h0M128.7 228.6h0M88.5 236.6h0M80.3 231.9h0M129.2 233.7h0M134.7 232.4h0M132.9 230.8h0M102.6 241.4h0M90.0 229.7h0M81.0 236.4h0M90.3 234.3h0M92.8 238.5h0M94.9 232.3h0M137.1 230.6h0M124.9 229.7h0M106.2 225.6h0M87.6 236.0h0M137.9 229.6h0M101.9 234.9h0M97.1 234.0h0M87.2 227.2h0M80.7 233.1h0M130.7 231.4h0M91.1 233.8h0M100.6 234.1h0M138.2 235.1h0M102.7 229.4h0M107.0 235.4h0M80.6 233.2h0M125.1 230.1h0M115.0 233.0h0M91.4 235.7h0M131.2 228.5h0M133.0 227.1h0M103.9 232.1h0M95.1 233.5h0M131.3 230.5h0M102.8 243.9h0M93.8 226.6h0M131.3 232.5h0M101.3 237.0h0M102.2 239.3h0M92.7 231.0h0M95.4 233.6h0M95.4 237.2h0M95.0 236.7h0M110.2 233.9h0M85.5 235.9h0M125.9 231.8h0M89.9 236.6h0M105.9 228.1h0M87.7 235.7h0M113.0 232.2h0M86.7 237.8h0M129.1 222.0h0M112.2 237.5h0M89.0 233.0h0M126.9 238.6h0M92.4 233.8h0M119.3 233.1h0M103.6 232.7h0M134.2 231.7h0M127.6 228.9h0M110.9 233.2h0M89.8 228.3h0M124.7 237.8h0M132.5 231.0h0M120.8 229.1h0M108.0 235.3h0M81.3 230.3h0M99.6 244.2h0M91.1 233.5h0M103.1 229.9h0M122.4 230.4h0M94.4 242.8h0M135.2 233.1h0M100.7 241.1h0M104.9 231.6h0M81.4 230.2h0M119.0 232.5h0M116.0 241.8h0M94.7 233.6h0M135.8 233.2h0M90.3 231.1h0M80.1 223.4h0M94.0 236.9h0M105.9 223.0h0M119.4 233.0h0M92.3 232.0h0M122.0 234.8h0M95.1 234.4h0M127.4 235.2h0M117.1 237.1h0M124.5 236.0h0M80.7 232.0h0M86.2 227.7h0M135.6 236.1h0M116.9 235.8h0M83.0 230.9h0M105.1 231.3h0M121.4 241.0h0M94.0 234.8h0M119.2 229.9h0M111.6 230.6h0M95.0 237.1h0M79.6 234.3h0M92.1 232.2h0M83.9 228.6h0M114.4 243.9h0M132.1 230.6h0M87.9 229.2h0M93.1 235.1h0M95.2 238.4h0M128.1 235.3h0M91.4 234.6h0M92.6 232.5h0M116.4 236.8h0M98.2 236.7h0M123.2 234.9h0M138.8 232.9h0M112.8 240.4h0M90.1 233.2h0M115.8 236.7h0M96.6 240.1h0" stroke="#b52020" stroke-width="1.5" stroke-linecap="round" fill="none" opacity="0.9"/>
<path d="M153.1 226.9v4.8M150.4 221.1v4.8M160.5 214.2v4.8M151.9 223.4v4.8M153.0 225.2v4.8M157.5 222.3v4.8M161.2 217.0v4.8M154.2 219.1v4.8M140.0 216.9v4.8M150.9 223.7v4.8M139.8 226.5v4.8M154.7 227.4v4.8M140.7 219.3v4.8M153.0 223.8v4.8M142.9 225.2v4.8M161.2 220.3v4.8M141.5 222.0v4.8M156.1 232.5v4.8M157.3 223.6v4.8M146.2 226.8v4.8M154.4 220.7v4.8M147.6 222.9v4.8M145.7 214.8v4.8M145.8 222.6v4.8M139.4 228.2v4.8M156.5 232.4v4.8M140.9 228.2v4.8M144.1 225.9v4.8M141.3 222.9v4.8M159.9 219.9v4.8M152.8 222.0v4.8M151.2 225.5v4.8" stroke="#f0b0b0" stroke-width="0.5" fill="none"/>
<path d="M153.1 229.3h0M150.4 223.5h0M160.5 216.6h0M151.9 225.8h0M153.0 227.6h0M157.5 224.7h0M161.2 219.4h0M154.2 221.5h0M140.0 219.3h0M150.9 226.1h0M139.8 228.9h0M154.7 229.8h0M140.7 221.7h0M153.0 226.2h0M142.9 227.6h0M161.2 222.7h0M141.5 224.4h0M156.1 234.9h0M157.3 226.0h0M146.2 229.2h0M154.4 223.1h0M147.6 225.3h0M145.7 217.2h0M145.8 225.0h0M139.4 230.6h0M156.5 234.8h0M140.9 230.6h0M144.1 228.3h0M141.3 225.3h0M159.9 222.3h0M152.8 224.4h0M151.2 227.9h0" stroke="#d02828" stroke-width="1.5" stroke-linecap="round" fill="none" />
<path d="M141.7 234.4v4.8M145.7 236.8v4.8M154.1 239.4v4.8M160.6 235.9v4.8M142.5 236.7v4.8M157.9 240.7v4.8M152.1 242.3v4.8M140.3 240.0v4.8M138.3 241.8v4.8M158.3 235.7v4.8M143.4 236.1v4.8M140.4 238.3v4.8M153.1 236.1v4.8M154.3 235.4v4.8M158.6 243.1v4.8M149.5 236.5v4.8M145.2 233.7v4.8M145.3 239.0v4.8" stroke="#c0c0f0" stroke-width="0.5" fill="none"/>
<path d="M141.7 236.8h0M145.7 239.2h0M154.1 241.8h0M160.6 238.3h0M142.5 239.1h0M157.9 243.1h0M152.1 244.7h0M140.3 242.4h0M138.3 244.2h0M158.3 238.1h0M143.4 238.5h0M140.4 240.7h0M153.1 238.5h0M154.3 237.8h0M158.6 245.5h0M149.5 238.9h0M145.2 236.1h0M145.3 241.4h0" stroke="#2424c8" stroke-width="1.5" stroke-linecap="round" fill="none" />
<path d="M140.6 243.5v4.8M161.3 230.7v4.8M159.0 232.6v4.8M140.3 226.4v4.8M151.8 229.5v4.8M143.5 225.8v4.8M157.9 236.2v4.8M152.9 230.5v4.8M162.6 234.3v4.8M156.9 228.6v4.8M140.6 229.4v4.8M147.7 237.6v4.8M153.0 227.2v4.8M161.7 223.4v4.8M147.6 233.6v4.8M142.9 226.4v4.8M145.4 229.7v4.8M144.5 235.9v4.8M142.0 227.9v4.8M146.9 235.7v4.8" stroke="#b0dcb8" stroke-width="0.5" fill="none"/>
<path d="M140.6 245.9h0M161.3 233.1h0M159.0 235.0h0M140.3 228.8h0M151.8 231.9h0M143.5 228.2h0M157.9 238.6h0M152.9 232.9h0M162.6 236.7h0M156.9 231.0h0M140.6 231.8h0M147.7 240.0h0M153.0 229.6h0M161.7 225.8h0M147.6 236.0h0M142.9 228.8h0M145.4 232.1h0M144.5 238.3h0M142.0 230.3h0M146.9 238.1h0" stroke="#22a045" stroke-width="1.5" stroke-linecap="round" fill="none" />
<path d="M38.6 243.2v9" stroke="#b4b4b4" stroke-width="0.6"/><rect x="37.6" y="246.7" width="2.0" height="2.0" transform="rotate(45 38.6 247.7)" fill="#e4e4e4" stroke="#222" stroke-width="0.65"/><path d="M41.8 235.3v9" stroke="#b4b4b4" stroke-width="0.6"/><rect x="40.8" y="238.8" width="2.0" height="2.0" transform="rotate(45 41.8 239.8)" fill="#e4e4e4" stroke="#222" stroke-width="0.65"/><path d="M44.0 234.6v9" stroke="#b4b4b4" stroke-width="0.6"/><rect x="43.0" y="238.1" width="2.0" height="2.0" transform="rotate(45 44.0 239.1)" fill="#e4e4e4" stroke="#222" stroke-width="0.65"/><path d="M43.3 231.5v9" stroke="#b4b4b4" stroke-width="0.6"/><rect x="42.3" y="235.0" width="2.0" height="2.0" transform="rotate(45 43.3 236.0)" fill="#e4e4e4" stroke="#222" stroke-width="0.65"/><path d="M46.1 230.5v9" stroke="#b4b4b4" stroke-width="0.6"/><rect x="45.1" y="234.0" width="2.0" height="2.0" transform="rotate(45 46.1 235.0)" fill="#e4e4e4" stroke="#222" stroke-width="0.65"/><path d="M48.9 236.8v9" stroke="#b4b4b4" stroke-width="0.6"/><rect x="47.9" y="240.3" width="2.0" height="2.0" transform="rotate(45 48.9 241.3)" fill="#e4e4e4" stroke="#222" stroke-width="0.65"/><path d="M48.3 239.5v9" stroke="#b4b4b4" stroke-width="0.6"/><rect x="47.3" y="243.0" width="2.0" height="2.0" transform="rotate(45 48.3 244.0)" fill="#e4e4e4" stroke="#222" stroke-width="0.65"/><path d="M58.0 224.5v9" stroke="#b4b4b4" stroke-width="0.6"/><rect x="57.0" y="228.0" width="2.0" height="2.0" transform="rotate(45 58.0 229.0)" fill="#e4e4e4" stroke="#222" stroke-width="0.65"/><path d="M66.1 220.2v9" stroke="#b4b4b4" stroke-width="0.6"/><rect x="65.1" y="223.7" width="2.0" height="2.0" transform="rotate(45 66.1 224.7)" fill="#e4e4e4" stroke="#222" stroke-width="0.65"/><path d="M66.0 221.3v9" stroke="#b4b4b4" stroke-width="0.6"/><rect x="65.0" y="224.8" width="2.0" height="2.0" transform="rotate(45 66.0 225.8)" fill="#e4e4e4" stroke="#222" stroke-width="0.65"/><path d="M74.0 217.0v9" stroke="#b4b4b4" stroke-width="0.6"/><rect x="73.0" y="220.5" width="2.0" height="2.0" transform="rotate(45 74.0 221.5)" fill="#e4e4e4" stroke="#222" stroke-width="0.65"/><path d="M80.5 215.9v9" stroke="#b4b4b4" stroke-width="0.6"/><rect x="79.5" y="219.4" width="2.0" height="2.0" transform="rotate(45 80.5 220.4)" fill="#e4e4e4" stroke="#222" stroke-width="0.65"/><path d="M87.0 217.0v9" stroke="#b4b4b4" stroke-width="0.6"/><rect x="86.0" y="220.5" width="2.0" height="2.0" transform="rotate(45 87.0 221.5)" fill="#e4e4e4" stroke="#222" stroke-width="0.65"/><path d="M92.4 217.0v9" stroke="#b4b4b4" stroke-width="0.6"/><rect x="91.4" y="220.5" width="2.0" height="2.0" transform="rotate(45 92.4 221.5)" fill="#e4e4e4" stroke="#222" stroke-width="0.65"/><path d="M98.4 219.8v9" stroke="#b4b4b4" stroke-width="0.6"/><rect x="97.4" y="223.3" width="2.0" height="2.0" transform="rotate(45 98.4 224.3)" fill="#e4e4e4" stroke="#222" stroke-width="0.65"/><path d="M106.0 217.5v9" stroke="#b4b4b4" stroke-width="0.6"/><rect x="105.0" y="221.0" width="2.0" height="2.0" transform="rotate(45 106.0 222.0)" fill="#e4e4e4" stroke="#222" stroke-width="0.65"/><path d="M114.0 218.5v9" stroke="#b4b4b4" stroke-width="0.6"/><rect x="113.0" y="222.0" width="2.0" height="2.0" transform="rotate(45 114.0 223.0)" fill="#e4e4e4" stroke="#222" stroke-width="0.65"/><path d="M122.0 220.5v9" stroke="#b4b4b4" stroke-width="0.6"/><rect x="121.0" y="224.0" width="2.0" height="2.0" transform="rotate(45 122.0 225.0)" fill="#e4e4e4" stroke="#222" stroke-width="0.65"/><path d="M127.0 223.5v9" stroke="#b4b4b4" stroke-width="0.6"/><rect x="126.0" y="227.0" width="2.0" height="2.0" transform="rotate(45 127.0 228.0)" fill="#e4e4e4" stroke="#222" stroke-width="0.65"/><path d="M132.0 224.5v9" stroke="#b4b4b4" stroke-width="0.6"/><rect x="131.0" y="228.0" width="2.0" height="2.0" transform="rotate(45 132.0 229.0)" fill="#e4e4e4" stroke="#222" stroke-width="0.65"/><path d="M136.5 229.0v9" stroke="#b4b4b4" stroke-width="0.6"/><rect x="135.5" y="232.5" width="2.0" height="2.0" transform="rotate(45 136.5 233.5)" fill="#e4e4e4" stroke="#222" stroke-width="0.65"/><path d="M136.5 233.7v9" stroke="#b4b4b4" stroke-width="0.6"/><rect x="135.5" y="237.2" width="2.0" height="2.0" transform="rotate(45 136.5 238.2)" fill="#e4e4e4" stroke="#222" stroke-width="0.65"/><path d="M135.5 236.5v9" stroke="#b4b4b4" stroke-width="0.6"/><rect x="134.5" y="240.0" width="2.0" height="2.0" transform="rotate(45 135.5 241.0)" fill="#e4e4e4" stroke="#222" stroke-width="0.65"/></g>
<g clip-path="url(#cr2)"><g transform="translate(326.7,0)"><path d="M108.5 230.6v5.2M123.3 235.3v5.2M93.4 223.8v5.2M86.0 229.7v5.2M112.3 237.5v5.2M87.7 227.2v5.2M112.7 228.1v5.2M106.8 231.1v5.2M129.0 225.2v5.2M94.7 227.6v5.2M86.3 233.4v5.2M98.6 230.0v5.2M112.0 229.9v5.2M128.3 225.7v5.2M121.1 227.7v5.2M132.0 221.8v5.2M97.1 235.2v5.2M97.5 223.6v5.2M95.4 231.1v5.2M86.0 224.8v5.2M80.5 225.7v5.2M96.5 225.7v5.2M118.0 230.9v5.2M109.3 223.4v5.2M81.2 232.0v5.2M122.6 231.9v5.2M97.0 231.4v5.2M124.2 232.1v5.2M110.9 224.4v5.2M112.0 223.5v5.2M103.6 224.1v5.2M118.6 228.9v5.2M119.1 229.3v5.2M83.7 233.7v5.2M120.2 226.3v5.2M94.9 230.0v5.2M98.6 231.5v5.2M96.2 231.6v5.2M97.6 224.6v5.2M127.7 230.9v5.2M91.5 222.4v5.2M93.7 231.4v5.2M104.6 231.0v5.2M97.5 225.4v5.2M105.6 230.9v5.2M129.6 219.3v5.2M91.1 226.6v5.2M87.9 227.3v5.2M97.2 223.6v5.2M80.3 230.7v5.2M81.5 232.8v5.2M91.8 228.4v5.2M130.5 235.0v5.2M135.1 224.3v5.2M80.4 226.9v5.2M123.1 229.5v5.2M82.3 229.3v5.2M79.7 232.8v5.2M132.7 231.9v5.2M92.0 231.6v5.2M105.5 228.1v5.2M87.2 228.4v5.2M96.4 234.2v5.2M132.2 229.2v5.2M95.9 226.2v5.2M97.3 229.8v5.2M123.2 217.9v5.2M93.5 230.5v5.2M86.8 226.5v5.2M127.7 233.4v5.2M87.1 230.6v5.2M81.1 227.8v5.2M106.4 228.2v5.2M89.2 229.2v5.2M90.5 231.5v5.2M117.8 224.5v5.2M119.6 231.0v5.2M120.1 228.1v5.2M96.2 237.6v5.2M93.1 224.6v5.2M110.1 231.1v5.2M129.6 232.9v5.2M86.2 234.8v5.2M86.8 226.1v5.2M93.7 229.7v5.2M98.5 233.7v5.2M93.0 232.3v5.2M94.9 233.3v5.2M84.5 228.5v5.2M132.9 229.5v5.2M79.6 219.9v5.2M98.5 226.6v5.2M134.1 231.4v5.2M94.6 229.4v5.2M87.6 230.4v5.2M100.6 233.2v5.2M118.5 231.7v5.2M94.7 225.0v5.2M82.3 229.2v5.2M82.2 232.1v5.2M81.6 232.3v5.2M112.1 230.6v5.2M90.2 226.5v5.2M134.7 219.0v5.2M81.2 233.3v5.2M87.0 228.6v5.2M112.8 225.4v5.2M98.0 227.3v5.2M84.6 232.3v5.2M134.7 226.9v5.2M102.1 227.7v5.2M131.7 229.6v5.2M96.2 229.8v5.2M97.7 228.4v5.2M95.2 230.8v5.2M128.3 228.2v5.2M90.7 230.7v5.2M110.3 222.3v5.2M91.1 226.7v5.2M106.6 231.5v5.2M137.1 226.5v5.2M94.3 229.2v5.2M83.6 232.8v5.2M81.8 234.5v5.2M117.1 232.1v5.2M116.8 231.6v5.2M105.1 231.2v5.2M111.6 223.7v5.2M123.3 232.2v5.2M93.7 230.4v5.2M103.9 227.0v5.2M93.0 229.6v5.2M98.2 226.9v5.2M116.2 233.9v5.2M135.8 227.0v5.2M120.7 226.3v5.2M121.0 218.2v5.2M129.7 222.5v5.2M83.5 226.6v5.2M124.9 228.3v5.2M112.1 230.4v5.2M102.0 224.0v5.2M123.7 228.3v5.2M133.9 228.3v5.2M130.5 233.2v5.2M80.4 222.7v5.2M117.0 237.3v5.2M108.3 231.5v5.2M101.0 225.9v5.2M137.9 228.0v5.2M123.9 227.1v5.2M97.0 235.5v5.2M81.0 232.9v5.2M105.8 226.4v5.2M129.7 225.8v5.2M100.6 233.8v5.2M97.6 232.6v5.2M123.6 229.7v5.2M96.0 225.3v5.2" stroke="#f0b0b0" stroke-width="0.5" fill="none"/>
<path d="M88.6 226.6v5.2M105.9 224.7v5.2M116.6 228.3v5.2M109.2 219.3v5.2M119.1 219.3v5.2M113.5 227.4v5.2M93.5 231.6v5.2M106.1 231.5v5.2M104.7 228.3v5.2M82.7 231.7v5.2M111.5 232.5v5.2M82.5 232.5v5.2M95.5 224.1v5.2M115.9 235.3v5.2M134.2 232.3v5.2M101.5 227.9v5.2M94.9 232.0v5.2M91.5 226.6v5.2M131.1 223.2v5.2M99.8 224.7v5.2M112.1 226.8v5.2M92.8 225.9v5.2M85.9 236.5v5.2M109.1 232.5v5.2M103.8 230.5v5.2M129.7 233.3v5.2M138.8 228.8v5.2M101.6 226.7v5.2M103.7 225.9v5.2M108.7 227.4v5.2M108.4 235.6v5.2M91.8 229.1v5.2M138.6 231.8v5.2M130.2 224.8v5.2M126.0 231.3v5.2M105.1 228.6v5.2M118.0 228.5v5.2M86.8 226.2v5.2M127.6 225.2v5.2M83.3 227.8v5.2M95.5 222.2v5.2M99.5 225.5v5.2M95.5 234.8v5.2M113.4 228.8v5.2M117.7 224.8v5.2M97.0 228.5v5.2M115.7 227.1v5.2M83.6 224.2v5.2M113.1 224.0v5.2M121.9 237.4v5.2M88.1 230.0v5.2M100.5 233.5v5.2M83.4 227.8v5.2M117.9 228.5v5.2M95.1 228.4v5.2M130.7 229.3v5.2M96.6 226.0v5.2M99.5 227.1v5.2M96.9 229.7v5.2M129.1 226.2v5.2M134.8 230.2v5.2M114.0 223.6v5.2M103.2 231.0v5.2M128.6 229.2v5.2M102.8 225.9v5.2M100.0 231.5v5.2M135.9 225.3v5.2M115.3 231.7v5.2M119.2 221.4v5.2M80.9 230.5v5.2" stroke="#b0dcb8" stroke-width="0.5" fill="none"/>
<path d="M120.7 226.5v5.2M130.9 230.1v5.2M125.3 226.5v5.2M129.2 226.8v5.2M124.3 232.9v5.2M97.3 231.6v5.2M107.5 229.6v5.2M114.3 230.4v5.2M89.0 227.3v5.2M120.4 226.0v5.2M131.6 227.9v5.2M133.4 225.3v5.2M97.1 228.9v5.2M111.5 222.8v5.2M120.5 233.5v5.2M108.1 228.1v5.2M82.2 224.9v5.2M129.9 222.5v5.2M86.1 231.5v5.2M129.4 223.2v5.2M101.1 229.9v5.2M114.5 231.3v5.2M105.7 232.5v5.2M116.7 228.0v5.2M131.6 225.8v5.2M101.0 234.7v5.2M131.9 223.0v5.2M132.8 226.7v5.2M93.0 228.5v5.2M89.7 226.8v5.2M132.1 228.8v5.2M123.5 233.9v5.2M126.2 231.0v5.2M128.2 225.5v5.2M98.7 230.9v5.2M128.6 228.9v5.2M126.1 226.9v5.2M125.5 220.2v5.2M115.1 227.7v5.2M106.1 235.0v5.2M84.3 229.0v5.2M136.1 232.2v5.2M120.7 234.3v5.2M90.4 231.4v5.2M136.2 226.8v5.2M129.9 229.0v5.2M135.9 233.7v5.2M134.5 232.5v5.2M134.8 234.4v5.2M120.3 226.0v5.2M137.2 229.8v5.2M103.6 229.5v5.2M99.3 226.5v5.2M123.8 229.1v5.2M108.2 231.4v5.2M131.8 223.6v5.2M126.9 228.4v5.2M121.7 230.8v5.2M125.6 228.1v5.2M131.9 236.7v5.2" stroke="#b8b8ec" stroke-width="0.5" fill="none"/>
<path d="M92.6 227.2v5.2M87.4 230.8v5.2M82.1 230.1v5.2M112.3 235.9v5.2M92.2 223.0v5.2M82.4 225.4v5.2M136.1 230.3v5.2M105.7 226.7v5.2M114.6 223.7v5.2M92.9 232.5v5.2M120.5 224.8v5.2M126.7 225.6v5.2M135.7 224.7v5.2M100.8 228.0v5.2M88.0 223.7v5.2M133.9 214.6v5.2M113.0 226.8v5.2M113.8 226.0v5.2M90.3 228.5v5.2M87.1 234.3v5.2M90.9 228.9v5.2M111.2 224.4v5.2M82.3 229.0v5.2M132.2 226.5v5.2M100.2 232.6v5.2M135.0 230.2v5.2M129.8 226.2v5.2M111.1 225.6v5.2M114.4 234.4v5.2M101.3 225.7v5.2M117.2 225.3v5.2" stroke="#ccc" stroke-width="0.5" fill="none"/>
<path d="M88.6 229.2h0M130.5 233.2h0M105.9 227.3h0M115.7 229.4h0M116.6 230.9h0M80.2 226.6h0M109.2 221.9h0M109.1 229.1h0M119.1 221.9h0M135.1 234.9h0M113.5 230.0h0M138.0 229.7h0M93.5 234.2h0M109.8 231.2h0M106.1 234.1h0M114.4 233.9h0M104.7 230.9h0M104.3 226.5h0M82.7 234.3h0M106.7 229.9h0M111.5 235.1h0M109.3 224.7h0M82.5 235.1h0M112.0 228.7h0M95.5 226.7h0M86.6 230.2h0M115.9 237.9h0M107.1 229.7h0M134.2 234.9h0M90.2 239.7h0M101.5 230.5h0M99.1 231.0h0M94.9 234.6h0M119.5 229.4h0M91.5 229.2h0M108.2 233.0h0M131.1 225.8h0M80.7 231.2h0M99.8 227.3h0M104.1 234.9h0M112.1 229.4h0M111.8 230.5h0M92.8 228.5h0M101.1 232.8h0M85.9 239.1h0M128.8 223.2h0M109.1 235.1h0M93.9 226.6h0M103.8 233.1h0M107.7 223.6h0M129.7 235.9h0M111.1 229.0h0M138.8 231.4h0M102.8 237.2h0M101.6 229.3h0M94.2 227.7h0M103.7 228.5h0M121.2 230.0h0M108.7 230.0h0M121.5 227.6h0M108.4 238.2h0M131.2 235.1h0M91.8 231.7h0M128.0 236.1h0M138.6 234.4h0M131.2 232.7h0M130.2 227.4h0M104.6 234.4h0M126.0 233.9h0M138.2 229.4h0M105.1 231.2h0M132.6 232.3h0M118.0 231.1h0M129.8 229.2h0M86.8 228.8h0M137.4 230.7h0M127.6 227.8h0M115.0 231.2h0M83.3 230.4h0M100.3 229.6h0M95.5 224.8h0M108.1 228.9h0M99.5 228.1h0M127.3 229.6h0M95.5 237.4h0M118.0 230.9h0M113.4 231.4h0M92.7 233.3h0M117.7 227.4h0M103.2 234.5h0M97.0 231.1h0M83.6 233.1h0M115.7 229.7h0M90.7 231.1h0M83.6 226.8h0M93.4 232.0h0M113.1 226.6h0M92.1 232.7h0M121.9 240.0h0M96.4 231.2h0M88.1 232.6h0M98.3 235.3h0M100.5 236.1h0M94.8 237.1h0M83.4 230.4h0M112.3 227.4h0M117.9 231.1h0M89.2 228.5h0M95.1 231.0h0M98.2 225.6h0M130.7 231.9h0M132.1 232.7h0M96.6 228.6h0M121.9 238.0h0M99.5 229.7h0M134.9 236.5h0M96.9 232.3h0M80.3 229.3h0M129.1 228.8h0M100.5 227.1h0M134.8 232.8h0M106.1 227.4h0M114.0 226.2h0M135.9 231.5h0M103.2 233.6h0M121.6 232.1h0M128.6 231.8h0M117.3 226.8h0M102.8 228.5h0M133.1 232.6h0M100.0 234.1h0M98.2 227.9h0M135.9 227.9h0M134.4 228.5h0M115.3 234.3h0M86.4 230.6h0M119.2 224.0h0M116.9 232.0h0M80.9 233.1h0M94.3 235.6h0" stroke="#1e8c3c" stroke-width="1.5" stroke-linecap="round" fill="none" opacity="0.9"/>
<path d="M120.7 229.1h0M122.6 233.1h0M130.9 232.7h0M101.0 231.9h0M125.3 229.1h0M112.6 237.7h0M129.2 229.4h0M115.8 223.9h0M124.3 235.5h0M137.6 232.5h0M97.3 234.2h0M131.8 227.4h0M107.5 232.2h0M134.1 225.6h0M114.3 233.0h0M91.3 232.7h0M89.0 229.9h0M96.8 227.9h0M120.4 228.6h0M97.2 233.3h0M131.6 230.5h0M94.5 237.1h0M133.4 227.9h0M127.0 231.6h0M97.1 231.5h0M125.6 227.1h0M111.5 225.4h0M121.4 232.9h0M120.5 236.1h0M130.3 232.0h0M108.1 230.7h0M83.2 235.0h0M82.2 227.5h0M114.0 227.7h0M129.9 225.1h0M132.5 232.3h0M86.1 234.1h0M112.6 226.2h0M129.4 225.8h0M108.3 234.3h0M101.1 232.5h0M107.8 235.5h0M114.5 233.9h0M123.1 224.7h0M105.7 235.1h0M135.7 229.8h0M116.7 230.6h0M133.0 231.2h0M131.6 228.4h0M105.6 236.4h0M101.0 237.3h0M108.6 233.8h0M131.9 225.6h0M115.3 233.9h0M132.8 229.3h0M132.6 229.0h0M93.0 231.1h0M119.6 225.9h0M89.7 229.4h0M130.5 231.0h0M132.1 231.4h0M103.4 235.9h0M123.5 236.5h0M118.5 229.0h0M126.2 233.6h0M133.7 232.8h0M128.2 228.1h0M129.0 232.0h0M98.7 233.5h0M128.4 231.7h0M128.6 231.5h0M96.9 230.4h0M126.1 229.5h0M125.2 230.6h0M125.5 222.8h0M80.7 228.6h0M115.1 230.3h0M112.9 232.5h0M106.1 237.6h0M135.6 236.2h0M84.3 231.6h0M84.2 234.5h0M136.1 234.8h0M91.3 234.0h0M120.7 236.9h0M97.7 226.3h0M90.4 234.0h0M130.5 228.5h0M136.2 229.4h0M115.7 230.0h0M129.9 231.6h0M125.6 229.8h0M135.9 236.3h0M132.2 228.5h0M134.5 235.1h0M137.5 233.0h0M134.8 237.0h0M102.2 235.0h0M120.3 228.6h0M101.9 229.5h0M137.2 232.4h0M130.1 235.9h0M103.6 232.1h0M111.1 227.7h0M99.3 229.1h0M131.4 232.7h0M123.8 231.7h0M130.8 238.1h0M108.2 234.0h0M136.9 224.7h0M131.8 226.2h0M130.0 224.9h0M126.9 231.0h0M132.3 232.6h0M121.7 233.4h0M93.4 229.3h0M125.6 230.7h0M126.3 222.6h0M131.9 239.3h0M125.8 235.6h0" stroke="#2424b0" stroke-width="1.5" stroke-linecap="round" fill="none" opacity="0.9"/>
<path d="M92.6 229.8h0M95.3 234.6h0M87.4 233.4h0M99.0 225.2h0M82.1 232.7h0M115.0 237.7h0M112.3 238.5h0M133.1 226.0h0M92.2 225.6h0M106.2 230.4h0M82.4 228.0h0M89.1 230.8h0M136.1 232.9h0M89.9 232.0h0M105.7 229.3h0M116.7 232.4h0M114.6 226.3h0M120.7 227.4h0M92.9 235.1h0M82.3 230.1h0M120.5 227.4h0M92.7 227.0h0M126.7 228.2h0M133.5 229.8h0M135.7 227.3h0M83.2 229.0h0M100.8 230.6h0M110.9 233.6h0M88.0 226.3h0M109.4 235.0h0M133.9 217.2h0M84.2 234.3h0M113.0 229.4h0M84.6 241.0h0M113.8 228.6h0M79.7 234.1h0M90.3 231.1h0M130.2 237.3h0M87.1 236.9h0M84.0 230.6h0M90.9 231.5h0M126.5 230.6h0M111.2 227.0h0M87.3 224.7h0M82.3 231.6h0M118.1 220.9h0M132.2 229.1h0M120.6 229.4h0M100.2 235.2h0M98.3 231.2h0M135.0 232.8h0M111.9 229.0h0M129.8 228.8h0M131.7 230.2h0M111.1 228.2h0M89.9 236.3h0M114.4 237.0h0M132.2 233.0h0M101.3 228.3h0M93.9 231.2h0M117.2 227.9h0M114.2 235.0h0" stroke="#444" stroke-width="1.5" stroke-linecap="round" fill="none" opacity="0.9"/>
<path d="M108.5 233.2h0M88.3 234.7h0M123.3 237.9h0M102.6 230.0h0M93.4 226.4h0M93.8 225.0h0M86.0 232.3h0M131.6 231.0h0M112.3 240.1h0M91.5 232.0h0M87.7 229.8h0M125.4 227.5h0M112.7 230.7h0M87.9 230.3h0M106.8 233.7h0M88.3 228.6h0M129.0 227.8h0M79.7 230.7h0M94.7 230.2h0M114.3 233.8h0M86.3 236.0h0M106.6 234.7h0M98.6 232.6h0M80.7 235.2h0M112.0 232.5h0M133.5 232.4h0M128.3 228.3h0M82.4 234.6h0M121.1 230.3h0M92.7 238.1h0M132.0 224.4h0M92.1 231.0h0M97.1 237.8h0M87.7 230.4h0M97.5 226.2h0M115.3 236.3h0M95.4 233.7h0M123.2 226.1h0M86.0 227.4h0M83.6 230.2h0M80.5 228.3h0M101.8 230.4h0M96.5 228.3h0M80.3 231.6h0M118.0 233.5h0M123.2 228.4h0M109.3 226.0h0M94.2 230.9h0M81.2 234.6h0M87.7 228.0h0M122.6 234.5h0M110.0 234.1h0M97.0 234.0h0M86.9 228.3h0M124.2 234.7h0M97.2 246.3h0M110.9 227.0h0M82.2 232.8h0M112.0 226.1h0M126.5 236.5h0M103.6 226.7h0M132.9 231.7h0M118.6 231.5h0M138.9 228.3h0M119.1 231.9h0M88.3 231.8h0M83.7 236.3h0M95.5 236.4h0M120.2 228.9h0M102.3 226.2h0M94.9 232.6h0M80.4 229.1h0M98.6 234.1h0M113.6 229.6h0M96.2 234.2h0M96.2 232.6h0M97.6 227.2h0M122.4 226.3h0M127.7 233.5h0M113.4 226.3h0M91.5 225.0h0M91.7 225.3h0M93.7 234.0h0M94.5 227.4h0M104.6 233.6h0M90.0 234.6h0M97.5 228.0h0M110.9 228.8h0M105.6 233.5h0M83.7 228.0h0M129.6 221.9h0M120.3 232.1h0M91.1 229.2h0M81.3 233.3h0M87.9 229.9h0M120.8 230.1h0M97.2 226.2h0M102.6 235.3h0M80.3 233.3h0M135.9 232.1h0M81.5 235.4h0M84.1 230.5h0M91.8 231.0h0M96.6 231.0h0M130.5 237.6h0M129.5 234.0h0M135.1 226.9h0M102.7 230.4h0M80.4 229.5h0M79.6 234.8h0M123.1 232.1h0M108.9 228.5h0M82.3 231.9h0M83.4 230.5h0M79.7 235.4h0M107.7 233.5h0M132.7 234.5h0M83.1 231.9h0M92.0 234.2h0M137.2 238.1h0M105.5 230.7h0M101.9 235.6h0M87.2 231.0h0M92.0 239.0h0M96.4 236.8h0M108.6 235.8h0M132.2 231.8h0M108.9 232.1h0M95.9 228.8h0M109.3 234.0h0M97.3 232.4h0M93.3 238.1h0M123.2 220.5h0M89.3 230.7h0M93.5 233.1h0M95.7 232.1h0M86.8 229.1h0M120.1 233.4h0M127.7 236.0h0M97.8 223.0h0M87.1 233.2h0M101.7 234.5h0M81.1 230.4h0M121.0 239.4h0M106.4 230.8h0M129.2 232.6h0M89.2 231.8h0M107.3 228.7h0M90.5 234.1h0M106.7 230.5h0M117.8 227.1h0M99.5 229.0h0M119.6 233.6h0M129.4 235.1h0M120.1 230.7h0M87.4 234.4h0M96.2 240.2h0M103.6 230.8h0M93.1 227.2h0M84.7 231.9h0M110.1 233.7h0M126.8 228.2h0M129.6 235.5h0M103.1 230.2h0M86.2 237.4h0M96.4 233.6h0M86.8 228.7h0M107.4 230.8h0M93.7 232.3h0M123.2 228.3h0M98.5 236.3h0M131.4 229.9h0M93.0 234.9h0M105.1 230.7h0M94.9 235.9h0M101.3 231.8h0M84.5 231.1h0M83.6 233.2h0M132.9 232.1h0M138.2 233.6h0M79.6 222.5h0M86.4 229.0h0M98.5 229.2h0M83.1 232.4h0M134.1 234.0h0M125.1 230.0h0M94.6 232.0h0M98.8 233.1h0M87.6 233.0h0M103.8 224.1h0M100.6 235.8h0M88.6 231.0h0M118.5 234.3h0M95.9 232.0h0M94.7 227.6h0M86.6 236.0h0M82.3 231.8h0M102.3 228.9h0M82.2 234.7h0M96.5 235.6h0M81.6 234.9h0M120.2 227.7h0M112.1 233.2h0M94.3 235.0h0M90.2 229.1h0M103.9 229.5h0M134.7 221.6h0M93.6 229.4h0M81.2 235.9h0M81.5 237.3h0M87.0 231.2h0M86.4 231.9h0M112.8 228.0h0M107.2 233.4h0M98.0 229.9h0M96.6 236.3h0M84.6 234.9h0M104.7 233.8h0M134.7 229.5h0M114.2 227.1h0M102.1 230.3h0M84.3 229.6h0M131.7 232.2h0M136.5 231.8h0M96.2 232.4h0M87.6 235.3h0M97.7 231.0h0M98.8 236.0h0M95.2 233.4h0M106.1 230.6h0M128.3 230.8h0M82.5 233.5h0M90.7 233.3h0M82.5 232.1h0M110.3 224.9h0M96.7 229.3h0M91.1 229.3h0M111.6 227.7h0M106.6 234.1h0M81.5 237.1h0M137.1 229.1h0M99.0 232.3h0M94.3 231.8h0M79.9 234.4h0M83.6 235.4h0M106.8 227.8h0M81.8 237.1h0M137.8 233.1h0M117.1 234.7h0M113.3 227.6h0M116.8 234.2h0M104.4 233.3h0M105.1 233.8h0M84.3 233.7h0M111.6 226.3h0M84.2 236.4h0M123.3 234.8h0M99.5 230.2h0M93.7 233.0h0M120.7 233.8h0M103.9 229.6h0M119.7 231.7h0M93.0 232.2h0M129.4 231.1h0M98.2 229.5h0M106.6 230.4h0M116.2 236.5h0M103.1 229.8h0M135.8 229.6h0M85.6 228.8h0M120.7 228.9h0M111.2 230.4h0M121.0 220.8h0M108.7 233.6h0M129.7 225.1h0M100.3 236.6h0M83.5 229.2h0M129.6 231.4h0M124.9 230.9h0M101.4 232.8h0M112.1 233.0h0M121.9 236.2h0M102.0 226.6h0M117.6 236.3h0M123.7 230.9h0M113.3 229.8h0M133.9 230.9h0M126.0 222.1h0M130.5 235.8h0M80.7 228.5h0M80.4 225.3h0M94.1 228.7h0M117.0 239.9h0M111.4 227.5h0M108.3 234.1h0M120.2 224.3h0M101.0 228.5h0M84.5 227.8h0M137.9 230.6h0M84.9 234.5h0M123.9 229.7h0M130.5 238.2h0M97.0 238.1h0M128.1 230.1h0M81.0 235.5h0M93.6 233.3h0M105.8 229.0h0M129.3 229.6h0M129.7 228.4h0M95.9 237.2h0M100.6 236.4h0M127.6 234.6h0M97.6 235.2h0M86.7 229.0h0M123.6 232.3h0M120.4 228.3h0M96.0 227.9h0M82.9 228.3h0" stroke="#b52020" stroke-width="1.5" stroke-linecap="round" fill="none" opacity="0.9"/>
<path d="M156.5 222.3v4.8M156.5 220.9v4.8M139.2 221.5v4.8M144.7 213.8v4.8M147.8 226.2v4.8M145.7 219.0v4.8M149.1 221.8v4.8M149.4 220.5v4.8M147.8 215.2v4.8M139.3 220.8v4.8M161.5 214.4v4.8M163.9 218.5v4.8M155.0 221.4v4.8M146.1 222.8v4.8M150.7 223.1v4.8M162.7 222.2v4.8M154.6 232.7v4.8M157.1 224.9v4.8M157.2 217.2v4.8M164.5 220.0v4.8M156.0 219.8v4.8M141.8 222.0v4.8M152.1 220.1v4.8M163.0 218.9v4.8M142.4 230.4v4.8M140.3 223.1v4.8M140.3 221.3v4.8M140.8 221.7v4.8M143.3 221.9v4.8M159.0 229.3v4.8M154.6 225.1v4.8M158.0 228.0v4.8" stroke="#f0b0b0" stroke-width="0.5" fill="none"/>
<path d="M156.5 224.7h0M156.5 223.3h0M139.2 223.9h0M144.7 216.2h0M147.8 228.6h0M145.7 221.4h0M149.1 224.2h0M149.4 222.9h0M147.8 217.6h0M139.3 223.2h0M161.5 216.8h0M163.9 220.9h0M155.0 223.8h0M146.1 225.2h0M150.7 225.5h0M162.7 224.6h0M154.6 235.1h0M157.1 227.3h0M157.2 219.6h0M164.5 222.4h0M156.0 222.2h0M141.8 224.4h0M152.1 222.5h0M163.0 221.3h0M142.4 232.8h0M140.3 225.5h0M140.3 223.7h0M140.8 224.1h0M143.3 224.3h0M159.0 231.7h0M154.6 227.5h0M158.0 230.4h0" stroke="#d02828" stroke-width="1.5" stroke-linecap="round" fill="none" />
<path d="M160.8 232.1v4.8M145.4 242.1v4.8M143.0 238.9v4.8M154.5 240.5v4.8M159.0 237.7v4.8M141.8 237.1v4.8M157.8 238.0v4.8M151.5 230.5v4.8M158.8 240.9v4.8M159.8 240.6v4.8M147.8 235.9v4.8M159.6 237.3v4.8M142.1 238.4v4.8M148.2 243.0v4.8M148.2 238.9v4.8M143.6 237.5v4.8M149.1 235.5v4.8M155.3 231.9v4.8" stroke="#c0c0f0" stroke-width="0.5" fill="none"/>
<path d="M160.8 234.5h0M145.4 244.5h0M143.0 241.3h0M154.5 242.9h0M159.0 240.1h0M141.8 239.5h0M157.8 240.4h0M151.5 232.9h0M158.8 243.3h0M159.8 243.0h0M147.8 238.3h0M159.6 239.7h0M142.1 240.8h0M148.2 245.4h0M148.2 241.3h0M143.6 239.9h0M149.1 237.9h0M155.3 234.3h0" stroke="#2424c8" stroke-width="1.5" stroke-linecap="round" fill="none" />
<path d="M152.7 232.8v4.8M161.3 232.5v4.8M155.1 232.3v4.8M154.4 236.5v4.8M159.8 235.7v4.8M155.0 233.0v4.8M158.0 224.8v4.8M162.2 230.1v4.8M148.3 232.4v4.8M157.5 240.2v4.8M145.8 233.7v4.8M150.6 231.5v4.8M160.7 237.4v4.8M163.3 231.4v4.8M162.6 231.8v4.8M157.7 232.7v4.8M160.1 225.1v4.8M161.0 236.4v4.8M153.9 233.9v4.8M144.3 230.6v4.8" stroke="#b0dcb8" stroke-width="0.5" fill="none"/>
<path d="M152.7 235.2h0M161.3 234.9h0M155.1 234.7h0M154.4 238.9h0M159.8 238.1h0M155.0 235.4h0M158.0 227.2h0M162.2 232.5h0M148.3 234.8h0M157.5 242.6h0M145.8 236.1h0M150.6 233.9h0M160.7 239.8h0M163.3 233.8h0M162.6 234.2h0M157.7 235.1h0M160.1 227.5h0M161.0 238.8h0M153.9 236.3h0M144.3 233.0h0" stroke="#22a045" stroke-width="1.5" stroke-linecap="round" fill="none" />
<path d="M38.0 227.1v9" stroke="#b4b4b4" stroke-width="0.6"/><rect x="37.0" y="230.6" width="2.0" height="2.0" transform="rotate(45 38.0 231.6)" fill="#e4e4e4" stroke="#222" stroke-width="0.65"/><path d="M41.6 224.5v9" stroke="#b4b4b4" stroke-width="0.6"/><rect x="40.6" y="228.0" width="2.0" height="2.0" transform="rotate(45 41.6 229.0)" fill="#e4e4e4" stroke="#222" stroke-width="0.65"/><path d="M43.3 223.0v9" stroke="#b4b4b4" stroke-width="0.6"/><rect x="42.3" y="226.5" width="2.0" height="2.0" transform="rotate(45 43.3 227.5)" fill="#e4e4e4" stroke="#222" stroke-width="0.65"/><path d="M45.3 226.5v9" stroke="#b4b4b4" stroke-width="0.6"/><rect x="44.3" y="230.0" width="2.0" height="2.0" transform="rotate(45 45.3 231.0)" fill="#e4e4e4" stroke="#222" stroke-width="0.65"/><path d="M47.3 223.5v9" stroke="#b4b4b4" stroke-width="0.6"/><rect x="46.3" y="227.0" width="2.0" height="2.0" transform="rotate(45 47.3 228.0)" fill="#e4e4e4" stroke="#222" stroke-width="0.65"/><path d="M49.3 227.5v9" stroke="#b4b4b4" stroke-width="0.6"/><rect x="48.3" y="231.0" width="2.0" height="2.0" transform="rotate(45 49.3 232.0)" fill="#e4e4e4" stroke="#222" stroke-width="0.65"/><path d="M51.3 224.5v9" stroke="#b4b4b4" stroke-width="0.6"/><rect x="50.3" y="228.0" width="2.0" height="2.0" transform="rotate(45 51.3 229.0)" fill="#e4e4e4" stroke="#222" stroke-width="0.65"/><path d="M58.3 223.5v9" stroke="#b4b4b4" stroke-width="0.6"/><rect x="57.3" y="227.0" width="2.0" height="2.0" transform="rotate(45 58.3 228.0)" fill="#e4e4e4" stroke="#222" stroke-width="0.65"/><path d="M65.9 227.1v9" stroke="#b4b4b4" stroke-width="0.6"/><rect x="64.9" y="230.6" width="2.0" height="2.0" transform="rotate(45 65.9 231.6)" fill="#e4e4e4" stroke="#222" stroke-width="0.65"/><path d="M73.3 227.5v9" stroke="#b4b4b4" stroke-width="0.6"/><rect x="72.3" y="231.0" width="2.0" height="2.0" transform="rotate(45 73.3 232.0)" fill="#e4e4e4" stroke="#222" stroke-width="0.65"/><path d="M81.0 227.1v9" stroke="#b4b4b4" stroke-width="0.6"/><rect x="80.0" y="230.6" width="2.0" height="2.0" transform="rotate(45 81.0 231.6)" fill="#e4e4e4" stroke="#222" stroke-width="0.65"/><path d="M88.0 224.5v9" stroke="#b4b4b4" stroke-width="0.6"/><rect x="87.0" y="228.0" width="2.0" height="2.0" transform="rotate(45 88.0 229.0)" fill="#e4e4e4" stroke="#222" stroke-width="0.65"/><path d="M93.0 231.5v9" stroke="#b4b4b4" stroke-width="0.6"/><rect x="92.0" y="235.0" width="2.0" height="2.0" transform="rotate(45 93.0 236.0)" fill="#e4e4e4" stroke="#222" stroke-width="0.65"/><path d="M97.0 239.0v9" stroke="#b4b4b4" stroke-width="0.6"/><rect x="96.0" y="242.5" width="2.0" height="2.0" transform="rotate(45 97.0 243.5)" fill="#e4e4e4" stroke="#222" stroke-width="0.65"/><path d="M100.0 225.5v9" stroke="#b4b4b4" stroke-width="0.6"/><rect x="99.0" y="229.0" width="2.0" height="2.0" transform="rotate(45 100.0 230.0)" fill="#e4e4e4" stroke="#222" stroke-width="0.65"/><path d="M106.0 228.5v9" stroke="#b4b4b4" stroke-width="0.6"/><rect x="105.0" y="232.0" width="2.0" height="2.0" transform="rotate(45 106.0 233.0)" fill="#e4e4e4" stroke="#222" stroke-width="0.65"/><path d="M110.0 220.5v9" stroke="#b4b4b4" stroke-width="0.6"/><rect x="109.0" y="224.0" width="2.0" height="2.0" transform="rotate(45 110.0 225.0)" fill="#e4e4e4" stroke="#222" stroke-width="0.65"/><path d="M113.0 230.5v9" stroke="#b4b4b4" stroke-width="0.6"/><rect x="112.0" y="234.0" width="2.0" height="2.0" transform="rotate(45 113.0 235.0)" fill="#e4e4e4" stroke="#222" stroke-width="0.65"/><path d="M117.0 229.5v9" stroke="#b4b4b4" stroke-width="0.6"/><rect x="116.0" y="233.0" width="2.0" height="2.0" transform="rotate(45 117.0 234.0)" fill="#e4e4e4" stroke="#222" stroke-width="0.65"/><path d="M121.0 224.5v9" stroke="#b4b4b4" stroke-width="0.6"/><rect x="120.0" y="228.0" width="2.0" height="2.0" transform="rotate(45 121.0 229.0)" fill="#e4e4e4" stroke="#222" stroke-width="0.65"/><path d="M124.0 231.5v9" stroke="#b4b4b4" stroke-width="0.6"/><rect x="123.0" y="235.0" width="2.0" height="2.0" transform="rotate(45 124.0 236.0)" fill="#e4e4e4" stroke="#222" stroke-width="0.65"/><path d="M128.0 223.5v9" stroke="#b4b4b4" stroke-width="0.6"/><rect x="127.0" y="227.0" width="2.0" height="2.0" transform="rotate(45 128.0 228.0)" fill="#e4e4e4" stroke="#222" stroke-width="0.65"/><path d="M131.0 221.5v9" stroke="#b4b4b4" stroke-width="0.6"/><rect x="130.0" y="225.0" width="2.0" height="2.0" transform="rotate(45 131.0 226.0)" fill="#e4e4e4" stroke="#222" stroke-width="0.65"/><path d="M133.0 227.5v9" stroke="#b4b4b4" stroke-width="0.6"/><rect x="132.0" y="231.0" width="2.0" height="2.0" transform="rotate(45 133.0 232.0)" fill="#e4e4e4" stroke="#222" stroke-width="0.65"/><path d="M135.0 229.5v9" stroke="#b4b4b4" stroke-width="0.6"/><rect x="134.0" y="233.0" width="2.0" height="2.0" transform="rotate(45 135.0 234.0)" fill="#e4e4e4" stroke="#222" stroke-width="0.65"/><path d="M137.0 233.5v9" stroke="#b4b4b4" stroke-width="0.6"/><rect x="136.0" y="237.0" width="2.0" height="2.0" transform="rotate(45 137.0 238.0)" fill="#e4e4e4" stroke="#222" stroke-width="0.65"/></g></g>
<rect x="31.8" y="0.4" width="248.39999999999998" height="199.9" fill="none" stroke="#7a7a7a" stroke-width="0.85"/>
<rect x="31.8" y="206.8" width="248.39999999999998" height="49.69999999999999" fill="none" stroke="#7a7a7a" stroke-width="0.85"/>
<g stroke="#666" stroke-width="0.45"><line x1="36.19" y1="200.30" x2="36.19" y2="199.00"/><line x1="36.19" y1="0.40" x2="36.19" y2="1.70"/><line x1="36.19" y1="256.50" x2="36.19" y2="255.20"/><line x1="36.19" y1="206.80" x2="36.19" y2="208.10"/><line x1="42.93" y1="200.30" x2="42.93" y2="199.00"/><line x1="42.93" y1="0.40" x2="42.93" y2="1.70"/><line x1="42.93" y1="256.50" x2="42.93" y2="255.20"/><line x1="42.93" y1="206.80" x2="42.93" y2="208.10"/><line x1="48.16" y1="200.30" x2="48.16" y2="199.00"/><line x1="48.16" y1="0.40" x2="48.16" y2="1.70"/><line x1="48.16" y1="256.50" x2="48.16" y2="255.20"/><line x1="48.16" y1="206.80" x2="48.16" y2="208.10"/><line x1="52.43" y1="200.30" x2="52.43" y2="199.00"/><line x1="52.43" y1="0.40" x2="52.43" y2="1.70"/><line x1="52.43" y1="256.50" x2="52.43" y2="255.20"/><line x1="52.43" y1="206.80" x2="52.43" y2="208.10"/><line x1="56.04" y1="200.30" x2="56.04" y2="199.00"/><line x1="56.04" y1="0.40" x2="56.04" y2="1.70"/><line x1="56.04" y1="256.50" x2="56.04" y2="255.20"/><line x1="56.04" y1="206.80" x2="56.04" y2="208.10"/><line x1="59.17" y1="200.30" x2="59.17" y2="199.00"/><line x1="59.17" y1="0.40" x2="59.17" y2="1.70"/><line x1="59.17" y1="256.50" x2="59.17" y2="255.20"/><line x1="59.17" y1="206.80" x2="59.17" y2="208.10"/><line x1="61.93" y1="200.30" x2="61.93" y2="199.00"/><line x1="61.93" y1="0.40" x2="61.93" y2="1.70"/><line x1="61.93" y1="256.50" x2="61.93" y2="255.20"/><line x1="61.93" y1="206.80" x2="61.93" y2="208.10"/><line x1="64.40" y1="200.30" x2="64.40" y2="197.90"/><line x1="64.40" y1="0.40" x2="64.40" y2="2.80"/><line x1="64.40" y1="256.50" x2="64.40" y2="254.10"/><line x1="64.40" y1="206.80" x2="64.40" y2="209.20"/><line x1="80.64" y1="200.30" x2="80.64" y2="199.00"/><line x1="80.64" y1="0.40" x2="80.64" y2="1.70"/><line x1="80.64" y1="256.50" x2="80.64" y2="255.20"/><line x1="80.64" y1="206.80" x2="80.64" y2="208.10"/><line x1="90.14" y1="200.30" x2="90.14" y2="199.00"/><line x1="90.14" y1="0.40" x2="90.14" y2="1.70"/><line x1="90.14" y1="256.50" x2="90.14" y2="255.20"/><line x1="90.14" y1="206.80" x2="90.14" y2="208.10"/><line x1="96.88" y1="200.30" x2="96.88" y2="199.00"/><line x1="96.88" y1="0.40" x2="96.88" y2="1.70"/><line x1="96.88" y1="256.50" x2="96.88" y2="255.20"/><line x1="96.88" y1="206.80" x2="96.88" y2="208.10"/><line x1="102.11" y1="200.30" x2="102.11" y2="199.00"/><line x1="102.11" y1="0.40" x2="102.11" y2="1.70"/><line x1="102.11" y1="256.50" x2="102.11" y2="255.20"/><line x1="102.11" y1="206.80" x2="102.11" y2="208.10"/><line x1="106.38" y1="200.30" x2="106.38" y2="199.00"/><line x1="106.38" y1="0.40" x2="106.38" y2="1.70"/><line x1="106.38" y1="256.50" x2="106.38" y2="255.20"/><line x1="106.38" y1="206.80" x2="106.38" y2="208.10"/><line x1="109.99" y1="200.30" x2="109.99" y2="199.00"/><line x1="109.99" y1="0.40" x2="109.99" y2="1.70"/><line x1="109.99" y1="256.50" x2="109.99" y2="255.20"/><line x1="109.99" y1="206.80" x2="109.99" y2="208.10"/><line x1="113.12" y1="200.30" x2="113.12" y2="199.00"/><line x1="113.12" y1="0.40" x2="113.12" y2="1.70"/><line x1="113.12" y1="256.50" x2="113.12" y2="255.20"/><line x1="113.12" y1="206.80" x2="113.12" y2="208.10"/><line x1="115.88" y1="200.30" x2="115.88" y2="199.00"/><line x1="115.88" y1="0.40" x2="115.88" y2="1.70"/><line x1="115.88" y1="256.50" x2="115.88" y2="255.20"/><line x1="115.88" y1="206.80" x2="115.88" y2="208.10"/><line x1="118.35" y1="200.30" x2="118.35" y2="197.90"/><line x1="118.35" y1="0.40" x2="118.35" y2="2.80"/><line x1="118.35" y1="256.50" x2="118.35" y2="254.10"/><line x1="118.35" y1="206.80" x2="118.35" y2="209.20"/><line x1="134.59" y1="200.30" x2="134.59" y2="199.00"/><line x1="134.59" y1="0.40" x2="134.59" y2="1.70"/><line x1="134.59" y1="256.50" x2="134.59" y2="255.20"/><line x1="134.59" y1="206.80" x2="134.59" y2="208.10"/><line x1="144.09" y1="200.30" x2="144.09" y2="199.00"/><line x1="144.09" y1="0.40" x2="144.09" y2="1.70"/><line x1="144.09" y1="256.50" x2="144.09" y2="255.20"/><line x1="144.09" y1="206.80" x2="144.09" y2="208.10"/><line x1="150.83" y1="200.30" x2="150.83" y2="199.00"/><line x1="150.83" y1="0.40" x2="150.83" y2="1.70"/><line x1="150.83" y1="256.50" x2="150.83" y2="255.20"/><line x1="150.83" y1="206.80" x2="150.83" y2="208.10"/><line x1="156.06" y1="200.30" x2="156.06" y2="199.00"/><line x1="156.06" y1="0.40" x2="156.06" y2="1.70"/><line x1="156.06" y1="256.50" x2="156.06" y2="255.20"/><line x1="156.06" y1="206.80" x2="156.06" y2="208.10"/><line x1="160.33" y1="200.30" x2="160.33" y2="199.00"/><line x1="160.33" y1="0.40" x2="160.33" y2="1.70"/><line x1="160.33" y1="256.50" x2="160.33" y2="255.20"/><line x1="160.33" y1="206.80" x2="160.33" y2="208.10"/><line x1="163.94" y1="200.30" x2="163.94" y2="199.00"/><line x1="163.94" y1="0.40" x2="163.94" y2="1.70"/><line x1="163.94" y1="256.50" x2="163.94" y2="255.20"/><line x1="163.94" y1="206.80" x2="163.94" y2="208.10"/><line x1="167.07" y1="200.30" x2="167.07" y2="199.00"/><line x1="167.07" y1="0.40" x2="167.07" y2="1.70"/><line x1="167.07" y1="256.50" x2="167.07" y2="255.20"/><line x1="167.07" y1="206.80" x2="167.07" y2="208.10"/><line x1="169.83" y1="200.30" x2="169.83" y2="199.00"/><line x1="169.83" y1="0.40" x2="169.83" y2="1.70"/><line x1="169.83" y1="256.50" x2="169.83" y2="255.20"/><line x1="169.83" y1="206.80" x2="169.83" y2="208.10"/><line x1="172.30" y1="200.30" x2="172.30" y2="197.90"/><line x1="172.30" y1="0.40" x2="172.30" y2="2.80"/><line x1="172.30" y1="256.50" x2="172.30" y2="254.10"/><line x1="172.30" y1="206.80" x2="172.30" y2="209.20"/><line x1="188.54" y1="200.30" x2="188.54" y2="199.00"/><line x1="188.54" y1="0.40" x2="188.54" y2="1.70"/><line x1="188.54" y1="256.50" x2="188.54" y2="255.20"/><line x1="188.54" y1="206.80" x2="188.54" y2="208.10"/><line x1="198.04" y1="200.30" x2="198.04" y2="199.00"/><line x1="198.04" y1="0.40" x2="198.04" y2="1.70"/><line x1="198.04" y1="256.50" x2="198.04" y2="255.20"/><line x1="198.04" y1="206.80" x2="198.04" y2="208.10"/><line x1="204.78" y1="200.30" x2="204.78" y2="199.00"/><line x1="204.78" y1="0.40" x2="204.78" y2="1.70"/><line x1="204.78" y1="256.50" x2="204.78" y2="255.20"/><line x1="204.78" y1="206.80" x2="204.78" y2="208.10"/><line x1="210.01" y1="200.30" x2="210.01" y2="199.00"/><line x1="210.01" y1="0.40" x2="210.01" y2="1.70"/><line x1="210.01" y1="256.50" x2="210.01" y2="255.20"/><line x1="210.01" y1="206.80" x2="210.01" y2="208.10"/><line x1="214.28" y1="200.30" x2="214.28" y2="199.00"/><line x1="214.28" y1="0.40" x2="214.28" y2="1.70"/><line x1="214.28" y1="256.50" x2="214.28" y2="255.20"/><line x1="214.28" y1="206.80" x2="214.28" y2="208.10"/><line x1="217.89" y1="200.30" x2="217.89" y2="199.00"/><line x1="217.89" y1="0.40" x2="217.89" y2="1.70"/><line x1="217.89" y1="256.50" x2="217.89" y2="255.20"/><line x1="217.89" y1="206.80" x2="217.89" y2="208.10"/><line x1="221.02" y1="200.30" x2="221.02" y2="199.00"/><line x1="221.02" y1="0.40" x2="221.02" y2="1.70"/><line x1="221.02" y1="256.50" x2="221.02" y2="255.20"/><line x1="221.02" y1="206.80" x2="221.02" y2="208.10"/><line x1="223.78" y1="200.30" x2="223.78" y2="199.00"/><line x1="223.78" y1="0.40" x2="223.78" y2="1.70"/><line x1="223.78" y1="256.50" x2="223.78" y2="255.20"/><line x1="223.78" y1="206.80" x2="223.78" y2="208.10"/><line x1="226.25" y1="200.30" x2="226.25" y2="197.90"/><line x1="226.25" y1="0.40" x2="226.25" y2="2.80"/><line x1="226.25" y1="256.50" x2="226.25" y2="254.10"/><line x1="226.25" y1="206.80" x2="226.25" y2="209.20"/><line x1="242.49" y1="200.30" x2="242.49" y2="199.00"/><line x1="242.49" y1="0.40" x2="242.49" y2="1.70"/><line x1="242.49" y1="256.50" x2="242.49" y2="255.20"/><line x1="242.49" y1="206.80" x2="242.49" y2="208.10"/><line x1="251.99" y1="200.30" x2="251.99" y2="199.00"/><line x1="251.99" y1="0.40" x2="251.99" y2="1.70"/><line x1="251.99" y1="256.50" x2="251.99" y2="255.20"/><line x1="251.99" y1="206.80" x2="251.99" y2="208.10"/><line x1="258.73" y1="200.30" x2="258.73" y2="199.00"/><line x1="258.73" y1="0.40" x2="258.73" y2="1.70"/><line x1="258.73" y1="256.50" x2="258.73" y2="255.20"/><line x1="258.73" y1="206.80" x2="258.73" y2="208.10"/><line x1="263.96" y1="200.30" x2="263.96" y2="199.00"/><line x1="263.96" y1="0.40" x2="263.96" y2="1.70"/><line x1="263.96" y1="256.50" x2="263.96" y2="255.20"/><line x1="263.96" y1="206.80" x2="263.96" y2="208.10"/><line x1="268.23" y1="200.30" x2="268.23" y2="199.00"/><line x1="268.23" y1="0.40" x2="268.23" y2="1.70"/><line x1="268.23" y1="256.50" x2="268.23" y2="255.20"/><line x1="268.23" y1="206.80" x2="268.23" y2="208.10"/><line x1="271.84" y1="200.30" x2="271.84" y2="199.00"/><line x1="271.84" y1="0.40" x2="271.84" y2="1.70"/><line x1="271.84" y1="256.50" x2="271.84" y2="255.20"/><line x1="271.84" y1="206.80" x2="271.84" y2="208.10"/><line x1="274.97" y1="200.30" x2="274.97" y2="199.00"/><line x1="274.97" y1="0.40" x2="274.97" y2="1.70"/><line x1="274.97" y1="256.50" x2="274.97" y2="255.20"/><line x1="274.97" y1="206.80" x2="274.97" y2="208.10"/><line x1="277.73" y1="200.30" x2="277.73" y2="199.00"/><line x1="277.73" y1="0.40" x2="277.73" y2="1.70"/><line x1="277.73" y1="256.50" x2="277.73" y2="255.20"/><line x1="277.73" y1="206.80" x2="277.73" y2="208.10"/><line x1="280.20" y1="200.30" x2="280.20" y2="197.90"/><line x1="280.20" y1="0.40" x2="280.20" y2="2.80"/><line x1="280.20" y1="256.50" x2="280.20" y2="254.10"/><line x1="280.20" y1="206.80" x2="280.20" y2="209.20"/><line x1="31.80" y1="200.30" x2="34.20" y2="200.30"/><line x1="31.80" y1="189.70" x2="33.10" y2="189.70"/><line x1="31.80" y1="183.50" x2="33.10" y2="183.50"/><line x1="31.80" y1="179.10" x2="33.10" y2="179.10"/><line x1="31.80" y1="175.68" x2="33.10" y2="175.68"/><line x1="31.80" y1="172.89" x2="33.10" y2="172.89"/><line x1="31.80" y1="170.54" x2="33.10" y2="170.54"/><line x1="31.80" y1="168.49" x2="33.10" y2="168.49"/><line x1="31.80" y1="166.69" x2="33.10" y2="166.69"/><line x1="31.80" y1="165.08" x2="34.20" y2="165.08"/><line x1="31.80" y1="154.48" x2="33.10" y2="154.48"/><line x1="31.80" y1="148.28" x2="33.10" y2="148.28"/><line x1="31.80" y1="143.88" x2="33.10" y2="143.88"/><line x1="31.80" y1="140.46" x2="33.10" y2="140.46"/><line x1="31.80" y1="137.67" x2="33.10" y2="137.67"/><line x1="31.80" y1="135.32" x2="33.10" y2="135.32"/><line x1="31.80" y1="133.27" x2="33.10" y2="133.27"/><line x1="31.80" y1="131.47" x2="33.10" y2="131.47"/><line x1="31.80" y1="129.86" x2="34.20" y2="129.86"/><line x1="31.80" y1="119.26" x2="33.10" y2="119.26"/><line x1="31.80" y1="113.06" x2="33.10" y2="113.06"/><line x1="31.80" y1="108.66" x2="33.10" y2="108.66"/><line x1="31.80" y1="105.24" x2="33.10" y2="105.24"/><line x1="31.80" y1="102.45" x2="33.10" y2="102.45"/><line x1="31.80" y1="100.10" x2="33.10" y2="100.10"/><line x1="31.80" y1="98.05" x2="33.10" y2="98.05"/><line x1="31.80" y1="96.25" x2="33.10" y2="96.25"/><line x1="31.80" y1="94.64" x2="34.20" y2="94.64"/><line x1="31.80" y1="84.04" x2="33.10" y2="84.04"/><line x1="31.80" y1="77.84" x2="33.10" y2="77.84"/><line x1="31.80" y1="73.44" x2="33.10" y2="73.44"/><line x1="31.80" y1="70.02" x2="33.10" y2="70.02"/><line x1="31.80" y1="67.23" x2="33.10" y2="67.23"/><line x1="31.80" y1="64.88" x2="33.10" y2="64.88"/><line x1="31.80" y1="62.83" x2="33.10" y2="62.83"/><line x1="31.80" y1="61.03" x2="33.10" y2="61.03"/><line x1="31.80" y1="59.42" x2="34.20" y2="59.42"/><line x1="31.80" y1="48.82" x2="33.10" y2="48.82"/><line x1="31.80" y1="42.62" x2="33.10" y2="42.62"/><line x1="31.80" y1="38.22" x2="33.10" y2="38.22"/><line x1="31.80" y1="34.80" x2="33.10" y2="34.80"/><line x1="31.80" y1="32.01" x2="33.10" y2="32.01"/><line x1="31.80" y1="29.66" x2="33.10" y2="29.66"/><line x1="31.80" y1="27.61" x2="33.10" y2="27.61"/><line x1="31.80" y1="25.81" x2="33.10" y2="25.81"/><line x1="31.80" y1="24.20" x2="34.20" y2="24.20"/><line x1="31.80" y1="13.60" x2="33.10" y2="13.60"/><line x1="31.80" y1="7.40" x2="33.10" y2="7.40"/><line x1="31.80" y1="3.00" x2="33.10" y2="3.00"/><line x1="280.20" y1="11.10" x2="277.80" y2="11.10"/><line x1="280.20" y1="28.13" x2="278.90" y2="28.13"/><line x1="280.20" y1="45.16" x2="277.80" y2="45.16"/><line x1="280.20" y1="62.19" x2="278.90" y2="62.19"/><line x1="280.20" y1="79.22" x2="277.80" y2="79.22"/><line x1="280.20" y1="96.25" x2="278.90" y2="96.25"/><line x1="280.20" y1="113.28" x2="277.80" y2="113.28"/><line x1="280.20" y1="130.31" x2="278.90" y2="130.31"/><line x1="280.20" y1="147.34" x2="277.80" y2="147.34"/><line x1="280.20" y1="164.37" x2="278.90" y2="164.37"/><line x1="280.20" y1="181.40" x2="277.80" y2="181.40"/><line x1="31.80" y1="256.20" x2="34.20" y2="256.20"/><line x1="280.20" y1="256.20" x2="277.80" y2="256.20"/><line x1="31.80" y1="252.10" x2="33.10" y2="252.10"/><line x1="280.20" y1="252.10" x2="278.90" y2="252.10"/><line x1="31.80" y1="248.00" x2="34.20" y2="248.00"/><line x1="280.20" y1="248.00" x2="277.80" y2="248.00"/><line x1="31.80" y1="243.90" x2="33.10" y2="243.90"/><line x1="280.20" y1="243.90" x2="278.90" y2="243.90"/><line x1="31.80" y1="239.80" x2="34.20" y2="239.80"/><line x1="280.20" y1="239.80" x2="277.80" y2="239.80"/><line x1="31.80" y1="235.70" x2="33.10" y2="235.70"/><line x1="280.20" y1="235.70" x2="278.90" y2="235.70"/><line x1="31.80" y1="231.60" x2="34.20" y2="231.60"/><line x1="280.20" y1="231.60" x2="277.80" y2="231.60"/><line x1="31.80" y1="227.50" x2="33.10" y2="227.50"/><line x1="280.20" y1="227.50" x2="278.90" y2="227.50"/><line x1="31.80" y1="223.40" x2="34.20" y2="223.40"/><line x1="280.20" y1="223.40" x2="277.80" y2="223.40"/><line x1="31.80" y1="219.30" x2="33.10" y2="219.30"/><line x1="280.20" y1="219.30" x2="278.90" y2="219.30"/><line x1="31.80" y1="215.20" x2="34.20" y2="215.20"/><line x1="280.20" y1="215.20" x2="277.80" y2="215.20"/><line x1="31.80" y1="211.10" x2="33.10" y2="211.10"/><line x1="280.20" y1="211.10" x2="278.90" y2="211.10"/><line x1="31.80" y1="207.00" x2="34.20" y2="207.00"/><line x1="280.20" y1="207.00" x2="277.80" y2="207.00"/></g>
<rect x="358.5" y="0.4" width="248.39999999999998" height="199.9" fill="none" stroke="#7a7a7a" stroke-width="0.85"/>
<rect x="358.5" y="206.8" width="248.39999999999998" height="49.69999999999999" fill="none" stroke="#7a7a7a" stroke-width="0.85"/>
<g stroke="#666" stroke-width="0.45"><line x1="362.89" y1="200.30" x2="362.89" y2="199.00"/><line x1="362.89" y1="0.40" x2="362.89" y2="1.70"/><line x1="362.89" y1="256.50" x2="362.89" y2="255.20"/><line x1="362.89" y1="206.80" x2="362.89" y2="208.10"/><line x1="369.63" y1="200.30" x2="369.63" y2="199.00"/><line x1="369.63" y1="0.40" x2="369.63" y2="1.70"/><line x1="369.63" y1="256.50" x2="369.63" y2="255.20"/><line x1="369.63" y1="206.80" x2="369.63" y2="208.10"/><line x1="374.86" y1="200.30" x2="374.86" y2="199.00"/><line x1="374.86" y1="0.40" x2="374.86" y2="1.70"/><line x1="374.86" y1="256.50" x2="374.86" y2="255.20"/><line x1="374.86" y1="206.80" x2="374.86" y2="208.10"/><line x1="379.13" y1="200.30" x2="379.13" y2="199.00"/><line x1="379.13" y1="0.40" x2="379.13" y2="1.70"/><line x1="379.13" y1="256.50" x2="379.13" y2="255.20"/><line x1="379.13" y1="206.80" x2="379.13" y2="208.10"/><line x1="382.74" y1="200.30" x2="382.74" y2="199.00"/><line x1="382.74" y1="0.40" x2="382.74" y2="1.70"/><line x1="382.74" y1="256.50" x2="382.74" y2="255.20"/><line x1="382.74" y1="206.80" x2="382.74" y2="208.10"/><line x1="385.87" y1="200.30" x2="385.87" y2="199.00"/><line x1="385.87" y1="0.40" x2="385.87" y2="1.70"/><line x1="385.87" y1="256.50" x2="385.87" y2="255.20"/><line x1="385.87" y1="206.80" x2="385.87" y2="208.10"/><line x1="388.63" y1="200.30" x2="388.63" y2="199.00"/><line x1="388.63" y1="0.40" x2="388.63" y2="1.70"/><line x1="388.63" y1="256.50" x2="388.63" y2="255.20"/><line x1="388.63" y1="206.80" x2="388.63" y2="208.10"/><line x1="391.10" y1="200.30" x2="391.10" y2="197.90"/><line x1="391.10" y1="0.40" x2="391.10" y2="2.80"/><line x1="391.10" y1="256.50" x2="391.10" y2="254.10"/><line x1="391.10" y1="206.80" x2="391.10" y2="209.20"/><line x1="407.34" y1="200.30" x2="407.34" y2="199.00"/><line x1="407.34" y1="0.40" x2="407.34" y2="1.70"/><line x1="407.34" y1="256.50" x2="407.34" y2="255.20"/><line x1="407.34" y1="206.80" x2="407.34" y2="208.10"/><line x1="416.84" y1="200.30" x2="416.84" y2="199.00"/><line x1="416.84" y1="0.40" x2="416.84" y2="1.70"/><line x1="416.84" y1="256.50" x2="416.84" y2="255.20"/><line x1="416.84" y1="206.80" x2="416.84" y2="208.10"/><line x1="423.58" y1="200.30" x2="423.58" y2="199.00"/><line x1="423.58" y1="0.40" x2="423.58" y2="1.70"/><line x1="423.58" y1="256.50" x2="423.58" y2="255.20"/><line x1="423.58" y1="206.80" x2="423.58" y2="208.10"/><line x1="428.81" y1="200.30" x2="428.81" y2="199.00"/><line x1="428.81" y1="0.40" x2="428.81" y2="1.70"/><line x1="428.81" y1="256.50" x2="428.81" y2="255.20"/><line x1="428.81" y1="206.80" x2="428.81" y2="208.10"/><line x1="433.08" y1="200.30" x2="433.08" y2="199.00"/><line x1="433.08" y1="0.40" x2="433.08" y2="1.70"/><line x1="433.08" y1="256.50" x2="433.08" y2="255.20"/><line x1="433.08" y1="206.80" x2="433.08" y2="208.10"/><line x1="436.69" y1="200.30" x2="436.69" y2="199.00"/><line x1="436.69" y1="0.40" x2="436.69" y2="1.70"/><line x1="436.69" y1="256.50" x2="436.69" y2="255.20"/><line x1="436.69" y1="206.80" x2="436.69" y2="208.10"/><line x1="439.82" y1="200.30" x2="439.82" y2="199.00"/><line x1="439.82" y1="0.40" x2="439.82" y2="1.70"/><line x1="439.82" y1="256.50" x2="439.82" y2="255.20"/><line x1="439.82" y1="206.80" x2="439.82" y2="208.10"/><line x1="442.58" y1="200.30" x2="442.58" y2="199.00"/><line x1="442.58" y1="0.40" x2="442.58" y2="1.70"/><line x1="442.58" y1="256.50" x2="442.58" y2="255.20"/><line x1="442.58" y1="206.80" x2="442.58" y2="208.10"/><line x1="445.05" y1="200.30" x2="445.05" y2="197.90"/><line x1="445.05" y1="0.40" x2="445.05" y2="2.80"/><line x1="445.05" y1="256.50" x2="445.05" y2="254.10"/><line x1="445.05" y1="206.80" x2="445.05" y2="209.20"/><line x1="461.29" y1="200.30" x2="461.29" y2="199.00"/><line x1="461.29" y1="0.40" x2="461.29" y2="1.70"/><line x1="461.29" y1="256.50" x2="461.29" y2="255.20"/><line x1="461.29" y1="206.80" x2="461.29" y2="208.10"/><line x1="470.79" y1="200.30" x2="470.79" y2="199.00"/><line x1="470.79" y1="0.40" x2="470.79" y2="1.70"/><line x1="470.79" y1="256.50" x2="470.79" y2="255.20"/><line x1="470.79" y1="206.80" x2="470.79" y2="208.10"/><line x1="477.53" y1="200.30" x2="477.53" y2="199.00"/><line x1="477.53" y1="0.40" x2="477.53" y2="1.70"/><line x1="477.53" y1="256.50" x2="477.53" y2="255.20"/><line x1="477.53" y1="206.80" x2="477.53" y2="208.10"/><line x1="482.76" y1="200.30" x2="482.76" y2="199.00"/><line x1="482.76" y1="0.40" x2="482.76" y2="1.70"/><line x1="482.76" y1="256.50" x2="482.76" y2="255.20"/><line x1="482.76" y1="206.80" x2="482.76" y2="208.10"/><line x1="487.03" y1="200.30" x2="487.03" y2="199.00"/><line x1="487.03" y1="0.40" x2="487.03" y2="1.70"/><line x1="487.03" y1="256.50" x2="487.03" y2="255.20"/><line x1="487.03" y1="206.80" x2="487.03" y2="208.10"/><line x1="490.64" y1="200.30" x2="490.64" y2="199.00"/><line x1="490.64" y1="0.40" x2="490.64" y2="1.70"/><line x1="490.64" y1="256.50" x2="490.64" y2="255.20"/><line x1="490.64" y1="206.80" x2="490.64" y2="208.10"/><line x1="493.77" y1="200.30" x2="493.77" y2="199.00"/><line x1="493.77" y1="0.40" x2="493.77" y2="1.70"/><line x1="493.77" y1="256.50" x2="493.77" y2="255.20"/><line x1="493.77" y1="206.80" x2="493.77" y2="208.10"/><line x1="496.53" y1="200.30" x2="496.53" y2="199.00"/><line x1="496.53" y1="0.40" x2="496.53" y2="1.70"/><line x1="496.53" y1="256.50" x2="496.53" y2="255.20"/><line x1="496.53" y1="206.80" x2="496.53" y2="208.10"/><line x1="499.00" y1="200.30" x2="499.00" y2="197.90"/><line x1="499.00" y1="0.40" x2="499.00" y2="2.80"/><line x1="499.00" y1="256.50" x2="499.00" y2="254.10"/><line x1="499.00" y1="206.80" x2="499.00" y2="209.20"/><line x1="515.24" y1="200.30" x2="515.24" y2="199.00"/><line x1="515.24" y1="0.40" x2="515.24" y2="1.70"/><line x1="515.24" y1="256.50" x2="515.24" y2="255.20"/><line x1="515.24" y1="206.80" x2="515.24" y2="208.10"/><line x1="524.74" y1="200.30" x2="524.74" y2="199.00"/><line x1="524.74" y1="0.40" x2="524.74" y2="1.70"/><line x1="524.74" y1="256.50" x2="524.74" y2="255.20"/><line x1="524.74" y1="206.80" x2="524.74" y2="208.10"/><line x1="531.48" y1="200.30" x2="531.48" y2="199.00"/><line x1="531.48" y1="0.40" x2="531.48" y2="1.70"/><line x1="531.48" y1="256.50" x2="531.48" y2="255.20"/><line x1="531.48" y1="206.80" x2="531.48" y2="208.10"/><line x1="536.71" y1="200.30" x2="536.71" y2="199.00"/><line x1="536.71" y1="0.40" x2="536.71" y2="1.70"/><line x1="536.71" y1="256.50" x2="536.71" y2="255.20"/><line x1="536.71" y1="206.80" x2="536.71" y2="208.10"/><line x1="540.98" y1="200.30" x2="540.98" y2="199.00"/><line x1="540.98" y1="0.40" x2="540.98" y2="1.70"/><line x1="540.98" y1="256.50" x2="540.98" y2="255.20"/><line x1="540.98" y1="206.80" x2="540.98" y2="208.10"/><line x1="544.59" y1="200.30" x2="544.59" y2="199.00"/><line x1="544.59" y1="0.40" x2="544.59" y2="1.70"/><line x1="544.59" y1="256.50" x2="544.59" y2="255.20"/><line x1="544.59" y1="206.80" x2="544.59" y2="208.10"/><line x1="547.72" y1="200.30" x2="547.72" y2="199.00"/><line x1="547.72" y1="0.40" x2="547.72" y2="1.70"/><line x1="547.72" y1="256.50" x2="547.72" y2="255.20"/><line x1="547.72" y1="206.80" x2="547.72" y2="208.10"/><line x1="550.48" y1="200.30" x2="550.48" y2="199.00"/><line x1="550.48" y1="0.40" x2="550.48" y2="1.70"/><line x1="550.48" y1="256.50" x2="550.48" y2="255.20"/><line x1="550.48" y1="206.80" x2="550.48" y2="208.10"/><line x1="552.95" y1="200.30" x2="552.95" y2="197.90"/><line x1="552.95" y1="0.40" x2="552.95" y2="2.80"/><line x1="552.95" y1="256.50" x2="552.95" y2="254.10"/><line x1="552.95" y1="206.80" x2="552.95" y2="209.20"/><line x1="569.19" y1="200.30" x2="569.19" y2="199.00"/><line x1="569.19" y1="0.40" x2="569.19" y2="1.70"/><line x1="569.19" y1="256.50" x2="569.19" y2="255.20"/><line x1="569.19" y1="206.80" x2="569.19" y2="208.10"/><line x1="578.69" y1="200.30" x2="578.69" y2="199.00"/><line x1="578.69" y1="0.40" x2="578.69" y2="1.70"/><line x1="578.69" y1="256.50" x2="578.69" y2="255.20"/><line x1="578.69" y1="206.80" x2="578.69" y2="208.10"/><line x1="585.43" y1="200.30" x2="585.43" y2="199.00"/><line x1="585.43" y1="0.40" x2="585.43" y2="1.70"/><line x1="585.43" y1="256.50" x2="585.43" y2="255.20"/><line x1="585.43" y1="206.80" x2="585.43" y2="208.10"/><line x1="590.66" y1="200.30" x2="590.66" y2="199.00"/><line x1="590.66" y1="0.40" x2="590.66" y2="1.70"/><line x1="590.66" y1="256.50" x2="590.66" y2="255.20"/><line x1="590.66" y1="206.80" x2="590.66" y2="208.10"/><line x1="594.93" y1="200.30" x2="594.93" y2="199.00"/><line x1="594.93" y1="0.40" x2="594.93" y2="1.70"/><line x1="594.93" y1="256.50" x2="594.93" y2="255.20"/><line x1="594.93" y1="206.80" x2="594.93" y2="208.10"/><line x1="598.54" y1="200.30" x2="598.54" y2="199.00"/><line x1="598.54" y1="0.40" x2="598.54" y2="1.70"/><line x1="598.54" y1="256.50" x2="598.54" y2="255.20"/><line x1="598.54" y1="206.80" x2="598.54" y2="208.10"/><line x1="601.67" y1="200.30" x2="601.67" y2="199.00"/><line x1="601.67" y1="0.40" x2="601.67" y2="1.70"/><line x1="601.67" y1="256.50" x2="601.67" y2="255.20"/><line x1="601.67" y1="206.80" x2="601.67" y2="208.10"/><line x1="604.43" y1="200.30" x2="604.43" y2="199.00"/><line x1="604.43" y1="0.40" x2="604.43" y2="1.70"/><line x1="604.43" y1="256.50" x2="604.43" y2="255.20"/><line x1="604.43" y1="206.80" x2="604.43" y2="208.10"/><line x1="606.90" y1="200.30" x2="606.90" y2="197.90"/><line x1="606.90" y1="0.40" x2="606.90" y2="2.80"/><line x1="606.90" y1="256.50" x2="606.90" y2="254.10"/><line x1="606.90" y1="206.80" x2="606.90" y2="209.20"/><line x1="358.50" y1="200.30" x2="360.90" y2="200.30"/><line x1="358.50" y1="189.70" x2="359.80" y2="189.70"/><line x1="358.50" y1="183.50" x2="359.80" y2="183.50"/><line x1="358.50" y1="179.10" x2="359.80" y2="179.10"/><line x1="358.50" y1="175.68" x2="359.80" y2="175.68"/><line x1="358.50" y1="172.89" x2="359.80" y2="172.89"/><line x1="358.50" y1="170.54" x2="359.80" y2="170.54"/><line x1="358.50" y1="168.49" x2="359.80" y2="168.49"/><line x1="358.50" y1="166.69" x2="359.80" y2="166.69"/><line x1="358.50" y1="165.08" x2="360.90" y2="165.08"/><line x1="358.50" y1="154.48" x2="359.80" y2="154.48"/><line x1="358.50" y1="148.28" x2="359.80" y2="148.28"/><line x1="358.50" y1="143.88" x2="359.80" y2="143.88"/><line x1="358.50" y1="140.46" x2="359.80" y2="140.46"/><line x1="358.50" y1="137.67" x2="359.80" y2="137.67"/><line x1="358.50" y1="135.32" x2="359.80" y2="135.32"/><line x1="358.50" y1="133.27" x2="359.80" y2="133.27"/><line x1="358.50" y1="131.47" x2="359.80" y2="131.47"/><line x1="358.50" y1="129.86" x2="360.90" y2="129.86"/><line x1="358.50" y1="119.26" x2="359.80" y2="119.26"/><line x1="358.50" y1="113.06" x2="359.80" y2="113.06"/><line x1="358.50" y1="108.66" x2="359.80" y2="108.66"/><line x1="358.50" y1="105.24" x2="359.80" y2="105.24"/><line x1="358.50" y1="102.45" x2="359.80" y2="102.45"/><line x1="358.50" y1="100.10" x2="359.80" y2="100.10"/><line x1="358.50" y1="98.05" x2="359.80" y2="98.05"/><line x1="358.50" y1="96.25" x2="359.80" y2="96.25"/><line x1="358.50" y1="94.64" x2="360.90" y2="94.64"/><line x1="358.50" y1="84.04" x2="359.80" y2="84.04"/><line x1="358.50" y1="77.84" x2="359.80" y2="77.84"/><line x1="358.50" y1="73.44" x2="359.80" y2="73.44"/><line x1="358.50" y1="70.02" x2="359.80" y2="70.02"/><line x1="358.50" y1="67.23" x2="359.80" y2="67.23"/><line x1="358.50" y1="64.88" x2="359.80" y2="64.88"/><line x1="358.50" y1="62.83" x2="359.80" y2="62.83"/><line x1="358.50" y1="61.03" x2="359.80" y2="61.03"/><line x1="358.50" y1="59.42" x2="360.90" y2="59.42"/><line x1="358.50" y1="48.82" x2="359.80" y2="48.82"/><line x1="358.50" y1="42.62" x2="359.80" y2="42.62"/><line x1="358.50" y1="38.22" x2="359.80" y2="38.22"/><line x1="358.50" y1="34.80" x2="359.80" y2="34.80"/><line x1="358.50" y1="32.01" x2="359.80" y2="32.01"/><line x1="358.50" y1="29.66" x2="359.80" y2="29.66"/><line x1="358.50" y1="27.61" x2="359.80" y2="27.61"/><line x1="358.50" y1="25.81" x2="359.80" y2="25.81"/><line x1="358.50" y1="24.20" x2="360.90" y2="24.20"/><line x1="358.50" y1="13.60" x2="359.80" y2="13.60"/><line x1="358.50" y1="7.40" x2="359.80" y2="7.40"/><line x1="358.50" y1="3.00" x2="359.80" y2="3.00"/><line x1="606.90" y1="11.10" x2="604.50" y2="11.10"/><line x1="606.90" y1="28.13" x2="605.60" y2="28.13"/><line x1="606.90" y1="45.16" x2="604.50" y2="45.16"/><line x1="606.90" y1="62.19" x2="605.60" y2="62.19"/><line x1="606.90" y1="79.22" x2="604.50" y2="79.22"/><line x1="606.90" y1="96.25" x2="605.60" y2="96.25"/><line x1="606.90" y1="113.28" x2="604.50" y2="113.28"/><line x1="606.90" y1="130.31" x2="605.60" y2="130.31"/><line x1="606.90" y1="147.34" x2="604.50" y2="147.34"/><line x1="606.90" y1="164.37" x2="605.60" y2="164.37"/><line x1="606.90" y1="181.40" x2="604.50" y2="181.40"/><line x1="358.50" y1="256.20" x2="360.90" y2="256.20"/><line x1="606.90" y1="256.20" x2="604.50" y2="256.20"/><line x1="358.50" y1="252.10" x2="359.80" y2="252.10"/><line x1="606.90" y1="252.10" x2="605.60" y2="252.10"/><line x1="358.50" y1="248.00" x2="360.90" y2="248.00"/><line x1="606.90" y1="248.00" x2="604.50" y2="248.00"/><line x1="358.50" y1="243.90" x2="359.80" y2="243.90"/><line x1="606.90" y1="243.90" x2="605.60" y2="243.90"/><line x1="358.50" y1="239.80" x2="360.90" y2="239.80"/><line x1="606.90" y1="239.80" x2="604.50" y2="239.80"/><line x1="358.50" y1="235.70" x2="359.80" y2="235.70"/><line x1="606.90" y1="235.70" x2="605.60" y2="235.70"/><line x1="358.50" y1="231.60" x2="360.90" y2="231.60"/><line x1="606.90" y1="231.60" x2="604.50" y2="231.60"/><line x1="358.50" y1="227.50" x2="359.80" y2="227.50"/><line x1="606.90" y1="227.50" x2="605.60" y2="227.50"/><line x1="358.50" y1="223.40" x2="360.90" y2="223.40"/><line x1="606.90" y1="223.40" x2="604.50" y2="223.40"/><line x1="358.50" y1="219.30" x2="359.80" y2="219.30"/><line x1="606.90" y1="219.30" x2="605.60" y2="219.30"/><line x1="358.50" y1="215.20" x2="360.90" y2="215.20"/><line x1="606.90" y1="215.20" x2="604.50" y2="215.20"/><line x1="358.50" y1="211.10" x2="359.80" y2="211.10"/><line x1="606.90" y1="211.10" x2="605.60" y2="211.10"/><line x1="358.50" y1="207.00" x2="360.90" y2="207.00"/><line x1="606.90" y1="207.00" x2="604.50" y2="207.00"/></g>
<text x="23.90" y="203.20" font-size="6.9" text-anchor="end" stroke="#1a1a1a" stroke-width="0.1" font-family="Liberation Serif, serif" fill="#1a1a1a">10</text>
<text x="24.20" y="200.40" font-size="4.7" font-family="Liberation Serif, serif" fill="#1a1a1a">&#8722;6</text>
<text x="23.90" y="167.98" font-size="6.9" text-anchor="end" stroke="#1a1a1a" stroke-width="0.1" font-family="Liberation Serif, serif" fill="#1a1a1a">10</text>
<text x="24.20" y="165.18" font-size="4.7" font-family="Liberation Serif, serif" fill="#1a1a1a">&#8722;5</text>
<text x="23.90" y="132.76" font-size="6.9" text-anchor="end" stroke="#1a1a1a" stroke-width="0.1" font-family="Liberation Serif, serif" fill="#1a1a1a">10</text>
<text x="24.20" y="129.96" font-size="4.7" font-family="Liberation Serif, serif" fill="#1a1a1a">&#8722;4</text>
<text x="23.90" y="97.54" font-size="6.9" text-anchor="end" stroke="#1a1a1a" stroke-width="0.1" font-family="Liberation Serif, serif" fill="#1a1a1a">10</text>
<text x="24.20" y="94.74" font-size="4.7" font-family="Liberation Serif, serif" fill="#1a1a1a">&#8722;3</text>
<text x="23.90" y="62.32" font-size="6.9" text-anchor="end" stroke="#1a1a1a" stroke-width="0.1" font-family="Liberation Serif, serif" fill="#1a1a1a">10</text>
<text x="24.20" y="59.52" font-size="4.7" font-family="Liberation Serif, serif" fill="#1a1a1a">&#8722;2</text>
<text x="23.90" y="27.10" font-size="6.9" text-anchor="end" stroke="#1a1a1a" stroke-width="0.1" font-family="Liberation Serif, serif" fill="#1a1a1a">10</text>
<text x="24.20" y="24.30" font-size="4.7" font-family="Liberation Serif, serif" fill="#1a1a1a">&#8722;1</text>
<text x="282.10" y="13.50" font-size="6.7" stroke="#1a1a1a" stroke-width="0.1" font-family="Liberation Serif, serif" fill="#1a1a1a">10</text>
<text x="282.10" y="47.56" font-size="6.7" stroke="#1a1a1a" stroke-width="0.1" font-family="Liberation Serif, serif" fill="#1a1a1a">12</text>
<text x="282.10" y="81.62" font-size="6.7" stroke="#1a1a1a" stroke-width="0.1" font-family="Liberation Serif, serif" fill="#1a1a1a">14</text>
<text x="282.10" y="115.68" font-size="6.7" stroke="#1a1a1a" stroke-width="0.1" font-family="Liberation Serif, serif" fill="#1a1a1a">16</text>
<text x="282.10" y="149.74" font-size="6.7" stroke="#1a1a1a" stroke-width="0.1" font-family="Liberation Serif, serif" fill="#1a1a1a">18</text>
<text x="282.10" y="183.80" font-size="6.7" stroke="#1a1a1a" stroke-width="0.1" font-family="Liberation Serif, serif" fill="#1a1a1a">20</text>
<text x="63.50" y="264.10" font-size="5.7" text-anchor="middle" font-family="Liberation Serif, serif" fill="#1a1a1a">10</text>
<text x="66.30" y="261.00" font-size="4.2" font-family="Liberation Serif, serif" fill="#1a1a1a">2</text>
<text x="117.45" y="264.10" font-size="5.7" text-anchor="middle" font-family="Liberation Serif, serif" fill="#1a1a1a">10</text>
<text x="120.25" y="261.00" font-size="4.2" font-family="Liberation Serif, serif" fill="#1a1a1a">3</text>
<text x="171.40" y="264.10" font-size="5.7" text-anchor="middle" font-family="Liberation Serif, serif" fill="#1a1a1a">10</text>
<text x="174.20" y="261.00" font-size="4.2" font-family="Liberation Serif, serif" fill="#1a1a1a">4</text>
<text x="225.35" y="264.10" font-size="5.7" text-anchor="middle" font-family="Liberation Serif, serif" fill="#1a1a1a">10</text>
<text x="228.15" y="261.00" font-size="4.2" font-family="Liberation Serif, serif" fill="#1a1a1a">5</text>
<text x="279.30" y="264.10" font-size="5.7" text-anchor="middle" font-family="Liberation Serif, serif" fill="#1a1a1a">10</text>
<text x="282.10" y="261.00" font-size="4.2" font-family="Liberation Serif, serif" fill="#1a1a1a">6</text>
<text x="30.20" y="258.40" font-size="6.4" text-anchor="end" stroke="#1a1a1a" stroke-width="0.12" font-family="Liberation Serif, serif" fill="#1a1a1a">&#8722;6</text>
<text x="30.20" y="250.20" font-size="6.4" text-anchor="end" stroke="#1a1a1a" stroke-width="0.12" font-family="Liberation Serif, serif" fill="#1a1a1a">&#8722;4</text>
<text x="30.20" y="242.00" font-size="6.4" text-anchor="end" stroke="#1a1a1a" stroke-width="0.12" font-family="Liberation Serif, serif" fill="#1a1a1a">&#8722;2</text>
<text x="30.20" y="233.80" font-size="6.4" text-anchor="end" stroke="#1a1a1a" stroke-width="0.12" font-family="Liberation Serif, serif" fill="#1a1a1a">0</text>
<text x="30.20" y="225.60" font-size="6.4" text-anchor="end" stroke="#1a1a1a" stroke-width="0.12" font-family="Liberation Serif, serif" fill="#1a1a1a">2</text>
<text x="30.20" y="217.40" font-size="6.4" text-anchor="end" stroke="#1a1a1a" stroke-width="0.12" font-family="Liberation Serif, serif" fill="#1a1a1a">4</text>
<text x="30.20" y="209.20" font-size="6.4" text-anchor="end" stroke="#1a1a1a" stroke-width="0.12" font-family="Liberation Serif, serif" fill="#1a1a1a">6</text>
<text transform="translate(8.30,103.3) rotate(-90) scale(1,0.9)" font-size="11.9" text-anchor="middle" font-family="Liberation Serif, serif" fill="#1a1a1a" stroke="#1a1a1a" stroke-width="0.06">Flux density (Jy)</text>
<text transform="translate(9.50,233.1) rotate(-90)" font-size="12.2" text-anchor="middle" font-family="Liberation Serif, serif" fill="#1a1a1a" stroke="#1a1a1a" stroke-width="0.06">(data &#8722; model)/&#963;</text>
<text transform="translate(303.30,99.8) rotate(-90)" font-size="11.7" text-anchor="middle" font-family="Liberation Serif, serif" fill="#1a1a1a" stroke="#1a1a1a" stroke-width="0.06">RINGO3 R</text>
<text x="155.80" y="276" font-size="11.5" text-anchor="middle" font-family="Liberation Serif, serif" fill="#1a1a1a" stroke="#1a1a1a" stroke-width="0.06">T &#8722; T<tspan font-size="7.8" dy="2.2">0</tspan><tspan dy="-2.2"> (s)</tspan></text>
<text x="350.60" y="203.20" font-size="6.9" text-anchor="end" stroke="#1a1a1a" stroke-width="0.1" font-family="Liberation Serif, serif" fill="#1a1a1a">10</text>
<text x="350.90" y="200.40" font-size="4.7" font-family="Liberation Serif, serif" fill="#1a1a1a">&#8722;6</text>
<text x="350.60" y="167.98" font-size="6.9" text-anchor="end" stroke="#1a1a1a" stroke-width="0.1" font-family="Liberation Serif, serif" fill="#1a1a1a">10</text>
<text x="350.90" y="165.18" font-size="4.7" font-family="Liberation Serif, serif" fill="#1a1a1a">&#8722;5</text>
<text x="350.60" y="132.76" font-size="6.9" text-anchor="end" stroke="#1a1a1a" stroke-width="0.1" font-family="Liberation Serif, serif" fill="#1a1a1a">10</text>
<text x="350.90" y="129.96" font-size="4.7" font-family="Liberation Serif, serif" fill="#1a1a1a">&#8722;4</text>
<text x="350.60" y="97.54" font-size="6.9" text-anchor="end" stroke="#1a1a1a" stroke-width="0.1" font-family="Liberation Serif, serif" fill="#1a1a1a">10</text>
<text x="350.90" y="94.74" font-size="4.7" font-family="Liberation Serif, serif" fill="#1a1a1a">&#8722;3</text>
<text x="350.60" y="62.32" font-size="6.9" text-anchor="end" stroke="#1a1a1a" stroke-width="0.1" font-family="Liberation Serif, serif" fill="#1a1a1a">10</text>
<text x="350.90" y="59.52" font-size="4.7" font-family="Liberation Serif, serif" fill="#1a1a1a">&#8722;2</text>
<text x="350.60" y="27.10" font-size="6.9" text-anchor="end" stroke="#1a1a1a" stroke-width="0.1" font-family="Liberation Serif, serif" fill="#1a1a1a">10</text>
<text x="350.90" y="24.30" font-size="4.7" font-family="Liberation Serif, serif" fill="#1a1a1a">&#8722;1</text>
<text x="608.80" y="13.50" font-size="6.7" stroke="#1a1a1a" stroke-width="0.1" font-family="Liberation Serif, serif" fill="#1a1a1a">10</text>
<text x="608.80" y="47.56" font-size="6.7" stroke="#1a1a1a" stroke-width="0.1" font-family="Liberation Serif, serif" fill="#1a1a1a">12</text>
<text x="608.80" y="81.62" font-size="6.7" stroke="#1a1a1a" stroke-width="0.1" font-family="Liberation Serif, serif" fill="#1a1a1a">14</text>
<text x="608.80" y="115.68" font-size="6.7" stroke="#1a1a1a" stroke-width="0.1" font-family="Liberation Serif, serif" fill="#1a1a1a">16</text>
<text x="608.80" y="149.74" font-size="6.7" stroke="#1a1a1a" stroke-width="0.1" font-family="Liberation Serif, serif" fill="#1a1a1a">18</text>
<text x="608.80" y="183.80" font-size="6.7" stroke="#1a1a1a" stroke-width="0.1" font-family="Liberation Serif, serif" fill="#1a1a1a">20</text>
<text x="390.20" y="264.10" font-size="5.7" text-anchor="middle" font-family="Liberation Serif, serif" fill="#1a1a1a">10</text>
<text x="393.00" y="261.00" font-size="4.2" font-family="Liberation Serif, serif" fill="#1a1a1a">2</text>
<text x="444.15" y="264.10" font-size="5.7" text-anchor="middle" font-family="Liberation Serif, serif" fill="#1a1a1a">10</text>
<text x="446.95" y="261.00" font-size="4.2" font-family="Liberation Serif, serif" fill="#1a1a1a">3</text>
<text x="498.10" y="264.10" font-size="5.7" text-anchor="middle" font-family="Liberation Serif, serif" fill="#1a1a1a">10</text>
<text x="500.90" y="261.00" font-size="4.2" font-family="Liberation Serif, serif" fill="#1a1a1a">4</text>
<text x="552.05" y="264.10" font-size="5.7" text-anchor="middle" font-family="Liberation Serif, serif" fill="#1a1a1a">10</text>
<text x="554.85" y="261.00" font-size="4.2" font-family="Liberation Serif, serif" fill="#1a1a1a">5</text>
<text x="606.00" y="264.10" font-size="5.7" text-anchor="middle" font-family="Liberation Serif, serif" fill="#1a1a1a">10</text>
<text x="608.80" y="261.00" font-size="4.2" font-family="Liberation Serif, serif" fill="#1a1a1a">6</text>
<text x="356.90" y="258.40" font-size="6.4" text-anchor="end" stroke="#1a1a1a" stroke-width="0.12" font-family="Liberation Serif, serif" fill="#1a1a1a">&#8722;6</text>
<text x="356.90" y="250.20" font-size="6.4" text-anchor="end" stroke="#1a1a1a" stroke-width="0.12" font-family="Liberation Serif, serif" fill="#1a1a1a">&#8722;4</text>
<text x="356.90" y="242.00" font-size="6.4" text-anchor="end" stroke="#1a1a1a" stroke-width="0.12" font-family="Liberation Serif, serif" fill="#1a1a1a">&#8722;2</text>
<text x="356.90" y="233.80" font-size="6.4" text-anchor="end" stroke="#1a1a1a" stroke-width="0.12" font-family="Liberation Serif, serif" fill="#1a1a1a">0</text>
<text x="356.90" y="225.60" font-size="6.4" text-anchor="end" stroke="#1a1a1a" stroke-width="0.12" font-family="Liberation Serif, serif" fill="#1a1a1a">2</text>
<text x="356.90" y="217.40" font-size="6.4" text-anchor="end" stroke="#1a1a1a" stroke-width="0.12" font-family="Liberation Serif, serif" fill="#1a1a1a">4</text>
<text x="356.90" y="209.20" font-size="6.4" text-anchor="end" stroke="#1a1a1a" stroke-width="0.12" font-family="Liberation Serif, serif" fill="#1a1a1a">6</text>
<text transform="translate(335.00,103.3) rotate(-90) scale(1,0.9)" font-size="11.9" text-anchor="middle" font-family="Liberation Serif, serif" fill="#1a1a1a" stroke="#1a1a1a" stroke-width="0.06">Flux density (Jy)</text>
<text transform="translate(336.20,233.1) rotate(-90)" font-size="12.2" text-anchor="middle" font-family="Liberation Serif, serif" fill="#1a1a1a" stroke="#1a1a1a" stroke-width="0.06">(data &#8722; model)/&#963;</text>
<text transform="translate(630.00,99.8) rotate(-90)" font-size="11.7" text-anchor="middle" font-family="Liberation Serif, serif" fill="#1a1a1a" stroke="#1a1a1a" stroke-width="0.06">RINGO3 R</text>
<text x="482.50" y="276" font-size="11.5" text-anchor="middle" font-family="Liberation Serif, serif" fill="#1a1a1a" stroke="#1a1a1a" stroke-width="0.06">T &#8722; T<tspan font-size="7.8" dy="2.2">0</tspan><tspan dy="-2.2"> (s)</tspan></text>
<circle cx="144.80" cy="10.30" r="1.8" fill="#9370db"/>
<circle cx="150.00" cy="9.40" r="1.8" fill="#9370db"/>
<circle cx="155.00" cy="10.50" r="1.8" fill="#9370db"/>
<text x="163.30" y="12.60" font-family="Liberation Serif, serif" fill="#111" stroke="#111" stroke-width="0.1" font-size="7.4">V</text>
<circle cx="144.80" cy="20.40" r="1.8" fill="#8a2be2"/>
<circle cx="150.00" cy="19.50" r="1.8" fill="#8a2be2"/>
<circle cx="155.00" cy="20.60" r="1.8" fill="#8a2be2"/>
<text x="163.30" y="22.70" font-family="Liberation Serif, serif" fill="#111" stroke="#111" stroke-width="0.1" font-size="7.4">g</text>
<circle cx="144.80" cy="30.50" r="1.8" fill="#00006e"/>
<circle cx="150.00" cy="29.60" r="1.8" fill="#00006e"/>
<circle cx="155.00" cy="30.70" r="1.8" fill="#00006e"/>
<text x="163.30" y="32.80" font-family="Liberation Serif, serif" fill="#111" stroke="#111" stroke-width="0.1" font-size="7.4">RINGO3&#160;&#160;BV</text>
<circle cx="144.80" cy="40.60" r="1.45" fill="#c4c4c4" stroke="#555" stroke-width="0.7"/>
<circle cx="150.00" cy="39.70" r="1.45" fill="#c4c4c4" stroke="#555" stroke-width="0.7"/>
<circle cx="155.00" cy="40.80" r="1.45" fill="#c4c4c4" stroke="#555" stroke-width="0.7"/>
<text x="163.30" y="42.90" font-family="Liberation Serif, serif" fill="#111" stroke="#111" stroke-width="0.1" font-size="7.4">MASTER r</text>
<circle cx="144.80" cy="50.70" r="1.45" fill="#f4fafa" stroke="#9cc" stroke-width="0.7"/>
<circle cx="150.00" cy="49.80" r="1.45" fill="#f4fafa" stroke="#9cc" stroke-width="0.7"/>
<circle cx="155.00" cy="50.90" r="1.45" fill="#f4fafa" stroke="#9cc" stroke-width="0.7"/>
<text x="163.30" y="53.00" font-family="Liberation Serif, serif" fill="#111" stroke="#111" stroke-width="0.1" font-size="7.4">IO : O r</text>
<circle cx="144.80" cy="60.80" r="1.8" fill="#1e9e50"/>
<circle cx="150.00" cy="59.90" r="1.8" fill="#1e9e50"/>
<circle cx="155.00" cy="61.00" r="1.8" fill="#1e9e50"/>
<text x="163.30" y="63.10" font-family="Liberation Serif, serif" fill="#111" stroke="#111" stroke-width="0.1" font-size="7.4">r</text>
<circle cx="219.80" cy="10.30" r="1.8" fill="#2cae64"/>
<circle cx="225.00" cy="9.40" r="1.8" fill="#2cae64"/>
<circle cx="230.00" cy="10.50" r="1.8" fill="#2cae64"/>
<text x="238.20" y="12.60" font-family="Liberation Serif, serif" fill="#111" stroke="#111" stroke-width="0.1" font-size="7.4">R</text>
<circle cx="219.80" cy="20.40" r="1.8" fill="#22a060"/>
<circle cx="225.00" cy="19.50" r="1.8" fill="#22a060"/>
<circle cx="230.00" cy="20.60" r="1.8" fill="#22a060"/>
<text x="238.20" y="22.70" font-family="Liberation Serif, serif" fill="#111" stroke="#111" stroke-width="0.1" font-size="7.4">RINGO3&#160;&#160;R</text>
<circle cx="219.80" cy="30.50" r="1.8" fill="#ff9900"/>
<circle cx="225.00" cy="29.60" r="1.8" fill="#ff9900"/>
<circle cx="230.00" cy="30.70" r="1.8" fill="#ff9900"/>
<text x="238.20" y="32.80" font-family="Liberation Serif, serif" fill="#111" stroke="#111" stroke-width="0.1" font-size="7.4">i</text>
<circle cx="219.80" cy="40.60" r="1.8" fill="#c8a070"/>
<circle cx="225.00" cy="39.70" r="1.8" fill="#c8a070"/>
<circle cx="230.00" cy="40.80" r="1.8" fill="#c8a070"/>
<text x="238.20" y="42.90" font-family="Liberation Serif, serif" fill="#111" stroke="#111" stroke-width="0.1" font-size="7.4">I</text>
<circle cx="219.80" cy="50.70" r="1.8" fill="#ff0000"/>
<circle cx="225.00" cy="49.80" r="1.8" fill="#ff0000"/>
<circle cx="230.00" cy="50.90" r="1.8" fill="#ff0000"/>
<text x="238.20" y="53.00" font-family="Liberation Serif, serif" fill="#111" stroke="#111" stroke-width="0.1" font-size="7.4">RINGO3&#160;&#160;I</text>
<circle cx="219.80" cy="60.80" r="1.8" fill="#ff7030"/>
<circle cx="225.00" cy="59.90" r="1.8" fill="#ff7030"/>
<circle cx="230.00" cy="61.00" r="1.8" fill="#ff7030"/>
<text x="238.20" y="63.10" font-family="Liberation Serif, serif" fill="#111" stroke="#111" stroke-width="0.1" font-size="7.4">z</text>
<line x1="42" y1="162.3" x2="54" y2="162.3" stroke="#444" stroke-width="0.8" stroke-dasharray="2 1.3 0.7 1.3"/>
<line x1="42" y1="174.9" x2="54" y2="174.9" stroke="#aaa" stroke-width="0.8" stroke-dasharray="0.8 1.2"/>
<line x1="42" y1="187.8" x2="55" y2="187.8" stroke="#333" stroke-width="0.9"/>
<text x="64.6" y="165.8" font-family="Liberation Serif, serif" fill="#1a1a1a" stroke="#1a1a1a" stroke-width="0.08" font-size="9.4">RS</text>
<text x="64.6" y="178.2" font-family="Liberation Serif, serif" fill="#1a1a1a" stroke="#1a1a1a" stroke-width="0.08" font-size="9.4">FS</text>
<text x="64.6" y="190.9" font-family="Liberation Serif, serif" fill="#1a1a1a" stroke="#1a1a1a" stroke-width="0.08" font-size="9.4" word-spacing="0.1">RS + FS</text>
<circle cx="471.50" cy="10.30" r="1.8" fill="#9370db"/>
<circle cx="476.70" cy="9.40" r="1.8" fill="#9370db"/>
<circle cx="481.70" cy="10.50" r="1.8" fill="#9370db"/>
<text x="490.00" y="12.60" font-family="Liberation Serif, serif" fill="#111" stroke="#111" stroke-width="0.1" font-size="7.4">V</text>
<circle cx="471.50" cy="20.40" r="1.8" fill="#8a2be2"/>
<circle cx="476.70" cy="19.50" r="1.8" fill="#8a2be2"/>
<circle cx="481.70" cy="20.60" r="1.8" fill="#8a2be2"/>
<text x="490.00" y="22.70" font-family="Liberation Serif, serif" fill="#111" stroke="#111" stroke-width="0.1" font-size="7.4">g</text>
<circle cx="471.50" cy="30.50" r="1.8" fill="#00006e"/>
<circle cx="476.70" cy="29.60" r="1.8" fill="#00006e"/>
<circle cx="481.70" cy="30.70" r="1.8" fill="#00006e"/>
<text x="490.00" y="32.80" font-family="Liberation Serif, serif" fill="#111" stroke="#111" stroke-width="0.1" font-size="7.4">RINGO3&#160;&#160;BV</text>
<circle cx="471.50" cy="40.60" r="1.45" fill="#c4c4c4" stroke="#555" stroke-width="0.7"/>
<circle cx="476.70" cy="39.70" r="1.45" fill="#c4c4c4" stroke="#555" stroke-width="0.7"/>
<circle cx="481.70" cy="40.80" r="1.45" fill="#c4c4c4" stroke="#555" stroke-width="0.7"/>
<text x="490.00" y="42.90" font-family="Liberation Serif, serif" fill="#111" stroke="#111" stroke-width="0.1" font-size="7.4">MASTER r</text>
<circle cx="471.50" cy="50.70" r="1.45" fill="#f4fafa" stroke="#9cc" stroke-width="0.7"/>
<circle cx="476.70" cy="49.80" r="1.45" fill="#f4fafa" stroke="#9cc" stroke-width="0.7"/>
<circle cx="481.70" cy="50.90" r="1.45" fill="#f4fafa" stroke="#9cc" stroke-width="0.7"/>
<text x="490.00" y="53.00" font-family="Liberation Serif, serif" fill="#111" stroke="#111" stroke-width="0.1" font-size="7.4">IO : O r</text>
<circle cx="471.50" cy="60.80" r="1.8" fill="#1e9e50"/>
<circle cx="476.70" cy="59.90" r="1.8" fill="#1e9e50"/>
<circle cx="481.70" cy="61.00" r="1.8" fill="#1e9e50"/>
<text x="490.00" y="63.10" font-family="Liberation Serif, serif" fill="#111" stroke="#111" stroke-width="0.1" font-size="7.4">r</text>
<circle cx="546.50" cy="10.30" r="1.8" fill="#2cae64"/>
<circle cx="551.70" cy="9.40" r="1.8" fill="#2cae64"/>
<circle cx="556.70" cy="10.50" r="1.8" fill="#2cae64"/>
<text x="564.90" y="12.60" font-family="Liberation Serif, serif" fill="#111" stroke="#111" stroke-width="0.1" font-size="7.4">R</text>
<circle cx="546.50" cy="20.40" r="1.8" fill="#22a060"/>
<circle cx="551.70" cy="19.50" r="1.8" fill="#22a060"/>
<circle cx="556.70" cy="20.60" r="1.8" fill="#22a060"/>
<text x="564.90" y="22.70" font-family="Liberation Serif, serif" fill="#111" stroke="#111" stroke-width="0.1" font-size="7.4">RINGO3&#160;&#160;R</text>
<circle cx="546.50" cy="30.50" r="1.8" fill="#ff9900"/>
<circle cx="551.70" cy="29.60" r="1.8" fill="#ff9900"/>
<circle cx="556.70" cy="30.70" r="1.8" fill="#ff9900"/>
<text x="564.90" y="32.80" font-family="Liberation Serif, serif" fill="#111" stroke="#111" stroke-width="0.1" font-size="7.4">i</text>
<circle cx="546.50" cy="40.60" r="1.8" fill="#c8a070"/>
<circle cx="551.70" cy="39.70" r="1.8" fill="#c8a070"/>
<circle cx="556.70" cy="40.80" r="1.8" fill="#c8a070"/>
<text x="564.90" y="42.90" font-family="Liberation Serif, serif" fill="#111" stroke="#111" stroke-width="0.1" font-size="7.4">I</text>
<circle cx="546.50" cy="50.70" r="1.8" fill="#ff0000"/>
<circle cx="551.70" cy="49.80" r="1.8" fill="#ff0000"/>
<circle cx="556.70" cy="50.90" r="1.8" fill="#ff0000"/>
<text x="564.90" y="53.00" font-family="Liberation Serif, serif" fill="#111" stroke="#111" stroke-width="0.1" font-size="7.4">RINGO3&#160;&#160;I</text>
<circle cx="546.50" cy="60.80" r="1.8" fill="#ff7030"/>
<circle cx="551.70" cy="59.90" r="1.8" fill="#ff7030"/>
<circle cx="556.70" cy="61.00" r="1.8" fill="#ff7030"/>
<text x="564.90" y="63.10" font-family="Liberation Serif, serif" fill="#111" stroke="#111" stroke-width="0.1" font-size="7.4">z</text>
<line x1="368.7" y1="162.3" x2="380.7" y2="162.3" stroke="#444" stroke-width="0.8" stroke-dasharray="2 1.3 0.7 1.3"/>
<line x1="368.7" y1="174.9" x2="380.7" y2="174.9" stroke="#aaa" stroke-width="0.8" stroke-dasharray="0.8 1.2"/>
<line x1="368.7" y1="187.8" x2="381.7" y2="187.8" stroke="#333" stroke-width="0.9"/>
<text x="391.29999999999995" y="165.8" font-family="Liberation Serif, serif" fill="#1a1a1a" stroke="#1a1a1a" stroke-width="0.08" font-size="9.4">RS</text>
<text x="391.29999999999995" y="178.2" font-family="Liberation Serif, serif" fill="#1a1a1a" stroke="#1a1a1a" stroke-width="0.08" font-size="9.4">FS</text>
<text x="391.29999999999995" y="190.9" font-family="Liberation Serif, serif" fill="#1a1a1a" stroke="#1a1a1a" stroke-width="0.08" font-size="9.4" word-spacing="0.1">RS + FS</text>
</svg>
</body></html>
